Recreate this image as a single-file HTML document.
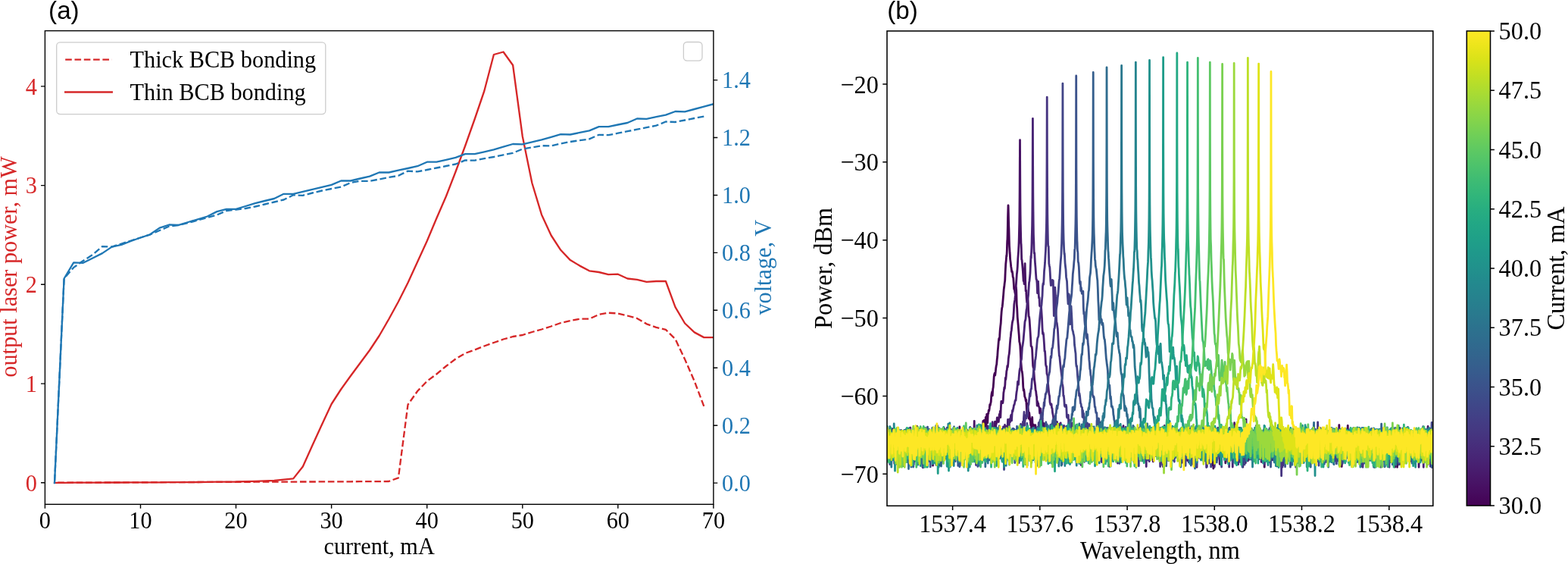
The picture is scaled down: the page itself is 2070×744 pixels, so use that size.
<!DOCTYPE html>
<html><head><meta charset="utf-8"><title>Figure</title>
<style>html,body{margin:0;padding:0;background:#fff;}svg{display:block;}.s{font-family:'Liberation Serif','Times New Roman',serif;}.a{font-family:'Liberation Sans',Arial,sans-serif;}</style>
</head><body>
<svg width="2070" height="744" viewBox="0 0 2070 744">
<defs><clipPath id="ca"><rect x="59.4" y="40.6" width="882.5" height="624.6999999999999"/></clipPath>
<clipPath id="cb"><rect x="1171.0" y="40.9" width="720.8" height="626.4"/></clipPath>
<linearGradient id="vg" x1="0" y1="0" x2="0" y2="1"><stop offset="0.000" stop-color="#fde725"/><stop offset="0.031" stop-color="#ece51b"/><stop offset="0.062" stop-color="#d8e219"/><stop offset="0.094" stop-color="#c2df23"/><stop offset="0.125" stop-color="#addc30"/><stop offset="0.156" stop-color="#98d83e"/><stop offset="0.188" stop-color="#84d44b"/><stop offset="0.219" stop-color="#70cf57"/><stop offset="0.250" stop-color="#5ec962"/><stop offset="0.281" stop-color="#4ec36b"/><stop offset="0.312" stop-color="#3fbc73"/><stop offset="0.344" stop-color="#32b67a"/><stop offset="0.375" stop-color="#28ae80"/><stop offset="0.406" stop-color="#22a785"/><stop offset="0.438" stop-color="#1fa088"/><stop offset="0.469" stop-color="#1f988b"/><stop offset="0.500" stop-color="#21918c"/><stop offset="0.531" stop-color="#23898e"/><stop offset="0.562" stop-color="#26828e"/><stop offset="0.594" stop-color="#297a8e"/><stop offset="0.625" stop-color="#2c728e"/><stop offset="0.656" stop-color="#2f6b8e"/><stop offset="0.688" stop-color="#33638d"/><stop offset="0.719" stop-color="#375b8d"/><stop offset="0.750" stop-color="#3b528b"/><stop offset="0.781" stop-color="#3e4989"/><stop offset="0.812" stop-color="#424086"/><stop offset="0.844" stop-color="#453781"/><stop offset="0.875" stop-color="#472d7b"/><stop offset="0.906" stop-color="#482374"/><stop offset="0.938" stop-color="#48186a"/><stop offset="0.969" stop-color="#470d60"/><stop offset="1.000" stop-color="#440154"/></linearGradient></defs>
<rect width="2070" height="744" fill="#fff"/>
<path d="M72 636.8 L84.6 636.7 L97.2 636.7 L109.8 636.6 L122.4 636.6 L135 636.5 L147.7 636.5 L160.3 636.4 L172.9 636.4 L185.5 636.3 L198.1 636.2 L210.7 636.2 L223.3 636.1 L235.9 636.1 L248.5 636 L261.1 636 L273.7 635.9 L286.3 635.9 L298.9 635.8 L311.5 635.8 L324.1 635.8 L336.8 635.7 L349.4 635.7 L362 635.6 L374.6 635.6 L387.2 635.6 L399.8 635.5 L412.4 635.5 L425 635.4 L437.6 635.4 L450.2 635.3 L462.8 635.3 L475.4 635.2 L488 635.1 L500.6 635.1 L513.3 635 L525.9 630.3 L538.5 533.8 L551.1 516 L563.7 502.8 L576.3 493.5 L588.9 483 L601.5 473.5 L614.1 466 L626.7 461.5 L639.3 456.5 L651.9 452 L664.5 447.5 L677.1 444 L689.8 442 L702.4 438 L715 434.5 L727.6 430.5 L740.2 426 L752.8 423 L765.4 420.7 L778 420.7 L790.6 414.9 L803.2 412.7 L815.8 413.5 L828.4 416.5 L841 420 L853.6 427.3 L866.3 431.8 L878.9 434.9 L891.5 447.3 L904.1 473.9 L916.7 502.7 L929.3 536" fill="none" stroke="#d62728" stroke-width="2.33" stroke-linejoin="round" stroke-dasharray="8.6 3.7" stroke-linecap="butt" stroke-dashoffset="8.15" clip-path="url(#ca)"/>
<path d="M72 636.8 L84.6 636.8 L97.2 636.7 L109.8 636.6 L122.4 636.6 L135 636.6 L147.7 636.5 L160.3 636.5 L172.9 636.4 L185.5 636.4 L198.1 636.3 L210.7 636.3 L223.3 636.2 L235.9 636.2 L248.5 636.1 L261.1 636 L273.7 635.9 L286.3 635.7 L298.9 635.6 L311.5 635.5 L324.1 635.1 L336.8 634.8 L349.4 634.4 L362 634 L374.6 632.7 L387.2 631.4 L399.8 615.5 L412.4 587.5 L425 560 L437.6 533 L450.2 513.5 L462.8 496 L475.4 479 L488 462 L500.6 443 L513.3 421 L525.9 398 L538.5 373 L551.1 345.5 L563.7 318 L576.3 288 L588.9 259 L601.5 226.5 L614.1 192.5 L626.7 157 L639.3 120 L651.9 72 L664.5 68.5 L677.1 86 L689.8 180 L702.4 241.5 L715 283.2 L727.6 310.5 L740.2 329.8 L752.8 343.1 L765.4 350.6 L778 357.3 L790.6 359 L803.2 362.2 L815.8 361.7 L828.4 367.5 L841 368.8 L853.6 371.9 L866.3 371 L878.9 371 L891.5 405.2 L904.1 426.5 L916.7 438.4 L929.3 445.1 L941.9 445.1" fill="none" stroke="#d62728" stroke-width="2.33" stroke-linejoin="round" stroke-linecap="square" clip-path="url(#ca)"/>
<rect x="74.7" y="55.8" width="355.1" height="94.8" rx="4.5" fill="#fff" fill-opacity="0.8" stroke="#cccccc" stroke-width="1.3"/>
<line x1="86.2" y1="78.6" x2="147.8" y2="78.6" stroke="#d62728" stroke-width="2.33" stroke-dasharray="8.6 3.7"/>
<line x1="86.2" y1="121.5" x2="147.8" y2="121.5" stroke="#d62728" stroke-width="2.33" stroke-linecap="square"/>
<text class="s" transform="translate(171.5 89.2) scale(1 1.07)" font-size="30.3">Thick BCB bonding</text>
<text class="s" transform="translate(171.5 131.8) scale(1 1.07)" font-size="30.3">Thin BCB bonding</text>
<path d="M72 637.1 L84.6 367.5 L97.2 352.9 L109.8 344 L122.4 336 L135 325.1 L147.7 325.6 L160.3 321.5 L172.9 317.5 L185.5 313.5 L198.1 309.5 L210.7 304 L223.3 298.5 L235.9 297 L248.5 294 L261.1 290.5 L273.7 287 L286.3 283.5 L298.9 278 L311.5 276.5 L324.1 275 L336.8 272.5 L349.4 269.5 L362 266.5 L374.6 263.5 L387.2 257.3 L399.8 257.8 L412.4 254.5 L425 251.5 L437.6 249 L450.2 246.5 L462.8 241.1 L475.4 238.8 L488 238.8 L500.6 236.5 L513.3 234 L525.9 231.8 L538.5 225.6 L551.1 226.4 L563.7 224 L576.3 221.5 L588.9 219 L601.5 216.5 L614.1 211.4 L626.7 211.7 L639.3 209.1 L651.9 207 L664.5 204.4 L677.1 201.8 L689.8 196.6 L702.4 194.4 L715 192.2 L727.6 192.5 L740.2 189.5 L752.8 187 L765.4 185.2 L778 183.4 L790.6 177.8 L803.2 178.2 L815.8 175.7 L828.4 173.2 L841 170.7 L853.6 168.2 L866.3 165.7 L878.9 160.5 L891.5 161 L904.1 158.5 L916.7 156 L929.3 153.6" fill="none" stroke="#1f77b4" stroke-width="2.33" stroke-linejoin="round" stroke-dasharray="8.6 3.7" stroke-linecap="butt" stroke-dashoffset="9.50" clip-path="url(#ca)"/>
<path d="M72 637.1 L84.6 367.5 L97.2 346.3 L109.8 346.8 L122.4 340.5 L135 334.1 L147.7 325.6 L160.3 322.8 L172.9 318 L185.5 313.5 L198.1 309.3 L210.7 300.6 L223.3 296.5 L235.9 296.8 L248.5 293 L261.1 289.3 L273.7 285.5 L286.3 279.1 L298.9 275.8 L311.5 275.8 L324.1 272 L336.8 268.2 L349.4 265 L362 262 L374.6 255.8 L387.2 255.8 L399.8 252.8 L412.4 249.9 L425 246.9 L437.6 243.9 L450.2 238.5 L462.8 238.5 L475.4 235.5 L488 232.6 L500.6 227.5 L513.3 227.5 L525.9 224.7 L538.5 222 L551.1 219.2 L563.7 213.7 L576.3 213.7 L588.9 210.8 L601.5 207.9 L614.1 203.2 L626.7 203.2 L639.3 200.3 L651.9 197.4 L664.5 193.7 L677.1 190 L689.8 190.4 L702.4 187.4 L715 184.4 L727.6 180.8 L740.2 177.2 L752.8 177.5 L765.4 174.9 L778 172.3 L790.6 167.1 L803.2 167.1 L815.8 164.5 L828.4 162 L841 156.5 L853.6 156.8 L866.3 154.2 L878.9 151.7 L891.5 147 L904.1 147.3 L916.7 144 L929.3 140.6 L941.9 137.2 L954.5 133.8" fill="none" stroke="#1f77b4" stroke-width="2.33" stroke-linejoin="round" stroke-linecap="square" clip-path="url(#ca)"/>
<rect x="902.4" y="55.5" width="24.6" height="24.6" rx="4.5" fill="#fff" fill-opacity="0.8" stroke="#cccccc" stroke-width="1.3"/>
<rect x="59.4" y="40.6" width="882.5" height="624.6999999999999" fill="none" stroke="#000" stroke-width="1.4" stroke-linejoin="miter"/>
<path d="M59.4 665.3 v5.4 M185.5 665.3 v5.4 M311.5 665.3 v5.4 M437.6 665.3 v5.4 M563.7 665.3 v5.4 M689.8 665.3 v5.4 M815.8 665.3 v5.4 M941.9 665.3 v5.4 M59.4 636.8 h-5.4 M59.4 506.1 h-5.4 M59.4 375.3 h-5.4 M59.4 244.6 h-5.4 M59.4 113.9 h-5.4 M941.9 637.1 h5.4 M941.9 561.2 h5.4 M941.9 485.2 h5.4 M941.9 409.3 h5.4 M941.9 333.4 h5.4 M941.9 257.5 h5.4 M941.9 181.5 h5.4 M941.9 105.6 h5.4" stroke="#000" stroke-width="1.4" fill="none"/>
<text class="s" transform="translate(59.4 697.3) scale(1 1.07)" font-size="30.3" text-anchor="middle">0</text>
<text class="s" transform="translate(185.5 697.3) scale(1 1.07)" font-size="30.3" text-anchor="middle">10</text>
<text class="s" transform="translate(311.5 697.3) scale(1 1.07)" font-size="30.3" text-anchor="middle">20</text>
<text class="s" transform="translate(437.6 697.3) scale(1 1.07)" font-size="30.3" text-anchor="middle">30</text>
<text class="s" transform="translate(563.7 697.3) scale(1 1.07)" font-size="30.3" text-anchor="middle">40</text>
<text class="s" transform="translate(689.8 697.3) scale(1 1.07)" font-size="30.3" text-anchor="middle">50</text>
<text class="s" transform="translate(815.8 697.3) scale(1 1.07)" font-size="30.3" text-anchor="middle">60</text>
<text class="s" transform="translate(941.9 697.3) scale(1 1.07)" font-size="30.3" text-anchor="middle">70</text>
<text class="s" transform="translate(49 647.6) scale(1 1.07)" font-size="30.3" text-anchor="end" fill="#d62728">0</text>
<text class="s" transform="translate(49 516.9) scale(1 1.07)" font-size="30.3" text-anchor="end" fill="#d62728">1</text>
<text class="s" transform="translate(49 386.1) scale(1 1.07)" font-size="30.3" text-anchor="end" fill="#d62728">2</text>
<text class="s" transform="translate(49 255.4) scale(1 1.07)" font-size="30.3" text-anchor="end" fill="#d62728">3</text>
<text class="s" transform="translate(49 124.7) scale(1 1.07)" font-size="30.3" text-anchor="end" fill="#d62728">4</text>
<text class="s" transform="translate(953 647.9) scale(1 1.07)" font-size="30.3" fill="#1f77b4">0.0</text>
<text class="s" transform="translate(953 572) scale(1 1.07)" font-size="30.3" fill="#1f77b4">0.2</text>
<text class="s" transform="translate(953 496) scale(1 1.07)" font-size="30.3" fill="#1f77b4">0.4</text>
<text class="s" transform="translate(953 420.1) scale(1 1.07)" font-size="30.3" fill="#1f77b4">0.6</text>
<text class="s" transform="translate(953 344.2) scale(1 1.07)" font-size="30.3" fill="#1f77b4">0.8</text>
<text class="s" transform="translate(953 268.3) scale(1 1.07)" font-size="30.3" fill="#1f77b4">1.0</text>
<text class="s" transform="translate(953 192.3) scale(1 1.07)" font-size="30.3" fill="#1f77b4">1.2</text>
<text class="s" transform="translate(953 116.4) scale(1 1.07)" font-size="30.3" fill="#1f77b4">1.4</text>
<text class="s" transform="translate(500.6 730.7) scale(1 1.07)" font-size="30.3" text-anchor="middle">current, mA</text>
<text class="s" transform="translate(21.5 352) rotate(-90) scale(1 1.07)" font-size="30.3" text-anchor="middle" fill="#d62728">output laser power, mW</text>
<text class="s" transform="translate(1018.2 352.8) rotate(-90) scale(1 1.07)" font-size="30.3" text-anchor="middle" fill="#1f77b4">voltage, V</text>
<text class="a" transform="translate(64.1 24.8)" font-size="33.2">(a)</text>
<path d="M1169.5 593.2l.3-17 .4 25 .3-34.7 .3 9.7 .4 16.9 .3-20 .3-1.5 .4 .5 .3 5.5 .3 17.6 .4-5.5 .3-20.4 .3 12.6 .4 7.4 .3-5 .3 16 .4-15.3 .3-7.5 .3 28.4 .4-36.1 .3 21.8 .3-18.9 .4 3.5 .3-5.9 .3 6.6 .4 26.9 .3-8.5 .3-17.5 .4 12.8 .3-18.1 .3 28.4 .4-26 .3 9 .3-7.6 .4-2.1 .3 31.3 .3-18.2 .4-10.7 .3 1.7 .3 18.9 .4-11 .3-5.7 .3 4.2 .4-8.9 .3-5.2 .3 5.3 .4 20.1 .3-4.2 .3-16.5 .4-1.7 .3 14.6 .3-1.9 .4 22.4 .3-36.3 .3 7.3 .4 6 .3-10.6 .3 1.3 .4-4.7 .3 19 .3-13 .4 14.9 .3-13.8 .3 6.8 .4 12.2 .3-5.8 .3-16.1 .4 13 .3-9.2 .3 29.8 .4-32.6 .3 27.7 .3-19.1 .4-7.6 .3-10.4 .3 9.8 .4 13.6 .3-5.5 .3 5.5 .4-14.3 .3 6.7 .3-9.2 .4 1.1 .3 13.9 .3-11.5 .4-1.7 .3 19.7 .3-5 .4-13.1 .3 4.6 .3-7.6 .4 1 .3 9.6 .3-11.8 .4 .2 .3 1.2 .3-10.5 .4 23.8 .3 11.6 .3-25.8 .4 13.1 .3 .5 .3-14.4 .4 10.6 .3 25.8 .3-37.6 .4 29.2 .3-10.7 .3-13.4 .4-4.2 .3 4.3 .3-2.7 .4 20.7 .3-17.6 .3 6.3 .4-8.2 .3 .4 .3 14.4 .4-4 .3-16.4 .3 4.4 .4-.1 .3-11.8 .3 14.5 .4 21.3 .3-14 .3-2.8 .4-3.5 .3 28.8 .3-35.8 .4 16.3 .3-12.6 .3 33.2 .4-31.2 .3 13.2 .3-17.3 .4 16.2 .3-16.5 .3 0 .4 20.8 .3-1.6 .3-3.2 .4-9.1 .3-2 .3 14.2 .4-6.6 .3-4.3 .3 12.7 .4-3.1 .3-13 .3-1.1 .4-2.4 .3 14.5 .3-16 .4-1.1 .3 5.6 .3 1.6 .4-2.6 .3 8 .3-4.7 .4 9.6 .3-6.6 .3-.7 .4-1.3 .3-2.5 .3-4.3 .4 .2 .3 21.9 .3-17.2 .4 1.2 .3-5.2 .3-1.4 .4 9.9 .3 1.1 .3 19.9 .4-34.8 .3 7.2 .3 2.6 .4 16.2 .3-15.4 .3 4.4 .4 4.6 .3-7.5 .3 18 .4-10.2 .3 25.7 .3-37.1 .4-7.8 .3 33 .3-26.4 .4 3.6 .3 5.7 .3-11 .4 22.5 .3-19.9 .3 8.7 .4-4 .3 19.6 .3-19.5 .4-5.6 .3 2.6 .3 24.4 .4-29.9 .3 3.5 .3 .3 .4-2.2 .3 11.4 .3-12.9 .4 3.3 .3 6.6 .3-3.5 .4-5.7 .3-7.1 .3 19.1 .4 28.2 .3-37.4 .3 13.3 .4-7.6 .3 2.9 .3-9.6 .4 2 .3 11.9 .3-6.2 .4 5.6 .3-6.4 .3-1.5 .4-7.1 .3 23 .3-25.1 .4 20.6 .3-16.9 .3-10.2 .4 14.7 .3-8.8 .3 5.2 .4 7.7 .3-13 .3 25.5 .4-22 .3 6 .3-7.1 .4-.4 .3-9.1 .3 14.1 .4-6 .3 21.3 .3-20.8 .4-1.2 .3 12.8 .3-7.9 .4-10.9 .3 5.2 .3 5.7 .4 3.3 .3 1.8 .3 7.5 .4 10.9 .3-29.6 .3 1 .4 1.7 .3 8.6 .3-9.6 .4-1.7 .3 7 .3-2.4 .4 18 .3-17.3 .3-6.9 .4 2.8 .3 .4 .3 2.1 .4 9.1 .3 6.9 .3-4.1 .4-8 .3 2.7 .3-7.3 .4 20.5 .3-20.1 .3 21.5 .4-16.9 .3 .8 .3-6.6 .4 8.6 .3-2.1 .3-3.4 .4 9.2 .3-13.6 .3 9.9 .4-4.1 .3-5.3 .3-8.7 .4 15.9 .3-7 .3 1.6 .4 6.7 .3-11.2 .3 14 .4-13.5 .3 1.6 .3 4.8 .4 3.6 .3-6.5 .3 27.5 .4-6.9 .3-23.6 .3 14.4 .4-10.9 .3-1.3 .3 14.5 .4-15.7 .3 22.1 .3-16.2 .4 1.4 .3 23.4 .3-31.5 .4 24.7 .3-3.9 .3-18.7 .4 19.7 .3-16.7 .3 7.8 .4 .2 .3 5.1 .3-6.4 .4-5.4 .3-2.4 .3 12 .4-14.9 .3 5.8 .3-4.6 .4 11.3 .3 7.8 .3-27.9 .4 19.9 .3-15.3 .3 3.6 .4 3.9 .3 5.1 .3-.6 .4-11 .3 13.5 .3-11 .4 6.8 .3-.2 .3 1.5 .4 8.1 .3-17.6 .3-1.2 .4 1.6 .3 12.9 .3-2.6 .4 1.1 .3-12.7 .3 8.8 .4 1.1 .3-7.8 .3-.2 .4 .6 .3-3.1 .3 13.6 .4-17.3 .3 12.5 .3 3.8 .4-16.2 .3 16.1 .3-10.9 .4 10.1 .3-17.1 .3 3.5 .4-3.9 .3 7.1 .3 12.5 .4-21.8 .3 1 .3 5.8 .4-2.2 .3 4.6 .3 11.4 .4-11.5 .3 6.9 .3-12.7 .4 .3 .3-4.2 .3-4.8 .4 2.8 .3 5.3 .3 2.6 .4-11.8 .5 22.5 .5-5.6 .5-1.2 .5-19.6 .5 17.5 .5-14.5 .5-7.2 .5 2.8 .5 8.8 .5-12.2 .5 .1 .5-4.6 .5 .9 .5-3.1 .5-5.4 .5 1.2 .5-2.6 .5-2.1 .5-7.7 .5-3.6 .5-2.1 .5 5.2 .5-8.4 .5-2.7 .5-6.7 .5-7.6 .5-2.9 .5-1.5 .5 3.1 .5-4.1 .5-5.1 .5-3.5 .5-1.8 .5-6.5 .5-3.7 .5-7.8 .5-5 .5-6.4 .5-4.6 .5 2 .5-5.3 .5-8 .5-4.9 .5-4 .5-8.9 .5-6.8 .5-4.3 .5-2 .5-4.9 .5-5.8 .5-5.8 .5-6.5 .5-3.2 .5-4.7 .5-3.5 .5-11.9 .5-9.7 .5-4.9 .5-6.7 .2 1.2 .2-3.6 .2-3.8 .2-7.5 .2-5.2 .2-2.2 .2-6.4 .2-9.9 .2-11.8 .2-6.8 .2-6.8 .1-3.3 .1 1.6 .2 7.6 .2 10.3 .2 7.3 .2 4.2 .2 7.9 .2 8.2 .2 6.7 .2 2.6 .2 3.1 .2 3.7 .2 1.6 .2 4.9 .2 2.1 .5 3.8 .5 5.1 .5 3.1 .5 3.9 .5-.6 .5 2.7 .5 5 .5 .8 .5 7.1 .5 7.8 .5-.5 .5 4.1 .5 2.5 .5-8.1 .5-.4 .5 3.5 .5 18.6 .5 6 .5 11.1 .5 5.9 .5 5.4 .5 6.7 .5 5.9 .5 8.7 .5 1.8 .5 3.2 .5 8.6 .5 11.4 .5 5.9 .5 6.7 .5 1.6 .5 3.2 .5 5.8 .5 10.9 .5 5.2 .5-1.4 .5 4 .5 5.4 .5 1.1 .5 1.4 .5 3.2 .5-1.3 .5 8.8 .5 11 .5-14.8 .5 4.5 .5 2.2 .5 4.5 .5 8.5 .5-7.7 .5 4.5 .5 4.9 .5-1.3 .5 8.3 .5-6.8 .5 18.5 .5-15.2 .5-6.8 .5 15.5 .3-1.9 .3-.6 .4-3.5 .3 15.2 .3-2.1 .4-4.4 .3 1.3 .3 9.3 .4-17 .3 1 .3-2.7 .4 5.4 .3 12 .3 2 .4-4 .3 10.5 .3-9.9 .4-9.5 .3 2.7 .3 3.8 .4 4.7 .3-13.9 .3 .8 .4 2.7 .3-9 .3 19.4 .4-12.3 .3 1.7 .3 10.8 .4 1.1 .3-1.9 .3 2.1 .4-12.4 .3 10.1 .3 18.8 .4-29.7 .3 5 .3 3.2 .4 3.8 .3-7.4 .3 7.6 .4-5.8 .3-4.5 .3 5.4 .4-2.1 .3 1.1 .3 1 .4 11.3 .3-16 .3 14.2 .4-9 .3 19.6 .3-17.7 .4-2.5 .3 11.6 .3-1.7 .4-16.9 .3 3.9 .3 13.1 .4-20.1 .3 11.7 .3-3.9 .4 11 .3-9 .3-.4 .4 3.7 .3 5.1 .3-15.1 .4 12.8 .3-9.2 .3 8.8 .4 5.3 .3-10 .3 22.7 .4-14.7 .3-8.5 .3 22.8 .4-10.5 .3-8.7 .3-3.1 .4-4.3 .3 1.2 .3 4.8 .4 25.5 .3-26.4 .3 .8 .4 3.5 .3-4 .3 15.1 .4-18.3 .3 3.9 .3 17.6 .4-16.1 .3-4.1 .3 3.2 .4 2.5 .3-7.2 .3 4.5 .4 3 .3-3 .3 2.7 .4 5.1 .3-1.8 .3-8.9 .4 .1 .3 2.9 .3 16.8 .4-16.7 .3-3.3 .3-.8 .4 19.1 .3-18 .3 .1 .4 0 .3-4.9 .3 43.7 .4-26.5 .3 2.4 .3-2.4 .4-9.3 .3-6.3 .3 8.3 .4-2.3 .3 5.7 .3-9.7 .4 12 .3-7.8 .3-3.6 .4 7.2 .3 16.4 .3 .2 .4-9.9 .3-18.5 .3 17.3 .4-10.6 .3-3 .3 12.2 .4-8.7 .3 9.8 .3-11.2 .4-.4 .3 18.3 .3-15.7 .4 7 .3-9.4 .3-2.1 .4 5.4 .3 12 .3-.2 .4-17.6 .3 1.9 .3 1.4 .4 3.6 .3-2.1 .3-2.2 .4-1.1 .3-6.6 .3 6.3 .4 4 .3-10.9 .3 38.2 .4-21.6 .3-10.8 .3 5.5 .4-3.7 .3 1.2 .3-6.5 .4 9.8 .3-11.2 .3 17.6 .4 3.3 .3 2.2 .3-6.1 .4 14.3 .3-21.9 .3-3 .4 6.7 .3 10.2 .3-8.6 .4-4.7 .3 15.9 .3-15 .4-10.7 .3 11.6 .3 5.1 .4 5.6 .3-18 .3 12 .4-5.9 .3-10.2 .3 13.3 .4-6.2 .3 .4 .3 9.3 .4 5.7 .3-22.4 .3 3.4 .4 7 .3-12.6 .3 17.1 .4 8.9 .3 0 .3-14.5 .4-1.3 .3 7.4 .3-.5 .4 8.8 .3 1.5 .3-4.8 .4-15.2 .3 5.2 .3-.8 .4 8.8 .3-13.3 .3 2.8 .4-1.8 .3 10.5 .3-.4 .4-14.8 .3 .4 .3 4.3 .4-3.7 .3 7.3 .3 20.1 .4-18.7 .3 18.4 .3-.1 .4-18.3 .3 14.4 .3-9 .4-14.3 .3 8.1 .3 6.4 .4-9 .3 2.2 .3 7.6 .4 11.4 .3-21.8 .3 3.9 .4 8.3 .3 2 .3-9.7 .4 9.3 .3 1.6 .3-13.8 .4 9.7 .3-10.9 .3-1.7 .4 11.1 .3-4.4 .3 .2 .4 3.6 .3-7.2 .3 9.5 .4 1.3 .3 7.1 .3-16.8 .4-1.8 .3-1.8 .3 7.6 .4 2.8 .3 14.4 .3-21 .4-2.7 .3 1.3 .3 1.8 .4-21.2 .3 23.1 .3 12.7 .4-8.5 .3-8.2 .3 2 .4-11.7 .3 12.6 .3-3.9 .4 12.6 .3 5.1 .3-18.6 .4-10.5 .3 37.7 .3-25.7 .4-.5 .3-5.1 .3 8.1 .4 8.1 .3-4.3 .3-7.1 .4 18.7 .3-17.3 .3 3.2 .4 6.6 .3 8.1 .3-13.6 .4-7.3 .3 2.1 .3-2.7 .4 28.5 .3-25.2 .3 9.6 .4-12.1 .3 4.1 .3-8.5 .4 18.5 .3-10.1 .3 37.7 .4-47.3 .3 24.3 .3-13.3 .4-2.2 .3-7.3 .3 16.4 .4-12.9 .3 19.3 .3-20.5 .4 4.7 .3-3.1 .3 1.5 .4 4.8 .3 2.8 .3-8.3 .4-.1 .3-2.3 .3 3.2 .4 3.6 .3-6 .3 9.1 .4-.7 .3-5.3 .3-11.4 .4 12.8 .3 5.3 .3-13.3 .4 26.4 .3-.7 .3-19.6 .4 12.3 .3-5 .3-9.6 .4 .4 .3 5.8 .3-3.3 .4 35 .3-37.2 .3-3.5 .4 17.9 .3 20.5 .3-30.9 .4-5 .3 10.6 .3-11.5 .4 3.6 .3 2.8 .3-3.3 .4-2.4 .3 4.8 .3 17.5 .4 4.4 .3 4.1 .3-4.9 .4-26.3 .3 2.2 .3 19 .4-20.4 .3 19.8 .3-16.1 .4 .9 .3 9.8 .3-5.4 .4 6.3 .3-7.5 .3-6.6 .4 17.2 .3-15.5 .3 18.1 .4-23.7 .3 23.6 .3 3.4 .4-13.6 .3 .1 .3-.6 .4-5.4 .3 22.2 .3-28.7 .4 17.4 .3-4.2 .3 4.4 .4-5.3 .3-10.6 .3 7.4 .4-4 .3-11.4 .3 7.7 .4 3.1 .3 21.1 .3-22.2 .4-.9 .3 5.4 .3 21 .4-18.2 .3 8.3 .3-17.5 .4 3.9 .3 .7 .3 12.4 .4-1.4 .3-13.7 .3-.3 .4-3 .3 6 .3 1.4 .4-3.2 .3 16 .3-10 .4 4.8 .3-12.1 .3 21.8 .4-19.5 .3 3 .3-2.9 .4 4.5 .3-3.9 .3 5.7 .4 11.6 .3-15.9 .3-6.4 .4 7.8 .3-.3 .3-2 .4-1 .3 1.8 .3 20.6 .4-25.2 .3-4 .3 19.9 .4-3.4 .3-9.3 .3 6 .4 22.7 .3-37.5 .3 22.5 .4-19.1 .3 11.7 .3 2.1 .4 10.7 .3-16.5 .3-2 .4-6.1 .3 6.8 .3 1.9 .4-2 .3 10.6 .3-13.8 .4-2.4 .3 5.7 .3-1.8 .4 1.3 .3 7.4 .3-14.8 .4 20.2 .3-16 .3-.6 .4 17.7 .3-17.2 .3 24.4 .4-25 .3 25.7 .3-27.4 .4 5.5 .3 25.2 .3-7 .4-5.8 .3-2.3 .3-11.8 .4 9.3 .3-6.6 .3 15.8 .4-10.9 .3-3.6 .3-15.6 .4 13.2 .3 13.4 .3-13.6 .4-6 .3-5.3 .3 16.8 .4-9.1 .3 25.9 .3-22.6 .4-2.9 .3 11.3 .3-14.8 .4 9.2 .3-1.6 .3 14.5 .4-13.9 .3-1.2 .3-7.7 .4 8.6 .3 .7 .3-4.8 .4 1.5 .3 7.1 .3 1.5 .4-20 .3 5.7 .3 21.8 .4-19.6 .3 17 .3-11.5 .4 .4 .3 1.8 .3-.4 .4 3 .3-7 .3-3.5 .4-1.8 .3 45.2 .3-45.8 .4 13.9 .3 17 .3-20.4 .4-13.8 .3 4.1 .3 .8 .4 16.7 .3-18.6 .3-.3 .4 .4 .3 2.8 .3 9.4 .4 6.3 .3-.5 .3-9.3 .4-.1 .3 2.9 .3 5.4 .4 16.5 .3-18.5 .3-4.4 .4-4.8 .3-3.2 .3 4.3 .4-1.8 .3 2 .3 1.9 .4 13.3 .3-2.6 .3-10.3 .4 16.9 .3-22 .3 7 .4-2.8 .3 4.3 .3 6.9 .4-4.9 .3-8.9 .3 0 .4 5.6 .3 3.1 .3-6 .4 16.1 .3-12 .3 13.7 .4-8 .3-13.8 .3 3.6 .4 16.3 .3-4.7 .3-11.3 .4 17.1 .3-16.2 .3-7.8 .4 6.6 .3-4.8 .3 5.8 .4-7.6 .3 7.2 .3 .5 .4-6.1 .3 13.3 .3-2.6 .4 1.8 .3-7.2 .3 5 .4-14.2 .3 28.7 .3-21.6 .4 14.6 .3-12 .3-5.8 .4 15 .3 22.5 .3-34.2 .4-3.9 .3 7.5 .3 7.8 .4-.5 .3-9.5 .3 9.5 .4 16.5 .3-14.9 .3-8 .4 0 .3-2.6 .3-2.8 .4-5 .3 25.8 .3-20.4 .4 6.3 .3-.9 .3 20.6 .4-27 .3 32.9 .3-22.3 .4-17 .3 16.7 .3-10 .4 15.2 .3 1.3 .3-15.3 .4-.5 .3 9.8 .3 6.4 .4-5.8 .3-5.4 .3 10.6 .4-18.1 .3 14.7 .3-2.8 .4 5 .3 6.9 .3-20.4 .4 12.1 .3-11.6 .3 2.7 .4-15 .3 10.2 .3-7.3 .4 38.9 .3-28.4 .3-3 .4 18.1 .3-16.2 .3 10.6 .4-16.8 .3 11.3 .3-.9 .4-18.8 .3 19.3 .3 12.8 .4-17.8 .3 13.3 .3 7.6 .4-20.3 .3-1.4 .3 22.9 .4-16.4 .3 18.8 .3-19 .4-9 .3 2.9 .3 20.5 .4-11.3 .3 7.2 .3 12.6 .4-29.7 .3-8.8 .3 25.8 .4 9.9 .3-15.1 .3-10.4 .4-1.2 .3-.6 .3-8.8 .4 22.4 .3-11.4 .3-11.5 .4 10.9 .3 1.1 .3-2.3 .4 6 .3-3.1 .3 29.2 .4-12.6 .3 2.6 .3-21.8 .4 21.5 .3-20.3 .3-10.5 .4 8.1 .3 28.8 .3-26.5 .4-5.6 .3 16.6 .3-15.2 .4 29.2 .3-7.2 .3-21.2 .4 22.9 .3-25.1 .3 14.2 .4-8.4 .3 3.4 .3 12.8 .4-22.8 .3 9.1 .3-5.6 .4 25.1 .3 14.5 .3-33.5 .4-.1 .3 2.8 .3-6.8 .4 1.5 .3 25.2 .3 15.4 .4-28.5 .3-8.7 .3 1.8 .4-4.8 .3 34.4 .3-37.6 .4 7.6 .3-4.1 .3-6.4 .4 4.7 .3 11.3 .3-2.5 .4-12.9 .3 6 .3-3.1 .4 4.5 .3-10.6 .3-4.7 .4 18.6 .3-3.2 .3 3.6 .4 7 .3-23.7 .3 2.8 .4 42.8 .3-21.8 .3-17 .4 4.3 .3-5.5 .3 13.9 .4-16 .3 28.3 .3-22.1 .4 8.5 .3-6.4 .3-3.7 .4 8.8 .3-.4 .3 2.4 .4-16.2 .3 29.6 .3-16.8 .4-8.2 .3 20.8 .3 3.8 .4-21.7 .3 27.2 .3 6.8 .4-32.6 .3 5.3 .3-9.1 .4 16.1 .3-16.1 .3 11.6 .4 7.6 .3-20.9 .3-.5 .4 19.4 .3-7.2 .3-5.8 .4-6.6 .3 8.3 .3 4.5 .4-14 .3-2.9 .3 30 .4-4.9 .3-5.7 .3-13.8 .4-.5 .3 18.6 .3-19.8 .4 3.7 .3-1.7 .3 1.6 .4 14.8 .3 2.1 .3-20.8 .4 17.1 .3-20.9 .3 5.9 .4 7.2 .3-7.7 .3 .1 .4-5.3 .3 9 .3 1.5 .4-.6 .3 15.1 .3-16.5 .4 11.7 .3-9.9 .3-2.8 .4 2.2 .3 17.4 .3-21.8 .4 3.9 .3 11.6 .3-10.2 .4-8.5 .3 10.3 .3-.2 .4-5.3 .3-1 .3 5.8 .4 16.2 .3-12.4 .3 9.3 .4-27.3 .3 10 .3 5.7 .4 26.2 .3-20.8 .3-14.3 .4 3.9 .3 6.2 .3 33.8 .4-35.7 .3 6.4 .3-13.6 .4 8.3 .3-4.9 .3-3.9 .4 14.6 .3 7.8 .3-5.8 .4-13.2 .3-7.8 .3 6.1 .4 12.8 .3-19.8 .3 16 .4-7.3 .3 4.9 .3-8 .4 15 .3-9.8 .3-4.5 .4-5 .3 9 .3-.7 .4 21.3 .3-21.4 .3 15.6 .4-7.7 .3 .7 .3-2 .4-8.9 .3 12 .3-11.9 .4 4.8 .3 5.6 .3-5.6 .4-1.3 .3-.7 .3 12.1 .4-12 .3 5.3 .3-4 .4-9.5 .3 11.8 .3 10.3 .4-22.1 .3 4.5 .3 12.6 .4-.9 .3-.9 .3-13 .4 22.5 .3-20.5 .3 11.3 .4-.6 .3 11 .3-20.1 .4-4.1 .3 4.1 .3 11.5 .4 17.9 .3-26.1 .3-2.4 .4 20.7 .3-19.5 .3 13.1 .4 6.4 .3 .1 .3-25.4 .4 11.7 .3 15.6 .3-11.6 .4 22 .3-8.4 .3 1.2 .4-25.1 .3-4 .3 8.9 .4-9.4 .3 19.1 .3-19.9 .4 3.5 .3 1.4 .3 7.5 .4 32 .3-36.8 .3 8.1 .4-9.1 .3-2.8 .3 1.9 .4 6.1 .3-7.6 .3 4.4 .4 9.6 .3-14.2 .3 10.7 .4 3.5 .3-16.3 .3 9.9 .4-4.9 .3 18.6 .3-20 .4-9.6 .3 9.3 .3 0 .4 14.9 .3-16.9 .3 27.2 .4-6.6 .3-16.2 .3-10.5 .4 6.4 .3 12.3 .3 16.7 .4-27.4 .3 29.9 .3-1.5 .4-22.5 .3 0 .3 20.8 .4-10.3 .3-14.3 .3 8.8 .4-9.3 .3-2.7 .3-3.7 .4-1.7 .3 5.1 .3 4.4 .4 3.1 .3-16.7 .3 14.8 .4 2 .3 9 .3-21.5 .4 5.9 .3 14.8 .3 17.3 .4-16.6 .3-7 .3-4.2 .4 15.2 .3-9.5 .3-9.8 .4-4.7 .3 3.2 .3 1.6 .4-9.4 .3 12.8 .3-5.5 .4 24.1 .3-4.2 .3-8.1 .4 3.9 .3 11.3 .3-11.1 .4-7.5 .3 15 .3-23.7 .4 8.8 .3-8.2 .3 7.1 .4 4.8 .3-4.6 .3-1.6 .4 7.8 .3-11.6 .3 6.6 .4-14.2 .3 1.9 .3 16.2 .4-14.4 .3 4.5 .3 2.9 .4-8.6 .3 25.6 .3-14.9 .4-4 .3-3.9 .3 15 .4-21.2 .3 9.5 .3 10 .4-13.3 .3-.8 .3 13.2 .4-14.3 .3 14.4 .3-9.3 .4-1.5 .3 3 .3-6 .4 19.7 .3-13.3 .3 9.8 .4-21.7 .3 2.1 .3 12.6 .4-6 .3-2.4 .3 20.2 .4 13.9 .3-19 .3-5.7 .4 8.1 .3-5.5 .3-4.1 .4 3.7 .3-10.1 .3-1 .4 20.9 .3 .8 .3-21.3 .4 1.2 .3-2.9 .3 14.3 .4-12.6 .3-.9 .3 4 .4 .5 .3-4.3 .3 34 .4-31.3 .3 .6 .3-2.8 .4-1.3 .3 6.6 .3 7.4 .4 2.9 .3-16.5 .3 23 .4-7.3 .3-2.9 .3-10.8 .4 18.4 .3-7.5 .3-5.7 .4-4.7 .3 5.4 .3-9.3 .4 11.9 .3-7.1 .3-2 .4 14.2 .3-11.9 .3 5 .4 3.1 .3-2.9 .3-9 .4 24.2 .3-18.6 .3-10.6 .4 33 .3-24.4 .3-8.8 .4 9.6 .3-12.7 .3 15.4 .4-5.5 .3 5.8 .3 7.9 .4-14.5 .3 2.1 .3 21.9 .4-21.2 .3-2.6 .3-1.1 .4-.2 .3 1.5 .3-4.5 .4 23.7 .3-2.5 .3-14.1 .4-3.3 .3 1.1 .3 13.4 .4-11.4 .3-2.9 .3 7.7 .4-4.7 .3-.5 .3 4.4 .4-12.6 .3 11.1 .3 8 .4-15.3 .3 14.5 .3-14.5 .4 15.2 .3-13 .3 5.7 .4 4 .3-3.1 .3 23.6 .4-.7 .3-30.1 .3-6.5 .4 29.2 .3-8.4 .3-14 .4 7.1 .3-5.8 .3 26.7 .4-25.9 .3 14.4 .3-17 .4 7.9 .3-5.9 .3 2.4 .4 12.7 .3-20 .3 7.3 .4-2.8 .3-9 .3 10.1 .4 18.7 .3 12.2 .3-8.8 .4-22.6 .3 20.7 .3-10.8 .4-.2 .3-10.1 .3 4.1 .4 1.1 .3 9.3 .3-.6 .4 12 .3-14.8 .3-13.2 .4 15 .3-2.3 .3 13.3 .4-22.6 .3 16.9 .3-15.7 .4-5.7 .3 14.6 .3 6.2 .4-13 .3 14.7 .3-22.3 .4 32.4 .3-28.5 .3 6.7 .4 .8 .3-4.7 .3 18.7 .4-14.6 .3 9 .3-18 .4-.3 .3 15.8 .3-14 .4 18.2 .3-6.3 .3-10.2 .4-3.5 .3 10.7 .3 2.4 .4 16.9 .3-27.4 .3 3.5 .4 4 .3 4.7 .3-6.3 .4-5.9 .3 .5 .3 7.1 .4 1.5 .3-8.1 .3 12.6 .4 6.2 .3 11.2 .3-19.2 .4-17.3 .3 4.1 .3 15.1 .4-15.2 .3-2.7 .3-12.1 .4 28.8 .3-12.6 .3 31.7 .4-21.6 .3-10.3 .3-2.6 .4 7.2 .3 7.8 .3-12.1 .4 38.7 .3-21.4 .3-16.5 .4 2 .3 29.2 .3-20.5 .4-14.9 .3 32.5 .3-17.1 .4-12.5 .3 26.1 .3-29.9 .4 9.9 .3 2.6 .3-10 .4-.7 .3 1.5 .3 11.9 .4-18.9 .3 19.1 .3-8.7 .4 6.6 .3-6.5 .3 2 .4-20.1 .3 22.4 .3-10.1 .4 21.7 .3-6.1 .3-16 .4 14.9 .3 8.5 .3-5.9 .4-5.5 .3 4 .3-2.2 .4 5.5 .3-.8 .3 .7 .4-17.6 .3-1.9 .3 4.9 .4-2.8 .3 4.9 .3-5.3 .4 16.6 .3-2.3 .3-14.3 .4 21.6 .3-23.1 .3 17.6 .4-14 .3-3.4 .3 28.8 .4 11.6 .3-30.3 .3 4.3 .4-.5 .3-8.9 .3-.9 .4 6.4 .3-12 .3 3.9 .4 1.4 .3 29.9 .3-29.7 .4 18.2 .3-6.6 .3-7.7 .4-13.3 .3 10 .3 11.6 .4-15.3 .3 7.5 .3-8.9 .4 4.3 .3 10 .3 .7 .4-.8 .3-10.6 .3 5.5 .4-4.9 .3 1.3 .3 3.2 .4-1.7 .3 11.5 .3-11.4 .4-6.7 .3 3.4 .3-.5 .4-5.7 .3 22.4 .3-15.4 .4 .7 .3 6.4 .3 14.7 .4-7.4 .3-9.6 .3 6.7 .4 8.6 .3-21.8 .3 10.2 .4 24.5 .3-38.5 .3 8.3 .4 1.5 .3-14.6 .3 7.9 .4 3.6 .3 21.7 .3-15.7 .4-7.7 .3-7 .3 11.6 .4-1.9 .3-3.6 .3 1.1 .4 1 .3 7.9 .3-11 .4-.2 .3 3.3 .3 .1 .4-7.6 .3 30.4 .3 .5 .4-26.5 .3 12.9 .3-15.6 .4 20.3 .3 23.7 .3-31.9 .4 10.1 .3-25.4 .3 15.6 .4-6 .3-7.2 .3 5.7 .4-1.9 .3 19.4 .3-19.3 .4 .9 .3 3.7 .3 5.9 .4-10.6 .3 19.5 .3-8.3 .4-3.6 .3-1.1 .3-7.6 .4 5.5 .3-3.2 .3-3.2 .4 15.3 .3 2 .3-13.1 .4 .9 .3-10 .3 3 .4 11 .3-5.1 .3 23.8 .4-.7 .3-24.6 .3 .5 .4 1.8 .3-13.3 .3 7.8 .4 4.7 .3 11.5 .3-4.1 .4-5.7 .3 11.2 .3 4.7 .4-22 .3 5.7 .3 22.3 .4-9.3 .3-3.2 .3-10.1 .4 4.7 .3 7.1 .3-12.7 .4 38.3 .3-44.2 .3 2.3 .4-.3 .3 17.2 .3 3.6 .4-15.8 .3 6.6 .3-2.4 .4-6.7 .3 13.4 .3-11.8 .4 14.5 .3-17.9 .3 2.1 .4 26.9 .3-13.4 .3-9.5 .4 8.1 .3-.2 .3-22 .4 5.5 .3 13.2 .3-6.3 .4 5.4 .3 .3 .3 14 .4-27.6 .3 5.3 .3-4.9 .4 7.7 .3-13.7 .3 5.2 .4 .1 .3 30.6 .3-32.7 .4 16.3 .3 31.7 .3-43.3 .4 2.6 .3 10.8 .3-.7 .4-7 .3 5.6 .3-6.3 .4 6.2 .3-9 .3-10.7 .4 17.1 .3-4.9 .3-1.2 .4-1.8 .3 1.8 .3 1.9 .4-1.6 .3 3.1 .3 18.1 .4-21.1 .3 1.9 .3-.2 .4 .4 .3 15.2 .3-16.9 .4 2.3 .3 1.9 .3 1.9 .4 17.3 .3-12.8 .3-10.6 .4 15.8 .3-17 .3 3.6 .4-1.2 .3-2.9 .3 7.7 .4-7.6 .3-4.8 .3 8.2 .4 12.5 .3-8.5 .3-9.6 .4-.3 .3 16.4 .3-12.3 .4-4 .3 2.9 .3 17.7 .4-.1 .3-15.7 .3 18.5 .4-25.6 .3 6 .3 2.8 .4 .9 .3-2.2 .3 7 .4-7.4 .3-1 .3 15.7 .4-15.4 .3 22 .3-14.3 .4-7.6 .3 2.1 .3 4.7 .4 15 .3-28.3 .3 30.2 .4-25.8 .3 18.1 .3 6.5 .4-20.9 .3-2.2 .3 1.5 .4-3.8 .3 8.4 .3 .9 .4-2.1 .3 5.8 .3-3.9 .4 8.8 .3-6 .3-2.9 .4-4.5 .3 22.1 .3-23.5 .4-4.2 .3 5 .3 27.4 .4-29.6 .3 .8 .3-7.9 .4 23.2 .3-15.6 .3-.4 .4 20.9 .3-7 .3-4.7 .4-6.6 .3-2.8 .3 .7 .4 15.6 .3-2.9 .3-4.2 .4-13.4 .3 26.5 .3 5 .4-27.4 .3 17.5 .3-14.1 .4 18.1 .3-22.3 .3-3.7 .4 21 .3 14.9 .3-25.2 .4-5.3 .3-5.1 .3 2.2 .4 14.1 .3-11.9 .3 21.3 .4-19.7 .3-.6 .3 6 .4-7.9 .3 1.5 .3-1.8 .4 6 .3-6.7 .3 5.5 .4-4.9 .3 30.8 .3-28.6 .4-1.2 .3 41.3 .3-41.2 .4 2.2 .3-2.9 .3 2.4 .4 7.5 .3-.1 .3 16.6 .4-6.7" fill="none" stroke="#440154" stroke-width="2.8" stroke-linejoin="round" stroke-linecap="square" clip-path="url(#cb)"/>
<path d="M1169.5 577.6l.3 12.9 .4-15.1 .3 15.9 .3-21.3 .4 27.6 .3-22.6 .3-7.3 .4 13.7 .3 10.8 .3-14 .4 2 .3-8.9 .3 5.4 .4-4.6 .3 17.4 .3-13.7 .4 2.9 .3-.6 .3-13.3 .4 32.1 .3-7.2 .3-4.1 .4-11.7 .3-6.2 .3 28.2 .4-22.8 .3-7.4 .3 27.3 .4-8.8 .3-13 .3 13.8 .4-7.9 .3 10.6 .3 23.7 .4-22.8 .3 15 .3-30.4 .4 14.4 .3 9.5 .3-19.1 .4-4.4 .3 1.7 .3 8 .4-4.9 .3 19 .3 4 .4-19.7 .3-7.1 .3-1.4 .4 13.1 .3-11.1 .3 6.9 .4-4.4 .3 9.4 .3 .9 .4-7 .3 29.2 .3-5.1 .4-20.3 .3-2.8 .3 4.1 .4 8.5 .3-20.9 .3 15.2 .4-9.4 .3 2 .3-10.1 .4 1.6 .3 6.4 .3 .1 .4-2.7 .3 .9 .3-1.7 .4 6 .3-8.3 .3 23.6 .4-21 .3 3.8 .3-1.6 .4 .9 .3-8.1 .3-5.6 .4 19.9 .3-7.9 .3 4.4 .4 2 .3 5.9 .3-18.5 .4 21.6 .3-17.7 .3-5.2 .4 8.3 .3-9.8 .3 9.7 .4-5.1 .3 13.9 .3-8.8 .4 8 .3-7.9 .3 3.7 .4-6.1 .3-6.4 .3 6 .4 .6 .3 21.7 .3-27.2 .4-.2 .3 8.3 .3-8.3 .4 10.5 .3 .7 .3-9.3 .4-.6 .3 2.9 .3 14.5 .4-12.4 .3-5 .3 14.1 .4-10.3 .3 2.3 .3 3.1 .4-8.4 .3 3.2 .3 20.5 .4-18.3 .3-.5 .3 6.7 .4 4 .3-12.3 .3 10.4 .4-16.6 .3 4.9 .3-3.1 .4 17.9 .3 .7 .3-18.5 .4 5.2 .3 34.3 .3-35.3 .4-2.9 .3 15.7 .3-9.9 .4-9.1 .3 .3 .3 5.2 .4 16.7 .3-14.1 .3 10.5 .4 1.8 .3 1.1 .3-9.5 .4-13.3 .3 17.3 .3-3 .4-6 .3-3.3 .3 .8 .4 13.7 .3-11.3 .3-.9 .4-2.7 .3 4 .3-.9 .4-.4 .3-.5 .3 10.7 .4 4 .3-15.5 .3-3.8 .4 4 .3-3.4 .3 7 .4-.5 .3 2.3 .3-2.3 .4-9.1 .3 3.3 .3 9.8 .4-4.2 .3-.7 .3-3.6 .4-1.8 .3 1.6 .3 4.1 .4-1.6 .3 13.9 .3-5.3 .4-1 .3-10.2 .3-3.2 .4-.1 .3 3.4 .3 7.1 .4 2.6 .3-8.9 .3 1.9 .4 0 .3 1.2 .3-1.1 .4-3.3 .3 4.2 .3-5 .4 28.1 .3-13.1 .3-11.3 .4 2 .3 4.5 .3-4.1 .4 7.3 .3-14.9 .3 2.2 .4 3 .3 7.6 .3-7.4 .4 2 .3 9.9 .3-15.5 .4 15.9 .3 6.8 .3-20.3 .4 3 .3 10.1 .3-14.7 .4 10.6 .3-6.5 .3 4.8 .4 3.8 .3 12.5 .3-12.6 .4-14.9 .3 15.8 .3-17 .4 2.1 .3 9.9 .3 8.2 .4-13.9 .3-3.7 .3 4.4 .4 10.4 .3-9.2 .3 4.8 .4-6.5 .3-.8 .3 2.8 .4 14 .3-10.2 .3 3.7 .4 5.7 .3-9.5 .3-10.5 .4 2.9 .3 8.1 .3-13.9 .4 2.3 .3-.1 .3 9.5 .4-13.5 .3 17.5 .3 23.3 .4 2.7 .3-40.4 .3 30.6 .4-27.8 .3 13 .3 2.7 .4-13.4 .3 2.9 .3-3.5 .4 21.2 .3-19.7 .3-2.3 .4 4.1 .3 5.5 .3-6.8 .4 11.7 .3 6.2 .3-19.8 .4 3.4 .3 7.3 .3-9.8 .4-1.7 .3 .4 .3 12.1 .4-2.7 .3 11.7 .3-20.7 .4 .7 .3-6.5 .3 9.6 .4-2.2 .3 24.2 .3-25.5 .4 .8 .3 1.3 .3-.7 .4-1.4 .3 11.6 .3-3.5 .4-.4 .3 13.3 .3-17.7 .4 .3 .3 1.6 .3 13.6 .4-.9 .3 7 .3-25.4 .4 14.5 .3-5.4 .3 10.4 .4-17.9 .3 5.6 .3-6.7 .4-5.5 .3 7.2 .3 .6 .4-1.2 .3 1.2 .3-1.8 .4 3 .3-10.6 .3 29.7 .4-21.4 .3-4.9 .3 2.4 .4 3.8 .3 22.8 .3-1.4 .4 4.5 .3-19 .3-9.5 .4 12.6 .3-14.2 .3-7.4 .4 12.8 .3-2.6 .3 10.1 .4-19.3 .3 18.6 .3-4.5 .4 4.3 .3-13.7 .3 4.3 .4-5.4 .3 7.1 .3 5.8 .4-1.7 .3-13.1 .3 7.8 .4-20.4 .3 32.8 .3 4.3 .4-8.3 .3 2.9 .3-9.3 .4 .3 .3-1.5 .3 17.4 .4-20.8 .3-1.4 .3 11.7 .4 11.8 .3-22.1 .3-5.1 .4 5.9 .3-.2 .3 15.9 .4-18.4 .3 3.9 .3-6.5 .4 22 .3-13.9 .3-7.3 .4 7.1 .3 24.3 .3-29.5 .4-2.2 .3 5.9 .3-2.5 .4 8.9 .3-7.6 .3-6.7 .4 30 .3-21.4 .3 3.3 .4 9.1 .3-19.4 .3 8.4 .4-5.2 .3-6.9 .3 8.4 .4 14.3 .3-8.2 .3-1.8 .4 7.4 .3-14.9 .3 5.1 .4-3.6 .3-3.2 .3-1.1 .4 3.9 .3 5.6 .3 4.8 .4-14.5 .3 27.4 .3-15.9 .4 10.7 .3 8.6 .3-17.2 .4-6.2 .3 11.5 .3-19.7 .4-4.6 .3 2.5 .3 7.7 .4-5.1 .3-4 .3 3.4 .4 10 .3-11.4 .3 2.1 .4-1.3 .3 11.3 .3-5.5 .4-1 .3 4.6 .3-12 .4 0 .3 11.5 .3-16.4 .4 .7 .3-2.7 .3 19 .4-3.8 .3-5 .3-5.7 .5-1.9 .5-1.4 .5-6.6 .5 2 .5-.6 .5 1.1 .5 3.3 .5-5.7 .5-4.4 .5 3.4 .5-7.6 .5 8.4 .5-12 .5-9.3 .5 0 .5 2.6 .5-1.4 .5 1 .5-4 .5-9.1 .5-3 .5-4.4 .5 1.5 .5-5 .5-9.1 .5 2.2 .5-5.3 .5-5.9 .5-1.6 .5-5.3 .5 1.7 .5-4.2 .5-7.1 .5-3.7 .5-2.7 .5-5.9 .5-7.2 .5-6 .5-4 .5-5.5 .5-2.3 .5-5.4 .5-4.4 .5-2.5 .5-1.3 .5-3.8 .5-7.5 .5-9.4 .5-3.3 .5-2.7 .5-5.5 .5-7.3 .5-5.9 .5-7.3 .5-7.6 .5-3.8 .5-6.7 .5-10.3 .5-6.5 .2-2.5 .2-4.4 .2-3.6 .2-5 .2-7.5 .2-8.8 .2-7.8 .2-16.6 .2-24.6 .2-39.6 .2-29.4 0 1.7 .2 43.3 .2 34.9 .2 18.9 .2 12.1 .2 9.4 .2 8.6 .2 7.4 .2 1.5 .2 5.2 .2 7.8 .2 7 .2-.3 .2 1.3 .5 5.6 .5 5.5 .5 7.6 .5 8.4 .5-1.4 .5 5.4 .5-12.8 .5-14.2 .5 20.8 .5 15.6 .5-1.1 .5 10.1 .5 5.7 .5-1.7 .5-3.9 .5 2.6 .5 13.4 .5 8.4 .5 .6 .5 4 .5 8.1 .5 7.8 .5 8.3 .5 10.1 .5 .6 .5 .2 .5 4.2 .5 10.2 .5 10.9 .5 2.4 .5 .3 .5 7.9 .5 7.9 .5 3.5 .5 4.4 .5 5.7 .5 1.3 .5 5.2 .5 2.4 .5 11.7 .5-5.7 .5 3 .5-.7 .5 3.8 .5 1 .5 1.5 .5 7 .5-.5 .5-5.7 .5 6 .5 8.8 .5-.3 .5 .6 .5-1.8 .5 11.4 .5 6.5 .5-4 .5-7.5 .5 14.4 .4-14.2 .3 .8 .3 11.4 .4-7.7 .3-.3 .3-.7 .4 11 .3-10.5 .3 2 .4-1.1 .3-1.6 .3 30 .4-22.4 .3 9.1 .3 1.6 .4-14.3 .3 .4 .3-.4 .4 2.5 .3 8 .3 1.8 .4-11.8 .3 3.5 .3-5.5 .4 .4 .3 9.5 .3-5.9 .4-7 .3 2 .3 4.9 .4 22.1 .3-26.6 .3 6.2 .4 8.4 .3-17.9 .3 15.5 .4-4.8 .3 11.1 .3-15.4 .4 12.6 .3 1.3 .3-11 .4 5.7 .3-3.7 .3 13 .4-22.8 .3 11.7 .3 1.5 .4-3.5 .3 .9 .3 1.2 .4-1.9 .3-9.4 .3 6.9 .4 10.1 .3 8.3 .3-19 .4 .8 .3 3.4 .3-3.4 .4 15.1 .3-12.4 .3 22.8 .4-20 .3-1.2 .3 13.2 .4-12.9 .3 11.6 .3-13.9 .4 18.1 .3-19.8 .3 7.3 .4-.6 .3 10.7 .3 10.1 .4-13.3 .3 3.4 .3 4.6 .4-21.7 .3-4.2 .3 15 .4-6.4 .3 10.8 .3-11.2 .4 1 .3 4.8 .3 8.7 .4-8.5 .3 9 .3-1 .4-2.3 .3 1.3 .3-11.8 .4 8.4 .3-7 .3 19.5 .4-22.7 .3 31.1 .3-16.5 .4-15.6 .3 6.2 .3 14.7 .4 7.9 .3-24.4 .3-1.1 .4 15 .3-15.9 .3-6 .4 4 .3 10.2 .3-14.3 .4-6.2 .3 8.7 .3 5.1 .4-1.7 .3 5 .3-.8 .4 13.7 .3 4.6 .3-11.2 .4-12.9 .3-7.2 .3 5.2 .4 5.4 .3 3.2 .3-6.7 .4 23.5 .3 2.4 .3-14.3 .4-7 .3 7.1 .3 7.3 .4 3.6 .3-18.8 .3-4.7 .4 11.5 .3-4.3 .3-5.4 .4 25.5 .3-29.2 .3 31.2 .4-23.3 .3 26 .3-29 .4-.5 .3 38.3 .3-36 .4-6.6 .3 25.3 .3-19.9 .4 11.8 .3-8.8 .3-3.6 .4-7.2 .3 7.4 .3 4.1 .4-1.9 .3 20.4 .3-25.8 .4 29.4 .3-12.8 .3-1.4 .4-8.7 .3 25.9 .3-39.8 .4 13.7 .3-9.1 .3 20.7 .4-16 .3-4.1 .3 17.1 .4-11 .3-1.5 .3-6.1 .4 17.3 .3-2.7 .3 13.4 .4-.4 .3-14.5 .3-4.2 .4 17.8 .3-24.5 .3 0 .4 19.6 .3 3.8 .3-27 .4 6.8 .3 3.6 .3-1.5 .4 .1 .3 4.6 .3-4.2 .4 11.9 .3-15.2 .3 11.6 .4-13.9 .3 7.7 .3-4.6 .4 3 .3 10.8 .3-8.9 .4 7.9 .3-1.4 .3-10.7 .4 10.1 .3 12.8 .3-21.2 .4 20.4 .3-30.7 .3 17.4 .4-6.2 .3 .2 .3-.4 .4 25 .3-22.7 .3-6.6 .4 8.4 .3 8.3 .3-22.5 .4 5.6 .3 8.6 .3-5.8 .4-2.7 .3 26 .3-22.5 .4-3.1 .3-3.9 .3 1.6 .4 21.5 .3-1.1 .3-10.7 .4-1.8 .3-3.3 .3 21.7 .4-14.9 .3 9.7 .3-1.3 .4-24.5 .3 8.6 .3 5.6 .4-5.7 .3 1.1 .3 6.3 .4-.7 .3 26.9 .3-38.6 .4 23.3 .3-3 .3-12.9 .4-6.3 .3 9.9 .3 11.4 .4-13.9 .3 16 .3-1.6 .4-17.5 .3 15.8 .3-16.7 .4-1 .3 5.5 .3 6.4 .4-15.2 .3 23.8 .3-18.4 .4-3.6 .3 5.3 .3-.3 .4 11.6 .3 4 .3-15.9 .4 16.5 .3 6.1 .3-12.4 .4-6.3 .3-6.8 .3 6.7 .4 7.7 .3-11.5 .3 3.5 .4-5 .3 11.6 .3-4.9 .4-6.9 .3 3.8 .3 21.1 .4-6.9 .3-19.2 .3 5.1 .4-4.3 .3 8.2 .3-2.1 .4-10.5 .3-.2 .3 10.3 .4-4.5 .3-2.1 .3 2.1 .4-6.9 .3-3 .3 10.2 .4 6.4 .3-5.8 .3 .4 .4 15.1 .3-19 .3 4 .4-1 .3 5.6 .3-3.2 .4-5.5 .3-1.5 .3 12.5 .4-22.7 .3 15 .3-2.5 .4 17.8 .3-13.9 .3 0 .4-2.1 .3 5.1 .3-5.2 .4 .5 .3 8.2 .3-4.3 .4 5.3 .3-9.9 .3-1.1 .4-1.8 .3 8.3 .3-4.8 .4-.8 .3-1.9 .3 2.7 .4 17.7 .3-29.7 .3 5.8 .4 6.4 .3 1.7 .3 18.2 .4 12 .3-28.1 .3 7.3 .4-13.1 .3-.9 .3-.6 .4 16.8 .3-9.3 .3 10 .4-5.4 .3-12.5 .3 27.1 .4-26.8 .3-3.5 .3 3.4 .4-3.2 .3 11.5 .3-3.4 .4-3 .3 16 .3-13.2 .4 15.7 .3-3.7 .3-2 .4-7.7 .3 9.4 .3 11.1 .4-12.3 .3 3.4 .3-16.6 .4 5 .3-2.2 .3 9.9 .4-20.8 .3 21.2 .3-5.3 .4-3.6 .3-14.7 .3 9.4 .4 4.7 .3-4 .3 22 .4-23.4 .3 5.5 .3-9.5 .4 9 .3 7.9 .3-6.9 .4 8.1 .3 10.6 .3-28.3 .4 12.9 .3-1.7 .3-7.1 .4 12.1 .3-3.9 .3-9.1 .4 18.5 .3-5.7 .3-.6 .4 10.9 .3-12.2 .3-11.5 .4 36.5 .3-30.5 .3-2.8 .4-.8 .3 16.4 .3 1.6 .4-14.8 .3 .5 .3 16.7 .4-17.2 .3 26.2 .3-29.8 .4 5.2 .3-2 .3 5.8 .4-2.5 .3 13 .3-24.5 .4 19.4 .3-10.4 .3 7.6 .4-2.3 .3-8.9 .3 2.4 .4 6.2 .3 2.7 .3 1.4 .4-8.5 .3 30.3 .3-30.1 .4 2.1 .3 12.6 .3-18.8 .4 19.4 .3-15.9 .3 13.1 .4-12.4 .3-4.1 .3 24 .4-.1 .3-21.5 .3 11 .4-12.4 .3 .5 .3 21.6 .4-33.5 .3 19.9 .3-.6 .4 20.7 .3-26.2 .3-4.2 .4 2.8 .3-.1 .3 27.2 .4-34.2 .3 24.9 .3-1.5 .4-25.3 .3 9.1 .3 11.8 .4-7.3 .3-11.1 .3 4.4 .4-3.6 .3 20.2 .3-5.4 .4 2.1 .3-12.2 .3-1.9 .4-2.1 .3 6.7 .3 8.8 .4 3.5 .3-29.3 .3 30.8 .4 .4 .3-8.7 .3-18.1 .4 24.9 .3 8.7 .3-26.6 .4 21.1 .3-19.5 .3 2.2 .4 14.1 .3-14.3 .3-3.6 .4 6.1 .3 22.1 .3-31.4 .4 8.5 .3 14.6 .3-18.1 .4 5 .3 6.6 .3-12.8 .4 3.4 .3 4.7 .3 5.2 .4-11.6 .3 3.4 .3-10.4 .4 35.8 .3-16 .3 9.4 .4-29.4 .3 11.5 .3-14.6 .4 9.8 .3 29.7 .3-28.2 .4-3.3 .3 24 .3-8.5 .4-2.4 .3-13.5 .3 5.6 .4-1.3 .3 3.7 .3-8.1 .4 19.2 .3-3.5 .3-9.5 .4 3.4 .3-8.2 .3 28.4 .4-12.4 .3-17.9 .3 8.8 .4 11.3 .3-12.9 .3-.8 .4-4.8 .3 15.5 .3-11.2 .4 14.4 .3-3.6 .3-5.7 .4 17.3 .3-22.7 .3 16.7 .4-8.2 .3-9.2 .3 .1 .4-8.8 .3 7.1 .3 0 .4-1.2 .3 17.5 .3-10.6 .4-9.8 .3 21.7 .3-19.7 .4 16.3 .3-11.9 .3-.1 .4 1 .3-3.4 .3 1.2 .4 1.8 .3-9.4 .3 4.3 .4 5 .3-.8 .3 15.8 .4-24.2 .3 9.3 .3 1.7 .4 19.3 .3-9.8 .3-14.4 .4 1.7 .3 1.2 .3 15.1 .4 6.7 .3-13.4 .3 1.5 .4-13.6 .3-1.1 .3 15.6 .4-12.1 .3 28.5 .3-32.8 .4 12.2 .3-10.2 .3-5.6 .4 2.5 .3 12.3 .3-11.5 .4 3.1 .3-7.3 .3 7.5 .4-5 .3 22.6 .3-14.9 .4-12.4 .3 4.8 .3 13.6 .4-11.2 .3-3.1 .3-2.5 .4 49.3 .3-38.8 .3 3.2 .4 9.8 .3-17.1 .3 2.8 .4 10.1 .3 0 .3 11.4 .4-25.5 .3 2 .3 3.4 .4 14.2 .3-16.1 .3 4.9 .4-3.5 .3 20.5 .3-14.6 .4-9.1 .3 16.9 .3-18.5 .4-1.5 .3 8.4 .3 1.9 .4 23.9 .3-21.9 .3-5.4 .4 13.3 .3-3.5 .3-14.9 .4 20.2 .3-7.1 .3-3.6 .4 15.9 .3 .7 .3-21.5 .4 2.2 .3 7 .3 17.1 .4-38.3 .3 18.9 .3-18.9 .4 30 .3-12.9 .3 6.7 .4-14.7 .3 1.4 .3 5.3 .4-.2 .3 1.6 .3-5.6 .4 1.2 .3 .5 .3-5 .4 3.3 .3-4 .3 4.1 .4 .3 .3-.8 .3 8.9 .4 14.1 .3 2.1 .3-21.6 .4-8.2 .3 9.9 .3 10.7 .4-1.8 .3-3.7 .3 4.7 .4 1.5 .3-19.4 .3 6.8 .4-14.5 .3 12.2 .3-3.2 .4 16.3 .3-15.4 .3-7.3 .4 7.5 .3 1.9 .3 7.8 .4 19.6 .3-12.7 .3-10.4 .4 2.3 .3-8 .3 6.7 .4-6.7 .3 23.9 .3-4.8 .4-6.2 .3-15 .3 35.1 .4-28.4 .3 6.5 .3 5.6 .4 1.9 .3-14.1 .3-3.3 .4-1.2 .3 16.7 .3-16.4 .4-1.5 .3 4.6 .3 18.1 .4-22.8 .3-1.4 .3 21.5 .4-17.2 .3 26.2 .3-38.5 .4 17.5 .3 23.1 .3-12.6 .4-1.6 .3-.5 .3-13.4 .4-5.9 .3 16.9 .3-12.6 .4-2.4 .3-1.9 .3 5.8 .4 8.7 .3 9.2 .3-19.6 .4 6.9 .3 1.2 .3-9.8 .4 13.9 .3-14 .3-2.1 .4 13.6 .3-8 .3 6.3 .4-7.9 .3 .1 .3-1.1 .4-3 .3 2.1 .3 6.9 .4-.3 .3 2.3 .3-5.6 .4-13.5 .3 21.5 .3 2.5 .4-9.6 .3-2.9 .3-18.3 .4 31.8 .3 14.6 .3-26.5 .4 1 .3-3 .3 1.3 .4-5.3 .3 8.6 .3 5.7 .4-9.6 .3 7.8 .3-9.3 .4 6.2 .3-6.1 .3 17.3 .4-9.3 .3 8.7 .3-15.5 .4-11.6 .3 10.1 .3 2.7 .4 .3 .3 32 .3-29.1 .4-8.8 .3 16.6 .3-8.3 .4 23 .3-25.6 .3 17.9 .4-.4 .3-16.2 .3 3.6 .4 3 .3-11.3 .3 21.4 .4-4.9 .3-13.4 .3-.7 .4 .6 .3-4.6 .3 22 .4-18.4 .3 34.8 .3-25.6 .4-32.1 .3 53.4 .3-30.6 .4-2 .3 17.4 .3-20.5 .4-1 .3 38.2 .3-18.2 .4-15.5 .3 3.9 .3-2.1 .4 16.5 .3 13.6 .3-7.7 .4-23 .3 .6 .3 1.4 .4-10.4 .3 31.6 .3-20.6 .4 24.5 .3-24.3 .3 0 .4-3.2 .3 5.4 .3 25.9 .4-28.8 .3-.3 .3-3.7 .4 10.5 .3-15.4 .3 6.1 .4 13.6 .3-14.5 .3 13.5 .4-.1 .3 .1 .3-10.3 .4-.9 .3 18.1 .3-11.4 .4 3.8 .3-12.5 .3 13.1 .4-7.6 .3-3.5 .3 9.3 .4 5.2 .3-7.9 .3-2.4 .4 3.1 .3-7.7 .3 2.9 .4-.6 .3-9.2 .3-1.9 .4 11.2 .3 3.4 .3 8.1 .4-10.1 .3 18.8 .3-18 .4 2.2 .3-7.3 .3 7.2 .4-9.8 .3 21.6 .3-14.8 .4 13.6 .3 2.6 .3-28.7 .4 12.9 .3 2.6 .3-8.5 .4 31.7 .3-26.8 .3-2.3 .4 16.9 .3-8.7 .3-6.6 .4 17.1 .3-15.2 .3-7.6 .4 2.8 .3-1.6 .3 20 .4-19.9 .3 16.8 .3-.7 .4-2.9 .3-8.6 .3-.4 .4 11.7 .3-13.4 .3 16.4 .4-1.4 .3-15.1 .3-1 .4 5.7 .3 5.7 .3-16.5 .4 3 .3 11.2 .3-10.6 .4-2.1 .3-8.6 .3 12.5 .4 12 .3-6.7 .3-.4 .4-1.1 .3-2.4 .3 1 .4-.7 .3 5.7 .3-9 .4 12.4 .3-2.7 .3 11.8 .4-20.1 .3 5.2 .3 18 .4-26.2 .3 7.5 .3 .1 .4-1.5 .3-5.2 .3 25.2 .4-6.5 .3-8 .3 9.8 .4-9.6 .3-6.7 .3-12.9 .4 14 .3 27.2 .3-22.4 .4-5.8 .3 13.8 .3-10.1 .4-9.2 .3 23.4 .3-13.2 .4-4.8 .3 1.9 .3 1.7 .4 5.5 .3-12.9 .3 3.3 .4-2.8 .3 2.2 .3 7.3 .4-5.1 .3 7.8 .3-10.6 .4 26.1 .3-23.9 .3-6.2 .4 .2 .3-4.6 .3 10.6 .4 .2 .3 9 .3-6.8 .4 21.8 .3-12.7 .3-5.3 .4-6.7 .3 1.5 .3 8.2 .4 .8 .3-.4 .3-11.9 .4 12.5 .3-9.7 .3-3.6 .4-3.6 .3 17.1 .3-.6 .4-.8 .3-9.3 .3 28.4 .4-30.3 .3-1 .3 7.3 .4 15.3 .3-12 .3-10.7 .4-2.2 .3 14.4 .3-14.3 .4 .6 .3 5.5 .3-.3 .4 .7 .3-2.3 .3-2.5 .4 5.4 .3 13.3 .3-11.8 .4-9.1 .3 25.1 .3 5.8 .4-28.3 .3 2.1 .3-5.2 .4 23.7 .3-18.2 .3 20.5 .4-29 .3 6.1 .3 5.9 .4-6.8 .3 12.3 .3-10.5 .4-8.2 .3 7.2 .3 15.2 .4-11 .3 28.2 .3-30.7 .4 10 .3 1.2 .3-5.8 .4-7.8 .3 32.8 .3-28.4 .4 15.1 .3-7.1 .3-12.6 .4 2.7 .3 13.5 .3-19.2 .4 1.8 .3 10.2 .3-7.5 .4 1.7 .3 5.3 .3-7 .4-.9 .3 3.8 .3-.4 .4-2.4 .3 2.2 .3-6.3 .4 14 .3-12.5 .3 13.5 .4-15.4 .3 14.9 .3-8.8 .4 1.3 .3-6.1 .3 6.5 .4 13.3 .3-17.8 .3 18.1 .4-17.6 .3-6.2 .3 10.8 .4-4.4 .3 12.4 .3 3.1 .4-9.5 .3-10.3 .3 7.7 .4 16.6 .3-18.1 .3-16.1 .4 35.5 .3-22.3 .3 .3 .4 5.3 .3 6.8 .3-14.4 .4 .8 .3 .4 .3 24.1 .4-15.5 .3-5.7 .3 15.7 .4-18.8 .3 35.9 .3-33.3 .4 11.8 .3 0 .3-11.2 .4 10.3 .3 9 .3-18.9 .4-.1 .3 20.4 .3-22.1 .4-9.6 .3 10.4 .3 14.7 .4-13.5 .3-7.8 .3 8.7 .4 1.5 .3 25.3 .3-13.7 .4-16.7 .3-5.3 .3 6.3 .4 .7 .3 1 .3 1.3 .4 3.9 .3-8.7 .3 21.4 .4-18.3 .3 5.6 .3-6.2 .4 6 .3-3.6 .3-2 .4 3.6 .3-13 .3 18.9 .4-7.8 .3 9.6 .3-14.4 .4 24.4 .3-.6 .3-18.7 .4 2.6 .3 5.7 .3-11.7 .4 23.9 .3 8.1 .3-19.2 .4 6.5 .3-16.8 .3-5.7 .4 7.3 .3-1.3 .3 7.7 .4-11.7 .3 4.7 .3-5.5 .4 36.5 .3-30.5 .3 0 .4-5.2 .3 9.3 .3 4.9 .4-7.8 .3-3.6 .3-4 .4 36 .3-30.2 .3-10.2 .4 15.4 .3-6 .3 8.2 .4-9.3 .3 8.3 .3 2.8 .4 3.7 .3-6.1 .3-.8 .4 6.8 .3 1.2 .3 4.8 .4-12.9 .3-2.6 .3 5.5 .4-7.4 .3 19.9 .3-23.7 .4 22.3 .3-19.7 .3 13.5 .4-13.1 .3-3.6 .3-7.2 .4 17.5 .3 16.7 .3-20.7 .4-3.3 .3 4.7 .3-13.5 .4 12.5 .3-7.3 .3-.7 .4 19.9 .3-16.7 .3-6.9 .4 7.8 .3-.9 .3-.3 .4 32.4 .3-30.4 .3-4.2 .4-4.9 .3 12.1 .3 2.8 .4-4.3 .3-6.8 .3-.4 .4-3.6 .3 23.1 .3-12.5 .4 12.9 .3-4 .3 .7 .4-5 .3-15.4 .3 8.3 .4 1.6 .3 3.3 .3 5.9 .4-12.7 .3 24.7 .3 6.1 .4-26.1 .3-5.9 .3 3.1 .4 .3 .3 1.5 .3-4.5 .4-2.7 .3 5.5 .3 2.8 .4 27.9 .3-30.7 .3 2.7 .4-10.4 .3 12.1 .3 19.6 .4-14.2 .3-15.8 .3 14.1 .4-9.9 .3-3.9 .3 4.7 .4-3.6 .3 4.9 .3 11.1 .4-7.2 .3 7.3 .3-11.4 .4 4.1 .3-2.5 .3 10.9 .4-2.1 .3-11.5 .3 1.9 .4-8.7 .3 4.4 .3 7.9 .4-5.4 .3 8.4 .3 2.3 .4-12.2 .3 36.4 .3-21 .4-14 .3 5.8 .3 14.9 .4 16.3 .3-32.8 .3 9.2 .4-3.1 .3-5 .3-3.2 .4 1.9 .3 5.6 .3 .1 .4-19.1 .3 35.3 .3-23.5 .4-2.7 .3-.7 .3 3.2 .4-.6 .3-.5 .3-.8 .4 .2 .3-2 .3 3.7 .4 18.6 .3-4.6 .3-16.1 .4 14.9 .3-2.8 .3 4.3 .4 .2 .3-17.1 .3-7.9 .4 9.8 .3-9.4 .3 1.3 .4 10.3 .3-5.8 .3 21.8 .4-19 .3 .8 .3-3.2 .4 3.3 .3-.8 .3-5.9 .4 1.3 .3 .1 .3 40.8 .4-30.8 .3-1.3 .3 25.3 .4-32 .3 11.6 .3-15.9 .4 7.9 .3-3.4 .3 6.8 .4-2.7 .3-3.9 .3 12.4 .4 7.6 .3-16.7 .3-1.9 .4 15 .3-13.4 .3 .7 .4 14.7 .3 1.8 .3-21.1 .4 15.6 .3-11.5 .3 6 .4-17.1 .3 9.3 .3-2 .4-4.1 .3 16.9 .3-13.1 .4 21.7 .3-4.4 .3-20 .4 13.1 .3 .8 .3-10.8 .4-1.6 .3 20 .3-13.4 .4-1.1 .3 19 .3-19.5 .4 7.8 .3-6 .3-3.7 .4-3.7 .3 6.2 .3-5 .4-2.3 .3-2 .3 8 .4 11.9 .3-11.2 .3 13.8 .4 16.7 .3-31.5 .3 1.5 .4 16 .3-10.2 .3-5.9 .4-1.7 .3 .9 .3 16.9 .4-16.3 .3-.6 .3 18.1 .4-19.3 .3 27.6 .3-22.4 .4-3.3 .3-1.7 .3-1 .4-11.6 .3 11.6 .3 16 .4-2.8 .3 11.3 .3-14.8 .4-8.3 .3 13.4 .3-17.6 .4 3.5 .3-.4 .3 40.3 .4-42.6 .3-.2 .3 14.8 .4-10.4 .3 7.3 .3-9.8 .4 14.8 .3-12.2 .3 .3 .4 19.9 .3-21.9 .3 2 .4 10.4 .3 12.2 .3-16.8 .4 9.6 .3-12.9 .3-10.2 .4 30.7 .3-11.7 .3-21.2 .4 7.1 .3 11.1 .3 1.3 .4-12.4 .3 4.7 .3 3.4 .4 2 .3 5.3 .3-2.6 .4-6.6 .3 4.1 .3-9.1 .4 13.8 .3-17.1 .3 3.8 .4 1.4 .3 14.2 .3-20.8 .4 13.8 .3 19.7 .3-39.4 .4 34.4 .3-6.8 .3-15.6 .4 6.6 .3-9.4 .3-.6 .4 1.4 .3-2.7 .3 9.4 .4 5.1 .3-11.5 .3-.6 .4 11.9 .3-16.1 .3 3.3 .4 31.9 .3-24.8 .3 6.2 .4-19 .3 17.4 .3-6 .4 2.4 .3 15.4 .3-10.1 .4-13.9 .3-3.3 .3 16.3 .4-13.6 .3 23.9 .3-25.4 .4 4.1 .3 8.4 .3-11.4 .4 10.8 .3-11.5 .3 5 .4 6.2 .3 11.8 .3-7 .4-16.5 .3 9.5 .3-1.8 .4-3.9 .3-3.5 .3 3.1 .4 20.7 .3 1.6 .3-20.5 .4-3.9 .3 13.2 .3-12.6 .4 42.3 .3-16.7 .3 .2 .4-28.4 .3 4.3 .3 .8 .4 9.1 .3-15.8 .3 4.9 .4-1.3 .3 .3 .3 33.6 .4-22.5 .3-11.8 .3 15.8 .4-20.4 .3 9.9 .3-.7 .4 11.6 .3-13.7 .3-9.6 .4 12.5 .3 8.3 .3 6 .4 4.4 .3-21.9 .3 2.4 .4 14.5 .3-18.7 .3 9.9 .4 6.3 .3 1.6 .3-13.9 .4 3.8 .3-6.3 .3 1.4 .4-13.7 .3 12.5 .3-2.3 .4 1.5 .3 13.9 .3 6.6 .4-10.6 .3-12.6 .3 6.1 .4 15.4 .3-16.9 .3-2.3 .4 19.6 .3 11.3 .3-28.5 .4 1 .3 1.4 .3-.8 .4-5.5 .3 4.2 .3 6 .4 9.5 .3-14.7 .3 8.5 .4-9.8 .3 6.5" fill="none" stroke="#471365" stroke-width="2.8" stroke-linejoin="round" stroke-linecap="square" clip-path="url(#cb)"/>
<path d="M1169.5 572.7l.3 8.6 .4-5.2 .3-1.4 .3 33 .4-31.4 .3 11 .3 5.5 .4-16 .3-3 .3 .5 .4 15.6 .3-19.6 .3 10.6 .4 8.3 .3-13.9 .3 28.7 .4-16.2 .3-14 .3 25 .4-7.8 .3-16.7 .3 3.6 .4-.7 .3-.9 .3 3.5 .4 3 .3-7.7 .3 2.9 .4 17.2 .3-6.7 .3-14.5 .4 12 .3-9.4 .3-5.2 .4 7.1 .3 7.3 .3-15.1 .4 8.4 .3-11.1 .3 8 .4-.4 .3-1.6 .3 11.7 .4-12 .3 7.8 .3 18.5 .4-13.6 .3 1.5 .3-17 .4-2 .3 32.1 .3-24.1 .4 1.8 .3 3.4 .3-11.7 .4 15.4 .3-10.4 .3-1.3 .4 1.8 .3-1.2 .3 13.7 .4-8.2 .3 3 .3-10.4 .4 2.2 .3 1 .3-1.3 .4 19.2 .3-10.6 .3 4.7 .4-2.7 .3 16.6 .3-15.6 .4 7 .3 7.8 .3-25.1 .4-1.9 .3-6.9 .3 17.2 .4 6.3 .3 6 .3-18.4 .4-4.5 .3 2.1 .3 0 .4 6.1 .3-1.6 .3 2.8 .4-4.7 .3-4.2 .3 4.1 .4-1.3 .3-.2 .3-2.3 .4-1.1 .3 17 .3-20.3 .4 7.1 .3 12.1 .3-18.1 .4 10.9 .3 8.1 .3-1.1 .4-19 .3 14.8 .3 5.3 .4-19.1 .3 37.5 .3-31.3 .4-3.6 .3 4.3 .3-3.4 .4 3.2 .3-1.4 .3 2.1 .4-10.4 .3 35.3 .3-14.5 .4-7.7 .3 18.6 .3-24 .4-6.3 .3 25.8 .3 13.5 .4-33.8 .3 9.2 .3-9.3 .4 8.1 .3 14.8 .3-18 .4-4.7 .3 9.9 .3-7.6 .4-8.3 .3 3.2 .3 9.5 .4-9.2 .3 5.3 .3 .4 .4 .3 .3 14.9 .3-20.1 .4 6.3 .3 11.8 .3 .2 .4-9.4 .3 34.5 .3-45.2 .4 18.5 .3-23.7 .3 17.8 .4 14.8 .3-11.9 .3-3.6 .4-8.1 .3-2.1 .3-.3 .4 15.1 .3-12.6 .3-3.6 .4 21.7 .3-10.2 .3-9.9 .4 2.5 .3-6.9 .3 13.6 .4-3.2 .3-11.1 .3 2.4 .4 2.9 .3 22.5 .3 4.3 .4-21.4 .3-8.2 .3 12.4 .4-1 .3-4.2 .3-1.8 .4 12.7 .3-14 .3 1.9 .4 15.5 .3-23.1 .3 8.3 .4-5.5 .3 10.1 .3 2.6 .4-11.4 .3 21.1 .3-22.6 .4 13.3 .3-9.9 .3 8.2 .4-1.7 .3-5.7 .3-3.1 .4-.6 .3 5.6 .3 .2 .4-3.4 .3-2.8 .3 7.6 .4-10 .3-8 .3 16.2 .4 .4 .3-4.5 .3 8.3 .4-5 .3 .1 .3-1.4 .4-3.6 .3 4.6 .3-2 .4 22.5 .3-23 .3 5.2 .4 33 .3-30.6 .3-9.8 .4 3.9 .3 2.1 .3 4.3 .4-13.5 .3 2.4 .3-.3 .4 12.5 .3-15.8 .3 16.4 .4-6.4 .3 17.2 .3-29 .4 18.4 .3-9.8 .3 3.1 .4 6.6 .3-9.8 .3 .5 .4 12.5 .3 1.4 .3-2.2 .4-14.2 .3 3.1 .3 14.2 .4-12.2 .3-1.2 .3 2.1 .4 2.1 .3 8.5 .3-24.9 .4 8.4 .3 3.9 .3-7.8 .4 4.9 .3-5.5 .3 17.6 .4-13 .3 4.8 .3-4.4 .4 .6 .3 2.8 .3-.8 .4-1.9 .3 17 .3-13.4 .4 25.9 .3-24.1 .3-5.1 .4 23.6 .3-19.3 .3 15.5 .4-8 .3 18.4 .3-21.6 .4 2.4 .3 2.3 .3-8.1 .4-1.4 .3 11.2 .3-13.2 .4 5.7 .3-2.9 .3-5.6 .4 21 .3-13 .3 4 .4 15.7 .3-3.7 .3-10.1 .4-15.5 .3 2.5 .3 2.7 .4-.1 .3 2.3 .3 18.1 .4-19.4 .3-1.4 .3-3.8 .4 3.9 .3 16.4 .3-20.6 .4 4.6 .3 6 .3-1.8 .4-3.3 .3-9.2 .3-3.3 .4 13 .3-2.2 .3-.6 .4 .8 .3-6.8 .3 4.3 .4 1 .3 4.6 .3 1.5 .4 10.6 .3-17.2 .3 11.5 .4-12.2 .3 8.7 .3-1.1 .4 6.8 .3-4.8 .3-6.9 .4 3.7 .3 6.5 .3-9.3 .4-.6 .3-2.5 .3 .8 .4-.4 .3-.9 .3 5.1 .4 11.9 .3-11.6 .3 12.5 .4-16.4 .3-3.7 .3 6.2 .4-2.7 .3 8.5 .3 10 .4-16.2 .3 .9 .3 1.5 .4 4.2 .3-11.9 .3 3.7 .4-6.7 .3 6.3 .3-4.7 .4 15.8 .3-13.4 .3-.5 .4 .5 .3 13.3 .3-1.8 .4-2.9 .3 6.4 .3-.5 .4-14.3 .3 3.3 .3 5.5 .4 14.5 .3-21.2 .3-2.2 .4-3.7 .3 7.7 .3-4.3 .4 14.9 .3 1.3 .3-14.6 .4 12 .3-4.7 .3-5.8 .4-.1 .3 21 .3-13.4 .4 21.5 .3-9.4 .3-20.9 .4 1.2 .3 27.4 .3-27.5 .4-3.1 .3 23.1 .3-11.7 .4 15.4 .3-18.1 .3-4.2 .4 28.5 .3-33.5 .3 2.9 .4-.8 .3 20.1 .3 1.9 .4-26.8 .3 9 .3-1.3 .4-2.9 .3-1.9 .3-10.1 .4 40.3 .3-27.9 .3 9.1 .4-7.1 .3 13.6 .3-10.7 .4 3.1 .3-10.2 .3 8.1 .4 6.7 .3-21.5 .3 8.6 .4-4.6 .3 20.7 .3-13.3 .4 6.1 .3 8.9 .3-9 .4-26.1 .3 18.3 .3-1 .4 4 .3 .8 .3-6.5 .4 17.6 .3-17.2 .3 11.6 .4-4.3 .3 4.3 .3 3.1 .4-2.8 .3-2.3 .3-7.9 .4 31.4 .3-32.7 .3 7.5 .4-5.6 .3-6.7 .3 14.9 .4-2.9 .3 14.6 .3-24.7 .4 2.5 .3 12 .3-13.3 .4-2.8 .3 9.8 .3-9.8 .4 .2 .3 4.2 .3-1.9 .4 19.5 .3-16.7 .3 7.4 .4-.3 .3 9 .3-5.6 .4-18.2 .3 0 .3 3.4 .4-3.9 .3-2.7 .3 3.5 .4 5.7 .3 3.2 .3 11.5 .4-1.9 .3-24.5 .3 17.4 .4 8.2 .3-10.9 .3-10 .4 6.9 .3-5.7 .3-.4 .4-4 .3 2.7 .3 6.7 .4-9.9 .3-8.1 .3 5.2 .4-1.3 .3 .1 .5 11.7 .5-14.1 .5-2.3 .5 4.2 .5-4.1 .5-4.5 .5-1 .5 7.6 .5-8.7 .5-4.7 .5 1.2 .5-3 .5-2 .5-3.3 .5 0 .5-2.5 .5-2.9 .5-1.2 .5 .5 .5-6.7 .5-4 .5-3 .5-4 .5-7.2 .5 4 .5 0 .5-7.9 .5-6.3 .5-4.6 .5-2.4 .5-1 .5-8.5 .5-1.2 .5-1.6 .5-8.7 .5-7.2 .5-2 .5-3.6 .5-3.7 .5-6.1 .5-5.9 .5-6.2 .5-6.2 .5-1.5 .5-2.1 .5-6.7 .5-5.1 .5-2 .5-6.4 .5-5 .5-1.9 .5-4 .5-7.9 .5-8.6 .5-2.5 .5-4.9 .5-5.6 .5-13.2 .5-9.7 .2 3.5 .2-5.6 .2-2.9 .2-4.9 .2-6.1 .2-9.2 .2-6.2 .2-8.1 .2-14.4 .2-23.9 .2-44.3 .2-58.7 0 0 .2 58.1 .2 43 .2 21.4 .2 16.8 .2 13.3 .2 6.1 .2 4.1 .2 9.4 .2 5.6 .2-.3 .2-.5 .2 1.3 .2 4.5 .5 8.4 .5 5.6 .5 8.3 .5 7 .5 .3 .5 4.8 .5 13.1 .5-2.3 .5-13.2 .5 13.4 .5 8.6 .5-.5 .5 10.8 .5 .6 .5 0 .5-.5 .5 1.4 .5 7.6 .5 7.6 .5 12.1 .5 8.3 .5-1.9 .5 2.1 .5 6.3 .5 7.5 .5 8.8 .5-.1 .5 7.5 .5 10.2 .5 2.4 .5-.2 .5 10 .5 1.1 .5 2.1 .5 8.8 .5 6 .5 5 .5 4.4 .5 1.5 .5 8.6 .5 1.9 .5 1.6 .5-.1 .5-1 .5 5.2 .5 .4 .5 5.8 .5 2.4 .5 2.8 .5 4.7 .5 7.7 .5-10 .5-1.1 .5 1.3 .5 10.4 .5 1.8 .5-8 .5 3.1 .5-3 .3 6 .4-.3 .3 3.5 .3-6.5 .4 3.6 .3 1.6 .3 4.9 .4-2.4 .3 10.3 .3-11.1 .4-.9 .3-6.5 .3 15.5 .4-16.3 .3 13.9 .3-4.4 .4 14.9 .3-16.4 .3 0 .4 6.9 .3 2.3 .3 5.8 .4-11.3 .3 13 .3 10.6 .4-23.4 .3-8.4 .3 24.3 .4-11 .3-5.1 .3 1.2 .4 20.6 .3-2.1 .3-9.1 .4 6.3 .3 5.6 .3-9.4 .4-10.3 .3 9 .3-4.4 .4 4.2 .3-1 .3-8.2 .4 .6 .3 4.7 .3 1.3 .4-9.4 .3 5.3 .3-5 .4 13.4 .3-9.7 .3 6.6 .4-6.9 .3 12.3 .3-7.6 .4-8.8 .3 19.5 .3-10 .4 13 .3-17.2 .3 4.9 .4-14.1 .3 28.7 .3-9.4 .4-2.2 .3-7.2 .3 5.5 .4-8.4 .3 12.9 .3 16 .4-26.8 .3 1.7 .3 12.8 .4-.3 .3-12.4 .3 10.3 .4-12.9 .3 35.1 .3-26.2 .4 7.4 .3-19 .3 2.9 .4 21.9 .3-11.2 .3 1.8 .4-16.2 .3 24.9 .3-11.2 .4-17.5 .3 8.1 .3-.4 .4-6.1 .3 23.9 .3-24 .4 30.4 .3-12.8 .3-5.7 .4-6.8 .3 6.6 .3 3.9 .4 13 .3-19.6 .3 .1 .4-4 .3 21.4 .3 1 .4-12.2 .3 26.6 .3-39.2 .4 4.9 .3 6.8 .3-6.2 .4 15.5 .3-.2 .3-14.8 .4-12.7 .3 43.9 .3-8.3 .4-26.4 .3-3.1 .3 10.2 .4 .5 .3-.9 .3-2.2 .4-5.5 .3-2 .3 9.8 .4 5.2 .3-12 .3 10.3 .4-7.5 .3-.2 .3 11.6 .4-16.9 .3 7.3 .3 13.1 .4-8.6 .3-18.7 .3 7.1 .4 5 .3-4.6 .3 4.5 .4-.8 .3 2.8 .3 2.8 .4-1.8 .3 4 .3-10.7 .4 11.1 .3-11.9 .3 14.2 .4-11.2 .3 16 .3-12.7 .4 1.1 .3 4.1 .3 12.6 .4-16.8 .3 7.4 .3-5.7 .4 1 .3 12.2 .3-22.6 .4 11.1 .3-1.1 .3-2.6 .4-9 .3 23.7 .3-10.3 .4-7.4 .3 8.3 .3-10.6 .4 7.3 .3 .5 .3-10.1 .4 8.7 .3-6.5 .3 5.5 .4-2.3 .3 8 .3 2.9 .4-13.9 .3 2.2 .3 13.6 .4-10.7 .3 18.1 .3 6.2 .4-24.5 .3 18.3 .3-16.6 .4-8 .3 26.6 .3-6.9 .4-5.5 .3 3.2 .3-14.2 .4 1.8 .3-2.7 .3 18.7 .4-11.5 .3-4.1 .3-.8 .4-5.5 .3 17.7 .3-10.1 .4-1.2 .3 10 .3-8.9 .4-2.8 .3 4.2 .3 11.1 .4 6.6 .3-21.9 .3-4.6 .4 7.6 .3 9 .3-1.7 .4-16.9 .3 7.1 .3 9.2 .4-11.2 .3 2.2 .3 1.8 .4 7.5 .3-13.9 .3 3.3 .4 15.1 .3 3.1 .3-19.9 .4 25.4 .3-24.5 .3 11.7 .4-2.1 .3 .7 .3-17.1 .4 21.5 .3-4.9 .3-3.1 .4 16 .3 15.1 .3-34.2 .4-2 .3 18.1 .3-4.9 .4-13.1 .3 16.3 .3-25 .4 4 .3-1.8 .3 26.9 .4-18.8 .3-11.9 .3 31.6 .4-21.3 .3 2.4 .3 1.9 .4-1.6 .3 24.2 .3-28.3 .4 5.6 .3-1.3 .3-8 .4 3.7 .3 .7 .3-1.4 .4 3.3 .3-9.4 .3 4.1 .4-1.2 .3 2.9 .3 30.6 .4-25.2 .3-1 .3 1.3 .4-2.8 .3 25.5 .3-32.8 .4 7.2 .3-6.8 .3 13.1 .4 7.5 .3 12.2 .3 .4 .4-28.7 .3 3.4 .3 29.2 .4-32.2 .3 21.2 .3 6.6 .4-29.7 .3 7.4 .3-2.6 .4-.5 .3-.4 .3 2.4 .4 .2 .3-5.9 .3 10.4 .4 9.3 .3-15.4 .3-2.6 .4-1.6 .3-2.4 .3 2.4 .4 2.4 .3 10.5 .3-4.7 .4-9.7 .3 7.8 .3-4.9 .4 14.8 .3-1.1 .3-1.8 .4 2.6 .3-14.1 .3-2 .4 9.7 .3-4.8 .3 23.8 .4-26.6 .3 13.1 .3-7.5 .4-6.5 .3 1 .3 2.4 .4-3.2 .3-2.5 .3 3.8 .4 0 .3 23.4 .3-28.4 .4 10.3 .3 14.5 .3 .7 .4-23.3 .3 4 .3 17.8 .4-18.1 .3 19.4 .3-17.7 .4-3.2 .3 2.5 .3 1.5 .4-9.3 .3 36.9 .3-24.5 .4-5.3 .3 3.9 .3 9 .4-15.4 .3 2.7 .3 .6 .4 38.8 .3-45 .3 3 .4 28.3 .3-24.5 .3-1.7 .4 6.8 .3 10.8 .3-5.2 .4-19.7 .3 25.3 .3-15.3 .4 30.3 .3-37.4 .3 28.9 .4-25.8 .3-.2 .3-5.6 .4 4.2 .3 4.3 .3-.4 .4 6.1 .3 1.8 .3-4.5 .4 .7 .3 6 .3-17.9 .4 6.1 .3-.7 .3 12.2 .4-9.5 .3 6.1 .3-14.5 .4 14.2 .3 2.3 .3-14.5 .4 5.1 .3 15.5 .3-11.8 .4-2.7 .3 13.9 .3-6.9 .4-8 .3 13.1 .3 3.8 .4 12.2 .3-26.2 .3-7.7 .4 14.6 .3 1.3 .3 4.9 .4-6.7 .3-2.7 .3-3.8 .4 21.4 .3-25.9 .3 23.6 .4-26.7 .3 9.9 .3-6.8 .4 .1 .3 5.5 .3 5 .4-.9 .3-5.3 .3 5.1 .4 .9 .3 15.5 .3-30.1 .4 7.7 .3 16.9 .3-2.2 .4-20.1 .3 19.1 .3-15.3 .4 9.6 .3-10 .3 15.7 .4 14.2 .3-30.1 .3 2.2 .4 10.6 .3-12.4 .3 2.3 .4-4.5 .3 3.6 .3 7.2 .4-15 .3 8 .3-5.4 .4 18.7 .3 .1 .3 8 .4-25 .3 9.6 .3-.6 .4 8 .3-16.4 .3 8.5 .4-12.3 .3 2.1 .3 7.9 .4-6.9 .3-1.9 .3 5.3 .4 1.3 .3-6.5 .3 5.7 .4 7.4 .3-12 .3 22.9 .4 6.3 .3-15.4 .3-18.9 .4 1.9 .3 2.9 .3 11.7 .4-8.5 .3-5.1 .3 7.6 .4-7.4 .3 8.6 .3 5.3 .4-6.6 .3 21.2 .3-19.5 .4-3.6 .3-1.1 .3-2 .4 4.8 .3 17.1 .3 3.3 .4-15.6 .3-4.2 .3-.4 .4-11.2 .3 8.4 .3-.6 .4 9.9 .3-10.6 .3-6.7 .4 8.6 .3-5.3 .3 22.4 .4-5 .3-8.2 .3-5.4 .4-3.1 .3 2.5 .3-1 .4 2.6 .3 2.4 .3 12.8 .4-5.7 .3 3 .3-7.2 .4-5.5 .3 .1 .3-1.1 .4 14.4 .3-11.7 .3 5.5 .4-6.4 .3-6.6 .3 25.1 .4-16.6 .3 9.6 .3-8.8 .4-6.3 .3 16.1 .3-18.2 .4 6.1 .3 2.2 .3-1.8 .4-.9 .3 8.5 .3-14.1 .4 8.2 .3-11.3 .3-2.9 .4 10 .3-7.4 .3 16.3 .4-9.3 .3-2.5 .3-9.3 .4 11.7 .3 12 .3 4.4 .4-14.7 .3 24.4 .3-7.8 .4-15.9 .3 .3 .3 4 .4 .7 .3 14.6 .3-4.6 .4-18.5 .3 22.2 .3-22.7 .4 .2 .3 4.4 .3 3.8 .4 24.1 .3-26.3 .3 17.9 .4-17.8 .3 7.2 .3-8.6 .4 .9 .3-10.6 .3 7.2 .4 20.8 .3-19.8 .3-4 .4 3.8 .3 2.7 .3 25.1 .4-19.9 .3 3.4 .3 .2 .4-11.7 .3-6.9 .3 16.7 .4-7.7 .3 6.3 .3-7.4 .4 15.3 .3-8.9 .3-11.2 .4 20 .3-4.5 .3-5.9 .4 10.4 .3-14.2 .3-2.2 .4 13.3 .3-10.7 .3 4.7 .4-6.1 .3 20.5 .3-21.9 .4 5.3 .3-6.2 .3-1 .4 1.2 .3 26.2 .3-30.1 .4 24.2 .3-17.7 .3 26.8 .4-7.1 .3-17.3 .3 11.6 .4-25.5 .3 31 .3-14.8 .4 6.4 .3-9.5 .3-4.7 .4 1.7 .3 8.5 .3 1.1 .4-3 .3-5.6 .3 5.4 .4-4.1 .3 1.9 .3-9.4 .4 45.9 .3-36 .3 15 .4-9 .3-7 .3 27.1 .4-23.5 .3 4.5 .3-16.9 .4 21.3 .3-12.5 .3-4.7 .4 2.8 .3-8.2 .3 19.4 .4-15.1 .3 2 .3 16.8 .4-14.4 .3 10.4 .3-.1 .4 3 .3-4 .3 .1 .4-2 .3-15.4 .3 3.3 .4 20.6 .3-17.1 .3 5.5 .4-10.6 .3 2.7 .3 2.5 .4-5.9 .3 22.1 .3-16.6 .4 2.5 .3 22.5 .3-18.7 .4-10.9 .3-2.6 .3 24.2 .4-14.4 .3-8.9 .3 4.1 .4 4.1 .3 .6 .3-.8 .4 10.5 .3-10 .3 11.4 .4-9.3 .3 17.2 .3 11.5 .4-17.2 .3-14 .3 4.2 .4-2.7 .3 16.1 .3-13.2 .4-6.6 .3 9.9 .3-14 .4 12.3 .3-5 .3 1.3 .4 .7 .3-.7 .3-14.8 .4 25.2 .3-7.2 .3 1.9 .4 30.7 .3-28.1 .3-2.4 .4-2.7 .3 5.6 .3-2.6 .4-7.3 .3 16.7 .3-10.3 .4-13.5 .3 2.9 .3 14.7 .4 3.3 .3-5.6 .3-15.4 .4 2.6 .3 4.3 .3-4 .4-.1 .3-2 .3 14.6 .4-1.7 .3-2.8 .3-13.3 .4 9.1 .3-.7 .3 27.2 .4-27.6 .3-.2 .3 15.9 .4 3.3 .3-12.1 .3-7.4 .4 8.9 .3 7.7 .3 .8 .4-16.1 .3-4.2 .3 1.4 .4 5.9 .3-11.9 .3 18 .4-10.3 .3-8.2 .3 38.5 .4-26.5 .3-8.3 .3 6 .4 3.2 .3-3.8 .3-7.3 .4 1.8 .3-.2 .3 6.2 .4-4.7 .3 17 .3-2.2 .4 11 .3-22.6 .3 .2 .4-.7 .3 16.3 .3-13.8 .4 8.1 .3 1.6 .3 1.9 .4-20 .3 23.7 .3-20.5 .4 10.4 .3 2.3 .3 10.7 .4-10 .3-12.1 .3 .6 .4-4.1 .3 24.2 .3-14.1 .4-11 .3 6.7 .3 .5 .4-2.4 .3-4 .3 10.9 .4-7.7 .3 11.2 .3-2.5 .4 7 .3-11.9 .3 15.4 .4-5.7 .3 .3 .3-13.1 .4-13.4 .3 13.6 .3 4.5 .4-2.6 .3 6.4 .3-5.4 .4 6.1 .3-18.9 .3 7.9 .4 3.3 .3 10.2 .3-7.4 .4 1.7 .3 24.5 .3-16.6 .4 15.7 .3-14.9 .3-7.6 .4-2.8 .3 5.7 .3-11.3 .4-4 .3 18.2 .3 2.6 .4-2 .3 11.6 .3-22.1 .4 14 .3-5.5 .3 6.4 .4-6 .3 7.2 .3 4.4 .4-22.8 .3 18 .3-21.5 .4 5.7 .3 12.2 .3-14.2 .4 .4 .3 7.1 .3 7.6 .4-8.7 .3 .8 .3-10 .4 2.5 .3 4.2 .3-4.8 .4 3.7 .3 15.8 .3 12.2 .4-29 .3 11.4 .3-1.4 .4-16.1 .3 2.9 .3-2.6 .4 12.2 .3-10.7 .3 2.7 .4 1.3 .3-6.1 .3 7.5 .4 6.5 .3-9.8 .3 7.6 .4 19 .3-35.5 .3 8.3 .4 2.7 .3-3.4 .3 3 .4 9.5 .3-7.9 .3-11.4 .4 2.4 .3 16.7 .3-.4 .4-5.7 .3-2 .3-2 .4 32.1 .3 4 .3-33.8 .4 7.1 .3-14.7 .3 20.6 .4-1.6 .3-13.1 .3 9.3 .4-14.9 .3 17.2 .3-10.5 .4 21.1 .3-7.7 .3-13.6 .4 13.4 .3-7.7 .3-4.9 .4-11 .3 13.6 .3 11.7 .4-4.6 .3-10.7 .3-6.4 .4 2.5 .3 23.3 .3-26.7 .4 24.1 .3-6.7 .3-12.9 .4-1.9 .3 5.8 .3 18.3 .4-19.8 .3 .8 .3 19.6 .4-6.4 .3-12.8 .3-2.8 .4-4.4 .3 10.5 .3-6.9 .4-.6 .3 9.9 .3-9.4 .4-2.2 .3 2.7 .3-10.8 .4 19.8 .3-9.3 .3-6.2 .4 26.8 .3 4.5 .3-22.9 .4 3.2 .3-5.8 .3 2.2 .4 21.1 .3-13.6 .3-7 .4 9 .3-10.7 .3 11.7 .4-11.3 .3-3 .3 17.3 .4-20.3 .3 19.4 .3-27.3 .4 23.1 .3 6.6 .3-13 .4-3.2 .3 23 .3-18.7 .4-9.8 .3 15.4 .3-14.3 .4-3.2 .3 17 .3-11.2 .4 4.2 .3 4.6 .3-8.3 .4-4.8 .3 16.4 .3-3.7 .4 4.9 .3-12.9 .3 4.1 .4 6.7 .3 15.3 .3-12.8 .4 13.5 .3 1.1 .3-2.4 .4-25.5 .3 5.6 .3-6.8 .4 3.3 .3 10.5 .3 17.9 .4-25.1 .3-5.7 .3-9.4 .4 13.8 .3 11.7 .3 .6 .4-14.2 .3 9.7 .3-9.9 .4-.6 .3 12.6 .3-15.2 .4 10.9 .3-5.8 .3 1.3 .4-1.5 .3 9.8 .3-12.2 .4 14.1 .3-9.4 .3-1.3 .4 2.4 .3 .6 .3 13.3 .4-23.8 .3 20.7 .3-17.7 .4 10.4 .3-10.9 .3 3.6 .4 24.2 .3-23.7 .3 10.2 .4-4.8 .3 1.4 .3-10.1 .4 3.2 .3 4.1 .3-14 .4 18.9 .3 5.7 .3-7.2 .4-2.7 .3 10.4 .3-15 .4 .2 .3 8.3 .3-1.6 .4 11.7 .3-12.4 .3 2.9 .4-12.3 .3 2.7 .3-6.5 .4 7.6 .3-3.7 .3 2.6 .4 12.3 .3-11.8 .3 11.4 .4-9.3 .3-2.7 .3 12.2 .4 16.3 .3-21.9 .3 .1 .4 .3 .3 6 .3-17.3 .4 30.2 .3-26.5 .3 3.7 .4-4.6 .3-3.1 .3 22.1 .4-18.4 .3-5.6 .3 22.6 .4 9.7 .3-20.6 .3 16.4 .4-20.4 .3 5.8 .3-2.6 .4-7 .3-10.4 .3 32.2 .4-8.5 .3-8.4 .3 10.2 .4 15.7 .3-33.6 .3 30.7 .4-28.3 .3 3.2 .3-6.5 .4 7.5 .3 10.4 .3-21.4 .4 2.7 .3 26 .3-27.2 .4 8.3 .3-4.5 .3 8.5 .4-9.3 .3 5.1 .3-8.1 .4 14.3 .3-9.8 .3-4.3 .4 5.4 .3 6 .3-2.8 .4 5.1 .3 0 .3 5.2 .4-15 .3 9 .3 19.3 .4-15.9 .3-7.6 .3 1.5 .4 5.9 .3-3.8 .3-10.3 .4 23.6 .3-27.3 .3 27.9 .4-13.2 .3-5.3 .3 15.7 .4-17.5 .3 2.8 .3-.1 .4-3.4 .3 1.8 .3-2 .4 6.8 .3 1.7 .3-3.5 .4-1.1 .3-5.5 .3 3.3 .4 24.1 .3-22.3 .3-1.7 .4 6.2 .3 9.8 .3 8.4 .4-23.5 .3-3.4 .3 18.5 .4-7.9 .3-3.2 .3 .3 .4-4.8 .3 .2 .3 1.5 .4-10.3 .3 4.2 .3 11.1 .4 8.1 .3 .6 .3-17.9 .4 1.2 .3 7 .3 14.8 .4-27.2 .3 14 .3-5.3 .4 1.9 .3 7.7 .3 6.8 .4-1.7 .3-10.3 .3 12 .4-9.9 .3-9.9 .3 16.1 .4 4.6 .3-28.5 .3 10.8 .4 6.1 .3 13 .3-27.6 .4 8.4 .3 .6 .3-6.6 .4 6 .3-8.1 .3 15.7 .4-12.4 .3-1.1 .3 20.6 .4-2.7 .3 7.7 .3-20.5 .4 17.7 .3-22 .3 14.4 .4-7.4 .3 11 .3-19 .4 17.6 .3 3.9 .3-9.7 .4-5.6 .3-9 .3 11.7 .4-4.3 .3 5.7 .3 7 .4-9.6 .3-1.6 .3 15.6 .4-7.1 .3-11.4 .3 10.3 .4-9.1 .3-.6 .3 1.1 .4 .9 .3-4.5 .3 3.8 .4 3.4 .3-5.2 .3-.3 .4 2.6 .3-4.8 .3 5.8 .4-3.7 .3 2.6 .3 10.5 .4 4.1 .3-8.1 .3-8 .4 39.4 .3-13.8 .3-23.4 .4 1.1 .3-.8 .3 .4 .4 .8 .3-6.4 .3 0 .4-.6 .3 5.2 .3 26 .4-19.3 .3-9.3 .3 .7 .4 10.3 .3-13.6 .3 3.7 .4 .7 .3 .6 .3 5.6 .4-1.7 .3-9 .3 5.3 .4 25.6 .3-20.6 .3-.8 .4 .7 .3-.2 .3 9 .4-15.2 .3-4.5 .3 3.7 .4 2 .3-6.4 .3 5.1 .4-.3 .3-5.1 .3 5.1 .4 .4 .3-6.8 .3 4.5 .4 4.5 .3 .6 .3-1.6 .4-5.4 .3 9.9 .3 18.7 .4-25.2 .3 23.7 .3-16.1 .4-7.3 .3 3 .3-9.5 .4 3.8 .3-4.8 .3 22.3 .4-13.3 .3 2.6 .3 2.9 .4 1 .3-8.3 .3-.6 .4 2.8 .3-2.5 .3 6.4 .4-2.7 .3-10.3 .3 9.6 .4 .4 .3-4 .3 4.9 .4 9.4 .3-7.4 .3-9.9 .4 30.7 .3-7.7 .3-22.6 .4 13.2 .3-16 .3 17.2 .4 .2 .3-9.5 .3 17.8 .4-14.5 .3-4.6 .3-3.8 .4 12.6 .3-10.9 .3 42 .4-28.1 .3-5.2 .3-6.6 .4-6.1 .3 24.1 .3-13.6 .4-2.5 .3 16.7 .3-1.1 .4-17.5 .3 5.8 .3 3.5 .4-8.4 .3 2 .3 8.2 .4-6.6 .3 14.1 .3-16.9 .4-.4 .3 23.9 .3-18.3 .4 16.4 .3-21.4 .3 7 .4 12.2 .3-23.9 .3 12.1 .4-8 .3-1.4 .3-3.7 .4 6.4 .3 .4 .3 9.6 .4-10 .3 9.2 .3-17.8 .4 13.7 .3 15.8 .3-26.4 .4-.8 .3 6.1 .3-.2 .4-1.1 .3-4.5 .3 12.2 .4-6 .3-4 .3 3.3 .4-3.1 .3 7.4 .3-7 .4 1.8 .3 5.4 .3-5.5 .4-3.9 .3-5.2 .3 10.5 .4-7.2 .3 2.4 .3 3.6 .4 2.8 .3 10.2 .3-15.7 .4 .5 .3 .2 .3 3.5 .4-.5 .3 6.8 .3 14.8 .4-23 .3 1.6 .3-2 .4 1.2 .3-4 .3 16.7 .4-4.9 .3-2.3 .3-1.6 .4-5.5 .3-8.2 .3 8.4 .4 24 .3-26.9 .3 9.6 .4-.1 .3-4 .3 19.7 .4-21.4 .3 1.2 .3 14.6 .4-17.2 .3 5.7 .3-1.4 .4-5.8 .3 17.7 .3 14.4 .4-37.5 .3 9.8 .3 18.4 .4-19.8 .3 8.4 .3 9 .4-18 .3-3.6 .3 35.4 .4-31.1 .3-2 .3 1.3 .4-2.2 .3 12.4 .3-9.1 .4-5.6 .3 8.7 .3-1.7 .4 25.9 .3 6.5 .3-33.5 .4-5.1 .3 3.4 .3 11.3 .4 14 .3-26.5 .3 28.3 .4-23.9 .3 4.7 .3 18.9 .4-15.7 .3-5.7 .3 7.6 .4-9.6 .3 4.9 .3-13.7 .4 24.8 .3-16.5 .3-4 .4-2.8 .3 5.7 .3 13.8 .4-16 .3-2.4 .3 3.6 .4 8.6 .3-9.5 .3-1.9 .4 2.7 .3 3.1 .3-2.5 .4 7.3 .3-9.6 .3 31.9 .4-29.7 .3-.4 .3-3.8 .4 43 .3-44.4 .3 4.6 .4 23 .3-9.4 .3 17.9 .4-29.3 .3-2.9 .3 .3 .4 6.8 .3-13.2 .3 14.7 .4 18.5 .3-11.2 .3 20.2 .4-26 .3 27.2 .3-36.9 .4 11.9 .3-12.3 .3 7.1 .4-.6 .3 9 .3-17.6 .4 20.8 .3-19.7 .3 23.4 .4-6.9 .3-19.2 .3 4.1 .4-4.9 .3 7.3 .3-3.1 .4 6.5 .3-3.9 .3 4.2 .4-8.7 .3-.8 .3 30.4 .4-28.1 .3 3.3 .3 5.2 .4-1.5" fill="none" stroke="#482475" stroke-width="2.8" stroke-linejoin="round" stroke-linecap="square" clip-path="url(#cb)"/>
<path d="M1169.5 575.5l.3-4.4 .4 10.3 .3-2.7 .3 12.8 .4-8.3 .3 2.5 .3-.9 .4-17 .3 18 .3-5.9 .4-3.3 .3-.2 .3-1.4 .4 12 .3-15.8 .3 41.4 .4-28.7 .3-8.7 .3 8.2 .4 19.7 .3-10.2 .3-22.4 .4 4.6 .3 20.4 .3-11.5 .4 1.4 .3-12.2 .3 4.1 .4 .1 .3-9.6 .3 17.6 .4 17.5 .3-9.7 .3-11 .4 2.7 .3 1.8 .3-2.9 .4 .1 .3-17.1 .3 3.8 .4 9.1 .3-5.3 .3 3.2 .4-3.5 .3-6.4 .3 11.6 .4-5.1 .3 25.8 .3-17.5 .4-1.5 .3 .4 .3 16.7 .4-23.2 .3-.2 .3 10.9 .4-7.6 .3 .1 .3-4.9 .4-.4 .3 10.2 .3-5.1 .4-6.7 .3 7.3 .3 5.6 .4-7 .3 1 .3 18.7 .4-23.1 .3 6.5 .3 11.2 .4-13.1 .3 15.9 .3 5 .4-18.9 .3-10 .3 10.8 .4-2.1 .3-.2 .3 .6 .4-1.2 .3 5.7 .3 5.6 .4-18.5 .3 17.1 .3 2.4 .4-3.5 .3 9.9 .3-5.9 .4-16.5 .3-6.3 .3 2.8 .4 13.2 .3-13.1 .3 14.1 .4-15.3 .3 10.3 .3-9.7 .4 5.8 .3 17.6 .3-23.9 .4 5.1 .3 3 .3 0 .4 28.1 .3-16.8 .3-7.4 .4 2.3 .3 16.6 .3-4 .4-22.9 .3-2.3 .3 13 .4-6.6 .3 30.6 .3-34 .4 9 .3 5.5 .3-16.1 .4 1.2 .3 9.8 .3-13.6 .4 21.2 .3-4.4 .3-10.1 .4-11.1 .3 11.1 .3 2.9 .4-1.8 .3 19.6 .3-20.8 .4 9 .3-7 .3 2.2 .4-9.6 .3 22 .3-2.5 .4-12.3 .3 8.5 .3-2.2 .4-10.5 .3 12.9 .3-3.5 .4-7.3 .3-8.5 .3 4.7 .4 12.5 .3-7 .3 6.1 .4 .8 .3-14 .3 27.8 .4 2.6 .3-29.1 .3 2 .4 14.5 .3 1.6 .3-10.4 .4 4.9 .3 .1 .3 9 .4-18.9 .3-3.3 .3 12.1 .4-7.9 .3 6.5 .3-5.3 .4-3.8 .3 29.9 .3-18.2 .4 5.8 .3 .9 .3 1.2 .4 15.2 .3-24.4 .3 2.1 .4 10.4 .3-13.9 .3 11.2 .4-20.2 .3 2.8 .3 .4 .4-4.4 .3 18.1 .3-2.9 .4 5.2 .3-18.1 .3 19.2 .4-14.1 .3 4.5 .3 10.5 .4-9.2 .3-7.6 .3 23.3 .4-33.3 .3 19.6 .3-12 .4 5.3 .3-5.7 .3-14.1 .4 14.3 .3 4.2 .3-1.1 .4-9.2 .3 27.8 .3-19.9 .4-10.6 .3 10.9 .3 20.6 .4-20.5 .3-4.3 .3 4.3 .4-4 .3 16.8 .3 8.1 .4-24.5 .3 27.1 .3-25.4 .4-1.4 .3 24.3 .3-20.8 .4-4.7 .3 2.4 .3-9.4 .4 25 .3-13.9 .3 17.1 .4-19.3 .3 25.6 .3-16.8 .4-10.9 .3 .4 .3 22.6 .4-22.6 .3 19.4 .3-16.3 .4 3.6 .3-6.3 .3 24.1 .4-22.2 .3-1.7 .3-2.1 .4 3.3 .3 6.5 .3-3.5 .4-8.6 .3 10.3 .3 .8 .4-10.8 .3 27.9 .3-10.1 .4-14.7 .3-2 .3 15.3 .4-13.1 .3 3.7 .3-2.1 .4 5.5 .3-3.4 .3 8.8 .4-15.2 .3 .2 .3 6.9 .4 8.7 .3-12.4 .3-4.7 .4 18.7 .3 7.4 .3-21.4 .4 15.3 .3-11.2 .3 12.8 .4 5.2 .3-5 .3-18.2 .4 5.3 .3 10.8 .3 14 .4-24.3 .3 15.2 .3-19.5 .4 13.3 .3 4.4 .3-15.1 .4-.5 .3 15.1 .3-6.6 .4 14.4 .3-23.5 .3 3.1 .4-11.2 .3 8.7 .3-7.4 .4 14.2 .3 6.9 .3-2.9 .4-13.9 .3-4.5 .3 5.9 .4 5.3 .3-3.4 .3 5.6 .4 21.2 .3-26.5 .3 1.1 .4 1.8 .3-4.3 .3 8.7 .4-19.3 .3 35.5 .3-25 .4 17.9 .3-.8 .3-17.1 .4 3.3 .3-4.7 .3-.9 .4 14.4 .3-14.9 .3 3.4 .4 .6 .3 18.9 .3-9.4 .4-9.7 .3 .5 .3 13.4 .4-18 .3 27.6 .3-25 .4 15.9 .3 1 .3-6.5 .4-17.4 .3 4.4 .3 1.6 .4 5.5 .3 28.3 .3-31 .4 4.6 .3-9.7 .3 1.6 .4-1.7 .3 4 .3-.2 .4 10.6 .3-6.7 .3-5.4 .4 16.3 .3-11.5 .3-9.7 .4 8.8 .3-3 .3 26 .4-12.5 .3-4.3 .3 16.9 .4-12.9 .3 25.5 .3-37.4 .4 13.8 .3-9.1 .3-.7 .4-10.2 .3 15.5 .3-11.3 .4 11.3 .3-7.7 .3-2.7 .4 .4 .3 21.9 .3-29 .4 23.3 .3-14.1 .3 0 .4-2.7 .3 2.4 .3-1.5 .4-9.9 .3 11.1 .3 20.7 .4-22.2 .3 19.8 .3-6.8 .4-13.2 .3 9.3 .3-13.3 .4 2.6 .3 17.8 .3-16.3 .4 3.3 .3 19.8 .3-22.9 .4 3.2 .3 9.2 .3-11.3 .4-8.6 .3 12.4 .3-3.9 .4-3.6 .3 16.1 .3-17.6 .4 10.2 .3-7.7 .3 1.8 .4-1.9 .3 19.3 .3-10.2 .4-1 .3 .2 .3-6.4 .4 3.1 .3 .4 .3 2.3 .4-11.8 .3 14.2 .3 15.2 .4-21.8 .3-.5 .3 25.9 .4-26.9 .3 29.4 .3-15.4 .4 0 .3-.9 .3 2.8 .4-11.4 .3-5.3 .3 5 .4-5.1 .3 7.8 .3 13.6 .4 1.9 .3-30.5 .3 5.1 .4 16.2 .3-1.8 .3-13.7 .4 33.7 .3-10.9 .3-16.2 .4-.6 .3-3 .3-3.8 .4 4 .3 13 .3-11.1 .4-1.8 .3-1.5 .3-5.7 .4 14.3 .3-11.4 .3 14.7 .4-9.1 .3-4.4 .3-.2 .4 26.5 .3-30.2 .3 13 .4-9.7 .3 1.3 .3 6 .4 11.9 .3-13.6 .3-7 .4 14.7 .3-12.2 .3 11.2 .4 9.9 .3-20.5 .3 22.3 .4-9.5 .3-10 .3 .3 .4-6.5 .3 17.2 .3 .3 .4-15.1 .3 1.7 .3 11.5 .4-9.7 .3 11.6 .3-7.1 .4-8.6 .3 .6 .3 8.7 .4 6.5 .3 3.9 .3-20.3 .4-3.4 .3 .2 .3 28.8 .4-23.3 .3 9.9 .3-10.9 .4-6.6 .3 13.4 .3-7.9 .4-.6 .3 5.1 .3-.2 .4-3.8 .3-5.7 .3 11.3 .4 3.6 .3-1.2 .3-7.3 .4-4.6 .3 1.5 .3-4.8 .4 6.6 .3-2.6 .3 18.8 .4-21.2 .3 12.9 .3-1.5 .4-.3 .3 5.7 .3-15.5 .4 16.8 .3-19.7 .3 19.8 .4-17.4 .3 8.6 .3 5 .4-18 .3 25 .3-13.8 .4-7 .3 3.5 .3 17.3 .4-11.6 .3-14.1 .3 5.5 .4 1.3 .3-10.9 .3 15.5 .4-14.4 .3 8 .3-5.2 .4-.1 .3 2.8 .3-5.6 .4-1.8 .3-2.3 .5 5.1 .5-10.9 .5-6.9 .5 17.8 .5-5.7 .5-3.7 .5 .3 .5-4.5 .5 4.1 .5-5.9 .5-5.3 .5 8.6 .5-10.8 .5-3.7 .5-1.5 .5-5.2 .5-4.4 .5-4.8 .5 3.8 .5-5.7 .5-3.7 .5 .1 .5-7.8 .5-5.9 .5 .1 .5 .4 .5-5 .5-6.7 .5-1.7 .5 1.1 .5-3.5 .5-8.9 .5-1.7 .5-4 .5-6.7 .5-4.4 .5-6.1 .5-4.8 .5-2.4 .5-.6 .5-2.2 .5-8 .5-6.9 .5-6.4 .5-5.4 .5-3.9 .5-4.4 .5-2.3 .5-3.3 .5-6.8 .5-5 .5-12.4 .5-3.8 .5 1.6 .5-6.9 .5-11.1 .5-4.7 .5-6.1 .5-9.6 .2-3 .2-2.9 .2-6.1 .2-4.8 .2-8.8 .2-6.9 .2-7.2 .2-13.7 .2-25.3 .2-47.9 .2-82.3 0-.1 .2 82.7 .2 47.7 .2 24 .2 13.7 .2 11.1 .2 9.1 .2 6.8 .2 1.7 .2 .6 .2-.4 .2 7.8 .2 7 .2 7.9 .5 2.8 .5 2.1 .5 7.9 .5 9.6 .5 6.3 .5-.3 .5-1.2 .5-1.3 .5-4.2 .5 3.5 .5-2.8 .5 22.3 .5 24.2 .5-5.8 .5-17.6 .5-14.2 .5 10.1 .5 6.6 .5 19.2 .5 10.1 .5 1 .5 4.7 .5 3 .5 9.4 .5 10.3 .5 8.1 .5 7.6 .5 1.2 .5 5.4 .5 5.4 .5 4.5 .5 4 .5 3.9 .5 4.3 .5 9 .5 1 .5 3.6 .5 10.8 .5-.4 .5 4.7 .5 8.2 .5 1.5 .5-2 .5 .5 .5-.6 .5 2.8 .5 12.5 .5 1.6 .5-2.3 .5 1.9 .5-3.3 .5 13.5 .5-7.6 .5 13.8 .5-12.8 .5 2.9 .5 14.3 .5-13.5 .5 6.1 .3 3.3 .4-2.2 .3 5.6 .3-12.8 .4 2.2 .3-.1 .3 6.2 .4-.5 .3-1 .3-1.3 .4 5.4 .3 19.1 .3-20.6 .4 6.6 .3 8.1 .3-16.7 .4-.7 .3-2.8 .3 9.2 .4 13.2 .3-19.1 .3 2.9 .4-.9 .3 15.1 .3-6.3 .4-11.5 .3 3.5 .3 9.5 .4-6.5 .3-3.8 .3 1.8 .4 2.2 .3 6.2 .3 8.8 .4-6.8 .3 6.6 .3-17.4 .4 .1 .3-2.7 .3 30.2 .4-23.9 .3 12.3 .3-12.9 .4 2.3 .3 1.6 .3 2.2 .4-.7 .3 12.6 .3-8 .4-8.6 .3-2.6 .3 1.3 .4 4.6 .3-8.9 .3 23.1 .4 1 .3-16.5 .3 8.7 .4-5.7 .3 4.2 .3-18.2 .4 7.5 .3 7.6 .3-7.4 .4 2.7 .3-3.1 .3 3.3 .4 22.6 .3-8.3 .3-13 .4-16.3 .3 8.5 .3 20.7 .4-11.7 .3-4.5 .3 15.3 .4 .5 .3-16.2 .3 20.1 .4-15.9 .3 6.3 .3 16.7 .4-6.5 .3-14.2 .3 .5 .4-1.3 .3-5 .3 24 .4-25 .3 5.6 .3-.6 .4 8.2 .3-7.9 .3 8.6 .4-9.5 .3 28.4 .3-34.8 .4 5.4 .3 2.3 .3-.8 .4-3.7 .3 1.5 .3 1.9 .4-8 .3 1.9 .3 13.9 .4-7.2 .3 .4 .3 29.4 .4-25.6 .3 8.3 .3-9.1 .4-9.6 .3 4.4 .3-1.6 .4 3.5 .3 13.2 .3-13 .4-2.5 .3 34.6 .3-3.3 .4-8 .3-7.7 .3-9.2 .4-8.3 .3 9.8 .3 4.9 .4 11.2 .3-26.8 .3 4.7 .4 .7 .3 1.9 .3-5.8 .4 6.7 .3-6.2 .3 3.7 .4-2.4 .3 1.5 .3 23.4 .4-14.3 .3-2.2 .3-5 .4 9.9 .3-15.1 .3 2.9 .4-1.1 .3 15.4 .3-13.7 .4-4.1 .3-4.5 .3 26.8 .4-25.5 .3 8 .3 7.3 .4-7 .3 25.2 .3 1.5 .4-23.6 .3-9.1 .3 .3 .4 21.2 .3-17.7 .3 .5 .4-1.4 .3 32.4 .3-39.5 .4 9.9 .3-2.2 .3 19.1 .4-9.1 .3 15 .3-23 .4 .4 .3-3 .3 2.4 .4 4.4 .3-7.1 .3 .4 .4 .8 .3 .7 .3 13.7 .4-4.4 .3-13.4 .3 1.6 .4 21.4 .3-19.8 .3 7.5 .4 4.7 .3-20.6 .3-.8 .4 15.1 .3-.7 .3-6.1 .4 8.4 .3 10.7 .3 1.9 .4-3.2 .3-.3 .3-17.6 .4-10.8 .3 23.7 .3-9.3 .4-2.8 .3-1.4 .3 5.3 .4 12.4 .3-20.1 .3 5.9 .4-8.6 .3 2.2 .3 1.2 .4 26.4 .3-20.8 .3-5.7 .4-9.1 .3 14.2 .3 6.9 .4-9.4 .3-1.2 .3 2.6 .4 8.8 .3-12.2 .3 12 .4-17 .3 15.7 .3-6.9 .4-3.5 .3-3.3 .3-3.8 .4 10.8 .3 .1 .3 27.5 .4-13.7 .3-19.8 .3 11.1 .4 15.4 .3-19 .3 17.9 .4-24.9 .3 21.8 .3-16.8 .4 13.1 .3 7.8 .3-.6 .4-12.6 .3-17.7 .3 11.3 .4-8.8 .3 19.6 .3-2.6 .4-14.8 .3 5.4 .3 5.6 .4-2.8 .3-8.1 .3 17.4 .4-16.6 .3 11 .3 8.1 .4 .7 .3-21.4 .3 10.2 .4 3 .3-3.9 .3-2.4 .4 16.9 .3-21.1 .3 12.4 .4-8.3 .3 2.9 .3-6.9 .4 5 .3 2.6 .3-9.5 .4-4.6 .3 22.8 .3-18.4 .4 9.3 .3-3.9 .3 9.7 .4-3.4 .3-7.2 .3 11.9 .4 15.7 .3-27 .3 6.2 .4 2.4 .3-11.8 .3 7.1 .4-5.6 .3 11 .3-10.7 .4 .9 .3 33.3 .3-40.7 .4 14 .3 18.5 .3-24.8 .4 1 .3-9 .3 10.2 .4 2.5 .3 7.7 .3-3 .4 3.4 .3 9.3 .3-20.1 .4 23 .3-27.7 .3-10.4 .4 15.2 .3 6.3 .3-13.1 .4 4.9 .3 4.9 .3-4.1 .4 2.7 .3-7.4 .3 12.2 .4 11.1 .3-6.1 .3-21.6 .4 20.6 .3-14.7 .3 2.5 .4-.6 .3 .1 .3 18.3 .4-20.8 .3 10.9 .3-5.5 .4 7 .3-11.3 .3-6.6 .4 33.5 .3-23.4 .3-6.6 .4 7.1 .3 3.8 .3-12.5 .4 6.6 .3-.7 .3-.9 .4 2 .3 3.2 .3-2.7 .4 10.3 .3-17 .3 7.9 .4 13.3 .3-22.1 .3 45.8 .4-39.5 .3 11 .3-12.9 .4 21.8 .3-11 .3-3.2 .4 28.4 .3-31.2 .3 34.4 .4-35.9 .3-2 .3-11.5 .4 30 .3-6.7 .3-9.7 .4-8.5 .3 5.6 .3 9.5 .4-5.9 .3-1 .3 19.9 .4-23 .3 31.5 .3-33 .4 1 .3 1.8 .3 16 .4 1.4 .3-14.7 .3 1.5 .4-2.4 .3-2.5 .3-4.5 .4 21.4 .3-16.2 .3 13.5 .4-4.8 .3 14.5 .3-20.1 .4-5.4 .3 12.6 .3-14.5 .4 7.9 .3-4.2 .3 27.9 .4-21.5 .3-7 .3-.2 .4 14.4 .3-16.4 .3 2.8 .4 12 .3-10.3 .3-8.6 .4 11.1 .3 22.8 .3-24.3 .4 1.6 .3-3.2 .3 9.8 .4-13.8 .3 3 .3 6 .4-6.2 .3-4.7 .3 5.8 .4 13.8 .3-3.6 .3-7.8 .4-4.3 .3 1.4 .3 32.3 .4-37.8 .3 6.9 .3 .4 .4-5.2 .3 34.1 .3-28.1 .4 .3 .3-4 .3 21.4 .4-22.3 .3 0 .3 7 .4-2.2 .3-.2 .3 2.8 .4-1.3 .3 8.2 .3-16.8 .4 6.9 .3 0 .3 4.1 .4-6.8 .3 22.8 .3-26.8 .4 31 .3-7.3 .3-8.3 .4-13.3 .3 .1 .3 4.5 .4-3.3 .3 1.5 .3-1.8 .4-1.2 .3 3 .3 3.3 .4-5.1 .3 4.3 .3-.1 .4-6.3 .3-7.8 .3 29.4 .4-18.1 .3 3.2 .3 4.9 .4-7.2 .3-6.2 .3 7.5 .4-12.4 .3 14.2 .3 9.4 .4-4.9 .3-11.5 .3 12.1 .4 24.2 .3-39.1 .3 4.3 .4 1.3 .3 21 .3-12.3 .4 14.4 .3-24.6 .3 14.9 .4-13.9 .3 1.9 .3 15 .4-22.1 .3 6.7 .3 .8 .4 8.2 .3-9.1 .3 .8 .4-3.1 .3 27.4 .3-1.6 .4-28.4 .3-.4 .3 5.6 .4-2.8 .3 12 .3 .9 .4 3.2 .3-11.9 .3-1.8 .4 5.5 .3-2.8 .3-2.3 .4 0 .3 7.5 .3 2.7 .4-11.8 .3 8.1 .3-4.9 .4-4.8 .3 6.7 .3-5.9 .4 4.4 .3 8 .3-17.7 .4 14.9 .3 9.3 .3-7.4 .4-4.1 .3 9.4 .3 .4 .4-22.5 .3 13.6 .3-7.6 .4 1.8 .3 1.6 .3 38.1 .4-41.8 .3 41.3 .3-38.2 .4-2.1 .3-.3 .3 17.3 .4-14.7 .3-7.8 .3 25.4 .4-4.3 .3-15.2 .3-3.4 .4 21.8 .3-12.4 .3 14.6 .4-7.6 .3-15.9 .3 3.4 .4-2.3 .3 11.6 .3-15 .4-.8 .3 3.1 .3 34.3 .4-44.6 .3 36.5 .3-20.8 .4-3.7 .3 14.6 .3-10.6 .4 6.5 .3-10.7 .3-1.1 .4 .3 .3 23.4 .3-27.9 .4 30.2 .3-25.2 .3 5.7 .4-9.9 .3 9 .3-4.3 .4-1.3 .3 4.8 .3-2 .4 11.2 .3-10.4 .3-.1 .4 8.1 .3-9.8 .3 1.1 .4 4.9 .3 3.4 .3 .2 .4 5.9 .3-9.5 .3-12.1 .4 4.1 .3 23.4 .3-7.2 .4 5.4 .3-21 .3 11.4 .4-11.8 .3-1.4 .3 1.4 .4 16.6 .3-10.3 .3-.2 .4 7.7 .3-8.7 .3-1.5 .4 .4 .3 13.6 .3-22.1 .4 26.1 .3-14 .3-10.9 .4 16.1 .3-9.7 .3 5.5 .4-8.8 .3 23.2 .3-13.1 .4-5 .3 17.8 .3-23.5 .4-4.1 .3 22.1 .3 25.3 .4-51.7 .3 6.3 .3 12.1 .4-8.4 .3 2.1 .3 7.9 .4-9 .3 6.1 .3 3.7 .4-13.1 .3 8.4 .3 3.8 .4-11 .3 24.1 .3 8.1 .4-15.8 .3-11.3 .3-3.7 .4-.2 .3 12.2 .3-15.1 .4 18.7 .3-7.1 .3-20.6 .4 27.5 .3-11.8 .3 .5 .4-7.1 .3 4.4 .3-1.2 .4 3 .3-6 .3 7.1 .4-5.5 .3 26.4 .3 12.8 .4-38.6 .3-2.5 .3 14.1 .4-6.9 .3 30.1 .3-.9 .4-23 .3-7.5 .3 .3 .4-.2 .3 .5 .3-3 .4-5.1 .3 16.7 .3-1.6 .4-9.1 .3 .1 .3-2.9 .4 4.7 .3 .4 .3 5.3 .4-11.5 .3 27.6 .3-1.1 .4-16.9 .3-3.1 .3 5.2 .4-6.6 .3 26.1 .3-32.4 .4-4.4 .3-2.7 .3 .6 .4 7.9 .3 4.4 .3 9.1 .4-6.9 .3-10.2 .3 11.4 .4 4.4 .3-8.4 .3-.5 .4 3.6 .3 12.8 .3 1.6 .4-4.7 .3-16.7 .3 6 .4 16.4 .3-17.6 .3-.9 .4-11 .3 11 .3 5.6 .4-3.9 .3 4.4 .3-4.7 .4 1.2 .3-10.5 .3 9.4 .4-2.4 .3-2.5 .3 4.7 .4 11.6 .3 4.2 .3-15.3 .4-5.3 .3 32.8 .3-30.9 .4 18.7 .3-17.3 .3 1.9 .4 18.2 .3-19.7 .3 12 .4-8.8 .3-13.5 .3 10.8 .4-8.3 .3 4.9 .3 8.1 .4-2.5 .3-12.4 .3 32.5 .4-22.5 .3-5.4 .3 12.9 .4-16.5 .3 7.4 .3-.3 .4 3.1 .3-5.2 .3 22 .4-5.7 .3-1.2 .3-6.8 .4 1.5 .3 5.2 .3-11.9 .4 16.3 .3-1.3 .3 2.6 .4-17.6 .3 36.7 .3-35.6 .4 2.9 .3-4 .3 .6 .4 .9 .3-1.6 .3 1.8 .4 .3 .3-5.2 .3 1.5 .4-2 .3 19.1 .3-12.7 .4-6.6 .3 1.2 .3 12.4 .4-10 .3 18.5 .3-5 .4-24 .3 18.6 .3-4.1 .4 7.8 .3-13.1 .3 1.4 .4 5.1 .3-5.2 .3 12.6 .4-12.4 .3 11.5 .3-19.4 .4 5.2 .3 10.5 .3-16.3 .4 8.6 .3 11 .3-12.3 .4 15.2 .3-12.6 .3 1 .4-5.7 .3 27.1 .3-5.8 .4-17.7 .3 4.9 .3-4.7 .4-1.2 .3 17.5 .3-22.4 .4 7.9 .3-1.4 .3-5.8 .4 10.4 .3-4.6 .3 10.4 .4-22.2 .3 7.5 .3-2.4 .4 21.5 .3-7.8 .3 3.6 .4-7 .3-7.6 .3 3.4 .4 1.3 .3-.5 .3 51.1 .4-43.2 .3 2.4 .3 0 .4 29.2 .3-37.1 .3 1.2 .4 33.5 .3-44.4 .3 34.1 .4-23.2 .3-8.4 .3 8.8 .4 17.6 .3-23.4 .3 .2 .4 12 .3 15.1 .3-18 .4-14.7 .3 17.2 .3 5.3 .4-15.5 .3 20.5 .3-11.7 .4-9.2 .3-11.6 .3 8.8 .4-1.8 .3 24.4 .3-28.6 .4 12.5 .3 13.3 .3 2.1 .4-15.9 .3-5.6 .3 3.6 .4 0 .3 15.2 .3-25.6 .4 8.1 .3 6.6 .3-3.1 .4 1.8 .3-6.9 .3 3.1 .4-4.6 .3 15.4 .3-6.6 .4 20.7 .3-11 .3-3.8 .4-14.1 .3 25.6 .3-26.7 .4 5.6 .3 14.9 .3 24.3 .4-40.2 .3-.6 .3 1.4 .4 .7 .3 10.2 .3-9.3 .4-4.8 .3-3.4 .3 2.3 .4 15.3 .3-2.3 .3 4.7 .4 14.3 .3-29.3 .3 8.4 .4-6.4 .3 8 .3-8.5 .4-2.3 .3 2.7 .3 5.5 .4-5.2 .3-4.4 .3 2.7 .4 17 .3 9.8 .3-29.8 .4 3.9 .3 9.4 .3-6.6 .4-1.4 .3-8.9 .3 25.2 .4-25.3 .3 8.8 .3-4.2 .4 24.7 .3-13.5 .3-11.2 .4 4.7 .3 8.5 .3-13.2 .4 5.4 .3-8.8 .3 15.1 .4-10.4 .3 9.3 .3-.9 .4 .3 .3-8.4 .3 2.2 .4-4.1 .3-.4 .3 10.1 .4 5.2 .3-9.7 .3-1.2 .4 13.2 .3-17.8 .3 35.2 .4-22.3 .3 3.1 .3-15.2 .4 18.3 .3-5.6 .3 2.8 .4-17.7 .3 1.1 .3 2.3 .4 24.4 .3-3.6 .3-17 .4-.6 .3-9.2 .3 29.8 .4 4 .3-24.3 .3-.6 .4 3.8 .3-5 .3 2 .4-5.2 .3 18.9 .3 3.1 .4-19.5 .3 15.9 .3-34.6 .4 11.8 .3 21 .3-12.5 .4 12.8 .3-15.2 .3 2.7 .4 3 .3-2.6 .3 5.3 .4-10.3 .3 7.5 .3 14.2 .4-16.3 .3 12.8 .3-2.9 .4-12.6 .3-1.6 .3 2.3 .4 11.1 .3 1.4 .3-11.2 .4-5.1 .3 30.1 .3-24.7 .4 24.1 .3-27.8 .3 3.6 .4 8.3 .3-12.2 .3 .6 .4 3.7 .3-6.1 .3 11.5 .4-6.9 .3-.5 .3 2.1 .4 2.1 .3-6.2 .3 16.3 .4-14.9 .3 4.8 .3-10.3 .4 6.3 .3 6.2 .3 5.3 .4-3.6 .3-6.6 .3-5.1 .4 6.6 .3 5.9 .3 5.1 .4 .8 .3-15.1 .3-1.2 .4 32.9 .3-36.3 .3 22.4 .4-10.9 .3 9.7 .3-15.5 .4 9.9 .3-10.8 .3-4.2 .4 9.8 .3 18.3 .3-16.7 .4 10.5 .3-16.2 .3-1.8 .4-1.1 .3-2.6 .3-2.8 .4 2.1 .3 6.2 .3-.2 .4 19.1 .3-6.1 .3-14.2 .4-4.2 .3-1 .3 30.5 .4-26.1 .3 17 .3-5 .4-.2 .3-2.5 .3 29.2 .4-24.6 .3-7.2 .3-4 .4-3.1 .3-5.9 .3 4.4 .4 2.9 .3 1 .3-8.2 .4 19.3 .3 4 .3-8.1 .4-6.4 .3 2.1 .3-6.7 .4 16.2 .3-13.6 .3 9.4 .4 9.5 .3-13.1 .3 26 .4-33.8 .3 29.3 .3-19.8 .4 18.1 .3-28.1 .3 30.8 .4-22.8 .3 9.8 .3 0 .4-8.2 .3 16.2 .3-20.9 .4 8.5 .3-13.8 .3 13.5 .4-8.6 .3-4.7 .3-2.5 .4 2.5 .3 4.3 .3 4.5 .4-11.2 .3 24.2 .3 .1 .4-20.9 .3 24.5 .3-22.4 .4-1.5 .3 15.6 .3-20.4 .4 5.9 .3-4.3 .3-7.1 .4 24.8 .3-7.6 .3-7.8 .4 .1 .3 13.5 .3-1.1 .4-7.2 .3 2.8 .3-11.2 .4 10.2 .3-4.1 .3-2.8 .4 29.5 .3-31.3 .3 22 .4-.8 .3-12.6 .3-2.8 .4-3.9 .3 6.4 .3-12.2 .4 24 .3-3.3 .3-11.6 .4 6.5 .3 14.5 .3-22.5 .4-2.1 .3 5.6 .3-2.4 .4-2.7 .3 6.2 .3-2.6 .4 1.2 .3 6.4 .3-1.3 .4 31.8 .3-38.6 .3 11 .4-14.1 .3 1.2 .3 6.1 .4 1 .3 12.4 .3-20.3 .4-.5 .3 4.3 .3-1 .4-.5 .3-4.8 .3 4.4 .4 20.2 .3-21.2 .3-.8 .4-5.8 .3 6 .3 .9 .4 7.3 .3-3.2 .3-2.1 .4-3.8 .3 16.8 .3-22.8 .4 21.8 .3 8 .3-10.3 .4-10.1 .3 2.2 .3-7.6 .4 8 .3-4.4 .3-1.5 .4 21.7 .3-18.9 .3 1.2 .4-10.6 .3 22.6 .3-1.6 .4-12.5 .3 1.9 .3 19.4 .4-21.9 .3 2.8 .3-11.1 .4 4.6 .3 5 .3 23.6 .4-23 .3 13.9 .3-13.2 .4 12.4 .3-14.5 .3-.8 .4 20 .3-7.4 .3 2.5 .4-2.4 .3-17.8 .3 8.3 .4-1 .3-4.2 .3 2.7 .4 .7 .3 19.2 .3 7.5 .4-11.1 .3-15.2 .3 4.1 .4-6.1 .3-3.4 .3 10.5 .4-9.9 .3 20.6 .3-19.2 .4 2.5 .3 9.5 .3 1.3 .4-17.4 .3 17 .3 11.2 .4-24.9 .3 17.9 .3-18.9 .4 23.4 .3 4.7 .3-32.4 .4 8.5 .3 15.4 .3 6.9 .4-14.1 .3-15.4 .3 9.2 .4 34.4 .3-40 .3 12.2 .4 2.4 .3 3.2 .3-8.1 .4 20.2 .3-24.7 .3-7.1 .4 3.4 .3 17.2 .3-13.9 .4-2.8 .3 10.8 .3 11.3 .4-14 .3-15 .3 6.8 .4 5.6 .3 9.1 .3 1.3 .4-12.8 .3 1.7 .3 4.3 .4-6.9 .3 10.7 .3 2.6 .4-13.7 .3 18.2 .3-21.6 .4 14.3 .3-2.5 .3-9.1 .4 12.8 .3-13.4 .3 2.2 .4 19 .3-22.7 .3 13 .4-20 .3 11.8 .3 2.2 .4 4.7 .3-8.3 .3-.6 .4 5.9 .3 1.6 .3-4.6 .4-4.3 .3 14 .3 3.6 .4 19.8 .3-37 .3 12.9 .4-2.9 .3-12.6 .3 19.4 .4-15.2 .3 6.7 .3-9.3 .4 7.1 .3-5.6 .3 11.5 .4-16.4 .3 3.7 .3-1.8 .4-.6 .3 15.4 .3-8.9 .4 11 .3-10.8 .3-2 .4-2.1 .3 9.9 .3-4.5 .4 1.3 .3-13.4 .3 2.8 .4 4.1 .3-.6 .3 25.9 .4-28 .3 15 .3 11.1 .4-6 .3-16.5 .3 1.6 .4 14.2 .3-15.9 .3 6 .4 12.4 .3-16 .3 .3 .4 5.8 .3 5.2 .3-15.1 .4 3.3 .3-4.5 .3-3.9 .4 3.2 .3 3 .3-4 .4 18.2 .3-16.3 .3 1.7 .4-2.4 .3 12.4 .3-3.4 .4-9.3 .3 12.8 .3-12.2 .4 1.2 .3 5.2 .3-.6 .4-.6 .3 4.9 .3-17.7 .4 10.1 .3-2.8 .3 4.9 .4-.9 .3 .9 .3-.1 .4 .1 .3-5.1 .3 11.1 .4 24.9 .3-5.7 .3-31.5 .4 3.1 .3 12.9 .3-14.6 .4 14 .3-3.7 .3-4.1 .4-4.3 .3-5.4 .3 4.4 .4 1.2 .3 7.4 .3 4.3 .4-3.5 .3 3.4 .3-11.9 .4 1.5 .3 3.9 .3-7.8 .4 18.6 .3-16 .3 20.6 .4-8.1 .3-5.6 .3-4 .4 1.3 .3-1.1 .3-.3 .4 .3 .3 9.5 .3-2.3 .4-11.2 .3 11.2 .3-3.1 .4-3.1 .3-12.6 .3 17.4 .4-7.9 .3 18.4 .3-1.7 .4-13.9 .3 7.1 .3-8.8 .4-1.2 .3 39.5 .3-39.1 .4 1.6 .3 17.7 .3-25.4 .4 8.5 .3-4.2 .3 9.9 .4-1.2 .3-6 .3 24.5 .4-7.1 .3-16.8 .3 .2 .4-1.9 .3 2.6" fill="none" stroke="#463480" stroke-width="2.8" stroke-linejoin="round" stroke-linecap="square" clip-path="url(#cb)"/>
<path d="M1169.5 580l.3 10 .4-8.9 .3-3.2 .3 8.5 .4-3.2 .3 10.4 .3-1.7 .4 7.1 .3-23.6 .3 10.3 .4-10.8 .3 26.8 .3-31.9 .4 7.4 .3 1.9 .3 19.2 .4-20 .3-1.2 .3 .2 .4 14.7 .3-13.8 .3-.6 .4-1.1 .3 6.4 .3-9.1 .4 24.7 .3-22.5 .3 6.8 .4 4.3 .3-9.4 .3-.6 .4 11.3 .3-11.5 .3-4.6 .4 3.3 .3-.2 .3 5.2 .4 9.7 .3-4.3 .3-6.5 .4-1.5 .3 24.7 .3-28.2 .4 10.8 .3-15.7 .3 17.5 .4-7.8 .3 12.4 .3-13.5 .4 8.3 .3-8.1 .3-2.5 .4 3.9 .3-5.9 .3 15.9 .4-16.4 .3 8.7 .3-7.3 .4 7.2 .3-14.7 .3 16.8 .4-15 .3 5.7 .3 28.4 .4-27.5 .3 25.7 .3-23.7 .4 11.6 .3-14.2 .3-3.9 .4 2 .3 10.4 .3-5.1 .4 0 .3-7.2 .3 3.4 .4 3 .3-7.9 .3 27.1 .4-26.5 .3 0 .3 .4 .4 15.5 .3 .6 .3-8.3 .4 6.7 .3-7 .3 1.7 .4 3.4 .3-3 .3 12.1 .4 6 .3-11 .3-13.2 .4-9.9 .3 10.3 .3 8.7 .4 13.5 .3-19.7 .3-2.2 .4 4.4 .3-10.2 .3 7.9 .4 22 .3-20.1 .3 8 .4-8.7 .3 17.3 .3-18.6 .4 35.6 .3-34.6 .3-3.9 .4 .7 .3 3.6 .3-1.4 .4 2.7 .3-5.5 .3 3.6 .4-5.6 .3 34 .3-14.7 .4-21.2 .3 29.6 .3-22.6 .4 0 .3-9.6 .3 6.7 .4 .2 .3 27.1 .3-25.1 .4-3.8 .3 .1 .3 17.5 .4-5.9 .3 .3 .3 13.4 .4-16.2 .3 3.8 .3-7.8 .4 6.9 .3 5.1 .3 6.1 .4-21.4 .3 17.7 .3-13.9 .4 2.5 .3 1.7 .3 4.8 .4-16.3 .3 21.9 .3 6 .4-3.7 .3-20.1 .3 5.9 .4-6.5 .3 20.6 .3 18 .4-38.6 .3 29.6 .3-28.5 .4 10.1 .3-13.1 .3 22.6 .4-3.8 .3 15 .3-29 .4-6.4 .3 4.6 .3 9.7 .4-1.2 .3-5.7 .3-3.4 .4 23 .3-26.9 .3 2.1 .4 7.1 .3 8.5 .3 4.4 .4-.3 .3-9.7 .3 .7 .4-11.1 .3 1.3 .3-9.9 .4 12.5 .3 20.6 .3-8.6 .4-15.3 .3 6 .3 27.2 .4-27.3 .3-8.8 .3-3.2 .4 10.9 .3-1.2 .3-5.9 .4 33.4 .3-27.2 .3 5.2 .4-9.2 .3-9.4 .3 13.5 .4 5.1 .3 4.8 .3 19.6 .4-29.2 .3 2.8 .3 3.7 .4 2.1 .3-.5 .3 .9 .4 8.9 .3-10.5 .3 9.9 .4-15.2 .3-3.8 .3-6.8 .4 8.2 .3 10.2 .3-8.4 .4 18.3 .3 3.9 .3-3.3 .4-19.2 .3 5.2 .3-12.6 .4 4.5 .3 .7 .3 12.5 .4 6.1 .3-17.1 .3 6.3 .4-2.2 .3-7.5 .3 1.1 .4-8.3 .3 10.9 .3 6.7 .4 1 .3-9.6 .3 4 .4-8.9 .3 6.6 .3 18.1 .4-19.3 .3 15.8 .3-20.1 .4 3.5 .3-5.7 .3 11 .4 18.6 .3-17.9 .3-13.9 .4 24.1 .3-16.3 .3-1.9 .4 25.9 .3-21.8 .3 .8 .4 1.7 .3 15.4 .3-23.1 .4 3.5 .3-5 .3 19.1 .4-15.8 .3 1.8 .3 15.3 .4-15.7 .3 16.4 .3 10.5 .4-19.7 .3 2.4 .3-.7 .4 23.1 .3-22.6 .3-10.3 .4-4.5 .3 1.2 .3 5.7 .4 1.1 .3-4.4 .3 28.2 .4-15.4 .3-7.2 .3 11.6 .4-13.7 .3-.4 .3 6.1 .4 22.5 .3-31.8 .3-3.6 .4 15.9 .3-6.6 .3 5.9 .4-3.1 .3-9.2 .3 4.4 .4-3.3 .3 10.4 .3 2.6 .4-8.4 .3 5.4 .3 26.5 .4-32.1 .3-12.4 .3 5.8 .4-3.6 .3 18.7 .3-3.2 .4-12.9 .3 9.1 .3 14.2 .4-15.8 .3-5.9 .3-4.1 .4 21.8 .3-11.4 .3-.9 .4 19.6 .3-21.1 .3-8.5 .4 19.7 .3-18.3 .3 23.2 .4-21.9 .3 8.8 .3 2.9 .4-7.1 .3 7.3 .3-7.2 .4 23.3 .3-12.7 .3-.9 .4-.8 .3-12.1 .3 3.8 .4 14.4 .3 .5 .3-17.4 .4 10.5 .3 2.9 .3 8.9 .4-24.5 .3 3.6 .3 4.5 .4-7.6 .3 10.4 .3 5.9 .4-15.5 .3-6.9 .3 32.1 .4-7.5 .3-21.1 .3 9.8 .4-3.5 .3 9.5 .3-9.2 .4-6.2 .3 7.7 .3-1.5 .4-3.9 .3 5 .3-4.2 .4 24.7 .3-23.7 .3 .9 .4 16.9 .3-7.3 .3-9.6 .4 22.8 .3-14.9 .3-6.2 .4 0 .3-11.2 .3 11.5 .4 .5 .3-5.8 .3 4.9 .4 3.2 .3 1.5 .3 18.4 .4-13.7 .3-3.1 .3-1 .4-9.5 .3 18.8 .3-5.3 .4-11.2 .3 2.2 .3 8.5 .4-7.9 .3 10.4 .3-20.9 .4 21.3 .3-9.2 .3-3 .4 27.9 .3-35.6 .3 8.4 .4 3.5 .3 1.2 .3 2.8 .4-8.9 .3-3 .3 9.1 .4 13 .3-8 .3-8.6 .4-1.8 .3 11.3 .3 7.9 .4-22.7 .3 16.3 .3-11.5 .4-2.5 .3-2.8 .3 5 .4 16.2 .3-3.6 .3-15.4 .4 .5 .3-3.4 .3 20.6 .4-16.5 .3 13.5 .3-3.4 .4 6.3 .3 3.5 .3-20.9 .4-1.2 .3 23.2 .3-20.7 .4 14.5 .3-19.3 .3-3.3 .4 9.8 .3-3.1 .3 18.1 .4-20 .3 2.3 .3 17.3 .4-4.1 .3-4.2 .3-18.6 .4 29.7 .3 5.3 .3-7.5 .4-24.6 .3 5.9 .3 6.7 .4-4.5 .3-.6 .3 1.2 .4 3.2 .3 .5 .3 1 .4 4.6 .3-8.3 .3 12.6 .4-7.7 .3 .9 .3 5.1 .4-12.8 .3 .5 .3-.4 .4-5.3 .3 48.4 .3-39.7 .4-2.6 .3-3.1 .3-1.7 .4 11.6 .3 4.5 .3-15.2 .4 9.7 .3-11.9 .3 19.2 .4-18.9 .3 3.5 .3-3.4 .4 22.4 .3 4.4 .3-23.4 .4 3.6 .3 2 .3-2.8 .4-4.4 .3 7.2 .3 1.6 .4-7.3 .3-2.2 .3 2.4 .4 5.2 .3 6.5 .3 7.4 .4-19.3 .3-.2 .3 5.9 .4 8.4 .3-13.9 .3-4.4 .4 19.3 .3-19.2 .3 3.1 .4 2.7 .3-2.9 .3-2.7 .4 22.4 .3-17.3 .3 7.9 .4-10 .3 2.2 .3 2 .4 5.3 .3-5.4 .3-3.4 .4 32.9 .3-3.8 .3-33.1 .4 20.9 .3-18.6 .3 6.7 .4-4 .3-8.3 .3 5.4 .4 37.7 .3-35.4 .3 11.6 .4-5.1 .3-10.9 .3 .3 .4 19.4 .3-9.8 .3 15 .4-23.3 .3 .6 .3-2.3 .4 3.2 .3 5.3 .3-9.1 .4 25.8 .3-24.4 .3 20.7 .4-7.7 .3 7.1 .3-19.4 .4 6.9 .3-8.8 .3 7.1 .4 7.3 .3-1.9 .3-17.2 .4 4.1 .3 10.1 .3-4.8 .4-.8 .3 2 .3-17.6 .4 13.4 .3-4.3 .3 5.3 .4-1.9 .3-3.5 .3 1.8 .4 1.8 .3 7 .3 10.4 .4-11.4 .3-4.9 .3 2.8 .4-5.5 .3 17.4 .3-14.7 .4-4.8 .3 4 .3-5.7 .4 6.4 .3-4.8 .3 6.5 .4-.8 .3-.4 .3-4.6 .4 2.5 .3 14.4 .3-3.5 .4-5.6 .3-12 .3 5.8 .4 .2 .3-2.8 .3 4.5 .4-5.2 .3 4 .3 7.5 .4-4.4 .3-1 .3-2.4 .4-4 .3-2.5 .3 4.8 .4 1.7 .3-3.4 .3 3.8 .4-12.7 .5 6.2 .5 9.2 .5-17.2 .5-2.3 .5 5.4 .5-12.1 .5 6.6 .5 .2 .5-8.7 .5 7.5 .5-8.5 .5-5.3 .5-.2 .5-7.7 .5 4.7 .5-9 .5-1 .5-5.9 .5 .3 .5-2.3 .5-.5 .5-6.7 .5-3.6 .5 .2 .5-3.3 .5-8 .5-1 .5-2.7 .5-1.6 .5-7.4 .5-6.5 .5-6.4 .5 2.1 .5-4.8 .5-7.7 .5-.1 .5-2.1 .5-4.7 .5-5.2 .5-5.9 .5-7.7 .5-1 .5-4.8 .5-6.1 .5-7.4 .5-5.5 .5-3 .5-3.2 .5-3.4 .5-6.8 .5-3.5 .5-5.3 .5-7.6 .5-6.3 .5-2.9 .5-7 .5-9.1 .5-6.4 .5-5.6 .2-2.6 .2-6.3 .2-5 .2-3.4 .2-7.9 .2-8.1 .2-10 .2-13.9 .2-19.7 .2-41.4 .2-100.6 0-10.1 .2 86.4 .2 56 .2 27.6 .2 16.8 .2 10.4 .2 8.5 .2 4.2 .2 5.7 .2 4 .2 2.9 .2 2.8 .2-1.2 .2 3 .5 9.6 .5 4.7 .5 4.2 .5 9.7 .5 2.8 .5 2.7 .5 11.1 .5 10.5 .5 8.4 .5-6.7 .5-6.3 .5 1.9 .5 23 .5 15 .5-.4 .5-13.7 .5-9.9 .5 8.7 .5 9.2 .5 11.7 .5 2.7 .5 1.1 .5 3.3 .5 1.4 .5 3.2 .5 9.9 .5 3.4 .5 4.7 .5 3.4 .5 12.3 .5 4.5 .5-.6 .5 5.5 .5 7.6 .5 5.2 .5 6.3 .5 3.7 .5 11 .5-3.1 .5 3.1 .5 4.8 .5 5.3 .5 .4 .5 4 .5 .7 .5 .1 .5 13 .5-8.8 .5 7.6 .5-3.9 .5 7.3 .5 9.8 .5 4.1 .5-11.1 .5-2 .5 13.7 .5-8.4 .5 3.5 .5 8 .3-12.2 .3 .6 .4 21.3 .3-3.5 .3-12.9 .4 9.3 .3-.5 .3-10.9 .4 3.7 .3-1.4 .3 7.7 .4 8.9 .3-18 .3 4.9 .4-2.3 .3 10.1 .3 7.4 .4-8.9 .3 17.8 .3-26.6 .4 1.2 .3 1.5 .3 2.7 .4 27.5 .3-14 .3-3.4 .4-5.7 .3 .2 .3-2.3 .4 30.9 .3-34.3 .3-2.3 .4 26.4 .3-19.6 .3-4.6 .4 3.7 .3-5.2 .3 28.1 .4-40.4 .3 29.4 .3-12.3 .4-1.4 .3-3.2 .3 7.2 .4-3 .3-2.9 .3 14.3 .4-7.6 .3-1 .3-1.4 .4-1.5 .3-1.6 .3 4.2 .4-7.8 .3 .8 .3 4.3 .4-.4 .3-.3 .3 9 .4-2.6 .3-1.7 .3 20.6 .4-23.4 .3-.8 .3 .4 .4 11.1 .3-12.3 .3 10.9 .4-13.1 .3 29 .3-9.5 .4-6.7 .3 5.3 .3-3.3 .4-9.7 .3 1.8 .3 17.4 .4-7.8 .3-21 .3 25 .4-18.6 .3 9.5 .3-5 .4 5.1 .3-6.3 .3 .1 .4 10.7 .3 1.8 .3 .9 .4-6.2 .3-14.5 .3 24.9 .4-6.5 .3-14.1 .3 15.8 .4-17.3 .3 38.5 .3-24 .4-11.3 .3 9.2 .3-6.6 .4-.7 .3 .8 .3 .2 .4 14.1 .3-9.2 .3-9.7 .4 2.9 .3 .3 .3-2.3 .4 7.6 .3 2.3 .3-9.3 .4 3.7 .3-.8 .3-4.3 .4 4.3 .3 .4 .3-.3 .4-1.6 .3-5.1 .3 11.6 .4-2.9 .3 7.6 .3-10.6 .4 7.5 .3 3.1 .3-9.2 .4 25.4 .3-29.2 .3 14.2 .4-2.1 .3-11.7 .3 20 .4-16.4 .3 9.4 .3-13.5 .4 .5 .3 22.3 .3-27.4 .4 28.8 .3-24.3 .3 2 .4 3 .3 5.1 .3-6.3 .4 6.1 .3 17.3 .3-26.3 .4 12.3 .3-9 .3 16 .4-15.9 .3 10.3 .3 18.7 .4-27.2 .3-1.6 .3-9.6 .4 14.4 .3 2.6 .3-10.3 .4 7.3 .3 1.8 .3-8.9 .4 14.1 .3-18.7 .3 10.9 .4 18.1 .3-13.4 .3 1 .4 2.2 .3 2.7 .3-12.9 .4-4 .3 1.7 .3 10.1 .4-6.3 .3 7.3 .3 .7 .4-11 .3 16.7 .3-9.4 .4 2.8 .3-8.2 .3 1.3 .4 8.6 .3-12.9 .3-4.1 .4 3.2 .3 17.6 .3-7 .4-3.4 .3 14.4 .3-21.7 .4 12.6 .3-9.7 .3 16.6 .4-17.8 .3 16.4 .3-5.5 .4-13 .3-1.1 .3-7 .4 15 .3 34.2 .3-33.8 .4-1.5 .3-11.4 .3 6.6 .4-9.2 .3 10 .3 20.9 .4-8.3 .3-1.2 .3-8.9 .4-8.4 .3 16.1 .3-6 .4-4 .3 .2 .3 .4 .4-12.2 .3 12.9 .3 21.5 .4-12.1 .3-1.9 .3 11.9 .4-24.1 .3 7.3 .3-9.2 .4 3.8 .3 7.1 .3-3.2 .4-4 .3 23.2 .3-8 .4-11.8 .3 3.5 .3-1.6 .4 17 .3 3 .3 7.4 .4-21.9 .3-7.4 .3 13.9 .4-5.9 .3-11.4 .3 2.1 .4 8.8 .3-.6 .3-6.5 .4-2.4 .3 12.6 .3-3.6 .4-7.9 .3 8.3 .3 12.8 .4-.1 .3-21.9 .3-5.5 .4 4.9 .3 .1 .3 16.5 .4 1.3 .3 7 .3-15.2 .4-14.5 .3 9.4 .3-9.7 .4 11.2 .3 6.7 .3-13.4 .4 8.1 .3-8.5 .3 23.5 .4-19.1 .3-1.3 .3-7.9 .4 13 .3-1.9 .3 10.7 .4 2.2 .3-16.9 .3-2 .4 .5 .3-1.8 .3 14.2 .4-16.4 .3 2.6 .3 .2 .4 4.8 .3-.9 .3-.3 .4 6.1 .3-12.5 .3 21.6 .4-14.7 .3-5.1 .3 1.9 .4 4.9 .3 17.9 .3-14.5 .4 2.2 .3 9.1 .3-9.8 .4-10.3 .3 18.5 .3-20 .4 7.5 .3 1.9 .3-7.3 .4 23 .3-19.2 .3 2.3 .4-6.1 .3 12.6 .3-11.9 .4 5.7 .3-2.8 .3-2.6 .4-3.8 .3-.4 .3 5.3 .4 9.2 .3-9 .3-6.7 .4 4.9 .3 6.6 .3 16.8 .4-10.9 .3 1.4 .3-5.2 .4-3.8 .3-6.2 .3 3.5 .4-1.8 .3 10.1 .3-1.7 .4-5.9 .3-1.8 .3-2.9 .4 33.9 .3-13.9 .3-21.1 .4 35.8 .3 1 .3-41.8 .4 21.2 .3-13.2 .3 19.6 .4-22.5 .3 16.4 .3-8.6 .4 18.4 .3-23.1 .3 15 .4 0 .3 4.3 .3 5.1 .4-26.5 .3 24.4 .3-23.4 .4-.4 .3-6.4 .3 1.2 .4 17.5 .3-6.6 .3-1.7 .4-4.1 .3 3.2 .3-4.8 .4 12.5 .3 10.2 .3-4.9 .4-14.3 .3-.4 .3 5.2 .4-5.2 .3 7.8 .3-8.7 .4-6 .3 6 .3 12.2 .4-10.4 .3 2.2 .3-.1 .4 3 .3 8.2 .3-18.3 .4 43.1 .3-11.8 .3-12.9 .4-12.7 .3-2.5 .3 6.9 .4 5.3 .3-12.4 .3 .9 .4-6.7 .3 22.4 .3-17.7 .4 3 .3 33.7 .3-30.2 .4 4.3 .3-12.6 .3 9.8 .4-5.8 .3 9.4 .3-6.5 .4 3.6 .3-3.4 .3 10.1 .4-18.5 .3 13.2 .3-5.4 .4 7.5 .3 26.8 .3-8.8 .4-20.8 .3-7.5 .3-1.2 .4-1.3 .3-1.1 .3 7.1 .4 2.2 .3-10.1 .3 2.5 .4-3.1 .3 3.9 .3 12 .4 20.2 .3-29.3 .3 38 .4-17.2 .3-12.1 .3 5.8 .4-23.1 .3 26.2 .3-17.5 .4 14.2 .3-7.7 .3-8.6 .4 8.7 .3-5 .3-1.8 .4 16.4 .3-1.9 .3-17 .4 12.8 .3 .6 .3-17.4 .4 6.1 .3 11.1 .3-12.4 .4 9.2 .3-5.5 .3 13.3 .4-15 .3 .6 .3-3.4 .4-2.4 .3-4.3 .3 33 .4 7.4 .3-30.9 .3 9.5 .4-8.3 .3 22.1 .3-4.5 .4-21.2 .3 .8 .3-2.2 .4 .5 .3 .7 .3 2 .4-.4 .3-7.3 .3 8.6 .4 14.7 .3-.8 .3-19.9 .4 4.9 .3 15.5 .3-19.3 .4 35.5 .3 1.6 .3-15.2 .4-24 .3 10.1 .3 35.4 .4-43.9 .3 14.8 .3-15.5 .4 4.3 .3 .8 .3-.5 .4-1.2 .3-4.7 .3 10.2 .4-10.9 .3 3.9 .3 2.5 .4 7.8 .3-11.5 .3 2.2 .4 6.3 .3-12.2 .3 9.1 .4 21.4 .3 6.1 .3-20.3 .4-3.7 .3 9.3 .3-17.6 .4 15.9 .3-17.4 .3 17.8 .4 8.7 .3-20.6 .3 17 .4-15.9 .3 24.2 .3-14.3 .4 3 .3-7.4 .3-.2 .4 1.8 .3-8.3 .3 1.5 .4 35.1 .3-37.9 .3 40.4 .4-42.1 .3 14.8 .3-5.6 .4-5.6 .3 7.5 .3 8.7 .4-21.5 .3 18 .3 1.3 .4 10.4 .3-21.9 .3-4.8 .4-3.1 .3-1 .3 15.7 .4-8.6 .3-.7 .3-3.4 .4-6.4 .3 16.3 .3-.7 .4-9.2 .3 4 .3-.7 .4 7.6 .3-12.7 .3 13.3 .4-8.7 .3 7.3 .3 2.1 .4-12.4 .3 10.3 .3-7 .4 27.6 .3-35.9 .3 24.2 .4-16 .3 9.6 .3-2.1 .4-14.3 .3 4.1 .3 2.4 .4 2.1 .3-.4 .3-8.7 .4 11.3 .3 5.4 .3-.2 .4-10.9 .3 22 .3-9.4 .4-6 .3 11.4 .3-13.6 .4 7.2 .3-10.6 .3 .7 .4 27 .3-18.4 .3-.8 .4 7.4 .3-19.6 .3 1.9 .4-1.9 .3 1.5 .3 1.5 .4 4.5 .3 5.9 .3-7.4 .4-2.1 .3 1.7 .3 10.7 .4-17.3 .3 .4 .3 25.8 .4-24.7 .3 8.6 .3-8.2 .4-5.5 .3 5.6 .3 1 .4 20.5 .3-16.6 .3 11.3 .4 7.4 .3-23.7 .3-.4 .4 .1 .3-1 .3 22.1 .4 18.5 .3-20.3 .3-23.5 .4 27.5 .3-18.6 .3-.4 .4 29.1 .3-5.7 .3-37.5 .4 14 .3 23.7 .3-9.8 .4-17.7 .3 20 .3-6.6 .4-1.1 .3-21.1 .3 18.3 .4-6.6 .3 10.7 .3-9.9 .4-.8 .3 9.6 .3-10.5 .4 11 .3-11.9 .3 7.1 .4 9.4 .3-21.7 .3 10.5 .4-1.5 .3 2.1 .3 9 .4-14.5 .3 13.3 .3-15.9 .4-.5 .3 9 .3 9.4 .4-5.8 .3-8.6 .3 28.7 .4-38 .3 4.8 .3 5.5 .4 1.1 .3 20.6 .3-20.3 .4 .8 .3 11.2 .3-14.8 .4 6.8 .3-6 .3-1.5 .4 11.3 .3 .8 .3-1.9 .4-7.8 .3 18.6 .3-18.4 .4 15 .3-17 .3-4 .4 14.3 .3-5.3 .3 7.7 .4-7.7 .3-7.6 .3 7.7 .4-.9 .3 10.4 .3 13.4 .4-34.9 .3 23 .3-4.4 .4 10 .3-18.8 .3 15.6 .4-17.3 .3 20.5 .3-21.1 .4 17.4 .3-21.3 .3-4.6 .4 12.7 .3 3 .3-10.8 .4 6.7 .3-5.2 .3 4.8 .4 12.3 .3-17.4 .3 2 .4 23.3 .3-5.9 .3-14.3 .4-2.1 .3-1.3 .3 13.2 .4-11.4 .3-2.5 .3-2.8 .4 24 .3-3 .3-17.2 .4 5.5 .3 9.9 .3-13 .4-5.9 .3 6.5 .3 6.9 .4 8.7 .3-11.7 .3-6.8 .4-3.8 .3 9.8 .3-5.2 .4 25 .3-28.6 .3 4.3 .4-3 .3 3.5 .3-8.8 .4 6.9 .3 14.4 .3-16 .4 15.9 .3 8.7 .3-23.6 .4-8.6 .3 5.8 .3 9.1 .4-6.7 .3 11.8 .3-9.4 .4 .2 .3 7.7 .3-7.8 .4 34.9 .3-17 .3-18.7 .4 6.7 .3 17.7 .3-32.1 .4 20.4 .3-5 .3 7.1 .4-1.3 .3-11.8 .3 4.2 .4 5.7 .3-9 .3-8.9 .4 12.6 .3 11.9 .3-13 .4-9.1 .3 10.1 .3-.1 .4-2.8 .3-5.9 .3 5.9 .4 4.4 .3 8.5 .3-.4 .4-7.9 .3 2.2 .3-13.1 .4 27.4 .3-2.1 .3-24 .4-7.1 .3 11.6 .3-1 .4-2.1 .3 13.9 .3 4.4 .4-24.4 .3 31.2 .3-14.2 .4 1.3 .3 9 .3-19 .4 20.7 .3-27.4 .3 6.3 .4 19.1 .3-25.6 .3 6.3 .4-9.1 .3 22.9 .3-6.7 .4-5.8 .3 12.4 .3-14.8 .4 14.5 .3-3.6 .3-10 .4 .9 .3-.2 .3 .2 .4 19.1 .3-24.6 .3 41.1 .4-36.4 .3 2.1 .3 1.6 .4 3.9 .3 5.2 .3-11.7 .4-.2 .3-13 .3 11.7 .4 8 .3-7.9 .3 25 .4-27.9 .3 .8 .3 .6 .4 2.7 .3 10.6 .3-13.5 .4 1 .3-.8 .3-9.2 .4 31 .3 .8 .3 6 .4-7.4 .3-16.9 .3-5.3 .4 14.2 .3-14.9 .3 13.2 .4-10.2 .3-5.4 .3 4.7 .4 13.1 .3-1.5 .3-9.9 .4-6.3 .3 11.2 .3 2.8 .4-13.8 .3 32.3 .3-25.3 .4 9 .3 .8 .3-6.7 .4-4.8 .3-1.9 .3 17.1 .4 .7 .3-5.2 .3-11.9 .4 3.4 .3-6.3 .3 10.2 .4-7.6 .3 5.5 .3-8.7 .4 13.8 .3-12.2 .3-4.4 .4 29.3 .3-24.9 .3 10.7 .4 2.3 .3-19.9 .3 10.1 .4-12.8 .3 22.7 .3-2.9 .4 .5 .3-3.6 .3 6.2 .4 9.4 .3-24.8 .3-1 .4 17.8 .3-23.1 .3 14.1 .4 6.9 .3 3.7 .3-1 .4-11.5 .3-8.9 .3 31.6 .4-24.1 .3 24.6 .3-25.4 .4 1.7 .3 .1 .3-2.3 .4 38.6 .3-20 .3-19 .4-4.8 .3 10.1 .3-3.8 .4-11.7 .3 13 .3 10.8 .4 4.1 .3 2.3 .3-5.5 .4-17.7 .3 13.4 .3 17 .4-26 .3 13.1 .3 2.2 .4-3.5 .3-15.5 .3-4.2 .4 3.8 .3 39.9 .3-34.1 .4-4.6 .3 4.4 .3 1 .4 1 .3 6.6 .3-2 .4-6.4 .3 17 .3-6.5 .4 6.4 .3-6 .3-18.1 .4 18.2 .3 4.9 .3-20.9 .4 20 .3-15.4 .3 13.7 .4-11.2 .3-3.2 .3 5.5 .4-12.7 .3 19.7 .3-10.5 .4 3.9 .3 12 .3-2.5 .4 8.4 .3-16.4 .3-7.5 .4 2.5 .3 3.9 .3 5.8 .4-18.2 .3 19.3 .3 17.5 .4-37.6 .3 16.7 .3-13 .4 2.5 .3 9.6 .3-7.7 .4-4.4 .3 14.6 .3-13.4 .4 1.4 .3 35.4 .3-21.4 .4-4.4 .3 0 .3 8.5 .4-11.1 .3-2.5 .3 2.9 .4 4.1 .3-3.1 .3-3.6 .4 7.1 .3-.7 .3-7.1 .4 4.1 .3 11.8 .3-15 .4-8.2 .3 5.1 .3 .4 .4 24 .3-28.9 .3 11.2 .4 10 .3 16.6 .3-33.5 .4 3.9 .3-3.7 .3 28.9 .4-33.4 .3 28.8 .3-22.2 .4-4.5 .3-5.3 .3 3.9 .4 4.2 .3-4.6 .3 10.4 .4-9.7 .3-1.4 .3 16.9 .4-13.6 .3 5.6 .3-13.9 .4 28.5 .3-9.4 .3-11.4 .4 1.6 .3 11.4 .3-20.5 .4 6.4 .3 5.3 .3-8.7 .4 3.1 .3 1.6 .3 .4 .4 15.2 .3-6.8 .3 4.7 .4 .2 .3-17.8 .3 17.6 .4-12.8 .3 11.2 .3-14.4 .4 2.6 .3-4.3 .3 8.6 .4-6.1 .3 .8 .3 18.4 .4-19.2 .3 8.6 .3-6.1 .4 9.7 .3-17.4 .3 37.6 .4-12.7 .3-2.5 .3-2.9 .4 5.2 .3-8.8 .3-10.3 .4 .3 .3-.5 .3 15.5 .4 19.1 .3-30.1 .3-1.8 .4-4.1 .3 6.3 .3-2 .4 .5 .3-8.6 .3 19.2 .4-11 .3-2.6 .3-5.4 .4 24.8 .3-20.8 .3 5.1 .4-4.8 .3 5.1 .3-3.2 .4 2.8 .3-2.3 .3 1 .4 1 .3 19.8 .3-23.8 .4 3.8 .3 16.2 .3-.9 .4-11.9 .3 3.8 .3 .2 .4 9.3 .3-16.2 .3-.1 .4 14.9 .3-10.3 .3 9 .4-16.8 .3-.7 .3 21.8 .4-18.7 .3-7.1 .3 9.4 .4 18.5 .3-20.2 .3-5.8 .4 15.8 .3-15.8 .3 1.1 .4-2.8 .3 26.7 .3-25.6 .4 17.5 .3 3.3 .3-27.5 .4 35.9 .3-18.9 .3 8 .4-8.6 .3-9 .3 5.2 .4 21.9 .3-26.5 .3 5.2 .4-.9 .3 6.7 .3-9.9 .4-2.3 .3 32.7 .3-28.7 .4 5.8 .3 19.7 .3-28.6 .4 23 .3 5.3 .3-30.9 .4 .9 .3 17.1 .3-11.6 .4 12.1 .3-4 .3 5.5 .4-2.2 .3-3.3 .3-11.1 .4 3.7 .3 6.1 .3-14.1 .4 15 .3 9.1 .3-17.2 .4 30 .3-7.2 .3-22.4 .4 15.8 .3-17.6 .3 25.5 .4-25.8 .3 2.1 .3 7.1 .4 1.3 .3 22.8 .3-31.7 .4 .7 .3-1.4 .3-1.1 .4 19.9 .3-13.6 .3-4.1 .4 8.3 .3-9.6 .3 25.2 .4-22.4 .3 9.9 .3-16.1 .4 4.5 .3 1.6 .3-6.3 .4 2 .3 17.9 .3-3.2 .4 1 .3-.3 .3 2.4 .4 24.6 .3-36.4 .3 1.9 .4 15.3 .3-14.3 .3-10 .4 7.8 .3-7.3 .3 7.2 .4-8.5 .3 22.1 .3-14.3 .4-4.3 .3 2.6 .3-1.8 .4 12 .3-1.1 .3-14.1 .4 6.4 .3-2.7 .3-2.2 .4 10.7 .3-11.3 .3-9.5 .4 13.7 .3 4.3 .3-9.8 .4 2 .3 4 .3 10.8 .4-12.4 .3 .8 .3 18.5 .4-22.6 .3 25.1 .3 .8 .4-10.5 .3-17.4 .3 41.1 .4-36.6 .3 6.4 .3 7.1 .4-5.5 .3 6 .3 5.8 .4-17.1 .3 11.5 .3 12.1 .4-25.8 .3 18 .3-22.1 .4 3.5 .3 7.5 .3 15.2 .4-29 .3 13.9 .3-7.1 .4 5.6 .3 22.1 .3-22.9 .4 5 .3-5.8 .3 10.1 .4-15.9 .3 3.3 .3-.3 .4-.5 .3 1.4 .3-.5 .4 5 .3 4.3 .3-9.2 .4 9.4 .3 16.8 .3-8.5 .4-17.2 .3-10 .3 3.1 .4 13.7 .3-7.9 .3-9.4 .4 9.5 .3-5.4 .3 5.4 .4 18.1 .3-15.2 .3 .9 .4-2.9 .3-3 .3 18.7 .4-15.8 .3 9.9 .3 10.4 .4 5.3 .3-24.5 .3 5.8 .4-6.1 .3-.8 .3 5.9 .4 8.8 .3-18 .3-7.1 .4 8.9 .3 16.7 .3-5.7 .4-18.5 .3 32.6 .3-24.1 .4 15.6 .3-8.4 .3-9.6 .4-3.4 .3 8.1 .3-3.9 .4 2 .3 23.5 .3-8.4 .4-15.8 .3-3.6 .3-2.7 .4 5.7 .3 1.2 .3-5.4 .4 24.5 .3-4.3 .3-4.1 .4-12.2 .3 3.8 .3 3.4 .4-5.8 .3-2.3 .3 11.5 .4-3.3 .3-13.7 .3 31.5 .4-31.4 .3 5 .3 3 .4 29.3 .3-31.1 .3 5.2 .4 5.7 .3-.8 .3-18.3 .4 5.3 .3 4.1 .3 11.3 .4-19 .3 .4 .3 1.8 .4 22.3 .3-16.9 .3 6 .4-15 .3 30.5 .3-23.2 .4 .1 .3 12.3 .3-12.3 .4 5.8 .3-14.6 .3 20 .4 10.2 .3-15.5 .3-16.9 .4 29 .3-19.3 .3-1 .4-16.7 .3 22.3 .3-9.3 .4 6 .3-5 .3 16.2 .4 3.8 .3-5.6 .3 8.7 .4-16.6 .3-3.8" fill="none" stroke="#414487" stroke-width="2.8" stroke-linejoin="round" stroke-linecap="square" clip-path="url(#cb)"/>
<path d="M1169.5 577.2l.3 9.2 .4-11.1 .3 9.5 .3 2.1 .4-4.8 .3-4.4 .3 16.5 .4-23 .3 26.7 .3-12.6 .4 7 .3-4.9 .3-18.1 .4 13.2 .3 .8 .3 0 .4 10 .3-7.6 .3-13.3 .4 3 .3 10 .3 18 .4-24.7 .3 1.3 .3 7.6 .4-10.7 .3 3 .3 9.3 .4-9.7 .3 15.2 .3-16.4 .4 15.8 .3 4.5 .3-24.3 .4-1.9 .3 11.7 .3-6 .4 5.6 .3-8.5 .3 17.2 .4 6.7 .3-23.5 .3 36.6 .4-13.1 .3-26.2 .3 9.3 .4-10.2 .3 3.7 .3-.9 .4 13.8 .3-17.9 .3 4.5 .4 8.1 .3-8.4 .3 25.3 .4 10.5 .3-33.2 .3 21.1 .4-23.6 .3 1.3 .3 19.3 .4-11.4 .3 1.3 .3-15.1 .4 3.2 .3-1.3 .3 7.5 .4 13.6 .3-17.4 .3 2.8 .4-.6 .3 2.6 .3-9.1 .4 11.7 .3-15 .3 7.7 .4-2.1 .3 4.5 .3-2.5 .4-1.5 .3 15.4 .3-11.8 .4 15.7 .3-20.7 .3 4.1 .4 8.9 .3-4.5 .3 12.8 .4-1.6 .3-15 .3-6.9 .4 2.9 .3 4 .3-7.6 .4 13.4 .3-13.3 .3 8.8 .4 2.5 .3-8.1 .3-.5 .4-.3 .3 3.7 .3-4.5 .4 3.6 .3 10.7 .3-3.3 .4-4.8 .3 8.2 .3 1.7 .4-3.5 .3-18 .3 12.1 .4-1.6 .3 9 .3-13.1 .4 2.5 .3 7.6 .3-8.2 .4 2.5 .3-2.4 .3-2.9 .4 5.6 .3 11.5 .3-1.2 .4-8.7 .3 5 .3-13.5 .4 6.9 .3 21.8 .3-7 .4-2.5 .3-4 .3-6.6 .4-6.4 .3 6.8 .3 5.1 .4-8.2 .3 3.4 .3 2.1 .4-10.6 .3 24.2 .3-14.6 .4 15 .3 4.6 .3 15.3 .4-41.7 .3 15.7 .3-12.9 .4-3.9 .3 4.4 .3 10 .4-6.1 .3-3.8 .3 3.7 .4 .2 .3-9.3 .3 26.5 .4-17.9 .3-4.5 .3-4.7 .4 13 .3-10.6 .3-9.7 .4 26 .3-27.3 .3 18.8 .4 5.9 .3-17.8 .3 10.5 .4 15.9 .3-15.2 .3-5.8 .4 .6 .3-.1 .3-4.3 .4 44.3 .3-41 .3 15.8 .4-6.8 .3 .8 .3-10.8 .4 5.6 .3-.3 .3-2 .4 4.4 .3 10.9 .3-8.5 .4 1.5 .3-12.1 .3 3.2 .4-1.7 .3 1 .3-3.8 .4 16.4 .3-10 .3 25.3 .4-31.2 .3 28 .3-22.5 .4-.1 .3 .9 .3 17.8 .4-13.7 .3-15.5 .3 5.2 .4 4.6 .3-9.5 .3 1 .4 8.6 .3-8.8 .3 8.1 .4-.2 .3 1.7 .3-5.5 .4 8.3 .3 6.7 .3 2.9 .4-10.1 .3-8.3 .3-.6 .4 5.3 .3-3.6 .3 3.4 .4 1.5 .3-10.2 .3 3.8 .4 11 .3-1.7 .3 12.3 .4-17 .3 5.6 .3-11 .4 19.2 .3-19.7 .3-.2 .4 34 .3-29.5 .3-.5 .4 3.4 .3-.9 .3 .6 .4-3.7 .3 3.1 .3-.8 .4 4.1 .3 5.5 .3-3.3 .4-6.6 .3 5.1 .3-6 .4 20.4 .3-10.7 .3-1.2 .4-4.8 .3 15.2 .3 6.5 .4-27.9 .3-.8 .3 13.6 .4-7.6 .3-2.5 .3 10.7 .4-9.5 .3 .4 .3 34.8 .4-26.8 .3 12.1 .3-19.2 .4-2.4 .3 2.2 .3-.2 .4-8 .3 5.1 .3-1.4 .4 17 .3-18.1 .3 5.9 .4 3.4 .3-7.7 .3 30.4 .4-30.8 .3 9.5 .3-10.1 .4 19.6 .3-19.4 .3 41.9 .4-12.4 .3-18.8 .3-16.4 .4 18.1 .3-13.9 .3 28.6 .4 14.6 .3-36.5 .3-1.3 .4 20.8 .3-19.9 .3 3.4 .4-9.2 .3 17.7 .3 9.9 .4-4.2 .3-22.9 .3 3.3 .4 1.2 .3 14.6 .3-10.3 .4 20.8 .3-28.6 .3-.4 .4 11 .3 1.1 .3-1 .4-8.7 .3 13.2 .3-16.3 .4 5.6 .3-6.1 .3 12.6 .4-4.6 .3 16.8 .3-12.9 .4 2.8 .3 8.3 .3-7.5 .4-15.3 .3 2 .3 6.7 .4-5.8 .3 13.4 .3-18.8 .4 2.1 .3 18.5 .3 3.2 .4 1.3 .3-8.7 .3 6.6 .4-15.4 .3 17.1 .3-6 .4-9.3 .3 9.1 .3-10.6 .4 2.3 .3-3.6 .3 2.2 .4 22.1 .3-21.8 .3 27.3 .4-34.6 .3 11.5 .3-4.9 .4 25 .3-34.1 .3 21.3 .4-1.4 .3 4.6 .3-2.3 .4-3.2 .3-18.3 .3 .1 .4 9.3 .3-10.2 .3 47.1 .4-43.2 .3 2.6 .3 8.5 .4 6.4 .3-12.8 .3 4.2 .4 8.3 .3-1.9 .3 5.8 .4 5.1 .3-23.9 .3 13.8 .4-15.9 .3-.5 .3 9.4 .4-2.7 .3-3.1 .3-2.3 .4 4.8 .3-.4 .3-2 .4 7.6 .3 1.6 .3-7.7 .4-2.5 .3 3.7 .3 4.5 .4-5.6 .3 10.8 .3-23.8 .4 29.7 .3-21.5 .3 5.8 .4 2.1 .3 16.8 .3 1.3 .4-6.5 .3-16.1 .3 4 .4 13.2 .3-22.1 .3 7.9 .4-7.5 .3 22.1 .3-16.8 .4-1.2 .3 .6 .3 10.3 .4-12.8 .3 11 .3-7.5 .4-8.6 .3 8.9 .3 19.8 .4-16.2 .3-15.8 .3 9.9 .4-1.9 .3-4 .3 8.2 .4 11.2 .3 8.1 .3-19.3 .4 15.9 .3-17.8 .3-.1 .4 2.6 .3 .7 .3-4.1 .4-3.1 .3 1.3 .3 2.2 .4 32.5 .3-16.7 .3-16.8 .4-.6 .3 10.2 .3 6.7 .4-14.7 .3 .9 .3 .1 .4 17.7 .3-12.8 .3 16.4 .4-36 .3 15.8 .3 20 .4-19 .3 18.1 .3-13.6 .4 12.6 .3-20.6 .3 27.4 .4-16.3 .3-9.2 .3-4.3 .4 16.7 .3-6.8 .3-3.2 .4-4.8 .3-6.5 .3 8.9 .4 27.7 .3-26.9 .3-4.4 .4 19.9 .3-22.7 .3 5.3 .4-3.2 .3 39.2 .3-21 .4-13 .3 7.4 .3-11.9 .4 17.3 .3-17.2 .3-.5 .4-2.2 .3 15.7 .3-11.1 .4-8.4 .3 22 .3-14.3 .4 19 .3 3.5 .3-16.1 .4 8 .3-8.1 .3-6.2 .4 16.3 .3-10.2 .3-12.4 .4 11.9 .3 5.5 .3-10.2 .4 3.1 .3 26.3 .3-39.6 .4 4.6 .3 6.9 .3-11.7 .4 31.8 .3-21.6 .3 7.2 .4 1.1 .3-9.1 .3 35.8 .4-39.1 .3 15.4 .3-8.8 .4-3.4 .3-2 .3 .8 .4 6.9 .3 14 .3 2.1 .4-1.2 .3-18.2 .3 2.9 .4-2.7 .3-4.2 .3-.1 .4 4.6 .3 2.4 .3-5.5 .4 .1 .3 11.9 .3 7.2 .4-17.1 .3-3.8 .3-7.5 .4 19.9 .3-10.3 .3-1.3 .4-1.3 .3 .3 .3 12.2 .4-8.9 .3-5.6 .3-2.5 .4 13.8 .3-6.9 .3 33.4 .4-25.5 .3-13.3 .3 8.3 .4 3 .3-9.8 .3 15 .4-11.3 .3 18.3 .3-9.4 .4-2.2 .3-7.5 .3 10.5 .4 3.7 .3 2.3 .3-6.7 .4-8 .3-5.2 .3 17.2 .4-8.7 .3-1.9 .3 .1 .4-2.8 .3-1 .3 30.5 .4-16.6 .3-5.4 .3-2.8 .4 12.3 .3-7.9 .3-6.2 .4-5.8 .3 4.9 .3 28.5 .4-31.1 .3 3.5 .3 19.5 .4-26.1 .3 6.2 .3 1.7 .4 24.9 .3-28.9 .3 7.6 .4-13.4 .3 9.1 .3-2.8 .4 10.4 .3-11.1 .3 24.5 .4-25.1 .3 15 .3-6.3 .4 8.7 .3-13.7 .3 .4 .4-8.5 .3 19.4 .3-23.8 .4 28.3 .3-14.7 .3-3.5 .4 17.8 .3-24.9 .3 5.8 .4-11.2 .3 18.1 .3-7.3 .4-4 .3-2.4 .3 26.3 .4-24.7 .3 1.7 .3 14.2 .4-10.9 .3-7.1 .3 10.4 .4 5.2 .3-8.9 .3 3.2 .4-5.7 .3 14.9 .3-13.3 .4-7 .3 2.6 .3 2.3 .4-2.6 .3 1.9 .3-12.4 .4 13 .3-5.1 .3 6.2 .4-10.9 .3 23.5 .3-12.3 .4-2.1 .3 1.9 .3 .3 .4 4 .3-2.2 .3 3.8 .4-9.9 .3 12.6 .3-5 .4-2.5 .3 8.8 .3-20.4 .4 6.8 .3 1 .3-8.3 .4 .3 .3 7.6 .3 10.8 .5-20 .5-4.2 .5-1.2 .5 15.4 .5-14.5 .5-1.3 .5-1.1 .5-2.9 .5 10.7 .5-14.1 .5-.4 .5-6.7 .5-3.3 .5 4.2 .5-4.5 .5-.8 .5-6.6 .5-4.6 .5 .5 .5-2.9 .5-5 .5-4.1 .5-2.4 .5-1.4 .5-3.7 .5-3.1 .5-1.1 .5-7.9 .5-7.6 .5-2.1 .5 2 .5-4.9 .5-4.6 .5-1.6 .5-7.2 .5-5.9 .5-5 .5-6 .5-2.2 .5-.5 .5-6 .5-5.4 .5-6.3 .5-6.3 .5-6.8 .5-3.3 .5-2.1 .5-8.6 .5-3.3 .5-3.8 .5-2.9 .5-4.4 .5-9 .5-7.1 .5-9.4 .5-4.4 .5-4.4 .5-6.9 .5-4.6 .2-6 .2-5.9 .2-.3 .2-1 .2-7.5 .2-8.7 .2-9 .2-8.4 .2-13.5 .2-25.6 .2-58.3 .2-97 0 12.8 .2 109.3 .2 42.2 .2 22.1 .2 12.8 .2 9 .2 8.9 .2 3.7 .2 6.4 .2 4.4 .2 .2 .2 2.2 .2 8.4 .2 3 .5 1.7 .5 5.4 .5 10.7 .5 9.4 .5 2.6 .5-3.7 .5 12.2 .5-4.5 .5 5.2 .5 3.1 .5 0 .5-1.6 .5-1.6 .5 21.3 .5 9 .5-3.1 .5 11.4 .5 5.9 .5-4.3 .5 .8 .5 10.2 .5 9.8 .5 1.3 .5-5.7 .5 5.4 .5 7.8 .5 3.3 .5 7.5 .5 9.6 .5 4.4 .5 8.1 .5 1.1 .5 6.7 .5 2 .5 11.7 .5 1.6 .5-3.8 .5 14.1 .5 2.3 .5 1.5 .5-1.4 .5 2.1 .5 6.1 .5 6 .5-.3 .5 4.5 .5 3.4 .5 .2 .5-.2 .5 10.5 .5 6.2 .5 5 .5-8.1 .5-6.3 .5 1.4 .5 12.5 .5-3.5 .5 11.3 .5 .4 .4-12.4 .3 5.7 .3 1.9 .4-9.3 .3 11.6 .3-4.6 .4-5.1 .3 6.8 .3-2.5 .4 .2 .3-.8 .3 1.4 .4 6.9 .3-3.6 .3-3.8 .4-.1 .3-1.9 .3 9.7 .4-6.6 .3 5.8 .3-4.1 .4 3.1 .3-4.2 .3 1.4 .4 .2 .3 4.6 .3 7.3 .4-9 .3 6.4 .3-14.4 .4 9.8 .3-2.4 .3 20.2 .4 4.1 .3-22.5 .3-2.7 .4-2.1 .3 9.7 .3-3.6 .4 6.8 .3 5.4 .3-14.2 .4 21 .3-29.1 .3 26.4 .4 12 .3-20.6 .3 4.3 .4-16.9 .3 15.5 .3-12.7 .4-4.3 .3 2.1 .3 3.2 .4-2.1 .3 5.9 .3 26.3 .4-15.5 .3-8.1 .3 3 .4-7.2 .3 12.6 .3-21.4 .4-.6 .3 5.6 .3 .4 .4 17.3 .3-3.2 .3-.2 .4-11 .3 6.7 .3 .7 .4-6.9 .3 4 .3 31.2 .4-45.8 .3 1.1 .3 3.8 .4 2.6 .3 .8 .3 1.3 .4-4 .3 0 .3 1.6 .4 .4 .3 20 .3-5.1 .4 3.3 .3-15.5 .3-1.3 .4 13 .3-8.9 .3-11.7 .4 27.3 .3-9.6 .3-12.2 .4-2.4 .3 4.9 .3 18.1 .4 .4 .3-8.4 .3-15.5 .4 7.2 .3-1.9 .3 5.2 .4-3.1 .3 .4 .3-.4 .4 17.4 .3 7.5 .3-25.2 .4 1.9 .3 2.9 .3 3.5 .4-9.8 .3 17.9 .3-24.8 .4 12.4 .3-3.2 .3 3.1 .4-.9 .3-2 .3 17.2 .4-18.9 .3 21.5 .3-22.7 .4-3.4 .3 3.1 .3 12.1 .4-8 .3-2.6 .3 .2 .4-.1 .3 20 .3-27.2 .4-1.8 .3 26.3 .3-16.6 .4 .4 .3 3.2 .3-10.1 .4 6.2 .3-3.8 .3-4.9 .4 23.7 .3 4.1 .3-5.9 .4 10.2 .3-28 .3 3.4 .4 3 .3-8.1 .3 12.8 .4-13.4 .3-.1 .3 25.2 .4-14 .3-5.4 .3 .1 .4-3.9 .3 23.9 .3 12.4 .4-21.4 .3-11.7 .3 2.3 .4-8.2 .3 15.9 .3-7.1 .4-5.8 .3 25.4 .3-13.3 .4-9.9 .3 .6 .3 16.4 .4-19.4 .3-1.1 .3-1 .4 .3 .3 5.5 .3 19.5 .4-19.1 .3 2.5 .3 7.7 .4 4.7 .3-16.8 .3 22.5 .4-9.4 .3-11.3 .3 18.1 .4-15.1 .3-10.9 .3 29.6 .4-29.9 .3 21.1 .3-12.4 .4-7.4 .3 .8 .3 37.2 .4-28.4 .3-1.1 .3-2.2 .4 8.6 .3 12.5 .3-25.8 .4 1.5 .3-.7 .3 2.8 .4-3 .3 2.9 .3-3.1 .4 4.1 .3 .8 .3 7.5 .4-4.8 .3 10.4 .3 5.9 .4-13 .3-4.4 .3 1 .4 6.5 .3 .5 .3-13 .4 15.3 .3-11.9 .3-7.4 .4 6.5 .3 8.8 .3-3.1 .4-6.4 .3 .7 .3 7.2 .4 3.2 .3-7.4 .3 14.1 .4-2.6 .3 14.5 .3-27.1 .4 1 .3 6.7 .3 23.8 .4-34.3 .3 5 .3 16.9 .4-12.6 .3 7.3 .3-13.5 .4-1.1 .3 .2 .3 17.1 .4-18.7 .3 1.3 .3 2.4 .4 6.7 .3-8 .3 24 .4-23.7 .3-4.6 .3 3.1 .4 22.6 .3-20.3 .3 7.6 .4-11.1 .3 6.2 .3-8.7 .4 4.3 .3 27.6 .3-26.4 .4-1.2 .3 19.8 .3-22 .4 5.9 .3-5.7 .3 2.4 .4 25.3 .3-24.7 .3 0 .4 15.7 .3-2.6 .3-14.8 .4 8.8 .3-2.6 .3-9.3 .4-2.1 .3 7.3 .3 25.2 .4-21 .3 6.8 .3-8.4 .4-4.8 .3 7.1 .3-6.2 .4 .1 .3 25.7 .3-31.9 .4 7.6 .3 26 .3-3.9 .4-20.5 .3-4.8 .3 16.2 .4-19 .3 8 .3 10 .4-10 .3-5.5 .3 1 .4 15.7 .3-16.3 .3 10 .4 4.4 .3 2.1 .3-6 .4-10.9 .3 9.5 .3-5 .4-3.6 .3 17 .3-8.3 .4 23.8 .3-19.3 .3-14.8 .4 17.7 .3-8.4 .3-10 .4 3.1 .3 2.5 .3-1.7 .4 22.1 .3-14.7 .3-6.7 .4-1.8 .3 1.1 .3 7.5 .4 10.8 .3-8.7 .3 6.8 .4-12.8 .3-6 .3 1.7 .4-4.2 .3 11.3 .3-18.1 .4 14.8 .3-2.4 .3 3.5 .4-5.8 .3 13.9 .3 6.3 .4-11.7 .3 21.1 .3-17.6 .4 3.7 .3 4.4 .3-20.1 .4 19.3 .3-21.6 .3-.1 .4 4.9 .3 1 .3 4.6 .4-3.6 .3-3.9 .3 23.8 .4-24.4 .3 1.1 .3-1.1 .4 .4 .3 .6 .3 2 .4-.5 .3 10.3 .3-17.1 .4 18.8 .3-15.1 .3 1.7 .4 11.6 .3 2.1 .3-9.8 .4 18.1 .3-32.8 .3 19.2 .4 3.2 .3 4.7 .3 4.2 .4-19.5 .3 11.7 .3-13.4 .4 3.6 .3-3.9 .3 7.8 .4-4.5 .3 .9 .3-3 .4 1.1 .3-3.9 .3 5.2 .4 12.3 .3-13.3 .3-6.6 .4-1.9 .3-.9 .3 13.6 .4-4.2 .3 3.3 .3-6.4 .4-2.5 .3 11 .3-2.6 .4-5.2 .3 9.7 .3 18 .4-12.8 .3-10.5 .3 17.8 .4-13 .3-1 .3-10.2 .4 3.1 .3 .9 .3 4.1 .4-6.2 .3 3.9 .3-5.5 .4-.5 .3 3.2 .3-5 .4 19.3 .3-.3 .3 20.6 .4-34 .3 .4 .3-5.9 .4 9.1 .3 25.1 .3-15.2 .4-1.8 .3-4.1 .3 7.8 .4-19.8 .3 6 .3-5.6 .4 .5 .3 21 .3-19.4 .4-2.2 .3 3.6 .3 2.6 .4 8.7 .3-.8 .3-9.3 .4-5.7 .3 3.9 .3 6.6 .4 12.7 .3-22.4 .3-6.4 .4 28.3 .3-21.1 .3 23.2 .4-24.2 .3 13.8 .3 20.6 .4-23.4 .3-5.8 .3-1.7 .4 20.2 .3-31.8 .3 13.3 .4 22 .3-25.2 .3 24.7 .4-30.2 .3 18.9 .3-11.9 .4 5 .3 5.7 .3 15.5 .4-30.6 .3 1.8 .3 17.3 .4-.5 .3-14.4 .3 23.1 .4-13.1 .3-21.4 .3 23.5 .4 3.7 .3-15.2 .3 7.9 .4 3.5 .3 18.7 .3-19 .4-6.8 .3-.1 .3-2.7 .4-9.7 .3 30.2 .3-18.1 .4 12.5 .3-15.4 .3-5.4 .4 18.3 .3-6.6 .3-2 .4-6.8 .3 10.1 .3 13.9 .4-20.5 .3 2.8 .3 13.6 .4-10.7 .3-9.6 .3 8.7 .4-2.8 .3 14.9 .3-12.3 .4-9.5 .3 10.7 .3-8.1 .4-5 .3 5.9 .3-12.8 .4 9.8 .3-.4 .3 36.3 .4-38.4 .3-.7 .3 26.8 .4 2.3 .3-29.9 .3-2.7 .4 5.3 .3 .7 .3 2.1 .4 13.2 .3 1.9 .3-13 .4-10.2 .3 17.4 .3 1 .4 7.1 .3-18.7 .3 2.7 .4 10 .3-13.1 .3 13.1 .4 4.3 .3-13.4 .3-4.5 .4 13.8 .3 .8 .3-9.3 .4-7.3 .3 4.2 .3 2.4 .4-9.5 .3 6.1 .3-4.1 .4 7.4 .3-1.1 .3 2.7 .4 3.8 .3-5.6 .3 12.9 .4-15.6 .3-1.4 .3-1.9 .4 .2 .3 15.3 .3-8.9 .4 25.2 .3-22.5 .3-7.4 .4 16.2 .3 13.4 .3-24 .4-2.2 .3-4.9 .3 16.8 .4-17.2 .3 14.4 .3-5 .4 2 .3 10.2 .3-12.1 .4-6.4 .3-4.2 .3 3 .4-1.9 .3 2.9 .3 16.9 .4 13.9 .3-15 .3-4.9 .4 17.9 .3 2.8 .3-29.9 .4 2.4 .3-6.9 .3 4.1 .4 14.7 .3-14.8 .3 .8 .4-2.8 .3 2.1 .3 15.3 .4-13.3 .3-3 .3 13.1 .4-13.7 .3 7.8 .3 20.1 .4-4.1 .3-14.8 .3 3.8 .4-9 .3 .1 .3-5.7 .4 10.4 .3-5.7 .3-1.9 .4 4.5 .3 2.5 .3 1.5 .4-8.9 .3 8.7 .3 6.8 .4 2.4 .3-22.9 .3 2 .4 3.1 .3 1.4 .3 12.4 .4-8 .3-3.6 .3-7.6 .4 6.2 .3 23.1 .3 8.9 .4-28.4 .3 7 .3 5.4 .4-10.3 .3-5.9 .3-2.5 .4 4.8 .3-3.1 .3-.1 .4 3.3 .3 8.4 .3-7.6 .4 .8 .3 4.9 .3-14.6 .4 9.2 .3-1.3 .3-5.1 .4 12.5 .3 2 .3-15.6 .4 5.2 .3 21.8 .3-4.8 .4-9.7 .3 11.1 .3 .8 .4-23.6 .3 6.8 .3-3.6 .4 5.7 .3-.1 .3 3.1 .4-10.4 .3 42.2 .3-26.3 .4-8.2 .3-7.1 .3 12.6 .4-10.5 .3 15.6 .3-3.5 .4-17.3 .3 30.1 .3-25.8 .4 10.3 .3-8.5 .3-.3 .4 7.6 .3-9.3 .3 5.1 .4-8.2 .3-1.1 .3 5.1 .4 9.1 .3 5.8 .3-4.2 .4-12.6 .3 8.3 .3 32.2 .4-23.7 .3-10.9 .3 14.1 .4 12.4 .3-13.1 .3-18.1 .4 14.9 .3-1.8 .3-2.3 .4-7.4 .3-3.4 .3 7.4 .4-6.4 .3 1.2 .3-2.4 .4 2.7 .3 19 .3-21.6 .4-.3 .3-10 .3 12.6 .4 13 .3-2.5 .3-9.7 .4 16.2 .3-20.9 .3 20.8 .4-18.1 .3 25.3 .3-28.5 .4 20.3 .3 22 .3-49.5 .4 8.5 .3 20.8 .3-17.2 .4 7.4 .3-.6 .3 6 .4-6.5 .3-16.3 .3 2.2 .4 7.6 .3 .1 .3 9 .4-12.5 .3-1.2 .3 2.3 .4-1.2 .3-5.5 .3 9.7 .4-.3 .3 37.6 .3-21.7 .4 1 .3-24.1 .3 25.9 .4-23.4 .3 3.9 .3 4.3 .4-8.3 .3 4.2 .3-4.4 .4 2.9 .3 21 .3-21 .4-7.5 .3 10.7 .3 13.6 .4 3.9 .3-23.2 .3 5.3 .4-7 .3 34.9 .3-33 .4 1.6 .3 2 .3-.6 .4-4.3 .3 5.8 .3 18.5 .4-5.8 .3-8.6 .3-4.2 .4 17.2 .3-21.9 .3 7.1 .4 12.1 .3-6 .3-4 .4 12.1 .3-17.8 .3 .3 .4 2.7 .3-8.1 .3 14.1 .4-8 .3-.1 .3-2.1 .4 8.8 .3-10.1 .3 12.1 .4-13.5 .3 19.4 .3-17 .4 7.5 .3-9.7 .3 17.2 .4 .2 .3-1 .3-14.4 .4 .9 .3 12 .3 19 .4-25.5 .3-4.1 .3 29.4 .4-19.9 .3 10.5 .3-7 .4 12 .3-26.8 .3 1.1 .4 4.4 .3-8.1 .3 14.5 .4-8.6 .3-4.7 .3-1.1 .4-1.3 .3 17.6 .3-15.6 .4-1.7 .3 29.8 .3-32.1 .4 6.3 .3-8.9 .3 7.7 .4 8.6 .3 3 .3-9.3 .4 27.7 .3-11.3 .3-16.8 .4 12.7 .3-3.5 .3-5.5 .4-4.4 .3 .2 .3-5.7 .4 6.1 .3 22.6 .3-26 .4 14.6 .3-14.6 .3-2.7 .4 7.4 .3-2.9 .3 14 .4 18.3 .3-38.2 .3 5.1 .4-5.6 .3 12.1 .3-11.5 .4 11 .3-8.4 .3 2.6 .4 25.6 .3-23.8 .3 16.4 .4-21.4 .3-3.4 .3 7.9 .4 24.1 .3-23.2 .3 4.9 .4 1.9 .3 4.1 .3-7.5 .4-8.9 .3 28.8 .3-24.5 .4 6.2 .3-4.4 .3-1 .4 4.4 .3 3.1 .3-1.5 .4 5.1 .3-11.3 .3 20.3 .4-19 .3 31.6 .3-24.2 .4 14.1 .3-16.8 .3-8.5 .4 3.8 .3 20.7 .3-3.4 .4-25.5 .3 7.6 .3 2.5 .4-3.4 .3 21.2 .3-18.8 .4 1.6 .3-1.9 .3-8.1 .4 9 .3-.7 .3 7.6 .4 2.5 .3-16.1 .3 3.7 .4-3 .3 4.5 .3 .5 .4-4.4 .3 1.7 .3 16.2 .4 11.7 .3-6.7 .3 2.7 .4-14.1 .3-15.9 .3 20.1 .4-10.6 .3-3.3 .3 6.6 .4 7.5 .3-14.2 .3-3.9 .4 19.6 .3 1.6 .3-17 .4 .6 .3 9.7 .3-2.3 .4 15.6 .3 .8 .3-4.8 .4-19 .3-10.7 .3 18.2 .4-3.2 .3-6.1 .3-5.7 .4-.9 .3 7.1 .3 16.6 .4-23.7 .3 18.7 .3 10 .4-9.3 .3-15.6 .3 3.6 .4 14.1 .3-11.3 .3-5 .4 13 .3-6.1 .3 3.2 .4-11 .3 8.5 .3 18.7 .4-30.1 .3 9.4 .3 4.1 .4-4.6 .3-1.8 .3-4.4 .4 4.3 .3 .6 .3 1.1 .4 21.5 .3 3.8 .3-15.2 .4 8.7 .3-26.4 .3 15.1 .4-13.3 .3-3.9 .3 20.6 .4 .9 .3 2.2 .3-13.4 .4 3.8 .3 22.3 .3-13.9 .4-15 .3-1.4 .3 9.6 .4-6.5 .3-.8 .3 .5 .4 9.3 .3-5.3 .3-9.5 .4 4.3 .3-1.2 .3 23.1 .4-4.8 .3-22.1 .3 6.3 .4-8 .3 11.3 .3-4.5 .4 2 .3 4.2 .3-2.9 .4 2.8 .3-1.9 .3-1.9 .4 5.9 .3 6.8 .3-20.1 .4 22.2 .3-3.4 .3-7.9 .4 9.1 .3-15.1 .3 13 .4 3.2 .3-21.7 .3 12.3 .4-12.4 .3 7.5 .3-2.5 .4 15.5 .3-14.1 .3 2.1 .4-7.8 .3 6.2 .3-2.2 .4-7.6 .3 41.7 .3-6.3 .4-18.3 .3 17 .3-20.7 .4 22.1 .3-36.5 .3 7.2 .4 13.6 .3-3.3 .3-11.1 .4 15.3 .3 7.5 .3-22.3 .4 .7 .3-4.8 .3 13.6 .4-1.1 .3-3.3 .3 19.4 .4 10.6 .3-22.5 .3-8.7 .4 16.1 .3 9.4 .3-9.4 .4-17.8 .3 5.4 .3 26.1 .4-40.7 .3 29.4 .3-5.6 .4 9.6 .3-22.3 .3 12.2 .4-19.1 .3 14.4 .3-9.7 .4 16.7 .3 13.6 .3-16.8 .4-11 .3 6.4 .3-6.4 .4-10.5 .3 10.4 .3-2.5 .4 31.6 .3-17.3 .3 9.4 .4-10.6 .3-17.9 .3-2.2 .4 16.4 .3-7.3 .3 3.8 .4-5.3 .3-6.2 .3 27.3 .4-4 .3-14.4 .3-11.3 .4 10.2 .3 1.7 .3-.6 .4-.8 .3-.4 .3-2.2 .4-3.3 .3 30 .3-28.7 .4 23.3 .3-16.8 .3 36.4 .4-42.6 .3 2.1 .3 .2 .4 .1 .3 4.5 .3-9 .4 11.1 .3 3.6 .3-6.7 .4-6 .3 .5 .3 .9 .4-1.2 .3 16.7 .3 7.8 .4-26.3 .3 1.5 .3 11.2 .4 5.3 .3-12.4 .3 21.1 .4-2 .3-20.2 .3 8.3 .4 14.6 .3-13.7 .3-11.6 .4 .2 .3 6.4 .3-2.7 .4 2.4 .3-2.8 .3 5.6 .4-11.6 .3 12.5 .3 2 .4-13.7 .3 29.8 .3-25.9 .4 23.7 .3-11.3 .3-11.2 .4-5.2 .3 12.8 .3-4.8 .4-2.1 .3 11.1 .3-17.1 .4 4.6 .3 17.2 .3-16.5 .4 8.1 .3-8 .3 17.9 .4-19.6 .3-.8 .3 17.3 .4-17.5 .3 26.4 .3-14 .4-8.1 .3 1.9 .3-8.5 .4 22.8 .3-7.1 .3-7.4 .4-10.3 .3 6.6 .3 29.8 .4-31.9 .3 31.2 .3-27.8 .4-1.9 .3 18.7 .3-10.5 .4-12.3 .3 2.9 .3-.5 .4 22.9 .3-25.9 .3 36.3 .4-27.8 .3-7.5 .3 3 .4 2 .3 18.2 .3 12.3 .4-34.6 .3 8 .3-2.2 .4-2.9 .3 20.2 .3-23.6 .4-1.5 .3 22.5 .3 12.1 .4-27.8 .3-5.3 .3 13.7 .4 6.6 .3-1.9 .3-2.6 .4-14 .3 .1 .3 2.7 .4-5.1 .3-9.4 .3 20 .4 3.4 .3 .3 .3-.8 .4-14.1 .3 16.8 .3-5 .4-11 .3 11.8 .3-6.3 .4-1.3 .3 25 .3-15.7 .4-6.2 .3 .4 .3-5.1 .4 3.1 .3-1.3 .3 9.5 .4-1.5 .3 10.1 .3-17.4 .4-2.1 .3-4.8 .3 18.1 .4 6.7 .3-17.3 .3 12.3 .4-16.5 .3 2.9 .3 24.8 .4-23.9 .3 21.4 .3-21.3 .4-1.2 .3-2.9 .3 9.3 .4 13.2 .3-21.1 .3 1.5 .4 1.2 .3 16.5 .3-19.7 .4 20.9 .3-20.1 .3 16.9 .4-11.3 .3-6.6 .3-.4 .4-2.7 .3 28 .3-22.8 .4 3.7 .3-2.5 .3-3.2 .4 11.9 .3-10.1 .3 24.1 .4-28.1 .3 10.6 .3 4 .4-11 .3 1.5 .3 8.1 .4-1.6 .3-8.2 .3-1.5 .4 .2 .3 17.2 .3-12.7 .4-1.1 .3-.3 .3 10 .4-10 .3 15 .3-18.8 .4 15.1 .3-20.5 .3 13.3 .4 3.4 .3 1.5 .3-4.9 .4 3.1 .3-10.4 .3 2.9 .4 .3 .3 9.5 .3-11 .4 6.3 .3-6.5 .3-5.4 .4 22.3 .3-22.9 .3 32.7 .4-12.8 .3-5.5 .3-14.2 .4 5.5 .3-6.9 .3 14 .4-8.8 .3 3 .3-2.4 .4-.2" fill="none" stroke="#3b528b" stroke-width="2.8" stroke-linejoin="round" stroke-linecap="square" clip-path="url(#cb)"/>
<path d="M1169.5 569.7l.3 3.8 .4 17.4 .3-8 .3-7.5 .4 9.1 .3-6.8 .3-6.3 .4 4.1 .3-1.5 .3 23.9 .4-26.8 .3 20.9 .3-12.4 .4-5.5 .3 2.3 .3 10.5 .4-15 .3 15.6 .3 .8 .4 1 .3-1.1 .3-12.4 .4 .8 .3-1 .3 9.8 .4-8.6 .3 16 .3-15.3 .4 3.3 .3 2.5 .3-3.5 .4-2 .3 16.5 .3-15.8 .4-10.5 .3 4 .3 2.7 .4 4.5 .3-6.7 .3 6.3 .4 10.6 .3-13.5 .3 21.8 .4 5.6 .3-32.2 .3 3 .4 3.2 .3-7.8 .3 18.8 .4-9.8 .3 4.3 .3 15.5 .4-4 .3-15.7 .3 14.4 .4-22.7 .3 9.9 .3 2.7 .4 2.6 .3-6.9 .3 .9 .4 8.8 .3-14.1 .3 3.5 .4 30.1 .3-34.9 .3 34.1 .4-22.6 .3 2.1 .3-14.6 .4 3.9 .3 1.1 .3-2.3 .4 14 .3-7.7 .3-.7 .4-2.8 .3 7.9 .3-2.5 .4-2 .3-.7 .3-6.1 .4 3.6 .3-3.1 .3 15.7 .4-20.1 .3 6.1 .3 .3 .4 20.2 .3 2.2 .3-23 .4-.8 .3 3 .3 5.7 .4 19.8 .3-26.6 .3-1.4 .4-.6 .3 18.4 .3-16.9 .4 24.8 .3-22.9 .3 17.4 .4-21.7 .3 1.3 .3-.3 .4 15.3 .3 25.7 .3-.8 .4-30.9 .3-14 .3 8.2 .4-5.5 .3 3.9 .3 1.2 .4-3.3 .3 20 .3-10.8 .4 21.5 .3-18.3 .3-9.7 .4 .4 .3 3.2 .3-3.5 .4-11.9 .3 1.4 .3 38.9 .4-25.2 .3-2.9 .3-5.5 .4 16.3 .3-11.1 .3-6.6 .4 1.9 .3 5.4 .3 6.8 .4-9.6 .3-5.8 .3 10 .4-14.7 .3 10.8 .3 1.2 .4 15.1 .3-4.2 .3-14.7 .4 1.4 .3-.4 .3 8.7 .4-4.1 .3 7 .3-2.3 .4-5.1 .3 4.3 .3-6.2 .4-12.2 .3 10.5 .3 5.4 .4-6.2 .3 1.2 .3 .1 .4 7.2 .3-5.1 .3 14.6 .4-16.1 .3-7 .3 5.6 .4-1.2 .3 4.8 .3 6.4 .4-9 .3 4.5 .3 11.7 .4-12.7 .3-7.2 .3 17.7 .4 4.2 .3-14.4 .3 14.9 .4-3.2 .3 4.2 .3-16.2 .4 8.8 .3 7.1 .3-11.4 .4-9.2 .3 20.2 .3-5.8 .4-9.4 .3 1.8 .3-5.3 .4 4.7 .3-1.6 .3 29.4 .4-20.5 .3-1.8 .3-17.2 .4 7.4 .3-4.4 .3 41.5 .4-39 .3 11.6 .3-12.6 .4 37.2 .3-30.7 .3-5.5 .4 4.2 .3-3.3 .3 14.4 .4-15.8 .3 12.6 .3 15.2 .4-34.8 .3 7.7 .3 18.4 .4 4 .3-8.3 .3-10.4 .4-2.9 .3 14.7 .3-24 .4 14.2 .3-3 .3-.5 .4 31.9 .3-31.8 .3-2.4 .4 17.6 .3-15.6 .3-1.8 .4 6.3 .3-3.1 .3 19.4 .4-29 .3 24.4 .3-15.3 .4 12.7 .3 7.2 .3-23.7 .4 11.4 .3 15.4 .3-24.6 .4-1.3 .3 22.8 .3-13.6 .4-8.6 .3-2.8 .3 3.8 .4 9.5 .3-2.1 .3-7.8 .4 17.3 .3-3.1 .3-18.6 .4 17.1 .3-6.3 .3 .5 .4 9 .3-16.2 .3 15.8 .4-1.6 .3-13 .3-2.6 .4 2.5 .3 10.1 .3 2.4 .4-12 .3 5.6 .3-11.1 .4 5.8 .3-14.5 .3 24.2 .4-19.7 .3 4.7 .3 .9 .4 5.2 .3 .1 .3 5.3 .4-9.4 .3 12.5 .3-7.8 .4 4.9 .3-10.2 .3 4.5 .4-8 .3 28.8 .3-11.9 .4 3.5 .3 15.4 .3-22.8 .4 2.7 .3-9 .3 39.1 .4-43.8 .3 8 .3-7.8 .4 3.3 .3-2.2 .3 12.4 .4-17.2 .3 33.2 .3-1.5 .4-19.5 .3 1.4 .3-5.2 .4 15.2 .3-14.6 .3 9.7 .4-2.7 .3-20.1 .3 8.6 .4-.2 .3 15.2 .3-1.5 .4-8.2 .3 .4 .3 7.1 .4 2.5 .3-7.9 .3 7.1 .4-4 .3-4.4 .3-9 .4 2.1 .3 17.9 .3-6.1 .4 6.4 .3-9.2 .3 2.3 .4-1.3 .3-4.5 .3 6.3 .4 20.1 .3-9.6 .3-12.9 .4-1.1 .3-3.8 .3 4.9 .4-9.6 .3-6.7 .3 11.7 .4 9.2 .3-13.2 .3 5.2 .4 15.5 .3-21.4 .3 13.5 .4 10.5 .3-16.8 .3 11.3 .4-16.8 .3 18.3 .3-13.8 .4-3.4 .3 8.6 .3-11.2 .4 3 .3 2.2 .3 .1 .4 .3 .3 21.3 .3-6.5 .4-17.6 .3 11.8 .3 15.6 .4-13.1 .3-13.7 .3 30.2 .4-17.7 .3-2.3 .3-5.2 .4-3 .3-4.8 .3 36.7 .4-36.7 .3 14.9 .3-14 .4-2.8 .3 22.2 .3-23.7 .4 10.5 .3 11 .3-13.3 .4-2.7 .3 6.9 .3-6.8 .4 .9 .3 22.9 .3-8.9 .4-17.6 .3 21.2 .3-3.6 .4-8.2 .3-7.3 .3 2.9 .4-9.8 .3 8.9 .3-8.3 .4 16 .3-12.1 .3 17.6 .4-11 .3-4.1 .3 11.4 .4 .4 .3 13.6 .3-3.5 .4 1.7 .3-14.8 .3-7.8 .4 23.5 .3-1.2 .3-13.9 .4 8.2 .3-25.2 .3 10.9 .4 5.5 .3-8.1 .3 9.5 .4 1.5 .3 12.2 .3-29.6 .4 18.1 .3 .5 .3 7.5 .4 5.2 .3-18.5 .3-8.1 .4 11.6 .3 5.2 .3-8.3 .4-3.9 .3-8.3 .3 2.6 .4 9.6 .3 2.2 .3-7.1 .4 16.2 .3-18.4 .3 18.1 .4-14.9 .3 3.9 .3 11.9 .4-10.7 .3-4.3 .3 21.1 .4-13.5 .3-2.3 .3 1.5 .4 7.2 .3-20.3 .3 3.9 .4-2.1 .3 21.7 .3-20.9 .4-4.7 .3 13.3 .3-8 .4 1.2 .3-2.7 .3 33.2 .4-15.7 .3-3.2 .3-12.1 .4-.9 .3 19.6 .3-21.7 .4 32.4 .3-40.9 .3 25.9 .4 4.6 .3-1.9 .3-22 .4 7.2 .3 16.1 .3-19.7 .4 10 .3-9.7 .3 13.9 .4-16.4 .3 3.2 .3 .7 .4 26.1 .3-26.1 .3 6.9 .4 .1 .3-8.6 .3 2.6 .4 9.7 .3 20.2 .3-13.5 .4-9.8 .3-9.8 .3 3.5 .4-8.4 .3 8 .3-4.2 .4 .9 .3 4.7 .3-.1 .4 14 .3-17.3 .3 8.2 .4-4.1 .3-.8 .3 12.5 .4-17.4 .3 22.6 .3-14.6 .4-5.3 .3-1.2 .3-3.8 .4 1.9 .3 3 .3-3 .4 5.3 .3-6.8 .3 13.4 .4 15 .3-38.6 .3 27.5 .4-15.6 .3 2.7 .3-.7 .4 1.9 .3-2.2 .3 9.2 .4 12.4 .3-15.9 .3-4.9 .4 17.5 .3-17.6 .3 8.5 .4-9.8 .3 0 .3 1.3 .4-1.4 .3 2.8 .3-.7 .4 8.4 .3-8.9 .3 .3 .4-3.6 .3 15.4 .3-16.3 .4 21.7 .3-16.8 .3 7.7 .4 .6 .3-1.5 .3-2.5 .4-10.6 .3 5.5 .3-.2 .4-3.3 .3-1.6 .3 8.2 .4-12.6 .3 16.9 .3-10.6 .4 3.6 .3 27.9 .3-17.5 .4-6.5 .3-2.6 .3-6 .4 8.8 .3 3.2 .3-3.5 .4-4.1 .3-5.2 .3 3.2 .4 1.5 .3 1.2 .3-4.9 .4 .9 .3 9.6 .3-10.1 .4 3.7 .3 10.3 .3 6.6 .4-16.9 .3 3.3 .3-6.6 .4 17.5 .3-18.5 .3 12.5 .4-9.8 .3-4.6 .3 22.2 .4-20.4 .3-3.6 .3 10.2 .4 6.8 .3-7.5 .3 .9 .4-3.8 .3-2.1 .3 30.6 .4-30.8 .3 22.4 .3 18.1 .4-50 .3 22.1 .3-2.9 .4-3.8 .3 6.9 .3-13.2 .4 4.8 .3-.8 .3 .2 .4-2.4 .3 13.2 .3-19.5 .4 16.2 .3 5.4 .3-3.1 .4-23.6 .3 12.4 .3 8.1 .4 10.8 .3-2.7 .3-17.2 .4 2.4 .3 6 .3 22 .4-31.9 .3 8.2 .3 .7 .4 17.5 .3-26.6 .3 30.1 .4-22 .3 7.4 .3 3.6 .4-18.2 .3 11.8 .3-6.2 .4-13.1 .3 17.3 .3-.9 .4-5.7 .3 11.3 .3-14.8 .4 16.8 .3-15.5 .3 15 .4 5.9 .3-23.3 .3 8 .4 2.8 .3-8.3 .3-2.2 .4 3.2 .3 4.7 .3-9.5 .4 10 .3-9.5 .3-2.3 .4 11.7 .3-5.7 .3 9 .4-15 .3 6.3 .3 .1 .4-2.7 .3 13.8 .3 0 .4-15.9 .3-.5 .3 13.5 .4-6.3 .3-.9 .3-8.9 .4 6.8 .3 18.3 .3-19.1 .4 15.6 .3-7.2 .3-10.2 .4 3.8 .3-6.5 .3 13.3 .4-16.6 .3 .1 .3 18.8 .4-9.9 .3-5.7 .3 4.2 .4-3.6 .3 2.7 .3-.6 .4-4.5 .3 4.6 .3 1 .4 19.6 .3-23.4 .3 14.2 .4-4.2 .3-5.3 .3 9.9 .4-6.8 .3-12.1 .3 2 .4 4.2 .3-1.1 .3-1.1 .4-2.6 .3 14 .3-1.5 .4-1.4 .3-9.6 .3-1.9 .4-2.2 .3-1.4 .3 14.1 .4-4.3 .3-7.3 .3-2.9 .4 7.6 .3-6.4 .3 7.3 .4 7.4 .3-16.4 .3-3.3 .4 1.4 .3 9.1 .5-11.4 .5 11.6 .5-13.8 .5 .4 .5-.1 .5-2.5 .5-6.7 .5 1.7 .5-10.5 .5 5.8 .5-6.3 .5 3 .5-1.7 .5 2.8 .5-3.4 .5-10.1 .5-2.5 .5-3.3 .5-5.3 .5-1.6 .5-1.1 .5 .4 .5-4.3 .5-4.3 .5-4.8 .5-2.3 .5 3.1 .5-4.9 .5-6.7 .5-2.4 .5-6.9 .5-9.3 .5-4 .5 .7 .5-8.4 .5-6.6 .5 1.9 .5-2.8 .5-7.1 .5-4.7 .5-3.4 .5-5.9 .5-3.1 .5-3.9 .5-7.3 .5-7.8 .5-4.2 .5-4 .5-3.1 .5-5.7 .5-6.9 .5-1.9 .5-7.7 .5-9.3 .5-3 .5-3 .5-7.5 .5-10.9 .5-8.1 .2-2.3 .2-3 .2-4.6 .2-3.6 .2-4.2 .2-6 .2-9.4 .2-13.9 .2-24.7 .2-50.5 .2-115.9 0 0 .2 115.9 .2 49.4 .2 24.3 .2 15.1 .2 8.2 .2 4.8 .2 7.4 .2 5.7 .2 5.1 .2 4 .2 6.1 .2 2 .2 .2 .5 7.2 .5 2.4 .5 2.1 .5 5.4 .5 5.4 .5 3.9 .5 11.3 .5 15.4 .5 9.1 .5 16.1 .5 .1 .5 4 .5-12.2 .5 1.8 .5 7.7 .5-2.5 .5 1.1 .5 6.5 .5-2.3 .5 .1 .5 4 .5 7.8 .5 6.3 .5 2.9 .5 .4 .5 5.3 .5 5.3 .5 7.7 .5 6.7 .5 3.8 .5 4.4 .5 3.4 .5 4.4 .5 10.7 .5 2.5 .5 5.9 .5 2.1 .5-1.8 .5 8.5 .5 9.5 .5-3.2 .5 6.1 .5 7.5 .5-.8 .5 .4 .5 2.5 .5 1.1 .5 7 .5 2.5 .5 4.7 .5 1 .5 7.4 .5-6 .5 .1 .5 5.1 .5 7.9 .5-9.7 .5 .3 .5 9 .3-9 .4 1.3 .3 9.5 .3-5.1 .4 9 .3-9.6 .3 4 .4-8 .3 7.9 .3-2.9 .4 7.3 .3-10.4 .3 12.5 .4-8 .3 21.3 .3-11 .4-9.1 .3-4.1 .3 9.9 .4-4 .3 7.8 .3-9.3 .4 1.4 .3-3.6 .3 4.9 .4-.3 .3 3.4 .3-3.2 .4 3.4 .3 .2 .3-.2 .4-1.4 .3 10.4 .3-10.3 .4-.2 .3-1.2 .3-7 .4 15.8 .3-12.8 .3 25.5 .4-13.7 .3-5.7 .3-2 .4 1.5 .3-4.1 .3 3.3 .4 1.7 .3-2 .3-7.6 .4 26.9 .3-8.4 .3-9.8 .4-2.7 .3 12.9 .3-9 .4-3.2 .3-7 .3 8.4 .4 .4 .3-1.7 .3 3.3 .4-4.8 .3 7.3 .3 4.3 .4-19 .3 26 .3 19.4 .4-40.2 .3 9.4 .3-.2 .4-3.5 .3-2 .3-1 .4 20.3 .3-1.8 .3-17.9 .4 14.6 .3-3.1 .3-1.9 .4 .7 .3-9.8 .3 2 .4 2.2 .3 4.2 .3-4.5 .4 1.8 .3-11.1 .3 4.9 .4 22.7 .3-2.8 .3-31.6 .4 19 .3-1.9 .3 13.2 .4-3.6 .3 5.1 .3-22.6 .4 18.2 .3-5.1 .3 13.1 .4-21.7 .3 .3 .3 15.5 .4 1 .3-14.4 .3-4.9 .4 5.3 .3 10 .3-11.2 .4 13.2 .3-11.9 .3 4.8 .4 9.2 .3-18.1 .3 27.8 .4-25.7 .3 9.6 .3-3.1 .4-4.3 .3-8.1 .3 5.4 .4 4.1 .3-3.6 .3 9.8 .4-12.3 .3 18.2 .3 4.7 .4-17.3 .3 4.8 .3-7.3 .4-4.4 .3 3.9 .3-1.4 .4 3.5 .3 6.2 .3-7.9 .4-3.6 .3 4.2 .3-4.9 .4 1.7 .3 2.9 .3 7.1 .4 1.6 .3 2.3 .3-21.9 .4 20.2 .3 7.8 .3-17.5 .4 7.5 .3 11.9 .3-22.1 .4 6.1 .3-2.2 .3-4.9 .4 5.8 .3 22.2 .3-14.8 .4 11.5 .3-24.4 .3 5 .4-.8 .3 2.3 .3 4.8 .4-6.4 .3-1 .3 5.4 .4 25.9 .3-17 .3-16.3 .4 3.7 .3 10.1 .3-15.1 .4-.3 .3 4.8 .3 1.4 .4-4.2 .3 11 .3-10.1 .4 1.4 .3-2.7 .3 4.3 .4 11.5 .3-21.2 .3 11 .4 7.7 .3-12.9 .3-4.8 .4 17 .3-6.6 .3-3.3 .4 12.8 .3-12.6 .3 38.6 .4-36.6 .3 19.4 .3-21.4 .4 1.3 .3-.3 .3 13.2 .4-1.4 .3-.2 .3 19.1 .4-28.2 .3-3.5 .3 .6 .4 15.3 .3-.8 .3-15 .4 29.8 .3-19.2 .3-10.2 .4 9 .3-7.1 .3-6.6 .4 20.6 .3-19.9 .3 4.8 .4-.1 .3 .5 .3-11.8 .4 20.3 .3-12.5 .3-5.1 .4 6 .3 17.4 .3 7.3 .4 .4 .3-8 .3-18.8 .4 18.3 .3-25.8 .3 14.6 .4-10.2 .3 6.7 .3 17.1 .4-18.3 .3 1.9 .3-1.6 .4 4.7 .3-1 .3 1.7 .4-1.6 .3 8.7 .3-10.3 .4-1.1 .3-1.5 .3 11.9 .4-12 .3 2.5 .3-2.1 .4 .8 .3 5.7 .3-14.7 .4 16.2 .3 1.1 .3-7.1 .4 .2 .3 2 .3 3.2 .4-.7 .3 13.6 .3-21.1 .4 14.2 .3-16.5 .3 4.4 .4 .7 .3 2.3 .3 1.5 .4-3.3 .3 8.2 .3-8 .4 25.7 .3-31.5 .3 12.8 .4-8.1 .3-4.5 .3-11.6 .4 28.3 .3 8.4 .3-11.3 .4 4.3 .3-13.1 .3 .5 .4 11.4 .3-11.4 .3 5.4 .4-11.9 .3 9.3 .3-9.4 .4 12.3 .3 30.1 .3-39.4 .4 6.4 .3-4.6 .3 12.1 .4-6.5 .3-6.5 .3 12 .4-11.8 .3-3.1 .3-1.3 .4 18.3 .3-17 .3 5.3 .4 .5 .3 7 .3-6.2 .4 1.7 .3 11.3 .3-13.2 .4-.3 .3-2 .3 .6 .4 3.4 .3-8.5 .3 5.7 .4 4 .3-6.4 .3 5.5 .4-8.5 .3 2.3 .3 17.6 .4-16.3 .3 6.7 .3 2 .4-8.8 .3-6.9 .3 13.5 .4 1 .3-15.2 .3 9.9 .4-3.2 .3 .8 .3-1.9 .4 16.7 .3 5.2 .3-18.6 .4-1 .3-.1 .3-.3 .4 1.4 .3 11.4 .3-11.5 .4-6 .3 5.4 .3 2 .4 11.5 .3-8.2 .3 11.2 .4-15.6 .3-1 .3 10.9 .4-14.1 .3 14.6 .3-9.3 .4-3.8 .3 3.2 .3 7.6 .4 4.3 .3-16.5 .3 17.6 .4-14.2 .3 7.3 .3-6.7 .4 10.1 .3-7.4 .3-1.1 .4-6.5 .3 5.8 .3 8.1 .4-8.3 .3 16.9 .3-19 .4 .4 .3-1.6 .3 2 .4-2.4 .3-4.8 .3 6 .4 2.9 .3 3.4 .3-8.2 .4-1 .3 36.9 .3-31.5 .4 7.1 .3-1.8 .3-6.5 .4 15.9 .3-5.7 .3 7.4 .4-25.7 .3 41.1 .3-16.3 .4-6.7 .3-7 .3 .6 .4-7.4 .3 8.1 .3-8.7 .4-7.6 .3 2.7 .3 3.7 .4 18.1 .3-13.2 .3 21.3 .4-12.9 .3 19.7 .3 2 .4-29.4 .3 21.8 .3-23.6 .4 5.7 .3-10.1 .3 1.7 .4 11.7 .3-7.8 .3 13.4 .4-8 .3 0 .3 11.6 .4-18.1 .3 14 .3-12.8 .4 22.4 .3-14.7 .3-11.7 .4-2 .3-1.1 .3 16.2 .4-3.9 .3-1.7 .3 11.5 .4-10.2 .3-5.4 .3 1.2 .4-1 .3 16.5 .3-7.7 .4-1.2 .3 11.1 .3-12.5 .4-5.9 .3-8.7 .3 17 .4-16 .3 16.8 .3-8.4 .4-.9 .3 22.3 .3-20.1 .4 7.6 .3-.5 .3-7 .4 24.2 .3-24.8 .3-5.8 .4 26.9 .3-21.5 .3-.6 .4 1.4 .3 1.6 .3 4.5 .4-8.8 .3-4.9 .3 1.3 .4-.2 .3-1.6 .3 20.7 .4-17.8 .3 6.9 .3-3.4 .4-8 .3 8 .3 7.6 .4-6.7 .3 17.8 .3-17 .4 3.6 .3-1 .3-12.4 .4 7.3 .3-.1 .3 1.5 .4 13.1 .3-12.2 .3 22.3 .4-26.4 .3 2.6 .3-2.7 .4-.9 .3 8.7 .3 0 .4 34.3 .3-16 .3-24 .4 .9 .3-1.3 .3 11.7 .4 1.1 .3-17.3 .3 7.7 .4-2.1 .3 15.3 .3-3.9 .4-18.3 .3 6.9 .3 4.6 .4-4.9 .3 3.9 .3 2 .4 8 .3 1.5 .3 4.2 .4-12.9 .3-7.7 .3-3.1 .4 20.7 .3-21.8 .3 14.4 .4 12.5 .3-36 .3 21.3 .4-6.2 .3 .9 .3 4.1 .4-5.9 .3 12.4 .3-11.2 .4-1.4 .3 10.7 .3-13.4 .4 15.8 .3-8.2 .3 22.5 .4-31.1 .3 5.5 .3-8.3 .4 .3 .3 13.3 .3-4.5 .4-2 .3 .1 .3 22.6 .4-23.5 .3 15.4 .3-6.4 .4 8.2 .3-14.6 .3 2.9 .4-12.4 .3 9 .3 13.2 .4-3.4 .3-3.1 .3 5.4 .4-13.6 .3 23 .3-11.5 .4-11.9 .3 15.1 .3-23.2 .4 9.5 .3-2.9 .3 5 .4 13.7 .3-17.7 .3 .1 .4 8.7 .3 1.2 .3-9.6 .4 5.6 .3 .5 .3-8 .4 11.6 .3 13.1 .3-25.1 .4 19.4 .3 12 .3-34.1 .4 9.4 .3 7.8 .3-10.7 .4 13.8 .3-17.2 .3 4.2 .4 13.2 .3-20.6 .3 17.6 .4 3 .3-8.1 .3-12 .4 3 .3 20.6 .3-22.9 .4 4.4 .3 10.8 .3-8.4 .4-6.2 .3 37.1 .3-37 .4 17.4 .3-15.4 .3 .7 .4 2.7 .3 11.4 .3 17.2 .4-28.8 .3 2.2 .3 18.5 .4-5.2 .3-20.4 .3 4.4 .4 8.2 .3-11.9 .3-7 .4 40.4 .3-31.9 .3 7.2 .4-1.4 .3-3.1 .3-2.9 .4 10.7 .3-1.6 .3-9 .4-8.9 .3 8 .3 21.3 .4 1.8 .3-19.1 .3-6.6 .4 4.8 .3 14.2 .3-12.6 .4 10.3 .3-14.3 .3-3.1 .4 5.7 .3 13.5 .3-5.5 .4-9.5 .3 1.9 .3 20.3 .4-10.5 .3-11.1 .3-4.4 .4 8.4 .3-6.8 .3 5.6 .4 3.1 .3-6.4 .3-8.5 .4 1.6 .3 30.9 .3 8.7 .4-34.6 .3 3.1 .3 .1 .4 1.2 .3-1.4 .3 18.9 .4-18.8 .3 20.5 .3-17.6 .4 .6 .3-5.3 .3-.5 .4-3.4 .3 4.4 .3-3.5 .4 21.3 .3-14.4 .3 13.5 .4 2.5 .3-6.9 .3-13 .4-6.1 .3 23.8 .3-6.8 .4-7.5 .3 10.9 .3-16.9 .4 .2 .3 2.6 .3 5.9 .4 6.7 .3-3.6 .3-.2 .4-9.6 .3-.5 .3 10.3 .4-8.8 .3 3.4 .3-5 .4 .8 .3 14.6 .3 2.7 .4-15.5 .3 22 .3-13 .4-8.6 .3 11.9 .3 7.6 .4-26.2 .3 2.2 .3-4.4 .4 9.2 .3 13.4 .3-15 .4 3.3 .3 28.9 .3-20.3 .4-8.2 .3 16.3 .3-17.1 .4 26.8 .3-26.4 .3-.8 .4-5.8 .3 3.9 .3 2.6 .4-6 .3 5.8 .3-4 .4 13.7 .3-3.4 .3-6.5 .4-6.6 .3 7.1 .3 2.2 .4 25.9 .3-24.6 .3-4.8 .4 0 .3-.5 .3 7.2 .4-5.4 .3 .8 .3-4.6 .4-1.5 .3 15.9 .3-13.3 .4-1.1 .3 29.9 .3-24.5 .4 9.3 .3-14.8 .3 2 .4 2.2 .3-9.4 .3 2.4 .4 15.1 .3-16.7 .3 10.9 .4 9.4 .3-20.3 .3 39.1 .4-32.2 .3-3.8 .3-3.7 .4 27.9 .3-21.5 .3 2.2 .4 18.7 .3 3.3 .3-15.8 .4-8.5 .3 9.5 .3-2 .4-7.5 .3 14.7 .3-12.1 .4-6.5 .3 15.5 .3-10.6 .4-3.4 .3 4 .3 12.7 .4 2.2 .3-12.8 .3 30.1 .4-39 .3 18.7 .3-9 .4-11.4 .3 16.7 .3 1.9 .4-9 .3-3.4 .3 8.2 .4 15.2 .3-24.4 .3-6.6 .4 26 .3-9.1 .3 .1 .4 10.7 .3-20.4 .3 10.2 .4 1.6 .3-11.4 .3-1.2 .4 13.5 .3-12.3 .3 .3 .4 4 .3-6.7 .3 7.8 .4-8.6 .3 7.5 .3-6.7 .4 2.2 .3 10.6 .3-11.4 .4 15.8 .3-17.5 .3 16.4 .4-12.7 .3-1.2 .3-1.9 .4 30 .3-8.9 .3-16.2 .4 13.8 .3-15 .3-3.2 .4 3.5 .3-3.4 .3 5.8 .4 0 .3-2.2 .3 .8 .4-2.3 .3 1.3 .3 8.7 .4-13.6 .3-3.2 .3 3.5 .4 19.3 .3-27.4 .3 10.7 .4-3.3 .3 11.9 .3-13.2 .4 5.8 .3 4.3 .3-4.9 .4-6.3 .3 5.6 .3 22.6 .4-18.7 .3 14.7 .3-16.2 .4 28.3 .3-24.3 .3-6.4 .4 37.6 .3-21.1 .3-11.4 .4-4 .3 .8 .3-4.4 .4 13.4 .3-7.3 .3 1.2 .4-2.8 .3 11.9 .3-13.4 .4 .7 .3 10.2 .3-6.4 .4-4.1 .3 2.4 .3 13.4 .4-10.1 .3-4.8 .3 2.4 .4-8.9 .3 6.4 .3 .4 .4-8.7 .3 21.8 .3-12.4 .4 4.2 .3-5.7 .3-6.9 .4 8.8 .3 4.9 .3-13.6 .4 27.7 .3-24.4 .3 3.7 .4 2.4 .3-.2 .3-.4 .4 6.8 .3-8.6 .3 19.3 .4-18.5 .3 6.9 .3-6.4 .4 9.5 .3-3.8 .3-.6 .4-6.4 .3 15.9 .3-3.7 .4-12.5 .3-3.2 .3 1.9 .4-.5 .3 7.6 .3 15.8 .4-9.7 .3-18.3 .3 .6 .4 5 .3 11.2 .3-10.5 .4 12 .3-12.7 .3 5.2 .4-1.7 .3-2.2 .3-4 .4-.4 .3-.9 .3 11.8 .4-12.9 .3-1 .3 24.3 .4-11.5 .3 2.7 .3-10.4 .4 .7 .3 1.7 .3 .7 .4 7.7 .3-7 .3-1.9 .4-1.7 .3-.2 .3 2.1 .4-.9 .3 1.4 .3-.1 .4 1 .3 31.6 .3-35.9 .4 17.6 .3-21.6 .3 6.1 .4 1.1 .3-5.2 .3 5.5 .4 .8 .3 12.2 .3-9.6 .4-6.6 .3 5.8 .3 7.3 .4-9.3 .3 .4 .3-7.2 .4 19.6 .3-22.4 .3 10.5 .4-14.2 .3 36.6 .3-21.8 .4-1.8 .3 3.3 .3 6.5 .4-8.7 .3-3.5 .3 1.1 .4 34.8 .3-44.9 .3 23 .4 .9 .3-19.3 .3 7.3 .4-2.2 .3-1.5 .3 30.8 .4-24.3 .3 9.6 .3-8 .4-4.9 .3-5.4 .3 4.1 .4 19 .3 3.4 .3-24.5 .4 11.6 .3 4.7 .3-15.8 .4 18.1 .3-14.5 .3 24.9 .4-26.7 .3 18.8 .3-8.1 .4-2 .3 6.3 .3-25.7 .4 20.2 .3-14.3 .3 21.1 .4-19.6 .3 8.5 .3 6.1 .4-9.9 .3-.4 .3-2.9 .4 .6 .3 3.2 .3 7.8 .4-9.7 .3-2.9 .3-5.8 .4 10.5 .3-2.2 .3 25.3 .4-24.7 .3-2.7 .3 22.3 .4-21.1 .3 6.6 .3 9.3 .4 1.4 .3-9.8 .3-.8 .4 8.4 .3-9 .3 2.3 .4-2.8 .3 23.6 .3-2.5 .4-14.4 .3-4.3 .3 15.9 .4-4.2 .3-13.6 .3-22 .4 19 .3 3.2 .3-11.9 .4 5.4 .3 31.4 .3-12.4 .4-12.9 .3 24.3 .3-16.6 .4-7 .3-7.5 .3 20 .4-14.1 .3-11.6 .3 28.9 .4-20.6 .3 2.9 .3 11.5 .4-23.3 .3 22.5 .3-7.7 .4-6.6 .3 7.6 .3-11.5 .4-5.8 .3 12.7 .3-2.8 .4 11.3 .3-10.5 .3 6.6 .4-1 .3-8 .3-1.1 .4 8.6 .3 9 .3-14.5 .4 13.1 .3-1.1 .3-9.3 .4-7.1 .3 11.5 .3-6.4 .4 0 .3 35.5 .3-36.4 .4-4.7 .3 31.3 .3-2.4 .4-19.9 .3 9.6 .3-14 .4 9.9 .3-.2 .3 7.2 .4-18.7 .3 11.9 .3-6.9 .4-7.5 .3 4.7 .3 6.7 .4 5.4 .3-4.1 .3-10.2 .4-4.1 .3 8.8 .3 12.6 .4 18.5 .3-27.9 .3-1.3 .4 4 .3-7.3 .3-1.2 .4 18.8 .3-3.5 .3-13.6 .4 5.2 .3-16 .3 15.1 .4 16.7 .3-23 .3 2.8 .4 13.6 .3-20.2 .3 17.3 .4 5.6 .3-21.5 .3 9.5 .4 3.7 .3-14.2 .3 11.5 .4-8.2 .3 6.5 .3-3.5 .4 1.3 .3 3.2 .3-9 .4 6.2 .3-2.7 .3 32.7 .4-8.2 .3-14.1 .3-13.6 .4-3.7 .3 9.6 .3 15.5 .4-18 .3 11.9 .3-2.2 .4-18.3 .3 7.8 .3-2 .4-3.3 .3 1.7 .3 18.6 .4-14.7 .3-7.5 .3 6.1 .4 .2 .3 .3 .3 17.7 .4 16.3 .3-38.9 .3 17.9 .4-11.6 .3 6.3 .3 4.6 .4-9.5 .3-2.7 .3 11.6 .4 .7 .3-14.2 .3 6.2 .4-8.9 .3 6.8 .3-7.9 .4 21.6 .3-9 .3-13.4 .4 4.3 .3 10 .3-6.5 .4-7.5 .3 17.3 .3-11.3 .4-.2 .3 22.3 .3-4.1 .4-14.6 .3 17.5 .3-19.6 .4 21.5 .3-26.1 .3 1.6 .4 14.3 .3-11.4 .3-.2 .4-3.1 .3 15.9 .3-13.4 .4-6 .3 3.3 .3 15.7 .4 .5 .3 .1 .3-28.3 .4 11.2 .3 7.4 .3-4.1 .4 7.9 .3 12.7 .3-31.8 .4 24.5 .3 8.3 .3-7 .4 11.9 .3 2.8 .3-29.2 .4 8.6 .3-11.5 .3 5.8 .4-14.3 .3 14.9 .3 9.5 .4-17.6 .3 4 .3-2.8 .4 21.3 .3-19.7 .3-2.1 .4 8.8 .3 3.3 .3 5.5 .4-3.4 .3-11.8 .3 2 .4 1.5 .3 7.4 .3-9.9 .4 39.5 .3-41.1 .3 2.3 .4-.1 .3 18.3 .3-22.6 .4-3.5 .3-4.7 .3 21.7 .4 1.5 .3 4.1" fill="none" stroke="#355f8d" stroke-width="2.8" stroke-linejoin="round" stroke-linecap="square" clip-path="url(#cb)"/>
<path d="M1169.5 585l.3-7.1 .4 10 .3-15.3 .3 12.5 .4-15.5 .3 19.3 .3 1.6 .4-5.5 .3-12.1 .3 7 .4-2.4 .3 1.2 .3 16.5 .4-3.5 .3-19.6 .3 17 .4-4.1 .3-2 .3-6.6 .4-1.4 .3 8.3 .3-5.6 .4-.1 .3-1.1 .3 6.5 .4-4.2 .3 8.5 .3-16.5 .4 22.4 .3 6.5 .3-12.5 .4-13.6 .3 19.6 .3-14.5 .4 17.3 .3-25.7 .3 31.9 .4-24.3 .3 9.8 .3-14.9 .4 1.7 .3-3.3 .3 9.9 .4 6.8 .3-16.9 .3 5.8 .4-1.6 .3 .2 .3 21.8 .4-1.1 .3 .7 .3-21.2 .4-4.2 .3 6.9 .3-1 .4 6.7 .3-1.2 .3 12.1 .4-24.7 .3 6.3 .3-.6 .4-2.6 .3 20.6 .3-2.3 .4-1.9 .3-12.3 .3 .6 .4-.4 .3 11.6 .3 10.2 .4-23.5 .3-1.4 .3 24.1 .4-14.7 .3-5.7 .3 8.1 .4-6 .3-3.4 .3 5.3 .4 .3 .3 5.9 .3-10.1 .4 .3 .3-.8 .3-4.6 .4 14.3 .3-4.9 .3 12.4 .4-6.6 .3 30.2 .3-40.7 .4-11.3 .3 19.9 .3-1.6 .4-12.4 .3 21.3 .3-7.2 .4-7.9 .3-.5 .3 37.9 .4-45.8 .3 9.2 .3 26.6 .4-19.7 .3-8 .3-1.5 .4 2.5 .3-5.1 .3 4.2 .4 1.7 .3 17.6 .3-25.6 .4 1.9 .3 1.7 .3-.5 .4 9.8 .3-.4 .3-7.3 .4-9.5 .3 7.1 .3-2.6 .4 2 .3 1.7 .3-1.6 .4 3.9 .3 11.1 .3-12.7 .4-.6 .3 10.1 .3-14.8 .4 4.1 .3 11.9 .3-5.3 .4-5.2 .3-6.1 .3 9 .4-.4 .3 10 .3 5.3 .4-20.7 .3 .4 .3 7.3 .4 4.8 .3-17.3 .3 .6 .4 20.6 .3-7.3 .3 19.3 .4-18.4 .3 14.9 .3-8.5 .4-16.4 .3 1.8 .3 4.4 .4 4.8 .3-5 .3-10.6 .4 22.6 .3-16.2 .3 22.4 .4-27.2 .3 23.1 .3 5.1 .4-21.9 .3 1.3 .3 10.6 .4-20.3 .3 27.6 .3-15.4 .4-7 .3-8 .3 31.4 .4-20.3 .3 30.3 .3-34.4 .4-2.7 .3 1.2 .3 11.1 .4-9.7 .3 10.6 .3-6.3 .4 .6 .3 .1 .3 16.9 .4-4.7 .3-15.1 .3 11.8 .4 12.8 .3-16 .3-16.1 .4 34.6 .3-29.1 .3 5.1 .4 4.8 .3 13.8 .3-25.7 .4 2.2 .3 38.1 .3-32.9 .4 16.2 .3 15.6 .3-27.2 .4 .8 .3-1.1 .3-7.2 .4 20.7 .3-23.8 .3 9.7 .4-3.6 .3-4.6 .3 4.4 .4 4.3 .3-8 .3-4.7 .4 18.8 .3-10.4 .3 13.5 .4-21.6 .3 44.7 .3-28.8 .4-19 .3 6.7 .3 24.4 .4-21 .3 11.7 .3-10.4 .4 5.4 .3-8.4 .3-.5 .4 .2 .3 2.2 .3 15.6 .4-17 .3-3.1 .3 14.8 .4-13.8 .3 4.6 .3-3.7 .4 15.2 .3-15.8 .3 11.8 .4-2.5 .3 9.7 .3-17 .4 .6 .3 23 .3-11 .4-18.8 .3 15.7 .3-12.4 .4 33.3 .3-28.5 .3-6.6 .4 44.3 .3-25.1 .3-16.3 .4 1.1 .3 3.4 .3 7.5 .4 1.3 .3-12.7 .3 3.7 .4-1.4 .3 10.5 .3-19.2 .4 7 .3-2.7 .3 10.9 .4-1.1 .3-.1 .3-6.6 .4-.3 .3-3.7 .3 .4 .4 12.8 .3-8.6 .3 .4 .4 3.3 .3-1.5 .3 4.3 .4-6.2 .3-.3 .3 8 .4-7 .3 14.4 .3 1.9 .4-1.8 .3-8.2 .3-10.5 .4-.3 .3 2.2 .3-.7 .4 13.3 .3-12.6 .3 22.8 .4-4.8 .3-18.4 .3 3.1 .4-.3 .3 4.1 .3-6.7 .4-4.6 .3 27.1 .3-14.3 .4 2.6 .3-9.7 .3 8.4 .4-10.4 .3 3.5 .3-2.5 .4 11.7 .3-15.3 .3 18.8 .4-.9 .3-2.8 .3-8.3 .4 18.8 .3-8.6 .3-9 .4 3.2 .3 20.7 .3-34.8 .4 1.8 .3 19.2 .3-13.3 .4-4.5 .3-3.8 .3 25.3 .4-21.7 .3 9 .3-7.9 .4 28.3 .3-23.2 .3 8.4 .4 .3 .3-6.3 .3-11.7 .4 3.9 .3-.3 .3 13.3 .4-9.3 .3-.8 .3-.9 .4 34.2 .3-8.6 .3-25.2 .4 6.3 .3-5.3 .3-2.5 .4-.3 .3 6.1 .3-4.4 .4-.7 .3 20.9 .3-17.3 .4-5.2 .3 2.3 .3 18.9 .4-7.1 .3-11.4 .3-.8 .4 2.8 .3 .2 .3 4.2 .4 13.9 .3-19.2 .3 9.7 .4-10.8 .3 38.8 .3-26.3 .4-3.8 .3-7.2 .3 17.9 .4-17 .3 12.8 .3-3.8 .4-7.7 .3-2.9 .3 2.4 .4 5 .3-20.8 .3 15.8 .4-2 .3 1.5 .3 8.5 .4-5.3 .3 1 .3-3.7 .4-2.8 .3 1.4 .3-4.7 .4 11.1 .3-6.5 .3 38.7 .4-27.3 .3 7.3 .3-9.7 .4-1.7 .3-2.8 .3-5.3 .4 13 .3 4 .3-18.3 .4-3.6 .3 21.5 .3-19.3 .4 3.9 .3-10.8 .3 40.3 .4-7.9 .3-23.1 .3 3.2 .4 21.8 .3-22.4 .3-3.6 .4 17.2 .3-15.1 .3 26.2 .4-16.5 .3-4.4 .3 10 .4-17.7 .3 19.1 .3-4.9 .4-10.7 .3 12.9 .3-16.4 .4 11.3 .3 .9 .3-13.4 .4-3.3 .3 30.9 .3-23.8 .4 2.2 .3 28.5 .3-24.4 .4 18.2 .3-20.9 .3 8.3 .4-18.3 .3 14.5 .3-10.2 .4-4.5 .3-2.4 .3 7.3 .4-1.2 .3 3.3 .3-3 .4 5.7 .3 2.1 .3 .6 .4 5.5 .3 7 .3-24.1 .4 5.4 .3-.1 .3 .3 .4-5.1 .3 2.7 .3-.1 .4-.9 .3 4.4 .3-1 .4 18.8 .3-19.5 .3 21.4 .4-27.5 .3 15.7 .3 7.4 .4-1.2 .3-18.2 .3 6.5 .4 6.7 .3-13.9 .3 36.4 .4-30.6 .3 4.9 .3 18.7 .4-31.2 .3 3.1 .3-1.2 .4 12.5 .3-6.2 .3-5 .4 2.7 .3-3 .3 23.2 .4 2.1 .3-14.5 .3 2.6 .4-12.7 .3 7.7 .3-10.5 .4 20.6 .3-8.6 .3 1.3 .4-3.2 .3-8.5 .3-4.9 .4-2.1 .3 8.7 .3 .4 .4-1.5 .3 5.2 .3 8 .4-10 .3 11.9 .3 8.3 .4-21.8 .3 10.9 .3 7.7 .4-22.2 .3 2.1 .3 25.7 .4-32.7 .3 16 .3-5.6 .4 27.3 .3-39.2 .3 7.8 .4 33.4 .3-15.2 .3-14.9 .4-.2 .3-1.8 .3-2.7 .4 1 .3 2.2 .3 7.1 .4 .8 .3-2.3 .3-5.9 .4 9.9 .3 5.9 .3-13 .4 16.8 .3-8.1 .3-9.1 .4-4.8 .3-4.1 .3 15.7 .4-3.2 .3-5.5 .3-5.5 .4 18.7 .3 10.8 .3-11.5 .4-6.7 .3-11.4 .3 7 .4 7.2 .3-14.3 .3 16 .4-3 .3-8.4 .3 21.3 .4-8.7 .3 2.8 .3-20.3 .4 8.1 .3 8.2 .3-5.7 .4 6.7 .3-14.9 .3-2 .4 3.8 .3 4 .3-4.7 .4 10.8 .3 5.8 .3-10 .4-1.5 .3-4.2 .3 8.3 .4 21.7 .3-15.3 .3-15.9 .4 31.9 .3-15.6 .3 13.8 .4-13.6 .3 2.7 .3 14.6 .4-27.9 .3-9.1 .3 24.9 .4-8.1 .3-9.8 .3-3.8 .4 19.7 .3-25.9 .3 21.6 .4-18.5 .3 39.6 .3-32.5 .4-.6 .3-5.2 .3 18.3 .4-10.2 .3 4.7 .3-6.5 .4 17 .3-7 .3-12.8 .4 4.2 .3-9.2 .3 6.5 .4-8.7 .3 6.5 .3 2.4 .4-2.4 .3 12.2 .3-12 .4 27.3 .3-18.4 .3 3.1 .4-11.1 .3 8.9 .3-3.5 .4-7.2 .3 1.5 .3 10.9 .4-6.1 .3 3 .3 11.4 .4-25.6 .3 7.7 .3-4.8 .4 13.5 .3 2.4 .3 .8 .4 3.4 .3-10.6 .3 .6 .4-10.1 .3 35.3 .3-35.2 .4-.8 .3 14.3 .3 3.6 .4 5.9 .3-5.1 .3-14.2 .4 23.1 .3-27.9 .3 6.6 .4-2.1 .3 30.3 .3-32.9 .4 17.9 .3-17.5 .3 3.6 .4 16 .3-6.8 .3-13.2 .4 .1 .3 17.9 .3-12.8 .4 2.1 .3 3.7 .3 3.3 .4 8.3 .3-24.5 .3-.4 .4 18.1 .3-18.5 .3 4.6 .4 13 .3-15.8 .3 6.2 .4-1.9 .3-8.6 .3 10.4 .4 8.8 .3-12.3 .3 .8 .4-9 .3 10.6 .3 .4 .4 .4 .3-.1 .3-.2 .4-1.6 .3 .7 .3 .8 .4 7.8 .3-21.2 .3 23 .4-13.1 .3 .4 .3 20.5 .4-9.4 .3-7.8 .3-5.5 .4 11.8 .3-14.7 .3 6.6 .4-1.4 .3 5.3 .3-7.1 .4 5.1 .3-3 .3 2.6 .4-.5 .3 22.1 .3-25 .4-4.3 .3 14.7 .3-10.8 .4 14.5 .3 6.3 .3-21.8 .4 28.8 .3-15.6 .3-11.2 .4 17.6 .3-17.3 .3 17.1 .4-15.3 .3-7.3 .3 6.2 .4-5.1 .3 2.3 .3 .9 .4 12 .3-21.1 .3 8.1 .4-2.1 .3 9.5 .3-2.3 .4-1.4 .3-2.7 .3 10.8 .4-11.9 .3 1.6 .3-1.1 .4 2.2 .3-2.8 .3 14.5 .4-14.7 .3 22.8 .3-26.9 .4-2.2 .3 4.4 .3 3.3 .4-2.8 .3 6 .3 3.6 .4 2 .3 2.2 .3-10.6 .4 5.4 .3 1.4 .3-19.8 .4 27.5 .3-.1 .3-6.3 .4-4.6 .3-6 .3-3.6 .4-1.7 .3 2.9 .3 7.3 .4 6 .3-7.7 .3-15.1 .4 6 .3-2 .3-.2 .4 8.3 .3 2.7 .3 2.1 .4-8.6 .3 2.2 .3 2.2 .4-11.8 .3 6.3 .3 10.3 .4-16.3 .5 5.8 .5 2.8 .5-12.6 .5 2 .5 .8 .5-3.9 .5 .7 .5-5.3 .5 5.7 .5-13 .5 5.3 .5-4.5 .5 1.9 .5 1.8 .5-8.2 .5-1.8 .5 1.9 .5-7.7 .5-1.1 .5-4.9 .5-9.1 .5 3.2 .5-1.5 .5-10.4 .5-2.5 .5 2 .5-4.6 .5-5.5 .5-7.2 .5-4.9 .5-2.3 .5-4.9 .5-3.2 .5-7.7 .5 1.3 .5-1.7 .5-6.5 .5-7.5 .5-5.1 .5-4.3 .5-3.8 .5-2.3 .5-3.4 .5-8.3 .5-7 .5-1.7 .5-2.5 .5-6.9 .5-4.6 .5-4.7 .5-2.4 .5-6.1 .5-10 .5-7.2 .5-8.5 .5-3.3 .5-4.2 .5-6 .5-10.7 .2-9 .2-1.6 .2-1.1 .2-7.3 .2-6.2 .2-5.1 .2-4.1 .2-10.8 .2-17.9 .2-28.8 .2-67 .1-92.2 .1 46.2 .2 98.9 .2 37.2 .2 18.9 .2 9.4 .2 7 .2 5.7 .2 7.4 .2 6.4 .2 5.2 .2 1.3 .2 4.2 .2 4.3 .2 1.7 .5 8.8 .5 7.8 .5 6.5 .5 8.4 .5 3.5 .5-7.6 .5-1.5 .5 11 .5 12.3 .5 17 .5-7.7 .5-1.6 .5 7.7 .5 5.5 .5 4.6 .5 3.7 .5 2.5 .5 3.4 .5 7.2 .5 5.8 .5 3.9 .5 .1 .5-4.9 .5 8.4 .5 7.5 .5 4.3 .5 2.8 .5 3.7 .5 .7 .5 5.5 .5 11.7 .5 5.6 .5 4.1 .5 .2 .5 4.4 .5 11.6 .5 8.4 .5 4.3 .5-.8 .5 5.8 .5 6.4 .5 8.1 .5-6.4 .5 2.8 .5 3.6 .5-3.3 .5 4.8 .5 6.1 .5-2.9 .5 6.4 .5 11.6 .5-10.2 .5 3.4 .5 8.5 .5 7.1 .5 .5 .5-11.4 .5 17.1 .5 1.9 .3-13.4 .3-2 .4 6.8 .3-7.4 .3 13 .4-13.1 .3 2.8 .3-6.6 .4 25.9 .3-22 .3 11.9 .4-11.3 .3 3.4 .3 2 .4-3.8 .3 14.8 .3-14.2 .4 13.6 .3-2.3 .3 3.5 .4-8.4 .3 19.3 .3-18.3 .4 4.9 .3-.5 .3 22.1 .4-5 .3-19.2 .3-8.2 .4-1.6 .3 4.6 .3 6.9 .4 26.3 .3-12.1 .3-11.4 .4-14 .3 15 .3-9.9 .4 1 .3-4.6 .3 25.8 .4-28 .3 29.4 .3-24.4 .4 35.4 .3-37.5 .3 10.8 .4-6.7 .3 15.3 .3 7.1 .4-25.9 .3 8.2 .3-6 .4 12.4 .3-13.5 .3 16.7 .4-16.9 .3 15.4 .3-11.2 .4-.6 .3-2.3 .3 14.7 .4 5.9 .3-35.1 .3 14.6 .4 6.6 .3 16.7 .3-22.4 .4 7.8 .3 3.2 .3 .8 .4-1.5 .3-1.3 .3-9.9 .4-2.5 .3 8.8 .3-5.4 .4 0 .3-1.8 .3-7.7 .4 10.8 .3 .1 .3-2.6 .4 2.4 .3-2.8 .3 9.1 .4 6.5 .3-14.7 .3-.9 .4 8.1 .3-4.6 .3 7.4 .4-11.6 .3 3.3 .3-2.1 .4 1.2 .3-4.1 .3 6 .4 10.6 .3-2.1 .3-8.2 .4-.2 .3-4.7 .3 4.4 .4-1.4 .3-1.3 .3 8.6 .4 5.7 .3-12.9 .3 .8 .4-1.3 .3 .4 .3 14 .4-11.8 .3-2.4 .3 29.5 .4-32.9 .3 20.2 .3-17.2 .4 3.9 .3-1.6 .3-.5 .4 5 .3 6.8 .3-10.9 .4 31.6 .3-35.3 .3 26.5 .4-.1 .3-9.9 .3-16.3 .4-1.9 .3-3 .3 19.3 .4-6.1 .3-4.6 .3-2.9 .4-6.5 .3 9.5 .3 22.1 .4-16.8 .3-10.7 .3 20.4 .4-15.8 .3 5.9 .3 5.3 .4 8.9 .3-29.5 .3 22.9 .4-18.3 .3 26.3 .3-30.3 .4 6.4 .3 11.2 .3 12.6 .4 .4 .3-11.1 .3-13.7 .4 3.9 .3-1.9 .3 4.3 .4 14.4 .3-6.1 .3 15.8 .4-12.1 .3-14.1 .3 23.8 .4-24 .3-2.4 .3 23.5 .4-20.8 .3-.8 .3-.4 .4-5.2 .3 2.7 .3 6.9 .4 9.8 .3-15.2 .3 5.8 .4-9.9 .3 26.5 .3-28.1 .4 6.4 .3 26.3 .3-10.7 .4-21.1 .3 16.7 .3 3.6 .4-16.2 .3 20.6 .3-21.5 .4 5.4 .3 19.1 .3-23.8 .4 3.6 .3 14.2 .3 23.7 .4-41.3 .3 4.1 .3 4.7 .4 11.7 .3-20.3 .3-.9 .4 11.7 .3 .5 .3-6 .4 6.2 .3-4 .3-5.4 .4 .5 .3 18.2 .3 1.4 .4-20.1 .3-8.3 .3 16.8 .4-4.1 .3-10.2 .3 6.7 .4 .9 .3 7.9 .3-7.6 .4 2 .3 10.2 .3-16.1 .4 12.4 .3 9.3 .3-19.7 .4 20.7 .3-7.4 .3-16 .4 8 .3-6.4 .3-2.8 .4-2.4 .3 4.6 .3 10.2 .4-2 .3-10.7 .3-10.4 .4 29.3 .3-13.6 .3-1.1 .4 14.3 .3-15.2 .3-3 .4 13.9 .3-14.3 .3 4.5 .4-.2 .3 25.8 .3-30.3 .4 27.6 .3 17.7 .3-40.8 .4-3.3 .3-3.1 .3 18.8 .4-14.2 .3-.1 .3 15 .4-8.9 .3-12.1 .3 16.9 .4 6.6 .3-15.3 .3-6 .4 24.4 .3-20.4 .3 5.9 .4 9.7 .3 4.2 .3-2.2 .4-14.8 .3-12 .3 5.6 .4 5.5 .3 7 .3-13.7 .4-2.9 .3 25.8 .3-17.4 .4 1.9 .3-14.9 .3 24 .4-14.6 .3-8.4 .3 13.1 .4-7.9 .3 20.2 .3-8.8 .4 5.5 .3 7.2 .3 7 .4-23.9 .3 1.6 .3 12.5 .4-15.2 .3 .3 .3-6.5 .4 7.9 .3-5.8 .3 34.8 .4-14 .3-17.2 .3 7.7 .4-5.9 .3 11.7 .3-12.2 .4-1.6 .3 2.7 .3 15.5 .4-15.1 .3-7.8 .3 1.8 .4-1.4 .3 15.3 .3-10.4 .4-1 .3 1.5 .3 2.3 .4-4.6 .3 3.3 .3 4 .4-2.8 .3-11 .3 7.3 .4 4.1 .3 17.4 .3-15.5 .4-4.7 .3 .3 .3-1.4 .4 12.9 .3-6.6 .3 2 .4-1.1 .3 7.6 .3-19.2 .4 6.7 .3 12.6 .3-12.3 .4-1.3 .3-4.9 .3 5.5 .4 2.5 .3-1.5 .3 9.3 .4-1.9 .3 16.3 .3-12.7 .4 3 .3-7.7 .3-5 .4-2.9 .3 14.4 .3-13 .4 .8 .3-2.1 .3-4.6 .4 6.1 .3 15 .3-11 .4 12.2 .3-21.5 .3 12.9 .4-11.8 .3 6.6 .3 6.3 .4-10.2 .3-1.3 .3-.5 .4 8.6 .3-14.2 .3 27.9 .4-23.8 .3 17.2 .3-7.7 .4-10.1 .3 9 .3 10.6 .4-17.9 .3 3.3 .3-1.1 .4 6.8 .3-10.9 .3 3.5 .4-4.1 .3-5.9 .3 10.3 .4 11.3 .3-10.8 .3 5.6 .4 25.5 .3-38 .3 15.7 .4-14.9 .3 8.2 .3-4.2 .4 19.4 .3-19.4 .3 6.5 .4-7.1 .3 11.8 .3 2.3 .4 .3 .3-9.9 .3-1.3 .4 5.1 .3-3 .3 5 .4-11.9 .3 9.9 .3 14.1 .4-25.3 .3 4.5 .3 21.1 .4-24.3 .3 17.2 .3-17.3 .4 2.3 .3 1 .3-5.3 .4 27.9 .3-30.8 .3 10.9 .4 .2 .3-3.1 .3 9.7 .4-8.3 .3 8.9 .3-9 .4 2.2 .3-6.5 .3 1.6 .4 6.5 .3-6.8 .3 13.7 .4 6.7 .3-20.8 .3 3.2 .4 7.9 .3 3.6 .3-16.3 .4 17.4 .3-12.1 .3 1.1 .4 14.2 .3-6.5 .3-14.8 .4 18.3 .3-4.9 .3-10.2 .4 9.1 .3-8.8 .3 3.2 .4 3.5 .3 5.8 .3-9.2 .4-7.1 .3 7 .3 18.1 .4-24 .3 5.7 .3 7.2 .4-9.5 .3 1.3 .3 9.8 .4 15.7 .3-24.2 .3-6.4 .4 13.9 .3 1.2 .3-15.3 .4 1.2 .3 13.4 .3-13.3 .4 19.2 .3-15 .3-1 .4-.7 .3 16.7 .3-1.6 .4-1.5 .3-16.8 .3 .6 .4 6 .3 13.8 .3-6 .4-.4 .3-11.2 .3 16.6 .4 8.3 .3-18.4 .3-1.7 .4-.1 .3-15.6 .3 3.1 .4 20.7 .3 .4 .3-2.4 .4-20.5 .3 2.9 .3 26.5 .4-28.1 .3 7.2 .3 18.2 .4-4 .3 11 .3-29.9 .4 33.3 .3-24 .3-.7 .4 11.8 .3-14.4 .3-4.1 .4 1.9 .3 9.6 .3 2.6 .4-2.3 .3-3.8 .3-.4 .4-2.2 .3 19.9 .3-14.7 .4-7.3 .3 6.8 .3-7.8 .4 5 .3 1.2 .3 8.9 .4 2.9 .3 8.5 .3-21.2 .4-1.2 .3 20.9 .3-20.1 .4-5 .3 17.8 .3-13.3 .4 19.2 .3-18.1 .3 3.2 .4-11.7 .3 18.1 .3 16.2 .4-17.9 .3 0 .3-13.4 .4 11.7 .3-9.7 .3-1.3 .4 18.5 .3-13.2 .3-3.5 .4-2.4 .3-1.5 .3 1.2 .4 9.6 .3-4 .3 1.6 .4-8.3 .3-6.7 .3 13.8 .4-4.6 .3 27 .3-22.3 .4 .3 .3 25.6 .3-29.1 .4 2.7 .3-1.9 .3 18.3 .4-15.2 .3 20.3 .3-4 .4-6.3 .3-20.1 .3 5.2 .4 8 .3-13.1 .3 25.7 .4 3.5 .3-24.9 .3 36.4 .4-21.4 .3-3.9 .3 16.5 .4 2.1 .3-30.1 .3 14.7 .4-13.3 .3 34.2 .3-18.9 .4-2.5 .3-4.7 .3-6.9 .4 1.9 .3-4.1 .3 1.4 .4 3.4 .3-8.5 .3 3.2 .4 5.2 .3 3.4 .3-2.8 .4 3.5 .3 2.5 .3-10.1 .4 4.2 .3-5.4 .3 15.3 .4-7.7 .3 13.1 .3-24.1 .4 28.8 .3-21 .3-8.4 .4 8.2 .3 8.6 .3 2.2 .4-6.6 .3 13.3 .3 9.4 .4-14.9 .3-18.7 .3 19.7 .4-1.8 .3 16.8 .3-19.9 .4-7.2 .3-.7 .3 17.7 .4-29.1 .3 13.7 .3-7.1 .4 21.1 .3-2.6 .3 21.9 .4-16.9 .3-17.3 .3 14.3 .4-23.5 .3 24.8 .3-.4 .4-6 .3-13.5 .3 1.3 .4-.7 .3-1.9 .3 2.8 .4-3.8 .3 12.9 .3-1.5 .4-3.8 .3-1.3 .3 5.4 .4-12.6 .3 17.9 .3-11.9 .4 33.1 .3-32.6 .3 10.1 .4 6.6 .3-2.7 .3-3.7 .4-10.5 .3-11.3 .3 12.9 .4-6.7 .3 4.9 .3 11.6 .4-5.8 .3-6 .3 14.2 .4-16.8 .3 18.2 .3-2.9 .4 8.6 .3-18.6 .3 4.8 .4-7.3 .3 11.8 .3-7.6 .4-9.2 .3 8.6 .3-9.9 .4 12.8 .3-13.4 .3 5.4 .4-.5 .3 28.9 .3-41.1 .4 19.5 .3-.4 .3 8.3 .4-12.6 .3-6 .3 9.9 .4-4.9 .3-7.9 .3 9.5 .4 1.8 .3 1.1 .3-3.2 .4-1.7 .3 13.3 .3-20.8 .4 26.3 .3-9.1 .3-1 .4 30.6 .3-41.5 .3-.9 .4 19.7 .3-16.6 .3-1.8 .4 20.9 .3-23.9 .3 21.9 .4-15 .3 21.4 .3-24.5 .4-9.4 .3-9.2 .3 35.9 .4-4.6 .3-14 .3-5.2 .4 18.9 .3-17.7 .3 7.5 .4-5.8 .3 5.6 .3-1.2 .4 10.3 .3-17 .3 9.7 .4-2.6 .3 8.6 .3-10.3 .4 4.6 .3 5.7 .3-7.9 .4-2.1 .3 2.4 .3 .3 .4-3.3 .3 19.6 .3-21.5 .4 2.8 .3 .4 .3-1 .4 1.2 .3-2.8 .3 1.2 .4 3.7 .3-4 .3 27 .4-19.8 .3-11.4 .3 2.3 .4 11.9 .3-2.7 .3 10.1 .4-11.6 .3-2.6 .3 7.6 .4-16.4 .3 23.1 .3-15.8 .4 14.1 .3-12.4 .3 10.7 .4 14.4 .3-27.3 .3 .9 .4 18.7 .3-21.7 .3 30.6 .4-18.4 .3-8.5 .3-5.9 .4 2.1 .3 19.6 .3-6.5 .4-8.5 .3 20.3 .3-24.5 .4 15.3 .3-5.2 .3 5.3 .4-16.6 .3 4 .3-2.2 .4 8.3 .3-5.6 .3 22.6 .4-27.3 .3 .4 .3 3.2 .4-9.3 .3 26.2 .3-15.9 .4-.3 .3 20.7 .3-25.5 .4 1.1 .3 19.4 .3-5 .4-16.1 .3 .5 .3 14.9 .4 5.6 .3 9 .3-14.5 .4-16.9 .3 30 .3-27.3 .4-4 .3 25.4 .3-18.4 .4-5.7 .3 10 .3 16.9 .4-19.6 .3 5.1 .3-4.4 .4-11.1 .3 22.3 .3 4 .4-13.8 .3 2.7 .3-10.8 .4 9.2 .3 11.5 .3 3.2 .4-24.2 .3 14 .3-12.8 .4 4.8 .3 6.9 .3-13.3 .4 13.3 .3-8.7 .3 11.1 .4-1 .3-9.4 .3 5.5 .4-4.2 .3-2.9 .3 21.8 .4-19.3 .3 .6 .3 .5 .4-2.1 .3 2.8 .3-6.1 .4 5.8 .3-1.2 .3-.3 .4-5.4 .3 2.6 .3 3.4 .4-5.3 .3 9.8 .3-4.4 .4 16.5 .3-15.5 .3-10.9 .4 6.7 .3 4.1 .3-4.5 .4 4.2 .3-2.3 .3 4.3 .4 5.2 .3 17.2 .3-24.5 .4-2.7 .3 2 .3-1.7 .4-2 .3 10.6 .3 4.3 .4 9.4 .3-20 .3 .4 .4-6.3 .3 5.6 .3 6.1 .4-8.3 .3 7 .3 12.1 .4-16.7 .3 10.5 .3-24.5 .4 23.7 .3-11.8 .3 2.2 .4-.1 .3-.7 .3-3.8 .4 13.8 .3-.9 .3-2.5 .4-2.8 .3-3.4 .3-.4 .4 16.6 .3-16.4 .3 .2 .4-9.7 .3 6.8 .3 7.4 .4 25.5 .3-19.4 .3-16.8 .4 30 .3-24.7 .3-1.1 .4-2.3 .3 .2 .3-3.3 .4 14.1 .3-6.6 .3 2.1 .4-5 .3 2.2 .3 4.6 .4 6.8 .3 15.7 .3-19.2 .4-8.7 .3 14.5 .3-19.1 .4 5.7 .3 26.7 .3-23 .4-3 .3-1.6 .3 0 .4 6.8 .3-3.3 .3 6.1 .4-.6 .3 19.9 .3-29.2 .4 20.9 .3-23.5 .3 .6 .4 0 .3 4.1 .3-5.4 .4 7.8 .3 18.1 .3-18.2 .4 .4 .3 16.1 .3-20.3 .4 .3 .3 39.1 .3-35.4 .4-3.6 .3 6.1 .3-.6 .4 1.6 .3-6.1 .3 7 .4-14.7 .3-4.1 .3 22.2 .4-12.3 .3 0 .3 11.9 .4 5.6 .3-17 .3-2.3 .4 21.8 .3-3.1 .3-16 .4-1.1 .3 8.9 .3-9.7 .4-1.7 .3 9.5 .3-10.7 .4-5.7 .3 2.9 .3 13.2 .4-1 .3 23.7 .3-10.4 .4-3.1 .3-20.3 .3 4.3 .4 1.9 .3 6 .3-8.6 .4 1 .3-10.2 .3 26.6 .4-17.2 .3-.3 .3 1.9 .4-3.4 .3 14.2 .3-8.2 .4-1.3 .3 3 .3-1.5 .4-2.2 .3 5.7 .3 3.9 .4-9.9 .3 .1 .3 4.9 .4 1.5 .3 13.8 .3-14.6 .4 5.8 .3-9 .3 2.9 .4-11.1 .3 34.1 .3-21 .4 1.9 .3-9.8 .3 32.9 .4-27.4 .3-4.3 .3 7.3 .4-11.2 .3-2.7 .3 16.4 .4-9.3 .3 27.9 .3-31.7 .4 15.3 .3-17.7 .3 2.3 .4 3.6 .3 7.2 .3 4.7 .4-8.9 .3-6.6 .3-1.9 .4-.1 .3 5.8 .3-1.6 .4-1.1 .3 6.1 .3-14.2 .4 10 .3 1.5 .3-.5 .4 12.1 .3-10.1 .3 15.1 .4-12.5 .3-7.2 .3-.4 .4-.6 .3 .1 .3 2.5 .4 3.7 .3 21.1 .3-22.2 .4-6.3 .3-.8 .3-4.2 .4 9.1 .3-.8 .3 7.6 .4 11.3 .3-20.7 .3 11.3 .4 1.9 .3-11.2 .3 23.3 .4-29.9 .3 7.9 .3-.3 .4 0 .3-1.2 .3-3.3 .4 9.8 .3 1.5 .3 3.5 .4-11.5 .3-4.7 .3 5.1 .4 15.2 .3 2.8 .3-10.8 .4 4.3 .3-13 .3 6 .4-.5 .3-11.4 .3 7.3 .4 8.9 .3-4.3 .3 10.3 .4-14.5 .3 7.4 .3 16.2 .4-32.9 .3-.9 .3 19.6 .4-11.1 .3 3.2 .3-3.1 .4 .8 .3-.3 .3-4.8 .4 3.2 .3-4.9 .3 24.6 .4-16.3 .3 7.9 .3-6.7 .4-4 .3 7.8 .3-5.7 .4-7.3 .3 21.5 .3-6.4 .4 1.4 .3-.3 .3-11.4 .4 16.3 .3-5.8 .3 2.8 .4-12.2 .3 10.6 .3 .2 .4-16.5 .3 1.1 .3 9.4 .4-5.2 .3-2.2 .3 1.5 .4 11.3 .3-1 .3-5.5 .4 20 .3-14.7 .3-5.7 .4-2.5 .3-2.9 .3 15 .4-16 .3 8.9 .3-9.2 .4-.1 .3 14.9 .3-8.4 .4-3.7 .3-1.6 .3 2.3 .4 2.4 .3-1 .3-5.2 .4 17.5 .3-23.8 .3 18.9 .4-11.3 .3 4.2 .3-7.5 .4 5.7 .3 15.5 .3-14.5 .4 12.5 .3 2 .3 7.8 .4-22.6 .3 1.7 .3 4.9 .4 1.7 .3-13 .3 19.4 .4 1.1 .3-19.3 .3 24 .4-21.1 .3 4.2 .3-2.8 .4 10.4 .3 .3 .3-10.8 .4-4.8 .3 9.1 .3 15.9 .4-34.4 .3 8.2 .3 29.3 .4-22.6 .3 6.1 .3-7.7 .4 9.4" fill="none" stroke="#2f6c8e" stroke-width="2.8" stroke-linejoin="round" stroke-linecap="square" clip-path="url(#cb)"/>
<path d="M1169.5 572.1l.3 18.4 .4-13.7 .3-4.5 .3 8.2 .4 26.4 .3-16 .3-6.9 .4-8.4 .3 15.3 .3-12.4 .4-11.3 .3 11 .3 10.4 .4-14.8 .3-6 .3-5.1 .4 5.4 .3 43.3 .3-37.5 .4 .9 .3 1.8 .3 39.6 .4-32.5 .3 19.1 .3-30.4 .4 15 .3-9.4 .3-.3 .4 .6 .3-7.4 .3 7.4 .4 1.5 .3-.1 .3-4.9 .4 7 .3-2.6 .3 8.2 .4 3.5 .3-11.7 .3 11 .4-17.5 .3 8 .3 1.7 .4 0 .3-5.8 .3-1 .4 10.8 .3 7.8 .3-26.8 .4 48.8 .3-32.2 .3 6.6 .4-8.8 .3-6 .3 1.8 .4 7.9 .3 6.7 .3-10.3 .4 19.9 .3-32 .3-.1 .4 2.2 .3-1.7 .3 24.6 .4 4.2 .3-8.8 .3 .3 .4-17.9 .3 42.1 .3-41.3 .4 4.3 .3 5.9 .3-5.5 .4 .4 .3-2.5 .3 5.6 .4-.7 .3-6.6 .3 .5 .4 3.2 .3-1.5 .3 .1 .4-.7 .3 1.3 .3 0 .4-11.2 .3 35.1 .3-23.7 .4-2.4 .3 17.8 .3-19.6 .4 3.5 .3 1.1 .3-8.6 .4 26.4 .3 .9 .3-13.9 .4-3.1 .3-1.5 .3-1 .4 .2 .3-.4 .3-5.8 .4 22.6 .3-16.4 .3 9.8 .4-14.2 .3 5.3 .3-2.4 .4 9.2 .3 11.6 .3-9.4 .4-19.6 .3 21.8 .3-23.4 .4 7 .3 4.1 .3 1 .4-1.6 .3 8.7 .3 7.4 .4-14.3 .3 12.8 .3-10.5 .4-.1 .3-4 .3 36.8 .4-31.7 .3-7 .3 3.4 .4-7.9 .3 19.6 .3-13.8 .4-.7 .3 16 .3-14.9 .4 1.5 .3-.8 .3-4.7 .4 6 .3 25.1 .3-10.5 .4-9.5 .3 10.2 .3-.4 .4-18.7 .3 3.2 .3 19.9 .4-14.2 .3-10.8 .3 23.9 .4-28.1 .3 20.7 .3-6.5 .4 9.6 .3-14.6 .3-4 .4 15.3 .3-11 .3-4.8 .4 .4 .3 42.7 .3-33.5 .4-8.5 .3 .3 .3-5.8 .4 21.7 .3-13.8 .3 19 .4-16 .3-5.2 .3-.2 .4 6.6 .3 2.5 .3-11 .4 33.8 .3-28.6 .3-3.8 .4 3.6 .3 .1 .3-3.3 .4 11.6 .3 18.8 .3-22.5 .4 13.9 .3-21.4 .3 10.8 .4-12.5 .3 2.7 .3 15.4 .4-19.4 .3 19.4 .3-15.6 .4 24.9 .3-24 .3-3 .4 3.8 .3-1.2 .3 19.9 .4-17.1 .3 11.7 .3-11.8 .4-.5 .3 .4 .3 11.6 .4-13.5 .3 27.1 .3-11.5 .4-3.2 .3 1.5 .3-14.8 .4-9.5 .3 12.8 .3-2.8 .4 23.4 .3-10.4 .3-11.4 .4-6.2 .3 5.6 .3 5.5 .4-11.3 .3 22 .3-10.9 .4 18.5 .3-20.6 .3 .9 .4 10.3 .3-16.9 .3-4.4 .4 7 .3-1.1 .3-.1 .4-2.4 .3 23.3 .3-13.3 .4 .4 .3-1.3 .3 .9 .4 8.7 .3-11.4 .3 17.2 .4-24.3 .3 2.1 .3-.3 .4 11.9 .3 6.6 .3-16.4 .4 9.6 .3-18 .3 19.7 .4-14.2 .3 10.4 .3-15.5 .4 12.8 .3 12.9 .3-18.8 .4-5.8 .3 1.8 .3 34.8 .4-28.8 .3-.1 .3-3.5 .4-.9 .3-1 .3 12.8 .4-4.5 .3-3.9 .3-6.4 .4 15.9 .3 1.8 .3-20.8 .4 11.1 .3-13.9 .3 10.7 .4-2.6 .3 10.9 .3-3.5 .4 2.1 .3-.2 .3 2 .4-4.7 .3 2.8 .3-13.1 .4 26.5 .3-21.5 .3 35.5 .4-7.9 .3-20.4 .3-.1 .4-4.8 .3 13.8 .3-20.3 .4 12.7 .3-7.1 .3 2.9 .4-1.7 .3-7.1 .3 8.7 .4-6.9 .3 5.2 .3-1.8 .4 4.4 .3-10.9 .3 9.9 .4 1.4 .3-9 .3 10.4 .4-13.1 .3 33.6 .3-6.4 .4-15.9 .3-9.9 .3 25.1 .4-19.8 .3 16.1 .3-9.9 .4 1.7 .3-3.4 .3 24.9 .4-32.7 .3 5.5 .3 31.7 .4-30.4 .3 11.3 .3-8.7 .4 7.6 .3-10.6 .3-5 .4 25.7 .3-8.1 .3 17.2 .4-17.5 .3-16.4 .3 17.2 .4-21.1 .3-3.5 .3 14 .4-2 .3 10 .3-15.7 .4-4.8 .3 8.4 .3-.6 .4 23.4 .3-20.4 .3-.6 .4-1.3 .3 7.8 .3 22.3 .4-27.1 .3-6.1 .3 8.7 .4-9.3 .3 9.9 .3-11 .4 37.6 .3-39.3 .3 7.4 .4 .3 .3 17.6 .3-23 .4 5.4 .3 2.6 .3-1.5 .4-1.8 .3 21.5 .3-19.6 .4-2.2 .3 19.1 .3-25.3 .4 14.5 .3-.2 .3-16.5 .4 8.8 .3 14.4 .3-7.4 .4-17.1 .3 19.1 .3-15.8 .4 14 .3-6.8 .3-1.1 .4 18.4 .3-7.7 .3-8.3 .4 27.6 .3-24.2 .3-1.2 .4 3.3 .3 2.3 .3-11.1 .4 7.8 .3 14.4 .3 2.8 .4-22.6 .3 23.4 .3-4.5 .4-18.9 .3-9.5 .3 8.1 .4 6.9 .3-4.1 .3 5 .4 26.3 .3-24 .3-10.5 .4 1.5 .3-5.4 .3 2.6 .4-.5 .3 1.5 .3-3.4 .4 7.7 .3-8.3 .3 5.5 .4 12.9 .3-10.8 .3 .1 .4-2.8 .3-3.5 .3 6.5 .4 7.6 .3-7.8 .3-4.5 .4 15.3 .3 11.5 .3-24.9 .4-6.3 .3 2.1 .3 4.2 .4-6 .3 4.7 .3-2.1 .4-4.6 .3 22.4 .3 .2 .4-18.7 .3 6.4 .3 13.9 .4-7.1 .3-22.1 .3 19 .4-6.5 .3 12 .3-14.9 .4 7.4 .3 7.6 .3-6.7 .4-4 .3 23.3 .3-17.9 .4-1.4 .3-3.8 .3-1.9 .4-4.3 .3 6.2 .3 11.6 .4 2.1 .3-24.8 .3 10.5 .4 11.9 .3 8.5 .3-24.2 .4 .6 .3 12 .3-.9 .4-7.1 .3-4 .3-1.1 .4 39 .3-25.2 .3-16.6 .4 11.3 .3 1 .3 19.3 .4-11.9 .3-6.2 .3 9.6 .4-15.4 .3 5.9 .3-6.3 .4-3.6 .3 2.4 .3-5.6 .4 35.3 .3-19.2 .3-14.3 .4 4.1 .3-5.8 .3 8.2 .4-6.7 .3 5.3 .3 2.3 .4 4.3 .3 1.2 .3-7.1 .4-.6 .3 2.3 .3-8.3 .4 7.3 .3 18.4 .3-23.7 .4 2.4 .3-1.9 .3 2 .4 7.1 .3-3.8 .3-9 .4 32.5 .3-27 .3 22.2 .4-18.4 .3 1 .3 2.5 .4-10.6 .3 6.6 .3-4.8 .4-8.3 .3 4 .3 15.5 .4-4.7 .3-2 .3-.9 .4-3.2 .3 2.4 .3 1.1 .4-4.7 .3 6.3 .3-3.3 .4 19.6 .3-22.7 .3 15.4 .4-18.8 .3 14.3 .3-16.3 .4 5.9 .3 16.4 .3-17.1 .4 11.1 .3-8.2 .3-7.4 .4 11.3 .3 4.3 .3 8.5 .4-16.4 .3 1.8 .3 5.8 .4-10.5 .3 24.7 .3-25.1 .4 7.3 .3-5.4 .3 2.8 .4 5.9 .3-3.4 .3-4.6 .4 1.7 .3-3.5 .3 12.8 .4 9.1 .3-.9 .3-12.2 .4-7.4 .3 6.1 .3-3.8 .4 2.1 .3-4.2 .3 12.7 .4-14.6 .3 4 .3-9.4 .4 15 .3-.7 .3 7.9 .4-.2 .3-21 .3 14.4 .4-9.6 .3 10.1 .3-7.7 .4 .6 .3 0 .3 14.8 .4-9.7 .3-10.4 .3 1.9 .4 19.7 .3-10.1 .3-1.5 .4-9.1 .3 2.7 .3-8.7 .4 8.7 .3 11.9 .3-3.7 .4 3.3 .3-4.8 .3 1.7 .4 2.8 .3 16.1 .3-17 .4 28.2 .3-30.8 .3 6.8 .4-15.5 .3 3.4 .3-6.9 .4 14.5 .3-15.3 .3 15.1 .4-1.3 .3-20.5 .3 28.6 .4-3.1 .3-12.3 .3 9.5 .4-3 .3 3.3 .3 5.4 .4-16.5 .3 4.7 .3-9 .4 12.4 .3-12.4 .3 11 .4-1.2 .3-4.4 .3-5.9 .4 20.3 .3-21.1 .3 14.1 .4-6.6 .3-4.4 .3-6.7 .4 5.1 .3 28.4 .3-26 .4 9.9 .3-8.5 .3 19.2 .4-14.7 .3 14.7 .3-16.8 .4 13.5 .3-13.9 .3-11.3 .4 10.1 .3 .3 .3 10.1 .4-11.4 .3 6.5 .3-2.8 .4-6.7 .3 8.1 .3 19 .4-15.2 .3 .2 .3 1.2 .4-17.6 .3 11.3 .3 4.4 .4-10.5 .3 4.3 .3 5.1 .4-5.4 .3 .3 .3-11.9 .4 20.8 .3-7.3 .3-13 .4 13.7 .3 8.8 .3-10.9 .4-4.2 .3 3 .3 3.6 .4-4.2 .3 6.8 .3-10.1 .4 9.6 .3-6.6 .3-.8 .4-4.8 .3 8 .3 16.8 .4-22.3 .3 10.8 .3-11.4 .4 3.8 .3 .1 .3-2.8 .4 15.3 .3-20.7 .3 8.5 .4 37.9 .3-34.3 .3 4.2 .4-12.7 .3 18.1 .3-2.5 .4-12.7 .3 26 .3-25.5 .4-1.8 .3-.5 .3 19.2 .4-10.6 .3 1.7 .3-7 .4 2.3 .3-.9 .3 .1 .4 .4 .3-2 .3-.5 .4 9.1 .3-9.6 .3 7.4 .4 5.1 .3-6.6 .3-6.4 .4 1.9 .3 5.4 .3 .7 .4-6.3 .3 26.4 .3-19.4 .4 6.3 .3-2.1 .3-2.7 .4 20 .3-20.7 .3 9.5 .4-14.7 .3-4.4 .3 16.1 .4-8.3 .3-.9 .3-11 .4 14.8 .3 9.5 .3-21.4 .4 20.4 .3-7.5 .3 9.1 .4-21.1 .3-5 .3 30.9 .4-10.2 .3-20.2 .3-3 .4 16 .3 .8 .3-8.3 .4 6 .3 .7 .3-5.2 .4 11 .3-11.4 .3 8.5 .4-8.7 .3 1.9 .3-3.2 .4 13.7 .3-15.6 .3 2.4 .4-7.7 .3 32.9 .3-27.8 .4 2.7 .3-5.8 .3 6.1 .4 10.2 .3-3.6 .3-8.2 .4 2 .3 20.5 .3-22.5 .4 19.2 .3-11.8 .3-1.1 .4-1.3 .3-6 .3 3.1 .4 .2 .3 10.4 .3-9.4 .4-1.7 .3 12 .3-16.6 .4 28.1 .3-21.9 .3-3.2 .4 5.8 .3-3.4 .3-8 .4 17.9 .3-4.1 .3 7 .4-16.2 .3 15 .3-16.9 .4 13.8 .3-4.1 .3 1.9 .4 10.1 .3-12 .3 3.2 .4-8.8 .3 24.2 .3-25.2 .4-9.1 .3 8.7 .3 6.9 .4 6.1 .3-16.4 .3 29 .4-25 .3-2.5 .3 33.1 .4-36.4 .3 1.6 .3 9 .4-16.1 .3 12.1 .3-5.5 .4 8.7 .3-6.4 .3-.5 .4 6 .3-8.4 .3 1.6 .4-5.1 .3 1.7 .3 4.9 .4-6.4 .3 .3 .3 .3 .5 8.4 .5-7.8 .5-2.6 .5 6.5 .5 0 .5-10.3 .5-.5 .5 7.3 .5-7 .5-3.2 .5 1.9 .5-3.5 .5 16.9 .5-23.5 .5 6.4 .5-9.9 .5 6 .5-1.5 .5-11.6 .5-3.1 .5-.6 .5-7.1 .5 2.4 .5-6.1 .5-7.8 .5-2.1 .5-1.8 .5-9.3 .5-8.3 .5-.8 .5 4.2 .5-.9 .5-2.8 .5-7.8 .5-8.4 .5-1.8 .5-6.1 .5-6.3 .5-9.8 .5-1.2 .5 .7 .5 .3 .5-7.4 .5-8 .5-6 .5-5.4 .5-7.1 .5-1.8 .5-9.1 .5-5.8 .5-7.6 .5-6.5 .5-2.2 .5-3.5 .5-8.3 .5-7.1 .5-8.6 .5-9.7 .5-10.8 .2-3.5 .2-.2 .2-4.8 .2-7.6 .2-6.9 .2-6.1 .2-4.9 .2-12 .2-19.6 .2-37.9 .2-100.1 .1-48.6 .1 95.9 .2 67.8 .2 29.4 .2 14.9 .2 11.9 .2 6.4 .2 6.1 .2 4.4 .2 3.5 .2 4.3 .2 6.5 .2 2.2 .2 2.3 .5 12.1 .5 7.9 .5 5.7 .5 2.8 .5 6.7 .5 4.3 .5 11.6 .5 8.9 .5-1.1 .5-8.2 .5 12.7 .5-1.1 .5 12.2 .5-2.5 .5-.8 .5 15.7 .5 9.2 .5-2.9 .5 5.4 .5 3.1 .5 .7 .5-.1 .5 5.7 .5-.2 .5 2.8 .5 5.9 .5-3.6 .5 3.5 .5 11.6 .5 13.4 .5 5.2 .5 5.4 .5 4.9 .5 7.2 .5 1.8 .5 11.9 .5 5.9 .5 7.2 .5-.6 .5 2.6 .5 6.6 .5-5.4 .5 14.6 .5-11.8 .5 9.9 .5 10.8 .5 .3 .5 3.3 .5-5.4 .5 11.7 .5-8.7 .5 10.6 .5-9 .5 1.5 .5 7.6 .5-5.4 .5 1.4 .5 1.1 .5 .2 .4 7.2 .3-10.9 .3 11.6 .4 2.5 .3 11.1 .3-25.2 .4 19.8 .3-20.4 .3 1.9 .4 11.5 .3-.5 .3-5.8 .4 .5 .3 1.2 .3 .3 .4-2 .3-3.1 .3 21.1 .4-8.3 .3-13.6 .3 9.4 .4-5.7 .3 6.2 .3 3.9 .4 10 .3-9.8 .3 14.2 .4-14.5 .3 10.9 .3 5 .4-22 .3 23.3 .3-14.9 .4-8.8 .3 24.8 .3-28.4 .4 8 .3-8.3 .3 12.6 .4-13.2 .3 5.3 .3 .8 .4-5.1 .3 11.5 .3-18.2 .4 8.2 .3 3.9 .3 9.2 .4-15.6 .3 11.3 .3 .7 .4-4.9 .3-5.4 .3-6.9 .4 33.7 .3-20.5 .3-2.4 .4 .1 .3-1.6 .3-1.1 .4 3.9 .3-13.2 .3 28.3 .4-7.5 .3-12.6 .3-6.2 .4 5.7 .3 3.7 .3-1 .4-2.9 .3 3.6 .3 2 .4 1.4 .3 23.2 .3-16.9 .4-5.4 .3-.4 .3-7.1 .4 2.6 .3 .4 .3-2.1 .4 22.9 .3-15.3 .3 .2 .4 1.2 .3 24 .3-41.1 .4 11.3 .3 3.8 .3 3 .4-7 .3-8.2 .3 34.2 .4-13.8 .3-19.5 .3 7.5 .4 .8 .3 29.4 .3-34.5 .4 21.6 .3-3 .3-6.5 .4 15.5 .3-15.1 .3-3.1 .4-10 .3 2.2 .3 14.2 .4-15.3 .3 4.3 .3 18.1 .4 2.9 .3-4.5 .3-23.5 .4 20.4 .3-16.3 .3-.7 .4-3.6 .3 6 .3 1.1 .4 17.6 .3-20.8 .3 1 .4-8.3 .3 15.4 .3-9.8 .4 5.1 .3 30.3 .3-34 .4 8.5 .3-9.7 .3 1.8 .4 4.1 .3 10.1 .3-4.8 .4-5.3 .3-11.8 .3 3.4 .4 7.4 .3 13.7 .3-13 .4 3.9 .3 12.1 .3-4.2 .4 1.8 .3-16.6 .3-6.3 .4 21.2 .3-12.4 .3-7.2 .4 6 .3 1.6 .3 10.7 .4-14.5 .3 17.3 .3-15.3 .4 6.3 .3-10.3 .3-3.6 .4 10 .3 7.4 .3-14.6 .4 11.4 .3-3.7 .3-4.7 .4 7.1 .3 16.9 .3 2 .4-30.8 .3 12.2 .3-3.7 .4-7.6 .3 18 .3-11.6 .4 3 .3 4.8 .3-6.7 .4 .7 .3-1.6 .3 1.4 .4 9.1 .3-1.3 .3-18.8 .4 32.3 .3-23.2 .3-.6 .4-1 .3-.8 .3 14.1 .4 5.7 .3-7.3 .3-12.2 .4 5.4 .3 7.9 .3 2.7 .4-16.9 .3 11.6 .3-6.6 .4 3.9 .3 18 .3 7.9 .4-29.7 .3-2 .3-.5 .4 11.3 .3-12 .3 1.7 .4 2.2 .3-14.9 .3 17.5 .4 17.2 .3-4.8 .3-9.4 .4-11 .3 12 .3 8.5 .4-11.5 .3-4.9 .3 28.8 .4-28.8 .3 25 .3-24.7 .4 14.9 .3-14.8 .3 5.5 .4-14.2 .3 8.8 .3 10.5 .4-2.3 .3-1.3 .3-8.7 .4 6.8 .3-11.4 .3 14 .4-2.1 .3-11.6 .3 6.1 .4 6.8 .3-7.3 .3-5.1 .4 .5 .3 15.1 .3-11 .4 12.4 .3-24 .3 21.3 .4-9.9 .3-3.4 .3-6.3 .4 27 .3 6.4 .3-14 .4-8.9 .3 17.1 .3-19.4 .4-.6 .3-.1 .3-.6 .4-3.2 .3 10.4 .3-15.8 .4 25.2 .3 3.2 .3-14.6 .4-4.6 .3 12.5 .3-2.3 .4 9.2 .3-3.1 .3-9.2 .4-.6 .3 30.6 .3-20.1 .4 5.7 .3-17.1 .3-9.5 .4 6 .3 9.3 .3-1.4 .4 1.3 .3-10.9 .3 7.9 .4-4.1 .3 3.8 .3 3.7 .4-7.9 .3-7.7 .3 14.2 .4-3 .3 1.5 .3-11.9 .4 11.9 .3-8.7 .3 1.8 .4 .9 .3 3.1 .3-7.6 .4 3.8 .3-3.5 .3 2.5 .4-3.5 .3 7.4 .3-2.4 .4-3.1 .3 25.4 .3-24 .4 .2 .3 8.4 .3 5.7 .4-24.1 .3 35.5 .3-24.8 .4 22.6 .3-29.2 .3 6.2 .4 25.2 .3-29.3 .3 9.4 .4 2.3 .3-13.5 .3 5.7 .4 18.6 .3-13.4 .3 3.6 .4-11.2 .3 11.2 .3-10 .4 12.2 .3-7.4 .3-10.1 .4 4.8 .3 12.7 .3-11 .4 10.1 .3-14.3 .3 1.4 .4 1.1 .3-3 .3 14.3 .4-8.5 .3 24.9 .3-26.3 .4 28.8 .3-11.3 .3-15 .4-1.9 .3 2.5 .3-9 .4 11.3 .3-4.6 .3 10.4 .4 1.7 .3-5.7 .3 4.4 .4 9.5 .3-16.1 .3-11.2 .4 12 .3 11.2 .3 .2 .4-17.8 .3 6 .3 13.2 .4-18 .3-2.6 .3 13.1 .4 9.2 .3-26.6 .3 16.6 .4-3.5 .3-.4 .3-4.8 .4 .8 .3 5.7 .3 9.1 .4-3.1 .3-18.8 .3 24.3 .4-16.4 .3-5.5 .3 24.2 .4-21.5 .3 4.9 .3-10.2 .4 2.4 .3 19.7 .3-20.9 .4 6.9 .3-.8 .3 11.9 .4-20.1 .3 9.4 .3-3.2 .4-5.3 .3 12.7 .3 20.7 .4-22.9 .3-8.7 .3-1.6 .4 19.8 .3-16.7 .3 2.4 .4 1.4 .3 6.9 .3-12 .4 6.7 .3-5.3 .3 15.4 .4-.4 .3-7.8 .3 1.1 .4 7.8 .3 15.1 .3-23.7 .4-6.3 .3 6.5 .3-7.6 .4 4.1 .3-.4 .3-.2 .4 10.3 .3 9.6 .3-16.1 .4 2.5 .3-9.9 .3 7 .4 1.9 .3 2.8 .3-13.8 .4 13.4 .3-11.3 .3-3.6 .4 3.5 .3 25.8 .3-12.8 .4-11.3 .3 12 .3 7.6 .4-19.7 .3 23.2 .3-10 .4-13.8 .3-4 .3 7.5 .4-2.3 .3 10.6 .3-14.5 .4 4 .3-7 .3 5.3 .4-3.4 .3 6.3 .3-6.5 .4 11.4 .3-5.2 .3 8.3 .4 5.6 .3-18.8 .3 26.5 .4-19.7 .3-.9 .3 5.3 .4-7 .3 4.7 .3-2.9 .4 26.8 .3-26.4 .3 15 .4-19.5 .3-2.6 .3 33.2 .4-27.1 .3 1 .3 22.7 .4-7.3 .3-9.7 .3-2.2 .4-11.9 .3 5.5 .3 11.7 .4-13.5 .3 4.3 .3 .8 .4 34.6 .3-26.7 .3 11.3 .4-21.5 .3-4.4 .3-2.9 .4 22.8 .3-18.6 .3 1.9 .4-.7 .3-10.4 .3 13.4 .4 17.7 .3-8.9 .3 8.9 .4-18 .3-1.6 .3 .3 .4 2.3 .3-2.4 .3 .8 .4 10.5 .3 3.8 .3-12.4 .4-1.6 .3 32.8 .3-28.3 .4 18.6 .3-27.3 .3 1.2 .4 11.7 .3 7.2 .3-20.5 .4 7.4 .3 33.9 .3-27.6 .4-19.2 .3 16.2 .3-9.1 .4 8.1 .3-11.7 .3 11.1 .4 3.3 .3 1 .3 5.7 .4 9.8 .3-16.1 .3-3.3 .4 14.9 .3-27.3 .3 9.4 .4 7.4 .3-10.6 .3 3.1 .4 19.7 .3-24.1 .3 10.5 .4-6.5 .3 13.1 .3-10.2 .4-11 .3 24.6 .3-4.1 .4-10.5 .3-9 .3 9.2 .4-5.2 .3 13.6 .3-7 .4 3.4 .3-4.7 .3 7.4 .4 3.3 .3-10.7 .3-3.8 .4 .4 .3 8.8 .3-9.7 .4-6.1 .3 8.1 .3-8.9 .4 6.9 .3 5.6 .3 6 .4 11.4 .3-21.4 .3-3 .4 9.8 .3-14.8 .3 13.2 .4-4.8 .3 2.2 .3 1.6 .4-9.9 .3 5.7 .3 26.2 .4-21.5 .3 17.1 .3-21.9 .4 10.7 .3-8.7 .3-9.1 .4 23.7 .3-21 .3 2.1 .4 14.8 .3-15.9 .3 9.5 .4 1.5 .3-14.5 .3 25.6 .4-7.6 .3 0 .3-9.8 .4-3.8 .3 4.1 .3-10.4 .4 16.8 .3-9.5 .3 2.2 .4 16.6 .3-17.8 .3-.5 .4 13.4 .3 18.3 .3-8.2 .4-12 .3-11.9 .3 5.6 .4 29 .3-34.7 .3 14.5 .4-15.9 .3 4.6 .3-2.4 .4-2.7 .3 4.8 .3 6.5 .4 6.3 .3 .1 .3-19.5 .4 37.8 .3-32 .3 2.3 .4 3.8 .3-1.2 .3-11 .4 4.9 .3 3.6 .3 .1 .4-11.2 .3 13.4 .3-10.8 .4 1.5 .3 12.1 .3 8.4 .4-6.6 .3-9.5 .3-9.2 .4 24.8 .3-5.1 .3-13.7 .4 20.6 .3-24.3 .3 6.9 .4-1.2 .3 5.7 .3-12.7 .4 10.9 .3 6.1 .3 6.2 .4-5.5 .3 0 .3-12.4 .4 9 .3 21 .3-11.9 .4-19.4 .3 3.7 .3 .8 .4 20.8 .3 3.2 .3-18.4 .4 3.7 .3 3.4 .3 8.6 .4-21.4 .3-3.4 .3 7.7 .4 16.2 .3-10.3 .3-11.6 .4-5.4 .3 1.7 .3 .2 .4 15.6 .3-17.5 .3 21.3 .4-12.3 .3 5 .3-8.4 .4 .2 .3 5.1 .3 26.4 .4-6.5 .3-14.2 .3-10.2 .4 8.7 .3-12.6 .3 .2 .4 3.7 .3 4.8 .3 4.4 .4-17.5 .3 5.4 .3 13.1 .4-2.4 .3-1.7 .3 19.1 .4-32.3 .3 20.4 .3-14 .4 8.4 .3-17.5 .3 7.5 .4 15.4 .3-11.4 .3 13.5 .4-17.7 .3 3.4 .3-4.9 .4 11.5 .3-16.5 .3 11.6 .4-.7 .3 16.1 .3-20.9 .4 8.1 .3-8.3 .3 41.1 .4-38.6 .3 4.4 .3 6 .4-10.7 .3-5.8 .3-.2 .4 4.9 .3 18.5 .3-22.9 .4 2.5 .3 12 .3-11.5 .4-10.5 .3 19.4 .3-15.7 .4 15.3 .3 .6 .3-4.3 .4 14.9 .3-4.2 .3 21.6 .4-31.7 .3-8.3 .3-4.2 .4 6.6 .3-5.6 .3 5.8 .4 2.7 .3-2.7 .3 6.6 .4 1.1 .3-16.5 .3 24.9 .4-17.5 .3 1.9 .3-.9 .4 6.1 .3-6.8 .3 2.8 .4 .2 .3 2.3 .3-3.2 .4 6.7 .3-11.1 .3 3.9 .4 3.6 .3 11.3 .3-2.7 .4-11.6 .3 30.2 .3-9.7 .4-15 .3 17.7 .3-20.4 .4-4.1 .3 1.1 .3 1 .4-1.3 .3-1.8 .3 8.7 .4-7.3 .3-2.9 .3 6.9 .4 5 .3-6.5 .3 27.9 .4-9.7 .3-30.1 .3 30.5 .4-21.4 .3 1.9 .3 2.3 .4-1.2 .3-5.5 .3 14.1 .4 4.6 .3-14 .3-7.2 .4 10.9 .3 14.8 .3-25.2 .4 10 .3-1.3 .3-4.2 .4-7.7 .3 3 .3 2.1 .4 32.1 .3-17.7 .3-8.1 .4 10.5 .3-17 .3 35.6 .4-31.4 .3-6 .3 7.8 .4 .5 .3 5.7 .3 6.2 .4-10.2 .3-7 .3 8.4 .4-.3 .3-7.9 .3 2 .4 12.8 .3 9.6 .3-9.7 .4-10.9 .3 1.2 .3 10.6 .4-10.5 .3 7.4 .3-11.8 .4 8.3 .3 15.9 .3 10.5 .4-32.8 .3-4.5 .3 8.4 .4-7.3 .3 9.4 .3-7.5 .4 15.9 .3-13.8 .3-.3 .4 4.1 .3 2.1 .3 6.4 .4-6.4 .3 6.9 .3-15.6 .4-.2 .3 5.1 .3 11.8 .4-18.2 .3 13.7 .3-17.9 .4 16.8 .3 4.1 .3-13.7 .4 1.1 .3 10.5 .3 3.8 .4-11.4 .3-4.3 .3 12.4 .4 14.8 .3-25.4 .3 4 .4 12.5 .3-1.2 .3-16.2 .4 4.1 .3 11.2 .3 6.4 .4-21.1 .3-.2 .3 22.8 .4-19.8 .3-1.7 .3 1.1 .4-5 .3 20.7 .3-18.1 .4 8.7 .3-12 .3 20.9 .4-15.7 .3 7.5 .3-7.6 .4 9.8 .3-12.3 .3-1 .4 14.6 .3 3.8 .3-23.6 .4 8.5 .3 29.8 .3-25.7 .4 6.2 .3-9.1 .3 1.6 .4-4.6 .3 8.4 .3-5.6 .4 14.3 .3-21.3 .3 37.9 .4-34 .3 3 .3 6.9 .4 7.7 .3 .3 .3-9.5 .4 10.8 .3-2.8 .3-8.9 .4-9 .3 4.3 .3-2.1 .4-2.3 .3 32.6 .3-16.8 .4-20.1 .3 24.6 .3 .5 .4-16.7 .3 10 .3 1.4 .4 1.9 .3-15.5 .3 2.9 .4-1.5 .3 13.4 .3-8.6 .4 .5 .3 9.8 .3 2.5 .4 7.6 .3-35.9 .3 7.8 .4 5.5 .3 25.4 .3-26.6 .4-4 .3-4.8 .3 1 .4 16.1 .3-14.7 .3 16.2 .4 3.5 .3-15.6 .3 30.5 .4-33.2 .3 3.1 .3-6 .4 9.8 .3 4 .3-6.1 .4 2.1 .3-2.4 .3-4.3 .4 21.6 .3-20.4 .3 8.6 .4-1.2 .3-10.2 .3 .4 .4 14.3 .3-10.5 .3 9.5 .4 1.5 .3 22 .3-26.8 .4-1.7 .3-4.6 .3-9.1 .4 22.3 .3-14.4 .3 16.4 .4-13.8 .3 22.1 .3-16.6 .4 3.9 .3-3.4 .3-9 .4 1.7 .3 1.7 .3 4.8 .4-1.1 .3-8.1 .3 .6 .4 27.2 .3-28.2 .3 4.8 .4-.3 .3-.1 .3-2.5 .4 20.4 .3-20.2 .3 3.4 .4-6.4 .3 3.1 .3 1.8 .4 6.6 .3-5.6 .3-9.9 .4 14.4 .3 5.6 .3 15.6 .4-29.2 .3 4.7 .3 14.3 .4 1.6 .3-27.2 .3 19.4 .4-9.8 .3-3.8 .3 4.7 .4 25.6 .3-29.9 .3-6.3 .4 9.3 .3-3.4 .3 9.6 .4 0 .3-5.4 .3-.7 .4-6.6 .3 2.8 .3 .9 .4-9 .3 14.9 .3-5.5 .4 30.3 .3-26.4 .3-1.2 .4 10.8 .3-16.2 .3 1.7 .4 4.1 .3 .3 .3 19.8 .4-25.7 .3 9.2 .3-11.4 .4 5.5 .3 12.3 .3-10.9 .4 20.4 .3-16.3 .3-1.5 .4-6 .3-2.9 .3 7.5 .4 4.8 .3-8.6 .3-3.4 .4 7.5 .3-1.2 .3 19.5 .4-28.2 .3 17.4 .3 .3 .4-9.7 .3 15.1 .3 12.6 .4-25 .3-3.6 .3 11.6 .4-12.2 .3 25 .3-20.8 .4 17.9 .3-6.4 .3-10.6 .4-3.1 .3-7.4 .3 0 .4 4.8 .3 20.3 .3-18.1 .4 .2 .3 10.4 .3-15.2 .4 9.7 .3-6.2 .3 4.7 .4-4.1 .3 9.6 .3-3.6 .4 17.3 .3-18.8 .3-6.2 .4 3.9 .3-3.5 .3 .7 .4 11.6 .3-3.9 .3-2.2 .4-3.9 .3 12.2 .3-19.2 .4 19 .3-14.1 .3 11.3 .4 1.3 .3-10.9 .3-5 .4 6.1 .3 .1 .3 .3 .4 3.2 .3 8.1 .3 1.9 .4-12.9 .3-1.4 .3 6.5 .4-11.4 .3 2.5 .3 17.4 .4-10.7 .3 4.9 .3-2 .4-2.9 .3 12.8 .3-17.4 .4-.2 .3 10.4 .3 2.9 .4-11.7 .3 35.2 .3-37.3 .4 7 .3-3.7 .3 10.3 .4-18.7 .3 19.3" fill="none" stroke="#2a788e" stroke-width="2.8" stroke-linejoin="round" stroke-linecap="square" clip-path="url(#cb)"/>
<path d="M1169.5 581.7l.3 23 .4-17.7 .3-5.6 .3-4.4 .4-7.4 .3 14.3 .3-6.5 .4-8 .3 6.5 .3 11 .4-14.8 .3 15.4 .3-14.2 .4 14.8 .3-10.2 .3 13.7 .4-18.6 .3 5.6 .3 14 .4-8.4 .3-6 .3 8.4 .4-10.9 .3-2.1 .3 2.2 .4 11.5 .3-12.3 .3 31.9 .4-3.3 .3-26.8 .3 22.5 .4-40.4 .3 15.7 .3 .4 .4 16.6 .3-11.5 .3 15 .4-11.9 .3-8.7 .3 3.8 .4 4.7 .3-7.9 .3 3.1 .4 8.7 .3-2.5 .3-9.2 .4 7.2 .3 7.9 .3 9 .4-21 .3 21.4 .3 1 .4-30.4 .3 2.6 .3 12.9 .4-8 .3-8 .3 5.3 .4 1.9 .3 .8 .3 16.9 .4 2.3 .3-19.5 .3 3.5 .4-10.8 .3 7.1 .3 21.6 .4-26.1 .3 12 .3-8.1 .4 11.3 .3 11.5 .3-22.9 .4 1.6 .3 2.2 .3 .8 .4-1 .3 .4 .3-3 .4 29.5 .3-29.7 .3 .6 .4 31.5 .3-30.5 .3-2.5 .4 1 .3 11.1 .3 2 .4-12.2 .3 7.7 .3-8 .4 14.4 .3-15.8 .3 5.1 .4-7.1 .3 3.8 .3 13.5 .4-8.1 .3-10.5 .3 11.1 .4-3.8 .3 7 .3-12.4 .4-4.8 .3 13.6 .3-6.7 .4-.1 .3 .3 .3-5 .4 5.7 .3 23.2 .3-25.2 .4 .9 .3-2.2 .3 1.6 .4 20.2 .3-30.8 .3 .7 .4 12.9 .3-5.6 .3 .7 .4-6.9 .3 16.8 .3-1.4 .4 9.6 .3 .7 .3-13.3 .4-1.4 .3 2.2 .3 18.1 .4-.1 .3 4.3 .3-23.5 .4 4.6 .3-7.7 .3-2 .4-4.1 .3 11 .3-1.8 .4 9.3 .3-18.7 .3 8.1 .4-1.7 .3 7.8 .3-6.2 .4 8.3 .3 7.7 .3 1 .4-7.2 .3-3.6 .3-3.9 .4-2.1 .3-2.4 .3-2.3 .4 5.9 .3-10.5 .3 9.4 .4-10.2 .3 8.2 .3-8 .4 8.7 .3 7.7 .3 10.1 .4-13.2 .3-5.8 .3 6.3 .4-9.3 .3-3.7 .3 14.3 .4-10.3 .3 13.5 .3-13 .4 8.3 .3-9.5 .3 3.5 .4-3.7 .3 18.4 .3-13.5 .4 27.2 .3-21.4 .3-13.6 .4 10.2 .3-8 .3 18 .4-13.7 .3 1.7 .3 .6 .4 9.9 .3-13.9 .3 13.5 .4-2.5 .3-15.7 .3 8 .4-.8 .3 .2 .3-1.3 .4 16.7 .3-20.6 .3 28.2 .4-21 .3-.4 .3-3.3 .4 10.4 .3-9.5 .3 20.2 .4-24.1 .3 5.5 .3 12.3 .4 25.9 .3-51.9 .3 8.2 .4 18.2 .3-19.7 .3-.2 .4 4.1 .3 3.5 .3 .9 .4-2.9 .3 7.6 .3-5.4 .4 4.5 .3 8.1 .3-13.4 .4 15.9 .3-16.6 .3 22.4 .4-6.8 .3-11.1 .3-10 .4 19.2 .3-13.3 .3 15.5 .4-16.9 .3-.5 .3 29.7 .4-33.4 .3 13.9 .3-4.5 .4-14.7 .3 11.7 .3-4.6 .4-.4 .3 2.8 .3 .3 .4 19.3 .3-5.2 .3-31.3 .4 13.9 .3 4.1 .3 5.8 .4 4.3 .3-9.9 .3-19.6 .4 24 .3-2.5 .3-6.4 .4 16 .3-12.1 .3 15 .4-3.4 .3-20.2 .3 3.7 .4 18.6 .3-3 .3-8.7 .4-6.3 .3 3.6 .3-.8 .4 39.3 .3-33.1 .3-5.1 .4 16.5 .3-17.9 .3 8 .4-11.9 .3 7 .3-.1 .4 21 .3-18 .3 15.9 .4-5.8 .3-12.2 .3-3.2 .4 .7 .3 2.9 .3 6 .4-7.3 .3-.9 .3 10.9 .4-10.2 .3 3.5 .3-2.1 .4-7.9 .3 20.3 .3-1.2 .4-7.7 .3-13 .3 13.2 .4-5.1 .3 10.6 .3 2.9 .4-18.4 .3 9.3 .3-3.4 .4-1.4 .3 7.1 .3-5.2 .4 9.6 .3-15.1 .3 5 .4-7 .3 5.5 .3 4 .4-6 .3 7.5 .3-6.6 .4-.9 .3 14.5 .3 3.3 .4-1.4 .3-15.4 .3 6.6 .4 10.9 .3-16.8 .3 9.3 .4-10.2 .3 2.1 .3 .6 .4 11.4 .3-9.6 .3 5 .4-21.6 .3 14.7 .3 34 .4-24.9 .3-14.4 .3 1.9 .4 18.1 .3-20.2 .3 8.8 .4 5.9 .3-10.8 .3 18.5 .4-20.8 .3 7.1 .3 0 .4-5.2 .3 0 .3-5.3 .4 1.6 .3 11.5 .3-7.2 .4 3 .3 .2 .3 3.8 .4-7.7 .3 10.3 .3-17.2 .4 9.2 .3-2.9 .3-14.8 .4 16.5 .3-3.1 .3-.6 .4 38 .3-39.2 .3-6.4 .4 20.4 .3 4.8 .3 .8 .4-16.9 .3 15 .3-22.7 .4 7.9 .3 19.1 .3-20.3 .4-1.9 .3 11 .3-7.7 .4-2.2 .3 9.4 .3-12.9 .4 15.4 .3-8.7 .3 .2 .4 4.8 .3-7.4 .3 3.8 .4 .8 .3-6.7 .3 5.3 .4 20.2 .3-26.6 .3 6.7 .4-6.8 .3 3.6 .3 12 .4-15.6 .3 5.1 .3 9.5 .4-10.1 .3 .3 .3 25.1 .4-17.2 .3-8.9 .3 5.9 .4-4.5 .3 .9 .3-3.6 .4 18.2 .3-14.3 .3-13.2 .4 3.5 .3 34.6 .3-26.2 .4 10 .3 4.4 .3-1.7 .4-.4 .3-11.8 .3 10.1 .4 19 .3-35.2 .3 17.7 .4 8 .3-11.6 .3-2.8 .4 7.6 .3-2.4 .3-10.2 .4 11.9 .3-14.6 .3 1.3 .4 1.2 .3-7.5 .3 10.5 .4 3.9 .3 .2 .3 27.8 .4-36.5 .3 2.3 .3 1.3 .4 .1 .3 10.8 .3-8.8 .4 11 .3-22.9 .3 9.2 .4-2.6 .3 2.9 .3-2.1 .4 28.3 .3-30.8 .3 1.5 .4 1.6 .3 1.1 .3-5.4 .4 12.8 .3-6.1 .3-.2 .4-4.7 .3 5.9 .3-2.6 .4 26.6 .3-.2 .3-19.8 .4-9.1 .3 5.7 .3 15.2 .4-19.2 .3 7.2 .3 4.8 .4-11.7 .3-1.2 .3 4.6 .4 33.6 .3-39.8 .3 1.6 .4 6.9 .3-8.2 .3 19.2 .4-9.5 .3-12.8 .3 9.5 .4-8.8 .3 15.6 .3-16.4 .4 9.2 .3-4.7 .3 20.4 .4-17.9 .3 6.3 .3 1.3 .4-10.6 .3 1.2 .3 13.1 .4-19.9 .3 4.9 .3 17.3 .4-.8 .3-19 .3-3.4 .4 19.8 .3-8 .3-4.2 .4-4.1 .3 32.2 .3-34 .4 3.1 .3 4.3 .3 3.6 .4-8.9 .3 18 .3-.5 .4-13.2 .3-2.3 .3 17 .4-17.2 .3 23.7 .3-20 .4-.4 .3 2.4 .3-4.1 .4 1.4 .3 5.1 .3-10.7 .4 4.7 .3 4 .3-3.7 .4-5 .3 5.6 .3 16.8 .4-17.3 .3-15.4 .3 17.4 .4-5.7 .3 6 .3-1.4 .4-1.4 .3-4.3 .3 15.4 .4 16.9 .3-29.1 .3 2.6 .4 19.1 .3-12.4 .3 15.1 .4-29.4 .3 6.1 .3-4.9 .4 4.2 .3-2.7 .3 2.3 .4 1.8 .3 .1 .3-.5 .4 .3 .3 14.6 .3-9.7 .4-5.1 .3-3.6 .3 17.1 .4-15.9 .3 23.5 .3-13.4 .4 1 .3 2 .3-11 .4 7 .3 8.5 .3-19.5 .4 18.8 .3-10.4 .3-3.2 .4 .4 .3 12 .3 16.2 .4-26.8 .3-5.9 .3 4.2 .4-3.1 .3 2.7 .3-13.3 .4 10.2 .3 4.1 .3 .7 .4-1.6 .3-3.7 .3 3.8 .4 .9 .3-2.3 .3 6.6 .4 7.1 .3-16.3 .3 3.4 .4 25.3 .3 5.7 .3-29.1 .4 16.3 .3-20.1 .3 10 .4-5.2 .3-4.8 .3 2.3 .4 0 .3-7.1 .3 9 .4 12.7 .3-16.8 .3 6.7 .4-10.4 .3 17.7 .3 5.6 .4-15.9 .3 5.2 .3 11.6 .4-16.3 .3-2 .3-1.7 .4-1.7 .3 16.4 .3-13.1 .4 4.7 .3-5.2 .3 10.9 .4-12.2 .3-4.9 .3 15.6 .4 6.9 .3-22.3 .3 3.1 .4 .5 .3 31.9 .3-33.6 .4 1 .3-6.6 .3 15.4 .4 2.3 .3 7.1 .3-19.1 .4 8.8 .3 11.5 .3-1.2 .4-30.2 .3 10.5 .3 .6 .4 12.3 .3 4.8 .3 4.4 .4-18.5 .3-4 .3-2.7 .4 29.8 .3-1.4 .3-4.9 .4-12.3 .3 16.6 .3-19 .4 14.6 .3 2.3 .3-23.4 .4 17.5 .3-11.8 .3-1.2 .4-5.7 .3 20.2 .3-12.5 .4 3.9 .3 27.4 .3-40.2 .4 27.4 .3-13.1 .3 16.3 .4-20.5 .3 8.7 .3-8.1 .4-1.7 .3-5.4 .3 6.9 .4 4.5 .3 14.3 .3-15.3 .4 4.3 .3-2.6 .3 30.2 .4-17 .3-8.5 .3 5.4 .4-11.7 .3-11.1 .3 34.7 .4-11.4 .3-18.4 .3 10 .4-7 .3 10.4 .3-20.2 .4 10.4 .3-7.5 .3 18.3 .4-1.1 .3 8.3 .3-24.5 .4 3.7 .3-3.9 .3-.4 .4 15.8 .3-4.8 .3 30 .4-39.2 .3-3.7 .3 15.7 .4-9.8 .3-9.8 .3 8.9 .4 10.5 .3-11.8 .3-5.4 .4 31.3 .3-16.5 .3 1.1 .4-11.6 .3-1.1 .3 17.3 .4-19.8 .3-2.5 .3 8.9 .4 5 .3 8.4 .3-16.5 .4 2.3 .3 1 .3-2.2 .4 16.6 .3-14.1 .3 18.1 .4 3.7 .3-33 .3 17.6 .4 17.7 .3-25.5 .3-5.1 .4 3.9 .3 10 .3-12 .4 .9 .3 7.8 .3-3.7 .4-4.2 .3 12.9 .3-18.3 .4 9.7 .3 8.1 .3 3.4 .4 24.6 .3-40.3 .3 .5 .4 2.9 .3-.5 .3-4.7 .4 7.4 .3 13.1 .3-21.4 .4-5.6 .3 24.2 .3 21.7 .4-33.7 .3-.9 .3 23 .4 6.6 .3-35.7 .3 .9 .4 5.7 .3-6.3 .3 3.3 .4 4.8 .3 7.2 .3 13.1 .4-24.9 .3 13.1 .3 3.1 .4-17.8 .3 2.8 .3 1.7 .4 .1 .3-.9 .3-2.9 .4 19.4 .3-17.8 .3 4.9 .4 .3 .3-4.3 .3 5.8 .4-14.4 .3 2.1 .3 13.5 .4 4.8 .3-1.9 .3-13.5 .4 2.2 .3-7.3 .3 3.7 .4 10.7 .3-5 .3-8.6 .4 15.9 .3 .3 .3-7.5 .4 18 .3-7.7 .3-16 .4 11 .3-.1 .3-.3 .4 1.9 .3-12.2 .3 31.3 .4-8.7 .3-19.1 .3 7.8 .4 23.6 .3-34.4 .3 35.2 .4-11.9 .3-23.1 .3 4.1 .4-.6 .3 13.3 .3-15.7 .4-5.8 .3 9 .3 11.3 .4 16.1 .3-21.4 .3-3.3 .4 4.9 .3-16.5 .3 5.3 .4 6.4 .3-8.9 .3 19.3 .4-16.6 .3-6.1 .3 21.2 .4 22.5 .3-34.5 .3 .4 .4-4.7 .3 .7 .3 0 .4 22.9 .3 5.9 .3-23.8 .4 9.2 .3-12.4 .3 .8 .4 14 .3-10.4 .3-8.8 .4-.6 .3 .7 .3 11.5 .4 1.6 .3-.3 .3 0 .4-11 .3-8.5 .3 .4 .4 16.2 .3-5.6 .3-2.4 .4 7.7 .3-6.4 .3 19 .4-18.8 .3-2.2 .3-3.1 .4 11.9 .3 16.4 .3 10.1 .4-27.7 .3-2.3 .3-3.1 .4-6.6 .3 2.2 .3-3.5 .4 5.1 .3 2.7 .3-2.9 .4-1.5 .3 2.4 .3 4.1 .4-2.2 .3 23.5 .5-26.1 .5 15 .5-17.3 .5 4 .5-4.7 .5-5.1 .5 5.3 .5 12.5 .5-22.6 .5 10.4 .5-5.7 .5 9.3 .5-17.2 .5-.3 .5 22.5 .5-13.1 .5-14.8 .5-9.8 .5 11.8 .5-9.7 .5-7.2 .5 2.1 .5 2.4 .5 .3 .5-15.8 .5-3.7 .5-.7 .5-3.4 .5-1.1 .5-4.3 .5-7.3 .5-9.4 .5 4.9 .5-1.9 .5-13.6 .5-2.6 .5 1.3 .5-9.2 .5-.4 .5 1.4 .5-7.4 .5-7.8 .5-2.4 .5-5.9 .5-5 .5-7.5 .5-6.4 .5-4.4 .5-4.4 .5-10.5 .5-3.9 .5-7.7 .5-8.6 .5-6.7 .5-8.7 .5-5.5 .5-9.1 .5-7.1 .5-10.7 .2-6.7 .2-4.8 .2 .5 .2-4.1 .2-7.1 .2-6.9 .2-10.4 .2-12.8 .2-15.7 .2-31.6 .2-81.9 .1-79.9 .1 80 .2 83.8 .2 32 .2 15.5 .2 11.5 .2 9.4 .2 8.5 .2 6.4 .2 .5 .2 2.1 .2 6.7 .2 3.8 .2-.7 .2 3.8 .5 10 .5 7.2 .5 10.2 .5 4.4 .5 8.1 .5 5.5 .5 7.5 .5-2.2 .5 7.4 .5 10.7 .5 17.5 .5 4.9 .5-5.5 .5-2.3 .5 21.8 .5-2.7 .5-.9 .5 7.2 .5-2 .5 3.9 .5 7.8 .5 7.3 .5-1.2 .5-2.1 .5-9.6 .5 3.9 .5 3.4 .5-1 .5 7.7 .5 18.9 .5 11.2 .5 14.7 .5-3.8 .5-9.6 .5 9.6 .5 13.9 .5 3.9 .5 6.1 .5 1.4 .5 0 .5 8.3 .5 2.4 .5 4.3 .5 4.6 .5-7.9 .5 13.1 .5-3.5 .5-1.7 .5 13.4 .5-4.6 .5 3.2 .5-6.2 .5 2.6 .5 11 .5-6.9 .5 10.7 .5-6.2 .5 4.5 .5-14.5 .3 .1 .4 7.7 .3 7.6 .3-14.1 .4 3 .3-1.7 .3 28.3 .4-20.7 .3-7.3 .3 7.1 .4-7.3 .3 5 .3-2.3 .4-5.9 .3 25.4 .3-18.3 .4 .2 .3 13.1 .3 9.8 .4-22.8 .3 15.6 .3 1.3 .4-19.6 .3 14.9 .3-10.9 .4 25.3 .3-25.1 .3 1.3 .4 5 .3 2.3 .3-5.3 .4 8.1 .3-18.9 .3 10.2 .4 .7 .3 4.2 .3 12.4 .4-8.3 .3-13.5 .3 24.7 .4-12 .3-4.9 .3-10.1 .4 6.4 .3-2.4 .3 14.2 .4-18.2 .3 5.5 .3 13.2 .4-11.7 .3 14.9 .3-17.7 .4 1.2 .3-7.5 .3 30.1 .4-23.7 .3 9.9 .3-11.1 .4 3.4 .3 8.7 .3 5.5 .4-16.3 .3-10.8 .3 21.9 .4-8.6 .3 11.1 .3-17.3 .4 11.2 .3-5 .3-2 .4-2.9 .3 3.7 .3 14.6 .4 2.2 .3-20.6 .3 20.5 .4 2.6 .3-23.8 .3 1.8 .4 6 .3-4.2 .3 1.4 .4 5.1 .3-2.5 .3 5.4 .4-2.5 .3-8.5 .3-5 .4 6 .3 9.3 .3-2.2 .4-.4 .3-9.1 .3 .1 .4 3.6 .3 4.4 .3 4.3 .4-12.6 .3 3.4 .3-1.4 .4 25.7 .3-29.1 .3 5.6 .4-1.2 .3 .3 .3 5 .4 14.6 .3-21.7 .3 1.3 .4 30.2 .3 .9 .3-28 .4 25.9 .3-29.7 .3 3.4 .4 .9 .3-7.3 .3 42 .4-36.9 .3 7.1 .3 18.3 .4-18.2 .3-11.6 .3 1.7 .4 5.3 .3-4.2 .3 6.4 .4 .5 .3 2.3 .3-3.7 .4-14.1 .3 13.4 .3 7.6 .4-12.2 .3 11.9 .3 18.7 .4-35.5 .3 10.7 .3 4.5 .4-6.9 .3-4.8 .3-.8 .4 1.9 .3 19.5 .3 6.9 .4-28.6 .3 12.8 .3 3.7 .4-18.2 .3 3.1 .3 2.8 .4-3.1 .3 3.5 .3-2.5 .4 1.8 .3 .9 .3 18.9 .4-25.3 .3 .5 .3 6.8 .4 4.3 .3-1.9 .3-5.5 .4 10.1 .3 1 .3 8 .4 5.5 .3-26.4 .3 7.3 .4 6.1 .3 3.9 .3 1.3 .4-7.1 .3-5.5 .3 14.7 .4-18.8 .3 4 .3 16.9 .4-12.9 .3-11.1 .3 .6 .4 1.9 .3 2.3 .3-3 .4 7.5 .3-6.8 .3 22.1 .4-19.2 .3-.8 .3-6.5 .4 8.6 .3-4.4 .3-1 .4 11.9 .3 9.9 .3-.4 .4-17.5 .3 1.7 .3 .5 .4-7.4 .3 8.2 .3-6.4 .4 0 .3 5.5 .3-1.6 .4 18.1 .3-11.5 .3 1.6 .4-17.4 .3 6.2 .3 5.1 .4 22.8 .3-11.7 .3-19.7 .4 3.4 .3 4.2 .3 7.6 .4-10.1 .3-1.2 .3-1.7 .4 12.3 .3-8.8 .3-2.2 .4 6.1 .3 2.5 .3-5.9 .4-.6 .3 10.2 .3-7.7 .4 12.2 .3-18.4 .3 1.6 .4 8.3 .3 14.9 .3-8.5 .4 3.9 .3-15.6 .3 12.2 .4-12.7 .3-9.7 .3 14.9 .4-1 .3 6.7 .3-6.7 .4-8.1 .3 11 .3-5.8 .4 1.2 .3-4.4 .3 11.4 .4 1.9 .3-18 .3-1.2 .4 13.9 .3 13.9 .3-24.2 .4 20.4 .3-20.2 .3 .6 .4-3.1 .3 1.8 .3-1 .4 3.4 .3-.8 .3 3.4 .4 10.8 .3-4 .3-6.6 .4 12.5 .3-10.6 .3 8 .4-11 .3 3.1 .3 10.7 .4-15.3 .3-4.4 .3 17.4 .4-10.7 .3 26.3 .3-24.7 .4-.5 .3 7.6 .3-14.1 .4 20.7 .3-20.4 .3 34.1 .4-5.7 .3-29.5 .3 24.9 .4-16.7 .3-7 .3 2 .4-1.4 .3 1.9 .3 3.3 .4-1.8 .3 1.4 .3 13.6 .4-10.9 .3-2.7 .3-3.3 .4 5.3 .3-4.9 .3 16.7 .4-15.8 .3-10.2 .3 28.3 .4-13.7 .3 7.7 .3-6.1 .4 19.4 .3-22.5 .3 21.7 .4-18.7 .3 24.4 .3-16.3 .4-19 .3-5.1 .3 17.7 .4-4.4 .3 2.8 .3-5.4 .4 1.4 .3 8.8 .3-9.2 .4 16.1 .3-5.7 .3 1.1 .4-4.4 .3 6.3 .3-20.1 .4 5.6 .3 6.8 .3 0 .4 .7 .3-1.2 .3-10.5 .4 1.5 .3 1 .3 9.5 .4-3.5 .3-5 .3 33.7 .4-29.7 .3 27 .3-25.6 .4 1 .3-2.5 .3 15.7 .4-21.7 .3 6.1 .3 2.9 .4-2.9 .3-1.6 .3 2.9 .4-4.6 .3 15.5 .3 13.2 .4-4.1 .3-16.7 .3-2.6 .4 9.3 .3-4.3 .3-14.8 .4 9.5 .3 36 .3-40.1 .4-4.9 .3 26.1 .3-22.9 .4 .7 .3-3 .3 1.6 .4 5.1 .3-14.2 .3 9.8 .4 1.2 .3 15.6 .3-13.8 .4 7.1 .3 .6 .3-7.1 .4 4 .3-9.8 .3 11.9 .4 19.8 .3-10.4 .3-16.6 .4-.2 .3 2.8 .3 4.2 .4 11.3 .3-22 .3 23.5 .4 4.7 .3-23.3 .3 13.8 .4 2.9 .3-11.1 .3-5.9 .4-.1 .3-7.5 .3 5.3 .4-3.7 .3 13.5 .3 4.9 .4-19.5 .3 40.7 .3-17.2 .4-15.5 .3-4 .3 11.1 .4 20.4 .3-30.7 .3 8.5 .4-2.2 .3-8.6 .3-2.9 .4 6.3 .3-2.3 .3 1.5 .4 13.5 .3-13.4 .3 .7 .4-1.1 .3-.3 .3 27.1 .4-28.9 .3 9 .3-4.7 .4 10.8 .3 1.2 .3-20 .4 1.1 .3 .7 .3 5.3 .4 1.7 .3 10.2 .3-1.5 .4-14.3 .3 26.8 .3-2.4 .4-18.5 .3 25.1 .3-26.3 .4 3.5 .3 12.3 .3-18.6 .4 3.3 .3 14.6 .3-13.2 .4 17.8 .3-22.8 .3-2.2 .4 17.4 .3-15.4 .3 1.7 .4 20.8 .3-31.4 .3 7.2 .4 15.8 .3-8.2 .3-3.2 .4 2.9 .3 8 .3-23.1 .4 26.6 .3-18.9 .3 7.9 .4-4.8 .3 2.4 .3 .6 .4 18.7 .3-20 .3 .1 .4-12.2 .3 14 .3-.7 .4 .6 .3-2.6 .3 .8 .4-2.9 .3 .8 .3 15 .4-11.3 .3-2.7 .3 7.4 .4 13.9 .3-19.3 .3 16.8 .4-5.7 .3-15.4 .3 6.5 .4-5.6 .3 7.7 .3 3.8 .4 5.5 .3 12.2 .3-25 .4-.7 .3 12.2 .3-10.8 .4 7.5 .3-17.8 .3 9.7 .4-8.1 .3 7.4 .3 18.9 .4-.5 .3-.1 .3-21.8 .4 7.2 .3 8.6 .3 8.6 .4-30.6 .3 .8 .3 37.9 .4-40.5 .3 1.1 .3 6.6 .4 9.8 .3 8.5 .3-6.2 .4-8.1 .3 11.4 .3-9 .4-1.4 .3-1 .3 .8 .4 1.7 .3-10.3 .3 5 .4 2.3 .3 17.8 .3-17.6 .4 10.3 .3-1.6 .3-12.1 .4-.5 .3 26.9 .3-23 .4 1.2 .3-12 .3 9.5 .4 12.9 .3 5.4 .3-22.6 .4 18 .3 20.7 .3-40.8 .4 6.3 .3-9 .3 21.8 .4-15.2 .3 23.7 .3-11.5 .4 6.6 .3-6.3 .3-8.1 .4-3.8 .3 7.8 .3 9.7 .4-15.1 .3-2.5 .3-4.8 .4 10 .3-8.3 .3 6.2 .4-1 .3 7.8 .3-10.8 .4 22.6 .3 11.3 .3-26.5 .4 17.2 .3 3.3 .3-28.9 .4 7 .3-1.5 .3 .4 .4 37.5 .3-16.4 .3-19.7 .4-5.1 .3 11.6 .3-13.9 .4 28.3 .3-25.9 .3 17.9 .4-17.2 .3 8.3 .3-5.3 .4-5.7 .3 17.5 .3-15.3 .4 16.8 .3-3.6 .3-12.9 .4-3.3 .3 10 .3-7.6 .4 .9 .3-2.8 .3 17.5 .4-16.7 .3 18 .3-18.1 .4 18.9 .3-7.1 .3 7.5 .4-17.8 .3 19.6 .3-20.5 .4-.3 .3 9.9 .3-7.2 .4 10.8 .3-10.3 .3-2 .4 2.5 .3-1.8 .3 7 .4-6.8 .3 1 .3 1.8 .4-10.5 .3 38.3 .3-18.6 .4 2.3 .3-14.4 .3 7.9 .4-5.2 .3-3.3 .3 3.3 .4 15.3 .3-16.5 .3 .3 .4-11.4 .3 12.4 .3-5.4 .4 10.6 .3 3.3 .3-9.6 .4 21.1 .3-20 .3-.6 .4-5.5 .3 17.9 .3-11.7 .4 4 .3 1.7 .3-7.1 .4-6.8 .3 3.9 .3 10 .4 6.8 .3-9 .3-2.2 .4 15.7 .3-12.2 .3 11.1 .4-14.8 .3-11.2 .3 2.7 .4 3 .3 6.2 .3-8.4 .4 2.4 .3 10.7 .3-6.1 .4-3.3 .3-4.7 .3 12.2 .4-7.4 .3 16.7 .3-8.1 .4-12 .3 .4 .3 7 .4-.6 .3 2.4 .3 4.2 .4 6.2 .3 5.9 .3-12.2 .4-16.6 .3 24.8 .3-28.2 .4 18.4 .3-8.2 .3-9.7 .4 21.9 .3-12 .3 12.1 .4-15.1 .3-6.2 .3 23.4 .4 1.7 .3-2.9 .3-10.1 .4-.5 .3 .1 .3-9.3 .4 35.3 .3-27.2 .3-8.8 .4 19.4 .3-2 .3 27.4 .4-27.6 .3 13.5 .3-21 .4-3.5 .3 9.8 .3-11.8 .4-6.5 .3 18.1 .3-2.2 .4-2.4 .3-3.7 .3-.6 .4 12.2 .3-1.2 .3-17.8 .4 15.2 .3-2 .3-7.3 .4-3.2 .3 4.4 .3 3.7 .4-.7 .3 1.9 .3-7.9 .4 14.7 .3-11 .3 10.8 .4 9.9 .3-18.8 .3-9.7 .4-1.8 .3 25.6 .3-.2 .4-20.5 .3 3.6 .3 1.2 .4 33.4 .3-31.1 .3-6.3 .4 6.9 .3-5.1 .3-6.7 .4 20.1 .3 14.5 .3-8 .4-18.8 .3 11 .3-16 .4 43.5 .3-27.2 .3-16.7 .4 11 .3-3.8 .3 17.4 .4-7.1 .3-15.4 .3-4.3 .4-2.8 .3 32.5 .3-18.1 .4 2.7 .3-5.9 .3-4.4 .4 10 .3-2.1 .3 7.3 .4-17.3 .3 4.3 .3-.3 .4 1.3 .3-6.9 .3 8.8 .4-2 .3 28.3 .3-18.8 .4-9.8 .3 1.6 .3 13.3 .4-2.8 .3-8.2 .3-14.1 .4 14.1 .3 .2 .3 37.4 .4-20.6 .3-10.9 .3 14.3 .4-12.4 .3-16.2 .3 32.7 .4-14 .3-9 .3 6.4 .4 11.4 .3-4.7 .3-14.9 .4 5.5 .3-9.1 .3 11.4 .4-13 .3 2.3 .3 21.2 .4-25.8 .3 27.2 .3-23.1 .4-2.8 .3 15.9 .3-10.9 .4 1.1 .3 11.1 .3-12.8 .4 .8 .3 3.4 .3-6.2 .4 3.9 .3-3.8 .3 3.8 .4-4.8 .3 4.3 .3 8.3 .4-10.6 .3-7 .3 28.3 .4-2.7 .3-18.7 .3 2.9 .4-11.7 .3 12.3 .3-2.4 .4-4.2 .3 4.8 .3 10.2 .4-14.5 .3 2.5 .3 24.2 .4-28.1 .3-6.7 .3 8.9 .4 4.1 .3-2.5 .3 5.3 .4-12 .3 35.8 .3-34.4 .4 4.7 .3-7.9 .3 9.5 .4 19.2 .3-12.5 .3 1.8 .4 2.3 .3-14.6 .3 16.4 .4-3.1 .3-4.1 .3 5.5 .4-9.8 .3 10.9 .3-15.4 .4-6.8 .3 7 .3 4.4 .4-3 .3 8 .3-12.1 .4 22.7 .3-1.8 .3-7.2 .4-6.4 .3 4.4 .3-4.6 .4 3 .3-6.7 .3 10.1 .4 .2 .3-17.5 .3 15.2 .4-11.7 .3 5 .3 11.6 .4 28.9 .3-27 .3-7.7 .4-3.5 .3-3.1 .3 9.9 .4 24.7 .3-18.7 .3 2.8 .4-16.3 .3 19.9 .3-22.5 .4 1.2 .3 3.2 .3 4.2 .4-2.1 .3 20.5 .3-18.2 .4-12 .3 1.7 .3 3.1 .4-5.7 .3 8.2 .3 1.8 .4-2.6 .3-11 .3 8.7 .4-2.1 .3 2.5 .3 .3 .4 .7 .3 8.8 .3-7.1 .4 16.1 .3-3.6 .3 8 .4-30.8 .3 30.8 .3-7.5 .4-14.6 .3-2.6 .3 7.7 .4-3 .3-7.3 .3 41.6 .4-39.4 .3 14.9 .3-14 .4-5.3 .3 28.2 .3-21.6 .4-4.6 .3 6.7 .3-3.7 .4 18.9 .3-14.4 .3 8.5 .4-8.8 .3 .3 .3 8.9 .4-12.3 .3-2.6 .3 23.8 .4-24.3 .3 4 .3 12 .4-4.6 .3-14 .3 1.5 .4 .6 .3 5.7 .3-2.6 .4 27.9 .3-25.3 .3 11.5 .4-16.1 .3 14.4 .3-3.8 .4-7.4 .3 .1 .3 8 .4-10.9 .3 5.4 .3-5.9 .4 4.8 .3 7.4 .3-2 .4-6.5 .3 7.8 .3-1.3 .4-6.4 .3 8.5 .3 1.3 .4 2.5 .3-2.2 .3 2.5 .4-7 .3-14.4 .3 2.1 .4 4.4 .3 17.3 .3-9.2 .4-12.6 .3 7.8 .3-2 .4 24.8 .3-21 .3-2.1 .4 22.4 .3-5.1 .3 9.7 .4-13.2 .3-15.6 .3-1.6 .4 2.9 .3 6.3 .3-6.6 .4 11.2 .3-11.1 .3 2.9 .4 18.2 .3-20.4 .3-.3 .4-.7 .3 20.4 .3-22.2 .4 15.1 .3-23.1 .3 18.4 .4 3.3 .3 5.2 .3 7.6 .4-19.7 .3-9.1 .3 1.1 .4 1.1 .3 18.1 .3-18.9 .4 13.2 .3-12.6 .3 16.4 .4-10.5 .3 1.3 .3-7.2 .4 15.8 .3-13.4 .3 0 .4 14.2 .3-13.9 .3-2.4 .4 4 .3 8.8 .3-12.8 .4 3.8 .3 7.2 .3 14.2 .4-21.9 .3 .4 .3 4.5 .4 14.1 .3-25.9 .3-.3 .4 7.2 .3 10.5 .3-6.4 .4-4.9 .3 7 .3 9.4 .4-19.8 .3 7.5 .3-9.4 .4 17.1 .3-11.3 .3-2.7 .4 8.8 .3-19 .3 16.3 .4 17.6 .3-23.7 .3 18.2 .4-23.3 .3 8.5 .3 17.2 .4-13.2 .3-4.2 .3-1.9 .4 28.1 .3-28.6 .3-2.5 .4-3.3 .3 7 .3 .7 .4-8.3 .3 31.8 .3-16.3 .4-7.1" fill="none" stroke="#25848e" stroke-width="2.8" stroke-linejoin="round" stroke-linecap="square" clip-path="url(#cb)"/>
<path d="M1169.5 575.3l.3-1.9 .4 4.6 .3 15.2 .3 2.5 .4-7 .3-11.1 .3 23.1 .4-24.3 .3-1.7 .3 26.9 .4-23.6 .3 5.2 .3-13.2 .4 13.1 .3 15.5 .3-20.1 .4 5.5 .3-6.6 .3-2.3 .4 22.1 .3-2.9 .3-6.5 .4 8.2 .3-8.1 .3-2.2 .4 1.7 .3-16.2 .3 3.2 .4 12.9 .3-14.2 .3 5.6 .4 10 .3-20.9 .3 27.8 .4-18.1 .3 43.7 .3-52.3 .4 3 .3-1.3 .3 6 .4-5.7 .3 6.7 .3 6.2 .4 3.3 .3-13.2 .3 3.1 .4 7.4 .3-1.6 .3-3.2 .4-4.7 .3 7 .3-6.6 .4 0 .3 5.3 .3-4.4 .4 .2 .3-2.6 .3 9.4 .4 13.5 .3-10.8 .3-9.7 .4 9.1 .3-13 .3 41.3 .4-14 .3-19.7 .3-1.7 .4 13.8 .3-1 .3-6.6 .4 15.5 .3-27.1 .3-5.4 .4 26.8 .3-6.6 .3-1.5 .4-5.3 .3-.2 .3 18.3 .4-26.5 .3 5.3 .3 7.5 .4-10.3 .3 2.4 .3-7.9 .4 20.1 .3 2.7 .3-27.2 .4 8.8 .3 12.3 .3-7.3 .4-1.7 .3 10.7 .3-2.2 .4-3.2 .3-14.3 .3 2.3 .4 17.7 .3-6.2 .3-11.2 .4 2.3 .3 8 .3-3.4 .4 6.9 .3-8.8 .3-3.8 .4-4.3 .3 10.1 .3-3.2 .4 4.3 .3 8.1 .3-9.5 .4-.5 .3-2.9 .3 20.1 .4-17.7 .3-5.6 .3 4.5 .4 31.1 .3-7.3 .3-7 .4-12.1 .3-11.8 .3 22.2 .4-25.9 .3 33.7 .3 .9 .4-24.9 .3 14.8 .3 3.6 .4-15.5 .3 1.3 .3 7.7 .4-14.1 .3 5.1 .3-1 .4 38.4 .3-38.2 .3 12.4 .4-12.8 .3 21.3 .3-6.3 .4-3.5 .3-10.1 .3-5.6 .4 11.1 .3-9.4 .3 26.5 .4-28.6 .3 15.4 .3 14.6 .4-26.9 .3 5.6 .3 15.4 .4-17.4 .3 12.3 .3-15.7 .4 13.5 .3-10.4 .3 24 .4 5.9 .3-36.1 .3 43.8 .4-36.9 .3-.4 .3 20.1 .4-7.6 .3-17.5 .3 12.9 .4-15.5 .3 17 .3-10.8 .4 16.6 .3 7.6 .3-28.8 .4 4.7 .3 4.3 .3-4.5 .4 8.6 .3-6.5 .3-2.2 .4-.8 .3 .4 .3 7.1 .4 28.8 .3-35.2 .3 1.8 .4 21.8 .3-6.1 .3-10.1 .4-7.5 .3 8.4 .3-13.7 .4 2.2 .3 35.4 .3-34.3 .4 3.5 .3 2.4 .3 7.7 .4-14.2 .3 24.9 .3-12.1 .4-12.5 .3 3.6 .3 6.5 .4 20.6 .3-30.5 .3 14.7 .4-5.7 .3-16.2 .3 14.3 .4-5.1 .3 12.3 .3-11 .4 28.2 .3-19.1 .3-9.4 .4 .6 .3 15.3 .3-8.6 .4-14.8 .3-2.5 .3 8.7 .4-.9 .3 7.9 .3 16.7 .4-6.7 .3 7.6 .3-37.4 .4 14.7 .3 2.6 .3 10.9 .4-8.9 .3 19.3 .3-25.1 .4-1.3 .3 9.5 .3-7.2 .4-1.9 .3-.2 .3 3.7 .4 1.5 .3-2.9 .3 7.2 .4-12.9 .3 26.5 .3-20.2 .4-5.7 .3 2.5 .3-1.8 .4 8.9 .3-4.2 .3-.7 .4-8.7 .3 9.4 .3 7.8 .4-7.5 .3-1.3 .3 10.8 .4-11.2 .3 3.8 .3 10.8 .4 3.2 .3-22.5 .3 1.2 .4 2.6 .3-1.1 .3 6.5 .4-11.2 .3 4.2 .3 9.4 .4 5.5 .3-15.5 .3 24.9 .4-17.1 .3-4.6 .3-5.3 .4-1.6 .3 2.8 .3 26.3 .4-22.8 .3 8.2 .3-20.2 .4 10.9 .3-2.4 .3 6.3 .4-2.4 .3-6.4 .3 5.6 .4 14.3 .3-14.4 .3 19.8 .4-26 .3 22.8 .3-21.8 .4 17.3 .3-6.1 .3 2.7 .4 7.5 .3-8 .3-3 .4-2.9 .3 21 .3-20.8 .4 9.5 .3 23.4 .3-13.9 .4-20 .3-3.2 .3 13.3 .4-14.2 .3 4.2 .3 6.8 .4-5.9 .3 4.7 .3-15.7 .4 15.1 .3-9.6 .3-7.1 .4 7.3 .3-3 .3 3 .4 14 .3 24.5 .3-20.7 .4 30 .3-38.3 .3 8.9 .4-12.6 .3-9.1 .3 6.1 .4 40.1 .3-43.1 .3 3.8 .4 .2 .3-1.6 .3 18.2 .4-20.8 .3 11.5 .3-6.3 .4-.1 .3-1.4 .3 9.1 .4 10.5 .3-18.8 .3-4.2 .4 21.6 .3-19.7 .3 3.8 .4-.9 .3 .3 .3 30.8 .4-31.4 .3-.6 .3-2.3 .4 29.9 .3-28.6 .3-2.2 .4-1.7 .3 19.3 .3-2.7 .4 5.4 .3-14.4 .3-3.5 .4-4 .3 28.4 .3-23.9 .4-3 .3 2.5 .3 14.3 .4 .5 .3 1.6 .3 6.5 .4-27.5 .3 3.4 .3-2.7 .4 2.5 .3-5.9 .3 .3 .4 4.6 .3 13.3 .3-10.1 .4-5 .3 6.3 .3-1.3 .4 13.4 .3 2.4 .3-14.1 .4 10.6 .3-1.2 .3-8.1 .4-4.6 .3 2.4 .3 4.4 .4 2.9 .3 23.7 .3-31.2 .4 9.7 .3 4.8 .3-8 .4-5.5 .3 .2 .3-3.8 .4 .3 .3 18.2 .3-6.9 .4-.9 .3-10.4 .3-5 .4 11.3 .3-19.6 .3 9.4 .4 21.6 .3-5.4 .3 15.5 .4-19.4 .3-.7 .3-9.1 .4 10.4 .3-11.6 .3 4.9 .4 10.5 .3-14.6 .3 17.6 .4-1.9 .3-6.9 .3-6.1 .4 5.5 .3-11.4 .3-5.2 .4 10.4 .3-.7 .3 1.8 .4-5.2 .3 7.2 .3-6 .4 20.5 .3 1.9 .3-16.7 .4 5.1 .3-12.9 .3 10.9 .4-8.8 .3 27.2 .3-9.2 .4-14.9 .3 7.1 .3-8.2 .4-.1 .3-1.1 .3 20.5 .4-6.1 .3-13.5 .3 3.2 .4 22.1 .3-22.1 .3 2.5 .4 13.2 .3 1.6 .3-24.2 .4 10.7 .3-9.1 .3 5.9 .4 .5 .3 .9 .3 9.9 .4-15.6 .3 42.2 .3-38.5 .4 23.7 .3 2.6 .3-7.8 .4-9.6 .3-13.5 .3-.4 .4 1.5 .3-1.3 .3 4.4 .4-6.7 .3 32.4 .3-8.2 .4-26 .3 7 .3 2.7 .4 10.8 .3 3.8 .3-9.1 .4 4.6 .3-10.5 .3-.7 .4 .8 .3 11.1 .3 .5 .4-3 .3-13.1 .3 3.1 .4 15.2 .3-14.9 .3 13.3 .4 5.6 .3-15.2 .3-7.6 .4 23.7 .3-16.9 .3-.2 .4-1.2 .3-1.9 .3 12.2 .4-10.6 .3 1.6 .3-11.8 .4 27.4 .3-13.7 .3 3.5 .4-8.9 .3 2 .3 .5 .4 23.2 .3-11.1 .3-18.7 .4 4.5 .3 33 .3-39.4 .4 4.8 .3 30 .3-35.1 .4-5.3 .3 37.1 .3-28.8 .4 14.3 .3-7.3 .3 10.5 .4-18.8 .3-.3 .3 34 .4-11 .3-.2 .3-16 .4 5.9 .3 13.2 .3-6.2 .4-22.1 .3 6.1 .3 1.8 .4 18.1 .3-4.9 .3-9 .4 2.3 .3-10.4 .3 11.1 .4-12 .3 5.4 .3 1.3 .4-2.9 .3-3.3 .3 2.1 .4 3.9 .3-1 .3-1.1 .4-6.2 .3-5.5 .3 18.9 .4 8.1 .3-19.7 .3 21.3 .4-14.9 .3 .4 .3 14.2 .4-14 .3-.8 .3 .6 .4 3.8 .3 3.4 .3 15 .4-30.9 .3 4 .3 5.2 .4 6 .3 6.5 .3 2.1 .4 2.2 .3 7.3 .3-28.8 .4 11 .3 .8 .3-9.5 .4-2.3 .3 19.9 .3 5.2 .4-20 .3-5.1 .3 15.7 .4-7 .3 14.1 .3-17.7 .4-4.1 .3-2.6 .3 14.2 .4 13.4 .3-25 .3-2.8 .4-7.9 .3 23.3 .3-14.8 .4 18 .3-20.1 .3 17.9 .4-4.4 .3 8.6 .3-17.4 .4-5.4 .3 12.2 .3-4.9 .4 19.5 .3-28.9 .3 9.2 .4 5.5 .3-10.7 .3 18.6 .4-18.1 .3 4.9 .3-2.7 .4 7 .3 15.6 .3-14.2 .4 7.7 .3-13.5 .3-.9 .4 22.4 .3-3.8 .3-13.3 .4 4.2 .3-11.2 .3 13.3 .4-9.2 .3 26.4 .3-16.3 .4-2.1 .3-1.1 .3 .7 .4-4.9 .3-7.5 .3 1.9 .4-2.5 .3 4 .3 .8 .4 32 .3-27.9 .3-2.6 .4-5.6 .3-5.7 .3 21.6 .4 3.5 .3-6.1 .3-12.3 .4-5.1 .3 10.4 .3 20.4 .4-38.4 .3 46.6 .3-33.7 .4 10.7 .3-3.4 .3-8.7 .4 5.9 .3-4.5 .3 1.2 .4-.2 .3 19.7 .3-21.7 .4-2.5 .3 3.9 .3 1.1 .4 8.8 .3-8.3 .3-1.6 .4 14.8 .3 13 .3-18.3 .4-13.1 .3 4.7 .3 25.3 .4-25.5 .3 1.1 .3 10.2 .4-17.7 .3-.8 .3 17.7 .4 7.2 .3-17.9 .3 10.2 .4-3.4 .3 21.4 .3-33.5 .4 5 .3-16.2 .3 27.7 .4-12 .3 5.3 .3-4.8 .4-1.4 .3 1.7 .3 7.9 .4-18.1 .3 33.1 .3-23.1 .4 19.9 .3-29.4 .3 18 .4 .9 .3-9.1 .3 24.3 .4-24.7 .3 10.7 .3-14.4 .4 4.2 .3-3.8 .3 7.3 .4-6.1 .3 20.6 .3-20.2 .4 .5 .3 6 .3-9.1 .4 5.7 .3 .4 .3-7.5 .4 7 .3 34.7 .3-21.3 .4-7.1 .3 8.9 .3 7.4 .4-10.9 .3-15 .3 12.6 .4-10.1 .3-.7 .3 3.4 .4-4.2 .3 14.4 .3-1.8 .4 18.1 .3-26.1 .3-5.8 .4 7.6 .3-7 .3 4.8 .4 3.2 .3-8.2 .3 8.7 .4 3.9 .3-11.8 .3 1.7 .4-.3 .3 1.7 .3 7 .4-7 .3-.4 .3-9.8 .4 9.9 .3 3.7 .3-8.6 .4-5.1 .3 30.1 .3-22.6 .4-7.2 .3 18.9 .3-14.2 .4-4.3 .3 20.3 .3-16.4 .4 3.1 .3 1.9 .3-6.8 .4 11.7 .3-6.7 .3 25.6 .4-19.2 .3-3.2 .3 6 .4-9.8 .3-16 .3 24.4 .4-9.9 .3 6 .3-6.1 .4 7.9 .3-4.4 .3-8.3 .4 2.2 .3 7 .3 .1 .4-2.3 .3 2.2 .3-5.7 .4-5.3 .3 4.1 .3 .3 .4 27.4 .3-10.1 .3-12.3 .4-4.6 .3 6.1 .3-6.9 .4 3.1 .3 4.3 .3-5.3 .4 2 .3 .4 .3 2.8 .4 19.8 .3-22 .3 5.7 .4 .1 .3 10.5 .3-5.4 .4 7 .3-.6 .3-17.9 .4 12.1 .3-13.5 .3-.1 .4 .8 .3-8.5 .3 12.4 .4 13.3 .3-18.2 .3 .6 .4 22.3 .3-20 .3 5.4 .4-.7 .3-2.9 .3 .7 .4-6.1 .3 4.1 .3-.8 .4 12 .3-4.4 .3-9.4 .4 .4 .3-1.3 .3 1 .4 20.7 .3-16.5 .3-4.9 .4 2.2 .3-2.7 .3-2.8 .4 5.9 .3-2.6 .3-.4 .4 10.5 .3 6.2 .3-18.2 .4 .6 .3-.2 .3 3.9 .4 7.6 .3-8.3 .3 .6 .4 12.6 .3 8.8 .3-26.1 .4 27.1 .3-17.8 .3 1.8 .4 .5 .3 24.9 .3-11.2 .4-20.1 .3-3.4 .3 9.3 .4-6.8 .3-2.4 .3-3.5 .4 1.1 .3-1.5 .3 1.7 .4 17.4 .3-11.8 .3 5.7 .4 .4 .3-8.6 .3-1 .4 .4 .3-5.6 .3 6.4 .4 1.6 .3 8.3 .3-9.5 .4 2 .3-6.2 .3 6.8 .4 5.5 .3 2 .3-16.4 .4 14.1 .3 5.3 .3-20.4 .4 4.4 .3 9.4 .3-10.4 .4 4.9 .3-1.4 .3 .1 .4 15.3 .3-4.9 .3-1.7 .4-12.8 .3 3.4 .3-5.8 .4 19.6 .3-14.2 .3 1.8 .4 5.4 .3-10.7 .3 .6 .4 1.1 .3 4.2 .3-2.8 .4 15.4 .3-20.9 .3 6.4 .4 7 .3-9.1 .3 11.5 .4-24.5 .3 12.6 .3-1.7 .4 21.4 .3-24.6 .3 5.2 .4 7.5 .3 .4 .3 16 .4 3.8 .3-29 .3 0 .4 22.5 .3-28.3 .3 6 .4 1.9 .3 5.1 .3 16 .4-8.3 .3-9.4 .3-8.1 .5 6.6 .5 4.6 .5 1.9 .5-13.9 .5 13.1 .5-4.1 .5 7.8 .5-22.6 .5-2.1 .5 2.3 .5 15.6 .5-24.7 .5 12.1 .5-12.9 .5-.4 .5-.3 .5 4.1 .5-7.5 .5-3.8 .5 2.1 .5-15.2 .5-2.4 .5 5.3 .5-.1 .5-13.2 .5 .1 .5 11.1 .5-11.3 .5-4.1 .5-8.7 .5-10 .5-1.1 .5 4.3 .5 .9 .5 3.1 .5-5.6 .5 .4 .5-3.4 .5-12.8 .5-4.9 .5 2.1 .5-3 .5-9.6 .5-10.5 .5-5.3 .5-2.2 .5-6 .5-10.7 .5-3.6 .5-6.4 .5-5.9 .5-4.6 .5-9.6 .5-8.4 .5-9.7 .5-8.4 .5-10 .5-11.4 .5-7.2 .2-2.9 .2-6.2 .2-8.1 .2-4.4 .2-5.3 .2-9.2 .2-10.9 .2-13.7 .2-27.1 .2-58.9 .2-122.2 0 21.7 .2 126 .2 43 .2 20 .2 13.1 .2 8 .2 8 .2 6.5 .2 8.1 .2 5.6 .2 2.6 .2 4.5 .2 5.3 .2 5.7 .5 8 .5 4.9 .5 8.4 .5 6.8 .5 13 .5 6.2 .5 5.6 .5 5 .5 4.7 .5-.4 .5 4.8 .5 15.1 .5 10.6 .5 4.9 .5-12.1 .5 11.2 .5 9.5 .5 3 .5-9.3 .5 10.8 .5 10.3 .5-10.9 .5-12.1 .5-2.1 .5 12.5 .5 11.1 .5 .7 .5 3.9 .5 3.7 .5 4.4 .5 10.4 .5-4.3 .5-.8 .5 14.7 .5 10.6 .5 8.8 .5-7.4 .5 10.2 .5 2.7 .5 10.5 .5 4.3 .5 11 .5-.8 .5-7.9 .5 4 .5 6.8 .5-3.3 .5-3.9 .5 23.4 .5-13.7 .5 3.1 .5 15.6 .5 5.7 .5 1.3 .5-28.5 .5 8.7 .5-8 .5 27.3 .5-12.7 .4 6.3 .3-6.1 .3-7.6 .4-2.1 .3 7.8 .3-5.2 .4-4.8 .3 6.2 .3-6.2 .4 1.5 .3 31.4 .3-5.6 .4-9.6 .3-5.9 .3 14.9 .4-19.6 .3-3.1 .3 5.4 .4-2.4 .3 2.9 .3 7.7 .4-8.9 .3-2.2 .3 1.8 .4 8.1 .3-3.6 .3 13.9 .4-17.9 .3 5.5 .3-10.2 .4 3.7 .3 8.4 .3-3.1 .4-7.2 .3 4.7 .3-3.5 .4 11.8 .3-2.4 .3-11.3 .4 8.3 .3 7.6 .3 6.2 .4-4.3 .3-9.2 .3 18.7 .4-1.7 .3-17.5 .3-1.6 .4-.9 .3 4.8 .3-10.3 .4 1.5 .3 26.4 .3-15 .4-16.3 .3 17.8 .3 2.4 .4 11.6 .3-26.9 .3 3.2 .4-.5 .3 10.6 .3-11.2 .4-3.7 .3-1.9 .3 7.4 .4-4.2 .3 12.2 .3 6.2 .4-4.9 .3-6.4 .3-11 .4 3.8 .3 .1 .3 .3 .4 19 .3 2.4 .3-20.3 .4 18.7 .3-17.3 .3 .1 .4 2.8 .3 6.8 .3-4.5 .4 12.4 .3-15.7 .3-13.6 .4 17 .3-4.7 .3 2.7 .4 20 .3 11.5 .3-34.9 .4 11.1 .3-1.3 .3-12.8 .4 4.8 .3-9 .3 21.8 .4 5.4 .3-19.1 .3-3.4 .4 15.7 .3-2.1 .3-3.5 .4 .3 .3 2.3 .3 5 .4-14.2 .3-1.8 .3 26.7 .4-20.9 .3 16.8 .3-9.3 .4 4.1 .3-8.7 .3 1.4 .4-16.9 .3 1.6 .3 26 .4-15.4 .3 4.1 .3 1.5 .4-9.8 .3 23.9 .3-22.9 .4 .4 .3 31.1 .3-31.5 .4-1 .3-1.1 .3 16.6 .4-11.4 .3-10.4 .3 6 .4 13.9 .3 6.7 .3-28.8 .4 32.1 .3-36.5 .3 6.9 .4 2 .3 12.1 .3-8 .4-1.9 .3 1 .3 15.1 .4-3.7 .3-11.3 .3 4.9 .4 10.7 .3-13.4 .3-3.6 .4 11.3 .3-10.8 .3 24.9 .4-7.4 .3-11.9 .3-11.1 .4 9.7 .3-3 .3 8.8 .4-2.6 .3-12 .3 19.8 .4-17 .3 3.4 .3 4.1 .4-3.2 .3-2 .3 20.4 .4-8.2 .3-8.8 .3-4.3 .4 3.9 .3 18.8 .3-21.2 .4 13.1 .3 5.8 .3-17.6 .4 .7 .3-2.3 .3 8.6 .4-.7 .3-10.6 .3 2 .4 3.4 .3 27.8 .3-27.4 .4-6.1 .3 3 .3 8.4 .4-12.3 .3 15.3 .3 3.6 .4-21.2 .3 34.3 .3-26.2 .4 22.9 .3-26.3 .3 14.8 .4-4.2 .3-10.8 .3 10.9 .4 .9 .3 7.5 .3-18.7 .4-5.5 .3 26.3 .3 5 .4-22.2 .3-4.1 .3 5.3 .4 16.1 .3-5 .3-8.4 .4 13.5 .3-14.7 .3 3.5 .4-5.3 .3 22.5 .3-28.3 .4 31.3 .3-25.9 .3 18.3 .4-23 .3 18.1 .3-13 .4 17.1 .3-2.1 .3-2.4 .4-22.4 .3 11.1 .3-5.5 .4 5.8 .3 3.3 .3 .9 .4-7.9 .3 4.7 .3-2.1 .4-10.9 .3 21.6 .3-4.9 .4-4.6 .3 11.9 .3-5.3 .4-8.8 .3 8.4 .3-8 .4 6.5 .3-7 .3-5.7 .4 11.6 .3-6.1 .3 9 .4-11 .3 1.2 .3-1.7 .4 11.2 .3 5.9 .3-12.9 .4 15.6 .3-26.6 .3 10.6 .4 .8 .3-14.9 .3 23.8 .4-.8 .3-5.3 .3 15.7 .4-6.3 .3-13.3 .3 4.9 .4-7.8 .3 19.3 .3-23.5 .4 2.6 .3 3.9 .3 20.8 .4-18.7 .3-3.7 .3 17.2 .4-19.1 .3 2 .3-4 .4-.5 .3 21.2 .3-18.9 .4 13.6 .3 7.4 .3-17 .4 24.6 .3-26.7 .3-10.3 .4 20.4 .3-16.9 .3 .4 .4 33.9 .3-14.7 .3 6.4 .4-5.1 .3 5 .3-11.7 .4-4.6 .3 .7 .3 5.8 .4 8.1 .3-17.7 .3 14 .4-15.2 .3-7 .3 16.1 .4 10 .3-11.4 .3 10.5 .4-5.1 .3-9.9 .3 2.1 .4-1.4 .3 2.8 .3 20.6 .4-26.5 .3-9.6 .3 22 .4 9.6 .3-20.5 .3-3.8 .4 4 .3 23 .3-10.8 .4-13.6 .3 1.2 .3 1.6 .4-4.5 .3 18.3 .3-14.7 .4 12.4 .3-15.7 .3 8 .4-4.4 .3-2.4 .3-1 .4 5.2 .3 2 .3-11.5 .4 6.6 .3 5.8 .3-7.7 .4 0 .3 3.2 .3-.8 .4 16.9 .3-19.5 .3 3.8 .4-1.8 .3 3.8 .3-3 .4-15.9 .3 22.1 .3 6.5 .4 16.4 .3-24.8 .3-5.7 .4 15.2 .3-18.3 .3 5.5 .4 6.2 .3-12.5 .3 3.7 .4-7.6 .3 5.4 .3 .9 .4-2.5 .3 7.2 .3-4.9 .4 7.2 .3-13.2 .3 3.7 .4 5.6 .3-3.9 .3 5.1 .4-8.3 .3-.7 .3 19.1 .4-12.1 .3 7.4 .3-12.1 .4-4 .3 8.1 .3 3.4 .4-3.5 .3-4.3 .3 17.1 .4 1.2 .3-15.4 .3 13.4 .4-9.5 .3 .5 .3 7.3 .4 5 .3-13.2 .3-8.9 .4 17 .3 28.7 .3-23.3 .4-17.8 .3 18.6 .3 8.8 .4-24.6 .3 5.7 .3 2.3 .4-8.6 .3-15.3 .3 18.1 .4 12 .3 9 .3-14.7 .4 3.3 .3-9.5 .3-14.4 .4 12.2 .3 13.5 .3-.8 .4-11.7 .3 10.9 .3-12.2 .4-4.8 .3 2 .3 4.9 .4-.7 .3 4.2 .3 21.4 .4-28.7 .3-1.2 .3 6.5 .4 .7 .3-9 .3-4.9 .4 11.8 .3 14.7 .3-.2 .4-2.8 .3-13 .3 11.2 .4 .5 .3-.1 .3-9.1 .4 6.6 .3-10.8 .3 14.7 .4-9.3 .3 15.7 .3-10.9 .4-9.2 .3 8 .3-12.9 .4 7 .3 11.5 .3-10.6 .4-3.9 .3 19.6 .3-18.7 .4-1.2 .3 6.1 .3 2.8 .4 10.2 .3-19.3 .3 1.4 .4 3.8 .3-4.7 .3-4.1 .4 8.8 .3 9.5 .3 4.3 .4-16.8 .3-1 .3-3.2 .4 12.6 .3-7.5 .3-.7 .4 30.7 .3-30.3 .3-4.6 .4 27.2 .3-20.9 .3 3.5 .4-2.2 .3 6.6 .3-16.8 .4 4.2 .3 11 .3-10.9 .4 20.7 .3-12.1 .3-10.4 .4 13.8 .3 4.5 .3-22.6 .4 13.6 .3-5.9 .3 8.9 .4-8.4 .3 1.1 .3-3.1 .4 6.8 .3-4 .3-2.5 .4 8.4 .3-22.6 .3 14.5 .4 5.1 .3 14.7 .3-16.7 .4-7.3 .3 1.8 .3 4.4 .4-1.8 .3-1.7 .3 32.9 .4-30.9 .3 4.4 .3-1.8 .4-2.4 .3-2.5 .3-.9 .4 5.7 .3-2.1 .3-.2 .4 18.2 .3-19 .3 22.9 .4-15.8 .3-3.8 .3 4.5 .4 2.8 .3-3.5 .3 14.8 .4-13.8 .3 7.1 .3 16.2 .4-28.6 .3 15.6 .3-6 .4 .2 .3 4.5 .3-22.2 .4 13.7 .3 3.4 .3-10.4 .4 17.4 .3-10.9 .3-3.6 .4-8 .3 11.3 .3 7 .4 4.6 .3-.6 .3-6.8 .4 40 .3-55.7 .3 6.4 .4-6.1 .3 12.9 .3-3.7 .4 2.3 .3-8.6 .3-2.9 .4-.7 .3 6.6 .3-2.4 .4 4.7 .3-10.5 .3 8.3 .4 15.9 .3-18.7 .3 2.4 .4 11.7 .3-15.1 .3 12.5 .4 21.7 .3-33.9 .3 18.3 .4-12.3 .3-1.8 .3-8.2 .4 19.9 .3-5.6 .3-7.8 .4-.1 .3 .9 .3-2.5 .4 10.6 .3-2.9 .3 20.5 .4-31.9 .3 4.3 .3 13.7 .4-4.6 .3 4.8 .3-21.8 .4 10.3 .3 1.6 .3-3.9 .4 17.7 .3-4.5 .3-19.6 .4 2.3 .3 19 .3-1.7 .4-13.3 .3 7.2 .3 6 .4-13.8 .3-6 .3 9 .4-1.2 .3 1 .3 30.9 .4-37.7 .3 20.9 .3 11.7 .4-26.8 .3 23.8 .3 1.8 .4 6.9 .3-31.4 .3 14.7 .4-12.5 .3 8.9 .3-11.1 .4 1.2 .3 12.4 .3-17.3 .4 5.6 .3 3 .3-7.8 .4 7.1 .3 .3 .3 12.7 .4-10.9 .3 2.8 .3-10.2 .4 9.4 .3-12.3 .3 3.1 .4-.6 .3 5.9 .3-12 .4 20.2 .3-20.4 .3-1.1 .4 2.1 .3 35.2 .3-22 .4-9.7 .3 21.2 .3-11.5 .4 2.9 .3 3.6 .3-11.3 .4-2.7 .3 11 .3 5.1 .4-11.1 .3 14 .3-17.9 .4 9.1 .3-14.2 .3 17.5 .4-18 .3 16.5 .3 6.2 .4-19.9 .3 23.9 .3-24 .4 26.7 .3-18.2 .3-12.7 .4 22.1 .3-20.9 .3 14.9 .4-15.3 .3 20.8 .3-17.3 .4-.4 .3-1.6 .3 10.3 .4 15.6 .3-29.2 .3 5.5 .4-1.8 .3 5.4 .3 9.2 .4-10.3 .3-.2 .3 .1 .4-3.4 .3 .9 .3-.2 .4-6.3 .3 10.9 .3 12.9 .4-11.7 .3 4.8 .3 17 .4-25.4 .3 0 .3-4.5 .4 5.3 .3 8.8 .3-17.9 .4 18.4 .3-1 .3-13.9 .4 15.9 .3-15.4 .3 5.5 .4-8.7 .3 4.5 .3 10.8 .4-10 .3 5.9 .3 14.1 .4-13.4 .3 9.6 .3-19 .4 9.1 .3-6 .3 15.1 .4 10.3 .3-3 .3-25.6 .4-8.1 .3 10.9 .3 4.2 .4-8.8 .3 3.8 .3 31.4 .4-14.8 .3-.8 .3-11.5 .4 16.6 .3-19.1 .3-2.5 .4 11.8 .3 4 .3-12.5 .4 .3 .3 15 .3 6.3 .4-17.6 .3-3.2 .3-5.9 .4 1.4 .3 20.7 .3 3.9 .4-9.7 .3 4 .3 10.4 .4 3.5 .3-27.9 .3 .9 .4 22.1 .3-27.7 .3 1.7 .4-.1 .3 8 .3-4.6 .4 3.9 .3-5.8 .3 .4 .4 .1 .3-3.2 .3-3.1 .4 19 .3-17.8 .3 9.8 .4 14.2 .3-8.1 .3-19.5 .4 12.3 .3 20.1 .3-8.4 .4-20.4 .3 5 .3 10 .4 1.2 .3 21.1 .3-5.5 .4-31.6 .3 18.3 .3-3.9 .4 10.1 .3-23.6 .3-3.5 .4 5.4 .3 41 .3-40.2 .4 15.8 .3-18.7 .3 3.1 .4-8.8 .3 3.6 .3 5.2 .4 6.4 .3-8.7 .3 13.2 .4-4.9 .3-9.8 .3 10.9 .4 .5 .3 10.8 .3-19.7 .4 1.4 .3-6.7 .3 17.7 .4 6.1 .3 5 .3-7.4 .4-16.3 .3 18.8 .3-8 .4 10.8 .3 4.1 .3-14.7 .4 2.4 .3-3 .3-4.7 .4-2.1 .3-2.6 .3 3.3 .4-4 .3-1.4 .3 9.5 .4-19.9 .3 14.5 .3 15.9 .4-17 .3 16.8 .3 2.7 .4 5.3 .3 5.3 .3-15 .4-21.1 .3-6.7 .3 11.6 .4 10.1 .3 16.1 .3-15.8 .4-15.8 .3 7.4 .3-2.6 .4 4.3 .3 3.9 .3-9.3 .4-1.5 .3 .6 .3 5.1 .4 15.8 .3-2.4 .3-26.5 .4 2.1 .3 27.7 .3-23.7 .4 14.9 .3-18.2 .3 28.4 .4-.1 .3-26.8 .3 8.5 .4-4.9 .3 8 .3-3.7 .4-.8 .3-2.9 .3 3 .4-.4 .3 8.3 .3 15.3 .4-24.5 .3 2.7 .3 13.4 .4-15.7 .3-.9 .3 3.6 .4 18.6 .3-19.9 .3 5.5 .4-7.9 .3 3.6 .3-5.3 .4 15 .3-16.9 .3 14.2 .4 8.4 .3-13.1 .3 11.9 .4-16.8 .3 16.3 .3-20.8 .4 16.2 .3-7.3 .3-2.2 .4-12.5 .3 30.1 .3-16.5 .4-3.6 .3 26.6 .3-12.5 .4 3.5 .3-3.3 .3-10.4 .4 18.7 .3-16.6 .3 7 .4-20.4 .3 20.8 .3-10.1 .4-7.4 .3 4 .3 22 .4-28.8 .3 23.1 .3 2.1 .4 .1 .3-16.8 .3 7.1 .4 9.3 .3-17.9 .3 11.7 .4-6.2 .3-4.7 .3 22.9 .4-5.2 .3-8.4 .3-2.2 .4 1.6 .3-9.3 .3 14.5 .4-21.8 .3 10.5 .3 18.9 .4-17.6 .3-11.1 .3 17.5 .4-15.9 .3 16.7 .3 1.2 .4-10.6 .3-.3 .3 14.9 .4-6.6 .3-2.9 .3-7.3 .4 34.2 .3-29.7 .3 36.2 .4-38.6 .3-3.9 .3 24.5 .4-25.3 .3 13.8 .3-8.4 .4-6.6 .3 10.5 .3-8 .4 1 .3 .6 .3-.6 .4 9.5 .3-2.9 .3-5.8 .4 25.5 .3-6.3 .3 .4 .4-9.1 .3-14.5 .3 17.8 .4-12.7 .3-.9 .3 6.3 .4 5.5 .3-20.7 .3 17.7 .4-6.9 .3 11 .3-15.9 .4 21.4 .3-17.7 .3-5.5 .4 2.8 .3 1 .3 4.4 .4 29.4 .3-29 .3 4.3 .4-13.2 .3 16.7 .3-14.2 .4 .9 .3 14 .3-.8 .4 1.2 .3-11.7 .3-2.8 .4 .1 .3 1.5 .3 2.6 .4 4.7 .3-6.6 .3 .7 .4 12.9 .3-8.1 .3 16 .4-24.4 .3-1.6 .3 16.2 .4-14.6 .3 1.7 .3 31 .4-34 .3 1.3 .3 9.7 .4-10.7 .3 5.2 .3-8.3 .4 19.9 .3-4.2 .3-6.6 .4-.2 .3 4.5" fill="none" stroke="#21918c" stroke-width="2.8" stroke-linejoin="round" stroke-linecap="square" clip-path="url(#cb)"/>
<path d="M1169.5 587.3l.3-18.3 .4-4.5 .3 10.2 .3 1.3 .4 20.7 .3-9 .3-9.7 .4 5.3 .3 11.1 .3-23.2 .4-1.4 .3 11.7 .3 13.2 .4-10.6 .3 13.2 .3-11.7 .4 .6 .3-10.4 .3-1.7 .4 1.7 .3-3.1 .3 29.5 .4-24.7 .3-4 .3 10.2 .4 2.2 .3-10.4 .3 21.1 .4 7.7 .3-6.2 .3-15.3 .4-3.9 .3-14.4 .3 15.5 .4 19.1 .3-23.5 .3 3.1 .4 18.8 .3-19.9 .3-1.9 .4 13.6 .3-19.2 .3 14.4 .4 3.9 .3-7 .3 7.7 .4-15.1 .3 1.3 .3 .9 .4 15.8 .3-17.5 .3 18 .4-24.8 .3 7.7 .3 4.7 .4 18.2 .3-27.5 .3 20 .4-12.6 .3 5.6 .3 13.6 .4-4.5 .3 4.2 .3-23.2 .4 40.6 .3-38.7 .3-3.6 .4 19.3 .3-16.9 .3 6.8 .4 10.7 .3 1.8 .3-17.8 .4 7.4 .3 15.9 .3-22.3 .4-1.3 .3 12.9 .3-13.5 .4 20.2 .3-2.4 .3-18.2 .4 3.1 .3 13.3 .3-16.1 .4 6 .3 20.9 .3-26.5 .4 11.2 .3 17.1 .3-30.2 .4 4.1 .3-5 .3 29.8 .4-24.9 .3-1.8 .3 3.4 .4-1.4 .3-1.4 .3 16.8 .4-14.6 .3-1.7 .3-1 .4 .2 .3 2 .3 19.3 .4-15.8 .3 3 .3 4.5 .4 9.6 .3-25 .3 20.5 .4 2 .3-17.9 .3 7.4 .4-9.8 .3 31.7 .3-32.1 .4-3 .3 16.2 .3-17.3 .4 10.1 .3 4.7 .3-8 .4-10.7 .3 13.3 .3 18.9 .4-22.2 .3-12.4 .3 11.8 .4-8.1 .3 5.5 .3-.1 .4 23.4 .3-19.8 .3-8.3 .4 3 .3 6.3 .3-2 .4-11.3 .3 19.8 .3-11.9 .4 30 .3-32.4 .3 4.7 .4 16.5 .3-1.9 .3-11.6 .4-9.7 .3 13.5 .3-14.4 .4 48.1 .3-11.7 .3-17.4 .4-10.4 .3 .7 .3 18.5 .4-12.1 .3-5.7 .3 11.3 .4 20.9 .3-32 .3 10.4 .4-10.6 .3 4 .3-4.1 .4-3.2 .3 11.2 .3 18 .4-19.2 .3-1.2 .3-12.3 .4 10.7 .3-12.5 .3 29.5 .4-21.4 .3 8.8 .3-10.7 .4 8.7 .3 3.2 .3 5.5 .4-14.9 .3-2.1 .3 21.4 .4-23.3 .3 3.3 .3 .4 .4 3.1 .3-3 .3 1.2 .4-.5 .3-1.8 .3 17.1 .4-3.7 .3-12.8 .3-11.8 .4 25.3 .3-13.3 .3 13.2 .4-1.1 .3-14.8 .3 .5 .4-3.5 .3 10.3 .3-8.2 .4 50.4 .3-50.5 .3 33.2 .4-26.8 .3 22.8 .3-26.3 .4-3.5 .3 3.8 .3-3 .4 1 .3-4.1 .3 14.5 .4 13.4 .3-16.5 .3-12.6 .4 18.5 .3-2.3 .3-11.4 .4 2.4 .3 16.9 .3 5 .4-9.2 .3-.6 .3-19.8 .4 2.7 .3 0 .3 6.4 .4 7.4 .3-10.7 .3 12.2 .4 3.8 .3-6.1 .3-9.5 .4-1.1 .3 19.7 .3-6 .4 27.1 .3-35.8 .3 2.1 .4-4.5 .3-5.4 .3 11.9 .4 16.8 .3 20.7 .3-40.9 .4-17.3 .3 11.8 .3 3.9 .4 2.3 .3 22.7 .3-34.2 .4 18.7 .3-13.2 .3 16 .4 0 .3-12.2 .3 1.5 .4-1.3 .3-3.7 .3 .7 .4 2.4 .3 14.8 .3-22.1 .4 5.8 .3 .1 .3 13.2 .4-17 .3 18.4 .3 3.4 .4-2.2 .3-24.8 .3 14.4 .4-3.4 .3 2.3 .3-2.4 .4-3.6 .3 .3 .3-5.5 .4 13.9 .3 13.2 .3-20 .4 15.4 .3-18.3 .3 10.5 .4 15.6 .3-21.5 .3 14.9 .4-8.8 .3-8 .3 15 .4-11.5 .3-4.1 .3 14 .4-13.8 .3 20 .3-18.7 .4 7.2 .3 3.5 .3-17.2 .4 5.4 .3-1.3 .3 3.1 .4-11.9 .3 12.1 .3 1.8 .4 16.8 .3 5.9 .3-29.3 .4 2.9 .3-2.1 .3 3.1 .4 1.3 .3 18.5 .3-9.7 .4-11.7 .3-2.3 .3 15.9 .4-17.8 .3 2.9 .3 0 .4 15.4 .3-17.2 .3 24.3 .4-18.9 .3-.7 .3-1.5 .4 1.4 .3 10.7 .3-5.1 .4 4.9 .3 14.1 .3-37.4 .4 15.9 .3 7.9 .3-5 .4 14 .3-15.2 .3 11.4 .4-22.1 .3 26.1 .3-25.8 .4 6 .3-3.2 .3 10.1 .4 10.3 .3-.5 .3-3.6 .4-7 .3 2.3 .3-9.7 .4 8.2 .3-17.1 .3 7.5 .4 14.7 .3 5.8 .3-2.4 .4-15.1 .3-12.9 .3 9.6 .4 12 .3 6.4 .3-20.7 .4 11 .3-6.1 .3 5.4 .4 .4 .3 20 .3-8.3 .4-.1 .3-34.5 .3 31.7 .4 .6 .3 2.3 .3-9 .4 2.1 .3-3.9 .3-12.6 .4 1 .3 4.1 .3-.1 .4-2.1 .3 1.2 .3 7.6 .4-11.8 .3 23.1 .3-11.8 .4-6.7 .3-7.2 .3 16.7 .4 12 .3-23.8 .3 19.4 .4-13.9 .3-3.6 .3 13.1 .4-8.6 .3-6.7 .3-1 .4 21.1 .3-16.6 .3-.2 .4-.6 .3 8.8 .3 5.5 .4-14.1 .3 15.5 .3-18.1 .4 1.4 .3-5.1 .3 31.4 .4-7 .3-14.5 .3-2.2 .4 11 .3 5.9 .3-1.9 .4-14.5 .3-10.7 .3 9.4 .4-2.2 .3-10.6 .3 11.4 .4 1.2 .3 9.4 .3-.8 .4-10.7 .3 0 .3 7.2 .4 8.1 .3-15.7 .3 7 .4-7 .3 40 .3-39.7 .4 14.2 .3-7.4 .3 5.8 .4 3 .3-9 .3 9.3 .4-17.1 .3 2.2 .3-6.1 .4 14 .3-10.4 .3 3.5 .4 11 .3-14.8 .3-1.9 .4 11.4 .3 5.1 .3-8 .4 5.5 .3-8.2 .3-7.3 .4 18.4 .3-15.5 .3 3.9 .4 26.3 .3-3.1 .3-22.5 .4 1.7 .3-7.4 .3 3.6 .4 14.7 .3-13 .3 23.1 .4-14.4 .3 23.6 .3-32.8 .4 7.1 .3-4.5 .3 10.8 .4 2.9 .3-.1 .3-3.6 .4 15.9 .3-12.4 .3-1.4 .4-7 .3-15.9 .3 23.6 .4-16.4 .3-1.5 .3 22 .4-8.1 .3 4.2 .3-.8 .4-7.3 .3-2.8 .3 5.3 .4 9.4 .3-18.9 .3 13.5 .4-11.3 .3 16.5 .3-1.2 .4-19.2 .3 10.8 .3 9 .4-23 .3 15.3 .3-12.4 .4 22.4 .3-23 .3-.1 .4-2 .3 .3 .3 5.6 .4-2.3 .3 7 .3 4.6 .4-.6 .3-8.5 .3 .7 .4 21.8 .3-20.1 .3-3 .4 8.8 .3-3.5 .3 3.4 .4-8.6 .3-4.9 .3 .5 .4 19.8 .3-16.1 .3 1.1 .4-7.2 .3 26.1 .3 10.6 .4-32.6 .3 12.2 .3-7.5 .4 5.8 .3-5.2 .3 12.3 .4-13.8 .3-4.8 .3 7.4 .4 .4 .3 2.7 .3-6.6 .4-2.3 .3 6.1 .3-4 .4 7.8 .3 4.6 .3-11.9 .4 34.7 .3-29.4 .3-1.6 .4-14.4 .3 12.5 .3-7.6 .4 5.3 .3-5.8 .3 11.6 .4-7 .3 26.2 .3-28.6 .4 6.8 .3-10.2 .3 27.6 .4 3.5 .3-19.4 .3-4.8 .4 27.7 .3-15.8 .3-14.8 .4 5.6 .3-12.9 .3 29.6 .4-17.9 .3 1 .3 14.8 .4-16.6 .3 .4 .3-2.8 .4-.1 .3-5.5 .3 22.3 .4-12.4 .3 15.6 .3-15 .4-4.2 .3-1.3 .3 15.9 .4-19.2 .3 2.8 .3 3.7 .4 1.7 .3-10.1 .3 7.7 .4 32.2 .3-33.9 .3 21.9 .4-24.2 .3 1 .3 31.1 .4-26 .3 9.1 .3-23.6 .4 13.7 .3 6.8 .3 19.6 .4-20.3 .3-13.4 .3 5.5 .4 6.4 .3-2.8 .3-9 .4 11.6 .3-6.5 .3-8.2 .4 17.6 .3-4.8 .3-14.2 .4 9 .3 4.4 .3 14.8 .4-11.7 .3-6.4 .3-2.2 .4 .9 .3 .5 .3 1.5 .4 7.5 .3-15.2 .3 .8 .4 12.6 .3-8 .3-2.9 .4 6.6 .3-2.6 .3 20.7 .4-19.9 .3-.3 .3 7.3 .4-8.8 .3 2.3 .3 10.5 .4 9.7 .3-15.2 .3-2.9 .4-1.1 .3-6.1 .3-.7 .4 3.3 .3 4.9 .3-1 .4-2.1 .3-9.2 .3 20.2 .4 15.7 .3-27.3 .3-1.6 .4 1.8 .3-3.3 .3 .1 .4 12.2 .3-9.7 .3-3.7 .4 15 .3 21.6 .3-32.5 .4 4.1 .3-8.5 .3-1.3 .4 6 .3-4.1 .3 1.7 .4 10.7 .3-2.1 .3 11.1 .4-22.2 .3 3.6 .3 .2 .4 8.7 .3-14.7 .3 4.9 .4-1.7 .3 9.5 .3-9.8 .4 4.3 .3-6 .3 4.4 .4-1.3 .3 21.6 .3-17.6 .4 0 .3-2.7 .3 9 .4-20.1 .3 25.8 .3-9.4 .4-5.6 .3-8.3 .3 30.7 .4-9.9 .3-20.8 .3 21.6 .4 2.6 .3-21.5 .3 21.8 .4-7 .3-2.2 .3-7.9 .4 1.7 .3-.5 .3 7.7 .4 12.9 .3-31.6 .3 22 .4-3.5 .3-8.7 .3 8.7 .4-10.9 .3 35.2 .3-31.4 .4 35.2 .3-33.8 .3 23 .4-14.7 .3-14.1 .3 6.5 .4 4 .3 4.2 .3-15 .4 5.8 .3 .4 .3 16.5 .4-25.7 .3 3.7 .3 15.4 .4-11.5 .3-.3 .3-7.9 .4 26.1 .3-7.9 .3-8.9 .4 0 .3-3.2 .3 32 .4-21.6 .3-10.1 .3 9.7 .4 3.8 .3-1.2 .3-1.6 .4-8.6 .3 4 .3 1.3 .4 4.3 .3-9.1 .3 .5 .4 11.6 .3 3.3 .3-7.9 .4-5.2 .3 13.9 .3-2.2 .4-18.7 .3 19.1 .3-4.6 .4-15.9 .3 21 .3-15.4 .4-.3 .3 1 .3 4.7 .4 .3 .3-10.6 .3 12.7 .4-15.9 .3 13 .3-11 .4 25.6 .3 4.7 .3-9.2 .4-14.4 .3 8.9 .3-8.2 .4 .1 .3-7.9 .3-.2 .4 4.6 .3 2.6 .3 1.4 .4-.1 .3-2 .3 9.3 .4-4.7 .3 7.7 .3 0 .4-4.7 .3-16.4 .3 8.7 .4 2.9 .3 15.6 .3-20.6 .4-2 .3 3.3 .3-.2 .4 35.4 .3-29.1 .3-8.5 .4 13.5 .3 9.7 .3-16.3 .4-4.3 .3 7.7 .3-8.5 .4 13.9 .3-7.9 .3 8.3 .4-17.1 .3-1.4 .3 13.5 .4-3.6 .3 8.9 .3-18.7 .4 8.1 .3 36.3 .3-39.2 .4-2.8 .3 17.4 .3-15 .4-1.4 .3 3.2 .3 19 .4-24.1 .3 11.9 .3-4.9 .4 3.5 .3-1.4 .3 1.8 .4-7 .3 17.1 .3-10.4 .4-.3 .3 8.7 .3 10.3 .4-16 .3-11.7 .3 1.7 .4 14.2 .3-1.1 .3-11.3 .4-5.3 .3 1.4 .3 5.6 .4-3.2 .3-2.5 .3 17.1 .4-5.2 .3 5.4 .3-11.4 .4-3.2 .3 5.8 .3-11.4 .4 21.9 .3-5.7 .3 6.6 .4-11 .3 5.1 .3-12.4 .4 .2 .3-4.6 .3 10.1 .4-8.7 .3 17.9 .3 15.8 .4-28.6 .3 3 .3 14.8 .4-18.8 .3 4.4 .3-5 .4-7.4 .3 15.5 .3 14.4 .4-1 .3-25.2 .3-6.4 .4 9.7 .3 .3 .3 3.3 .4-1.2 .3 19.9 .3-17.4 .4-4.4 .3 6 .3-5.7 .4-9.6 .3 15.4 .3-4.5 .4 5 .3 19.8 .3-21 .4 10.1 .3-11.1 .3-2.5 .4 14.8 .3-21 .3 4.9 .4 25.9 .3-31.6 .3 2.3 .4 21.9 .3-10.3 .3-6 .4-8.7 .3 5.2 .3 1.3 .4 6.2 .3-11.4 .3 32.2 .4-27.7 .3 2.4 .3 5.2 .4-3.1 .3-12.4 .3 8.1 .4 15.4 .3-18.4 .3 4.8 .4-3.6 .3 16.4 .3-15.4 .4 18.3 .3-.5 .3-26.1 .4 4.2 .3 5 .3-2.1 .4-7.7 .3 9.9 .3 7.7 .4 14.6 .3-17.1 .3-4.9 .4 9.4 .3-14.4 .3 5.8 .4 15.9 .3-13 .3 .5 .4 6.6 .3 3.2 .3-13.1 .4-.7 .3 29.7 .3-38.7 .4 6.4 .3 7.9 .3-.7 .4 3.2 .3 3.9 .3-9.4 .4-.5 .3-5.1 .3 6.1 .4 6 .3-13.9 .3 8.5 .4-4.6 .3-2 .3 9.9 .4-7.7 .3 2.5 .3 4.9 .4-10.7 .3 1.1 .3 2.7 .4 .9 .3-1.5 .3-3.7 .4 2.4 .3 .9 .3-9.5 .4 13.4 .3-5.2 .3-3.6 .4 41.8 .3-25.5 .3-8.9 .4-2.6 .3-.9 .3-4.8 .4 3.3 .3-5.7 .3 2.9 .4 23.1 .3 0 .3-6.5 .4-9.5 .3 4.3 .3-14.1 .5 14.5 .5 1.3 .5-8.5 .5-5.1 .5-5.1 .5 2 .5-8.6 .5 4.9 .5-1.2 .5 2.8 .5-7.9 .5-3.1 .5 3.1 .5-3 .5 4.7 .5-2.6 .5-7.8 .5-11.8 .5-8.2 .5 3.7 .5 3 .5-5.1 .5 2.1 .5 5 .5 2.1 .5 .3 .5-8.7 .5 .4 .5-3.7 .5-12.4 .5-1.8 .5-11 .5-2.1 .5-1.2 .5 8 .5-6.7 .5 7.6 .5-.5 .5-6.6 .5-5.4 .5-4.5 .5-1.9 .5-6.6 .5-7.7 .5-7.6 .5-2.5 .5-6.2 .5-6.7 .5-6.9 .5-8.2 .5-7.3 .5-9.1 .5-8.4 .5-8.7 .5-5.8 .5-10.9 .5-10.6 .5-12.3 .5-9.2 .2-2 .2-6.9 .2-8.8 .2-5.9 .2-3.7 .2-9.5 .2-8.5 .2-12.3 .2-19.8 .2-38.1 .2-102.2 .1-59.5 .1 110 .2 68.7 .2 27.6 .2 13.5 .2 12.4 .2 7.6 .2 4.4 .2 4.5 .2 9.5 .2 6.9 .2 2.8 .2 4.9 .2 7.5 .5 13.6 .5 7.8 .5 7.8 .5 7.1 .5 5.5 .5 10.9 .5 13.6 .5 5.1 .5 .7 .5 5.8 .5 15.4 .5 14.7 .5-6.2 .5-7.5 .5 6.8 .5 5.2 .5 3 .5 4.4 .5 3.5 .5-12.3 .5-2.6 .5 8.7 .5 5.6 .5-.8 .5 2.7 .5 6.8 .5 2.8 .5 12 .5 10.7 .5-9.4 .5-14.1 .5 13.1 .5 9.9 .5 8.1 .5 10.6 .5 4.3 .5-1.1 .5-.2 .5 7.3 .5 3.1 .5-.7 .5 6.8 .5 11.6 .5-8.2 .5 6.6 .5-2 .5 8.9 .5-2.1 .5 5.3 .5 8 .5-3.5 .5 14.4 .5-1 .5-10.6 .5 9 .5-9.9 .5-1.4 .5 1 .5-3.6 .4 3.3 .3 14.8 .3-19.2 .4 16.9 .3-9.6 .3-2.9 .4-2.5 .3 1.7 .3 1.3 .4 14.8 .3-10.1 .3 11.4 .4-12.1 .3 11.2 .3-7.2 .4 3.7 .3-12.2 .3 17.1 .4-8.6 .3-4.6 .3-4.4 .4-3.1 .3 8.8 .3-4.7 .4 2.8 .3 4.7 .3 4.6 .4 8.3 .3-8.9 .3 1.2 .4-9.3 .3 1.3 .3 2.1 .4-4.2 .3 3.4 .3 1.8 .4-11.5 .3 8.9 .3-5.5 .4 9.5 .3 12.6 .3-16.3 .4-6.3 .3 11.9 .3-8.9 .4 4.2 .3-4.3 .3-6.9 .4 6.3 .3 1.5 .3 13.1 .4-5.7 .3-6.8 .3 32.8 .4-33.5 .3 15.7 .3-10.4 .4-3.5 .3-2 .3 .9 .4-1.8 .3 1.5 .3 34.3 .4-23.3 .3-8.6 .3-6 .4 25.7 .3-20 .3-4.7 .4-.7 .3 9.7 .3-7.3 .4 1.8 .3 13.4 .3-6.5 .4-13 .3 3 .3 8.9 .4 11.5 .3-19.4 .3-.4 .4 4 .3-8.4 .3-.2 .4 10.4 .3 22.1 .3-23.3 .4-2.6 .3-8.8 .3 22.4 .4-12.5 .3 3.3 .3-2.9 .4 33 .3-19.9 .3-17.6 .4 4.8 .3 20.7 .3-.7 .4-28.3 .3 16.3 .3-9.9 .4 6.3 .3 26 .3-25.8 .4-3.2 .3-5.7 .3 16 .4-25.7 .3 8.7 .3 10.3 .4-8.2 .3-.2 .3 3.9 .4 21.5 .3-27.4 .3-3.7 .4 1.7 .3 12.1 .3 10.7 .4-17.3 .3 1.9 .3 3.5 .4-5.7 .3 23.6 .3 1.2 .4-7.5 .3-.9 .3-.5 .4-14.4 .3 1.1 .3-16.1 .4 18.9 .3 33.8 .3-37 .4 17.1 .3 4.7 .3-20.9 .4 11.3 .3-8 .3-8.9 .4 4.9 .3-4.2 .3 20 .4-14.8 .3 18.6 .3-9.9 .4-6.2 .3 13 .3-25.4 .4 30.8 .3-8.7 .3-17.6 .4 12.2 .3-5.2 .3-1.8 .4 22.7 .3-24.2 .3-2.2 .4 4.2 .3-5 .3 39.3 .4-37 .3 8.9 .3-8.7 .4 .9 .3-3.3 .3 13.1 .4-8.6 .3 10 .3-11.8 .4-6.7 .3 7.1 .3 11.3 .4-1.3 .3-7.9 .3-6.6 .4 23.4 .3-12.5 .3 5.7 .4-16 .3 3.9 .3 2.2 .4 11.7 .3-14.6 .3 11.5 .4-9.7 .3 .7 .3 33.6 .4-35.1 .3 .6 .3 1.1 .4 8.5 .3 17 .3-15.6 .4 20.1 .3-24.2 .3 6.9 .4-5.5 .3 10.1 .3-13.7 .4-8.4 .3 8.6 .3-15.8 .4 10.9 .3 .8 .3-1.8 .4 6.1 .3 1.5 .3-7.5 .4-9.3 .3 9.1 .3-4.3 .4 23.3 .3-9.8 .3 3 .4-15.5 .3-4.9 .3 8 .4 5.6 .3 14.6 .3-19.5 .4-2.6 .3 26.3 .3-12.6 .4-9.7 .3-1.8 .3-.3 .4 3.6 .3 6 .3-1.4 .4-9.5 .3 .4 .3-2.7 .4-1.6 .3 22.3 .3-20.5 .4 23.2 .3-18.4 .3-14.9 .4 12.4 .3-.2 .3 1.3 .4 6.8 .3-5.4 .3-1.8 .4-1.4 .3 15.4 .3-5.5 .4-15.6 .3 9 .3 8.1 .4-7.2 .3 8.3 .3 10.9 .4-16.6 .3 5.4 .3-11.3 .4-1.2 .3 .9 .3 2.8 .4-.2 .3 6.7 .3-5.9 .4-2.2 .3 16.9 .3-16.9 .4-5.8 .3 5.6 .3 16.8 .4-9.7 .3-6.2 .3-6.2 .4 6.4 .3-4.6 .3 6.9 .4 5.3 .3-9.7 .3 5.8 .4-6.8 .3 3 .3 26 .4-26.9 .3-1.6 .3 14.9 .4 7 .3-9.3 .3-10.2 .4 0 .3 6.3 .3 .6 .4 16.2 .3-25.5 .3 4.3 .4 12.6 .3 10.9 .3-14.6 .4-10 .3 20.6 .3-8.3 .4-16.3 .3 28.6 .3-28.2 .4 11.8 .3-3.3 .3-19.5 .4 6.9 .3 24.6 .3-16.2 .4-9 .3 12 .3-11.7 .4 25.9 .3 9.2 .3-13.5 .4 .2 .3-9 .3-9.4 .4 6 .3 12.4 .3-9.4 .4 6.2 .3-7.9 .3-4.2 .4 31.2 .3-23.7 .3 2.7 .4-9.8 .3 3.1 .3-6.2 .4 13.1 .3-7.1 .3-8 .4 2.9 .3 20.8 .3-11.2 .4-2.9 .3-3 .3-9.1 .4 8.4 .3-1 .3 2.2 .4-3.2 .3-2.4 .3-6.2 .4-1.8 .3 12 .3 7.5 .4-7.6 .3-1.2 .3 3.6 .4-4.8 .3 24.5 .3-15.1 .4-16.7 .3 39.8 .3-5.6 .4-25.4 .3 2.8 .3 1.3 .4 37.3 .3-33.3 .3-3.2 .4 5.7 .3-12.4 .3 22.4 .4-5.7 .3-1 .3-11.3 .4 16.9 .3-21.1 .3-.6 .4 12.2 .3 3.2 .3-9.5 .4-4.1 .3 2.6 .3-4.8 .4 13.4 .3-13.4 .3 2.3 .4 1 .3-1.2 .3 18.4 .4-17.7 .3 11.9 .3-7.7 .4 6.8 .3-9.7 .3-1.5 .4 2 .3 0 .3 4.8 .4-1.3 .3-9.5 .3 3.8 .4-1.3 .3 19.3 .3-9 .4-10.3 .3 1.6 .3 .6 .4 4.6 .3-12.1 .3 8.6 .4 9.8 .3-13.7 .3 3 .4 5.3 .3-3.6 .3 6.5 .4 3.4 .3-15.6 .3 2.9 .4 18.8 .3-12 .3 6.8 .4-4.8 .3-10.9 .3-1.2 .4 17.4 .3 12.9 .3-24.3 .4 13.1 .3-3.1 .3-19.7 .4 0 .3 26.6 .3 3.5 .4-26.7 .3 5.5 .3 10.3 .4-13.9 .3 19.7 .3-11.2 .4-6 .3 .9 .3-4.5 .4 6.4 .3-7.3 .3 6.2 .4 29.5 .3-5.8 .3-23 .4 7.3 .3-10.5 .3-3.7 .4 .8 .3 13.2 .3-14.5 .4 17.1 .3-.3 .3-23 .4 13.9 .3-3.2 .3 1.5 .4-6.3 .3 4.4 .3 2.5 .4 32.7 .3-31.8 .3 11.8 .4-11.8 .3-6.7 .3 1.9 .4-12.9 .3 28.9 .3-14.6 .4 1 .3 13.1 .3 6.3 .4-10.6 .3 15.4 .3-7.8 .4-16.4 .3-10.9 .3 13.9 .4 11.4 .3-10.7 .3 24.8 .4-30.7 .3-4.5 .3 15.3 .4-1.6 .3 2.6 .3-17.4 .4 38.2 .3-31.5 .3 17.1 .4-21.1 .3 16.1 .3-11.5 .4 9.2 .3-10.5 .3 1 .4 11.4 .3-19.3 .3 26.6 .4-18.2 .3-.1 .3 1.2 .4 3.9 .3-7.9 .3-3.5 .4 5.2 .3 2.4 .3 10.4 .4-10.5 .3 14.5 .3-21.7 .4-1.1 .3 7.6 .3 20.6 .4-19.3 .3 4.3 .3 18.2 .4-16.1 .3 12.9 .3-2.8 .4-14.6 .3-8.5 .3 24.3 .4-7.6 .3 4.1 .3 2.5 .4-14.9 .3-4.8 .3-6.3 .4 3.7 .3 .5 .3 16.5 .4 19.8 .3-23.9 .3 5.7 .4 5.3 .3-17.8 .3 16 .4 22.2 .3-28.8 .3-2.2 .4-1.8 .3-9.5 .3 4.4 .4 10.3 .3-1.1 .3-6.5 .4 20.4 .3-6.3 .3-18.4 .4 14 .3-25.8 .3 33.4 .4-23.8 .3-6.1 .3 9.1 .4 16.2 .3-18.8 .3 .7 .4 6.7 .3-4.5 .3 5.3 .4 6.9 .3-19.8 .3 11.4 .4 8.8 .3-2.3 .3-6 .4 5.9 .3 8 .3-17.1 .4 4.5 .3-3.8 .3 9.6 .4-15.9 .3 .1 .3-.1 .4 2 .3 11 .3-12.4 .4-4.7 .3 10.3 .3-4.4 .4 .2 .3 18 .3-5.8 .4-8.7 .3-5.7 .3 11 .4 11.9 .3-26.2 .3 1.7 .4 10.4 .3-12.7 .3 24 .4-15.1 .3 0 .3 6 .4 12.7 .3-27 .3 19.2 .4-16.8 .3 5.2 .3 .5 .4-4.5 .3 10.9 .3-5.6 .4 .1 .3 3.4 .3-10.2 .4 5.8 .3 11.1 .3-13.7 .4 11.5 .3 10.2 .3-8.1 .4-13.3 .3 5.4 .3 2.9 .4 3.3 .3-8.3 .3 30.3 .4-32.6 .3 7.7 .3 26.8 .4-23.1 .3-16.2 .3 4.9 .4 1.1 .3 25.3 .3-13.9 .4-13.7 .3-1 .3 12 .4 15.3 .3-10.2 .3-13.4 .4-2.9 .3 12.1 .3-6.1 .4-11 .3 7.7 .3 .1 .4 9.9 .3-7.2 .3 7.4 .4-10.7 .3 26.1 .3-18.7 .4-10.1 .3 10.7 .3-9.2 .4 1.5 .3-1.9 .3-5.4 .4 3.9 .3 3 .3 2.5 .4-5.4 .3-2.2 .3 35.4 .4-23 .3 7.7 .3-11 .4-2.7 .3 11.2 .3-13.3 .4 .8 .3-4.6 .3 24.7 .4-3.1 .3-15 .3-9.5 .4 4.1 .3-1.4 .3-1.8 .4 26.3 .3-4.5 .3-3.3 .4 13.1 .3-23.8 .3-2.9 .4 7.1 .3-4.9 .3 8.3 .4-7.3 .3-7.5 .3 3.4 .4 5.8 .3-7 .3 8.7 .4 16.3 .3-1.6 .3-12.6 .4 8.2 .3-10.2 .3 13.2 .4-30.9 .3 12.4 .3 28.6 .4-25 .3 15.1 .3-11.9 .4-7.4 .3 .9 .3-2.7 .4 10 .3-12.7 .3 44.4 .4-38.3 .3 21.2 .3-17.2 .4 7.1 .3-11 .3-.1 .4-2.5 .3 2.6 .3-1.5 .4 16.7 .3-24.8 .3 10.3 .4-10.1 .3 8.6 .3 20 .4-24.3 .3-1.5 .3 1.7 .4 34.5 .3-30 .3-1.7 .4 13.3 .3-10.1 .3 4.1 .4-6.4 .3 9.3 .3-2 .4 9.6 .3-15.2 .3 11.3 .4-22.5 .3 20.5 .3-9.4 .4 6.4 .3-11.7 .3 13 .4-6.9 .3-.6 .3-7.5 .4 13.2 .3 9.1 .3-14.7 .4 .3 .3 15.7 .3-28.2 .4 38.6 .3-28 .3 5.7 .4 2.9 .3-8 .3 8.9 .4-9.9 .3 .8 .3 .2 .4-.6 .3 23.9 .3-16 .4 13.2 .3-21.7 .3 21.2 .4-17.7 .3 9.8 .3 8.4 .4-23.4 .3-5.1 .3 9 .4-4.9 .3-3.8 .3 7.1 .4 12.4 .3-13.9 .3 9.3 .4-15.1 .3 8.8 .3 4.1 .4-1.4 .3 .8 .3-10.8 .4 3.8 .3 14.6 .3-11.3 .4-3.2 .3 7 .3-12.8 .4 1.4 .3 2.8 .3 1.7 .4 20.8 .3-9.1 .3 18.5 .4-7.8 .3-22.3 .3 1.9 .4 .4 .3 14.4 .3-23.3 .4 2.8 .3 3.6 .3 4.6 .4 4.6 .3-8.9 .3 4.8 .4 5.7 .3-11.2 .3-11 .4 15.3 .3-2.7 .3 1.8 .4-1.3 .3-.3 .3 2.2 .4-1.3 .3 16.6 .3-17.4 .4-.8 .3-2.3 .3 6.2 .4-2.2 .3 18.6 .3-19.6 .4 6.9 .3-8.6 .3 2.3 .4-6.1 .3 18.1 .3-14.5 .4 16.6 .3-1.2 .3-17.6 .4 8.1 .3 .8 .3 1 .4-7.7 .3 4.1 .3 3.1 .4-10.2 .3 24.3 .3-19.5 .4 2.5 .3 3.2 .3-12.5 .4 11.6 .3-2.8 .3-7.9 .4 6.7 .3 9.6 .3-11.9 .4 6.2 .3 6.6 .3-7.8 .4-3.7 .3 9.4 .3 3.6 .4-13.9 .3 4 .3 23.8 .4-24.4 .3-6.9 .3 4 .4 10.5 .3 2.2 .3-9.8 .4 8.5 .3-12.2 .3 14.6 .4-8.2 .3-5.8 .3 17.5 .4-16.6 .3 8.1 .3-9.1 .4 1 .3 2.2 .3 27.8 .4-33.9 .3 4 .3 10.8 .4-9.6 .3-2 .3-5.1 .4 1.7 .3 25 .3-23.8 .4 15.3 .3-11.5 .3 37.2 .4-42.2 .3 16.3 .3-5 .4-13 .3 6 .3 2.1 .4-5.2 .3-.4 .3 14.7 .4-10.1 .3-2.5 .3 2 .4-5.2 .3 14.1 .3 2.7 .4-6.8 .3 13 .3-6.2 .4-15.7 .3 .9 .3 26.6 .4-26.7 .3 13.3 .3-12.2 .4 .2 .3-4.3 .3 5.2 .4 33.7 .3-31.1 .3 15.1 .4-19.5 .3 4.6 .3-2.8 .4 6.6 .3-11.3 .3 23.6 .4-16.9 .3-.3 .3-5.7 .4 .7 .3 13.2 .3-7.2 .4-2.5 .3 7.4 .3 6.3 .4 12.1 .3-29.2 .3 15.2 .4-7.9 .3 .2 .3-2.6 .4 15.7 .3-17.1 .3-9.4 .4 14.9 .3-6.9 .3-.1 .4-4.8 .3 17.1 .3-8.2 .4-3.1 .3 12.3 .3-4.6 .4 3.4 .3-12 .3-.4 .4 28.1 .3-17 .3-12.8 .4-.4 .3 2.5 .3 33.4 .4-24.6 .3 5.4 .3-15 .4 4 .3 6.1 .3-.3 .4-5.8 .3 7.4 .3-10 .4-.7 .3 1" fill="none" stroke="#1e9c89" stroke-width="2.8" stroke-linejoin="round" stroke-linecap="square" clip-path="url(#cb)"/>
<path d="M1169.5 588.1l.3-25.9 .4 14.1 .3 26.4 .3-19.7 .4-20.6 .3 18.6 .3-8.7 .4 .8 .3 1.3 .3 18.7 .4 14.5 .3 1.5 .3 1 .4-27.3 .3-5.5 .3-2.8 .4 9.6 .3-1.6 .3-18 .4 7.7 .3 4.3 .3 4.1 .4-2.3 .3 13.7 .3-2.4 .4-13.8 .3 25.1 .3-23.7 .4 8.7 .3 3.4 .3 8.8 .4-17.8 .3 22.4 .3-24 .4-8.8 .3 33.6 .3-30.5 .4 1.8 .3 1.3 .3 1.7 .4 5.4 .3-7.2 .3 2.9 .4-2.1 .3-5.1 .3 6.3 .4 18.7 .3-20.8 .3-11.4 .4 9.3 .3 21.3 .3-21.8 .4-.4 .3 14.7 .3-10.8 .4 7.9 .3-14.1 .3 5.8 .4 14 .3-5.1 .3-6.9 .4 .4 .3 3.5 .3 1.5 .4-5.5 .3-.2 .3 14.4 .4-19.6 .3-.7 .3 17.9 .4-15.4 .3 10.9 .3-1.9 .4-10.5 .3 12.1 .3-2.5 .4 6.1 .3-10.1 .3 .1 .4 10.5 .3 5.7 .3-18.2 .4 3.1 .3 25 .3-27.8 .4-3.8 .3 .9 .3-.8 .4-1.8 .3 8.3 .3-6.2 .4 27.3 .3-28.6 .3 30.4 .4-13.4 .3 .1 .3-19.4 .4 .9 .3 24.6 .3-10 .4-7.6 .3 2.5 .3-3.6 .4 1.1 .3 10.8 .3-5.3 .4-13.9 .3 22.7 .3-28.7 .4 32.5 .3-9.2 .3-4.6 .4-4.7 .3-9.1 .3 10.4 .4-1.2 .3 .1 .3 20.2 .4-26.7 .3 12 .3-6.6 .4-4.4 .3 1.6 .3 6.5 .4 6.2 .3 13.8 .3-19.5 .4-9 .3-.6 .3 17.4 .4-13 .3 15.1 .3-12.5 .4-1.9 .3 9.7 .3-12.1 .4 4.3 .3 .4 .3-9.1 .4 3.3 .3-.1 .3 17 .4 3.1 .3-20.7 .3 19 .4-10.3 .3-4.5 .3 15.2 .4-19.1 .3 4 .3 11.4 .4-18.7 .3 2.7 .3 15 .4-8.8 .3 11.5 .3-11.6 .4 .1 .3-1.3 .3 1.8 .4 6.8 .3-7.8 .3-3.2 .4-4.3 .3 45.8 .3-16.8 .4-22.5 .3 17.1 .3-7.9 .4-10.3 .3 8.3 .3-9.6 .4 9.2 .3 .3 .3-11.8 .4 18.7 .3-1.6 .3-1.8 .4-8.7 .3-3.3 .3-.8 .4 12.1 .3-15.4 .3 27 .4-12.2 .3-15.8 .3 10.6 .4 2.9 .3-3.7 .3 2.7 .4-1.9 .3 29.8 .3-42.5 .4 28.2 .3-5.5 .3-16 .4 12.9 .3-12.9 .3 18.8 .4-10.4 .3-7.1 .3 5.8 .4-3.3 .3 .8 .3 12.8 .4-19.2 .3 2.3 .3 3.5 .4-9.8 .3 7.4 .3 2.9 .4-5.4 .3 4.8 .3-11.8 .4-1 .3 5.1 .3 10.5 .4 11.3 .3-18.7 .3 .8 .4 10.4 .3-7.5 .3-1.9 .4-1.6 .3 1.3 .3-1.3 .4 10.1 .3 6.5 .3-13.6 .4 3.8 .3-2.7 .3-1 .4 .8 .3 14.4 .3-1.7 .4-5.5 .3 2 .3-9 .4-1.2 .3-1.6 .3-.7 .4 0 .3 9.7 .3-9.8 .4 6.1 .3-6.5 .3 28.4 .4-15.9 .3 8 .3-17.4 .4-2.7 .3 9.9 .3-8.7 .4 1.1 .3 3.7 .3 6.1 .4-.8 .3 3.8 .3-1.2 .4-13 .3 2.6 .3 29 .4-36 .3 2.1 .3-1.1 .4 10.3 .3-17.9 .3 12.7 .4-11.3 .3 9.3 .3 2.8 .4 2.9 .3-1.6 .3-5.9 .4-1.6 .3 6.4 .3 6.9 .4-6.9 .3-5.2 .3 .9 .4 6.8 .3 4.6 .3 11.5 .4-19.3 .3 4.2 .3-4.4 .4 3.2 .3 13 .3-11.3 .4-4 .3-3.5 .3 20.9 .4-19.3 .3 7.5 .3-9.8 .4 5.2 .3 7.1 .3-.8 .4-5.8 .3-3.5 .3-1.4 .4 2 .3-2.7 .3 14.6 .4-11 .3 1.9 .3-3.6 .4-.2 .3 21.1 .3-21.7 .4 19.2 .3 2.2 .3-11.1 .4-13 .3 15.5 .3-9.6 .4 12.5 .3-9.8 .3 10.8 .4 1.6 .3-2.3 .3-12.6 .4-4.2 .3 3.9 .3 10.1 .4-12.2 .3 1.5 .3-.7 .4 12 .3-11.5 .3-3.4 .4 19.2 .3-7.6 .3 3.2 .4-20.1 .3 9.9 .3 4.5 .4-12.2 .3 31.3 .3-6 .4-25.8 .3 5.7 .3 20.5 .4 12.1 .3-23.7 .3 12.1 .4-31.4 .3 19.7 .3-9.3 .4-1.2 .3 2.9 .3 1.8 .4-2.9 .3 3.1 .3-5.3 .4 .5 .3-2.1 .3 14.8 .4-15.3 .3 4.5 .3 24.9 .4-20.3 .3 10.3 .3-13.1 .4-1 .3 12.4 .3-.4 .4-9.4 .3 6.4 .3-1.8 .4 11.6 .3-22.8 .3-1.2 .4-2.9 .3 2.7 .3 7.2 .4-3.3 .3 1.8 .3 .3 .4 9.8 .3 5.6 .3-15.3 .4 9.9 .3 16.6 .3-24.5 .4 0 .3 6.9 .3-1.3 .4-7.7 .3 13.3 .3-13.5 .4-5.1 .3 7.6 .3 3.7 .4 10.6 .3-5.7 .3-13.2 .4-2.1 .3 4.6 .3-3.7 .4 14.3 .3-6.5 .3-10.7 .4 21.3 .3 1.4 .3-17.8 .4 5 .3-6.8 .3 16.4 .4-16.7 .3 7.7 .3-5.8 .4 15 .3-33.3 .3 20 .4 7.3 .3 1.2 .3-1.5 .4 15 .3-25.1 .3 15.8 .4-1.7 .3 12.4 .3-21.7 .4-4.4 .3-9.9 .3 10.3 .4-1.1 .3 16.8 .3-12.2 .4-7 .3 34.6 .3-28.5 .4-4.5 .3-3.1 .3 4.7 .4-6 .3 3.8 .3 7.6 .4 9.1 .3 10.3 .3-15.7 .4-3.3 .3 4.8 .3 19.7 .4-28.2 .3 11.3 .3-9 .4-5 .3 2.6 .3 16.7 .4-5.5 .3-12.6 .3 19.7 .4-14.6 .3-10.5 .3 6.3 .4 14.5 .3-6.9 .3-6.1 .4 30.3 .3-21.1 .3-10.2 .4 17.6 .3-20.9 .3 3.5 .4 4.6 .3-17 .3 6.8 .4 7.1 .3 1.5 .3 8.7 .4-12.8 .3 4.6 .3 12.2 .4-23.6 .3 .2 .3 12 .4 22.8 .3-33 .3 13.3 .4-11.9 .3 15.3 .3-11.5 .4-1.9 .3 12.9 .3-11.5 .4 1.3 .3 34.8 .3-35.8 .4-3.2 .3 10.3 .3-11 .4 .2 .3 1 .3 9.4 .4 5.8 .3-1.2 .3-6.5 .4-4.6 .3 21.4 .3-25.5 .4 3.9 .3-1.4 .3 2.8 .4 15.7 .3-.2 .3-22.5 .4 4.6 .3 6.1 .3-11.1 .4 2.9 .3-2.6 .3 6.8 .4-3.4 .3 2.4 .3-2.5 .4 20.7 .3-18.2 .3 5.1 .4 1 .3-15.5 .3 27.2 .4-17.1 .3-2 .3 .2 .4-2.1 .3 15.4 .3 .8 .4-10.3 .3-4.8 .3 6.8 .4-6.7 .3 1.9 .3 4.5 .4 19.5 .3-26.8 .3-1.1 .4 3.1 .3 4.2 .3 3 .4-7.5 .3-5.5 .3 9.3 .4 1.5 .3-6.1 .3 2.6 .4 3.6 .3-1.2 .3 2.9 .4 6.6 .3-5.1 .3-19.8 .4 13 .3-1.4 .3 1.4 .4-5.7 .3 27.4 .3-18.2 .4 32.5 .3-36.5 .3 23.4 .4-4.5 .3-5.4 .3 1.2 .4 9.8 .3-6.8 .3-9.7 .4 4.2 .3-13.6 .3 3.4 .4-12 .3 10.1 .3-9.9 .4 7.2 .3 5.2 .3 8.1 .4 10.1 .3-24.8 .3 16 .4-10.8 .3-3.3 .3-8.6 .4 11.9 .3 7.2 .3-3.3 .4-3.1 .3-1.9 .3-7.6 .4 7.9 .3 .6 .3-7.7 .4 1.5 .3 11 .3-5.7 .4 14.6 .3-2.5 .3-7.8 .4 2.2 .3-11 .3 21.1 .4-17.8 .3 9.4 .3 13.2 .4-22 .3 7 .3-2.9 .4-4 .3-2.7 .3 27.2 .4-25.8 .3-.1 .3 33 .4-38.4 .3 3.6 .3 2.8 .4 5.8 .3-6.8 .3 7.1 .4-6.1 .3-3.2 .3-9.4 .4 35.8 .3-16.4 .3-7.4 .4 22.1 .3-25.4 .3 20.8 .4 2.4 .3-14.8 .3 4.4 .4 11.4 .3-29.3 .3 17.8 .4 15.2 .3-20.9 .3-4.5 .4-2.9 .3 13.4 .3 3.5 .4 6.7 .3-17.8 .3 33.6 .4-32.3 .3-5.6 .3 4.7 .4 9.5 .3-5.3 .3-2 .4 4.5 .3-11.6 .3-2.6 .4 4.1 .3-3.9 .3 7.4 .4-2.2 .3-15.1 .3 29.1 .4-16.9 .3 8.8 .3 7.8 .4-4.9 .3-6.8 .3-3.7 .4 .5 .3 1 .3 2.1 .4-.7 .3 44.1 .3-38.2 .4 6.9 .3 6.3 .3-10.8 .4-1.1 .3-5.7 .3 13.9 .4-16.5 .3 3.3 .3-5.7 .4 13.1 .3-8.8 .3 12.7 .4-20.5 .3 19.1 .3 1.1 .4-22.6 .3 9.1 .3 10.7 .4-11.6 .3 .5 .3 17.7 .4-4.7 .3-15.2 .3 25.9 .4 7.1 .3-17.8 .3-18.8 .4 4.5 .3 4.8 .3-2.7 .4 11.5 .3-12.8 .3-3.2 .4 5 .3 15.1 .3-6.2 .4-4.3 .3 7.5 .3-8 .4 7.7 .3 4.9 .3 12.7 .4 3.5 .3-32.5 .3 1.1 .4-.5 .3-5.4 .3 20.9 .4-23.4 .3 4.6 .3 .4 .4-15.9 .3 17.9 .3 0 .4-1.5 .3 12.1 .3-16.4 .4 5.5 .3-4.9 .3 18.8 .4-10.3 .3-2.9 .3-2.2 .4 15.1 .3-18.4 .3 11.4 .4-1.9 .3-.1 .3 19.6 .4-24.9 .3-6.3 .3 10.2 .4-5.8 .3-.3 .3 4.3 .4 2.3 .3-5.3 .3 .8 .4 9.8 .3 13.1 .3-10.9 .4-12 .3 7.9 .3 23.5 .4-14.2 .3-20.9 .3 4.5 .4-5.4 .3 3 .3 .1 .4 7.3 .3-5.5 .3 3.8 .4-5.5 .3-5.3 .3 3.4 .4 25.2 .3-24.3 .3 3.5 .4 4.3 .3 0 .3-9 .4 19.5 .3-15.2 .3 8.1 .4-9.2 .3 2.2 .3-8.1 .4 3.6 .3 3 .3-3.9 .4 15.9 .3-.6 .3-11.2 .4 9.7 .3-2 .3 1.3 .4-15 .3-4.8 .3 5.2 .4 2.7 .3 2 .3 2.2 .4 29.1 .3-22 .3-9.8 .4 9.2 .3-4.4 .3-4.4 .4-.5 .3 7.6 .3 .3 .4 26.8 .3-18.2 .3-24.8 .4 10.2 .3-8.2 .3 4.8 .4 .4 .3 .3 .3 2.7 .4 4.9 .3 14.7 .3-22.1 .4-1.7 .3 2.7 .3 15.2 .4 7.3 .3-12.4 .3-4.4 .4-1.4 .3-4.8 .3 11.8 .4 .3 .3-12.1 .3-8.8 .4 7.6 .3-1.6 .3 1.2 .4 6.1 .3 11.8 .3-20.7 .4 13.3 .3-1.6 .3-.2 .4 10.7 .3-22.1 .3-3.1 .4 27.4 .3-19.7 .3-9.5 .4 23.7 .3-13.3 .3 9.9 .4 2 .3-9 .3-4.9 .4 14.1 .3-8.4 .3-.4 .4-4.2 .3 6 .3-13.3 .4 7.7 .3 9 .3-8.4 .4-.4 .3-1.6 .3 2.4 .4 5.4 .3 14.8 .3-23.8 .4 1 .3-2.1 .3-.4 .4 2.9 .3 1.5 .3-8.8 .4 28 .3-10 .3-20.5 .4 26.1 .3-7.9 .3-7.1 .4 24.2 .3-23.7 .3 5.7 .4-.3 .3 7.9 .3-4.7 .4-8.5 .3-5.2 .3 3.3 .4-3.3 .3 19.3 .3-2.1 .4-13.3 .3 10.1 .3-12.8 .4-2.5 .3 31.3 .3-31.3 .4 6 .3-8.6 .3 18.7 .4-2.2 .3 8 .3-21.9 .4 9.6 .3 28.1 .3-26.7 .4-.4 .3-3.9 .3-4.3 .4-3.8 .3 21.9 .3-9.4 .4 .5 .3-6.8 .3 2.1 .4 8.7 .3-23.7 .3 27.8 .4-17.1 .3 7 .3-3.8 .4-5.7 .3-1.9 .3 8.4 .4-7.8 .3 39 .3-30.6 .4-4.3 .3 16.3 .3-9.4 .4-13.3 .3-3.7 .3 13.7 .4 7.2 .3 1.6 .3 5.3 .4 18 .3-14.3 .3-22 .4 4.5 .3-6.9 .3 5.8 .4 2.4 .3-13.5 .3 3.7 .4 9 .3-2.2 .3-6.4 .4 4.8 .3 15.7 .3 10.7 .4-26.6 .3 17.7 .3 .8 .4-3.3 .3-3.3 .3-13.4 .4-6.9 .3 10.9 .3-2.6 .4-10.6 .3 14.3 .3-10 .4 26 .3-3.1 .3-19 .4 2.9 .3-1.8 .3 4.4 .4 14.5 .3-6.9 .3-13.7 .4 8 .3-3.7 .3 .4 .4 3.8 .3-8.2 .3 4.1 .4 1.7 .3 7.7 .3-10.4 .4-3.9 .3 12.7 .3-8.1 .4 4.8 .3 9.2 .3 2.2 .4-6.2 .3-16.6 .3 32.8 .4-27.2 .3 9.3 .3-8.7 .4 1.9 .3 5.6 .3-11.4 .4 1.3 .3 20.1 .3-4.9 .4-18.2 .3 4.9 .3-7.9 .4 24.2 .3-8 .3 12.2 .4-19.2 .3 12.4 .3-12.9 .4 2.2 .3-1 .3 15.5 .4-13.1 .3-9.5 .3 7.5 .4-.3 .3 5.6 .3 3.9 .4-20.3 .3 10.8 .3 2.2 .4-3.4 .3-3.1 .3 5.3 .4 2.5 .3 5.5 .3-12.9 .4 1.2 .3 16 .3-9.7 .4 3.8 .3-11.8 .3 2.6 .4-1.6 .3 7.9 .3-7 .4-.6 .3 14 .3-5.8 .4-9.3 .3 19 .3-6.3 .4-13.2 .3 13.9 .3-21.1 .4 9.5 .3 8.8 .3 5.3 .4-19.5 .3 9.7 .3-16.1 .4 7.3 .3 20.6 .3-20.2 .4 1.4 .3 4.7 .3-9.5 .4-2.1 .3 7.2 .3-.2 .4-1.1 .3 2.7 .3 11.2 .5-18.1 .5 1.2 .5-3.3 .5 4.9 .5-1.7 .5-7.3 .5 12.7 .5-18.8 .5 15.1 .5-9.9 .5 .2 .5 12.8 .5-23.2 .5 3.6 .5-.2 .5 2.3 .5-13.8 .5 2.1 .5-4.4 .5 .1 .5 9.6 .5-7.5 .5-7 .5-10.8 .5-9.1 .5-.3 .5 6.6 .5 7.2 .5 1.3 .5-5.4 .5 3.6 .5-8.8 .5-2 .5-3.6 .5-6 .5 .5 .5-8.6 .5 9.8 .5-2.8 .5-10.9 .5-2.4 .5 1.2 .5-9.6 .5 2.3 .5 3.1 .5-9.3 .5-7.9 .5-5.1 .5-12.9 .5-8.2 .5-2.1 .5-6.4 .5-9.2 .5-13 .5-12.1 .5-13 .5-7.9 .5-8.6 .5-13.4 .2-1.9 .2-5.2 .2-6 .2-4.6 .2-6.6 .2-9.4 .2-9.3 .2-7.3 .2-12.9 .2-20.9 .2-36.7 .2-104.1 .1-65 .1 116.6 .2 69 .2 29.6 .2 16.4 .2 11.6 .2 8.3 .2 6.6 .2 .5 .2 8.1 .2 10.1 .2 5.6 .2 2.3 .2 6.6 .5 10.4 .5 7.3 .5 10.9 .5 13 .5 12.5 .5 5.8 .5 3.9 .5 4.8 .5 15.9 .5 8.4 .5 7.7 .5-5.1 .5-1.3 .5 3.3 .5 9.7 .5 6.9 .5-2.9 .5 10.1 .5-5.3 .5-8.6 .5 5.4 .5 8.2 .5 8.2 .5 .8 .5-8.6 .5 3.1 .5 6.3 .5-6.3 .5-1 .5-3.4 .5 4.4 .5 12.5 .5-1.9 .5 2.4 .5 10.2 .5 2.9 .5 2.8 .5 13.4 .5 2 .5-4.3 .5 5 .5 3 .5-1.6 .5 2.9 .5 6.4 .5 10 .5 6.2 .5 9.1 .5 12.1 .5-16.4 .5 5.3 .5-1.5 .5-1.3 .5 29.8 .5-22 .5-1.2 .5-2.8 .5 .8 .5 4.6 .4 12.8 .3-20.1 .3 14.3 .4-.8 .3 10.2 .3-14.2 .4 12.8 .3-15.5 .3 0 .4 9 .3-16.8 .3 12.6 .4-10.8 .3 6.1 .3 15.4 .4 7.3 .3-26.2 .3 13.2 .4 1.6 .3-10.1 .3 10.2 .4-7.2 .3-16.3 .3 13.6 .4 .8 .3 3.2 .3 12.5 .4-17.4 .3-.3 .3 3.3 .4-5.5 .3-.9 .3 30.8 .4-32.8 .3 6.9 .3 9.5 .4-10 .3-.9 .3 13.6 .4 16.5 .3-25.9 .3-6.1 .4 5.2 .3 4.9 .3-6 .4 11 .3 11.5 .3-7.7 .4-20.3 .3-.3 .3 5 .4 1.7 .3 18.9 .3-22.2 .4-.9 .3 9.6 .3 12.1 .4-20.4 .3 1 .3 16 .4-15.5 .3-4.9 .3 21.5 .4-17.9 .3-1.6 .3 4.7 .4 6.3 .3 3.6 .3-8.9 .4 4.6 .3 13.8 .3-5.4 .4-18 .3-3 .3 6.3 .4-.6 .3-2.6 .3 16.4 .4-14.5 .3 1.5 .3 3.8 .4-9.6 .3 2.5 .3 6.4 .4-8.7 .3-8.2 .3 15.9 .4-8.1 .3 7.9 .3-15.5 .4 12.9 .3-4.6 .3 6.8 .4-5.6 .3 9.7 .3 6.5 .4-12.1 .3-10.6 .3 6.3 .4 3.4 .3-2.4 .3 1.8 .4 17.1 .3-15.4 .3-3.2 .4 11.4 .3 9.8 .3-27.3 .4 31.7 .3-26 .3 3 .4 2.7 .3 .2 .3 12.4 .4 14.7 .3-31.5 .3 5.7 .4 17.7 .3-23.6 .3-4.4 .4 7.8 .3 4 .3-2.4 .4-4.7 .3 4.4 .3 .4 .4-9.1 .3 2.1 .3 12.5 .4-15.5 .3 24.7 .3 7.7 .4 3.5 .3-20 .3-11.7 .4 7.5 .3-2.2 .3 4.3 .4-14.5 .3 44 .3-40.2 .4 1 .3-2.4 .3 15.5 .4-6.8 .3-4.8 .3 11.8 .4-15 .3 13.6 .3-8.6 .4 21.7 .3-16.2 .3-10.3 .4 14.1 .3 2.7 .3-6 .4-10.1 .3 3.8 .3 7.7 .4-7.6 .3 .5 .3 14.3 .4-17.2 .3 .2 .3 .2 .4-1.6 .3 28.4 .3-19.9 .4-.5 .3-6.1 .3-7.8 .4 12.1 .3 7.4 .3-27 .4 21.3 .3 5.4 .3-1 .4 2.1 .3-6 .3-10.3 .4-.4 .3 31.6 .3-22.2 .4 4.5 .3 14.4 .3-9.5 .4-14.6 .3 23.5 .3-10.2 .4 8.4 .3-23.7 .3 14.5 .4-13.2 .3 5.2 .3 10.3 .4-1.3 .3 10.5 .3-26 .4-6.1 .3 6.2 .3 24 .4-19.8 .3-5.2 .3 21.7 .4-10.9 .3 7.6 .3-17 .4 1.3 .3-3.6 .3 6.6 .4 1.2 .3 6 .3-9.8 .4-4.2 .3 7.1 .3 .4 .4 15.3 .3-18.3 .3 7.8 .4-9.1 .3 1.5 .3 1.8 .4-1.9 .3 1.1 .3 33.5 .4-21.5 .3-12.7 .3 .9 .4 25.6 .3-39.2 .3 28.3 .4-7.7 .3-9.1 .3-5.1 .4 18.8 .3-8.5 .3-7.2 .4 3.5 .3-2.9 .3-2.1 .4 21.6 .3-17.8 .3 5.9 .4 6.8 .3 4.6 .3 14.8 .4-30.1 .3 .1 .3 9.7 .4 6.1 .3-18.6 .3 3.9 .4 25.6 .3-19.6 .3-7.4 .4 30.9 .3-34 .3 16.9 .4-8.5 .3 3.8 .3 5.1 .4-20.6 .3 17.2 .3 23 .4-22.2 .3-14.5 .3 .4 .4 2.5 .3-.1 .3 12 .4-15.8 .3 11.1 .3 2.5 .4 8.9 .3 1.3 .3-19.8 .4-3.5 .3 14.1 .3-8.6 .4-3.9 .3 2.6 .3-5.5 .4 1 .3 14.4 .3-12.5 .4 10.7 .3-.2 .3 5.1 .4-.6 .3-6.2 .3 3.8 .4-7.9 .3-2.5 .3 2.3 .4 16.1 .3-19.7 .3-3.6 .4 15.7 .3-14 .3 6.6 .4 15.9 .3-15.2 .3 0 .4 5.9 .3-2.5 .3 9.1 .4-15.4 .3 15.9 .3-16.9 .4-1.3 .3-.4 .3 3.4 .4-2.5 .3 11.6 .3-19.3 .4 14.9 .3 6.8 .3-15.2 .4-.9 .3 12.5 .3-1.9 .4-9.1 .3-8 .3 27.1 .4-17.6 .3 5.4 .3-9.2 .4-1 .3 1 .3-.5 .4-1.2 .3 7.1 .3 1.6 .4 13.5 .3-16.7 .3-2.8 .4 14.3 .3-12.1 .3 15.1 .4 4.9 .3-22.3 .3 17.9 .4-6.3 .3-9.2 .3 19 .4-26.6 .3 14.7 .3-14.2 .4-1.7 .3 22.5 .3-14.4 .4 9.1 .3-12.3 .3-9.7 .4 17.4 .3 25.8 .3-26.5 .4 3.8 .3 4.4 .3 8.1 .4 11.5 .3-8.1 .3-.8 .4-30.1 .3 7 .3 20 .4-15 .3 3.7 .3 2.1 .4 19.1 .3 6.1 .3-38.7 .4 1 .3-2.6 .3 .3 .4 22.7 .3 11.9 .3-31.3 .4-5.2 .3 9.8 .3-7.3 .4 19 .3-18.1 .3 2.2 .4 15.3 .3-25.8 .3 13.2 .4-1.6 .3 8.1 .3 1.9 .4 2.6 .3-12.8 .3 10 .4-9.4 .3-2.9 .3-1.9 .4 3.1 .3 5.3 .3-4.8 .4-3.8 .3 24.1 .3 2.8 .4-22.3 .3 15.4 .3-14.1 .4-3.3 .3 1.3 .3-2.8 .4 9.2 .3 4.9 .3-3.6 .4-18.6 .3 5.2 .3 8.6 .4-1.8 .3 .3 .3 5.3 .4-9.6 .3 2.4 .3 13.4 .4 5.7 .3-21.3 .3 7.7 .4-4.7 .3-3.9 .3 1.3 .4 7.2 .3-3.3 .3-1.2 .4 6.9 .3-11.4 .3 24.4 .4 4.1 .3-26.7 .3 4.9 .4 .1 .3-4.3 .3 2 .4-11 .3 4.6 .3 31.9 .4-13.4 .3 7.1 .3-17.9 .4 11.7 .3 .6 .3-19.3 .4 4.1 .3-.5 .3-1.7 .4 .8 .3-.6 .3 36.3 .4-32 .3-.7 .3 8.1 .4 9.7 .3-12.9 .3-10.5 .4 20.1 .3-14.3 .3 1.5 .4 5.9 .3-7.7 .3 25.6 .4-16.3 .3 16.5 .3-9.3 .4-18.7 .3-1.6 .3-5.8 .4 28 .3-21.3 .3 22.4 .4-18.6 .3 2 .3-2.3 .4 .5 .3 7.7 .3-9.5 .4-6.6 .3 10.3 .3-3.1 .4-5.3 .3 19.6 .3-14.8 .4-1.1 .3-3.7 .3 6.2 .4 10 .3-.6 .3-20.6 .4 10.2 .3 14.8 .3-16.7 .4-.6 .3-10.3 .3 37.3 .4-9.8 .3-13.1 .3 3.1 .4-12.2 .3 19.1 .3-1.5 .4-18.3 .3 21.4 .3 12.9 .4-28.5 .3 2.4 .3-1.5 .4-1.6 .3 13.1 .3-.4 .4 6 .3-15 .3 10.9 .4-10.3 .3 1.3 .3-5.7 .4 2.2 .3 9.9 .3-4.8 .4-8.9 .3 12.6 .3 11.1 .4-3.3 .3-13.5 .3 2.4 .4-9.9 .3 21.9 .3-24.1 .4 1.9 .3 .6 .3 24.4 .4-19.6 .3 11.8 .3-13 .4 1.2 .3-2.1 .3 5.4 .4-.2 .3-10.4 .3 4.5 .4 11.5 .3 2.2 .3-6.7 .4 22 .3-24.4 .3-2.3 .4-5.1 .3 4.9 .3-.8 .4 15.1 .3-15.9 .3 5.6 .4 5.2 .3-17.6 .3-3.1 .4 12.9 .3 5.1 .3 20.8 .4-6.1 .3-14.9 .3 18.3 .4-27.6 .3 4.9 .3-3.3 .4-2.5 .3 5.7 .3 10.2 .4-9.4 .3 3.2 .3 4.6 .4-7.7 .3 17.6 .3-24.4 .4 12.4 .3-1.7 .3-14.4 .4 9.8 .3-2.8 .3 2.4 .4 25 .3-24.9 .3 4.3 .4-6.7 .3 1.3 .3 10.5 .4-7.2 .3 3.6 .3 21.6 .4-20.6 .3 5.8 .3-16.4 .4 2.4 .3 3.5 .3 3.5 .4 13.6 .3-20.7 .3 4.9 .4-6.4 .3 6.9 .3-1.6 .4-4.2 .3 3.7 .3-8.4 .4 9.7 .3 1.2 .3-10.9 .4 10.9 .3-3.8 .3 18.6 .4-12.4 .3-11.5 .3 5.7 .4 1.4 .3-2.6 .3 .4 .4-2.2 .3 2.9 .3 23.5 .4-22 .3-15 .3 3.5 .4 4 .3 5.8 .3 15.5 .4-18.9 .3 7.3 .3-2.7 .4-1.5 .3 17.5 .3-23.7 .4-5.7 .3 11.9 .3 23.5 .4-21.9 .3 14.8 .3-6.6 .4-9.4 .3-3.1 .3 .6 .4 8.9 .3-5.3 .3 13.5 .4-16.7 .3 16.2 .3-11 .4-8.3 .3 17.8 .3-22 .4 9.7 .3-3 .3-5.9 .4 4.8 .3 5.3 .3 1.9 .4-12.1 .3 7.7 .3 .6 .4 .6 .3-9.1 .3 19.6 .4-9.2 .3-3.9 .3-1.1 .4 7 .3 5.6 .3-9.3 .4-5.4 .3 6.9 .3 14.9 .4-23.5 .3 6.8 .3 .4 .4 6 .3-2.7 .3 28.8 .4-36 .3 6.9 .3-9.9 .4 9.3 .3 6.3 .3 8.2 .4-18.2 .3-1.7 .3 1.7 .4 29.4 .3-29.4 .3 6 .4-4.5 .3-3.5 .3 2.7 .4-2.4 .3 6.3 .3-1.3 .4 8.6 .3-12.2 .3 2.9 .4-3.5 .3-.7 .3-2 .4 32.8 .3-13.5 .3-13 .4 12.9 .3 1.6 .3 8.5 .4-11.8 .3-17.5 .3 2.4 .4 .9 .3-6 .3 25.9 .4-8.3 .3-10.2 .3-5.3 .4 8.7 .3-3.1 .3 26.5 .4-35.5 .3 8.6 .3-3.7 .4 1.9 .3 .3 .3 12 .4-15.7 .3 4.9 .3 23.4 .4-25.9 .3 3 .3 22.3 .4-23.1 .3-.2 .3 10.4 .4-4.5 .3-12.8 .3 10.3 .4 3.1 .3-6.2 .3-1.9 .4 1.9 .3 20.3 .3-19.2 .4-9.2 .3 1.1 .3 15.8 .4-20 .3 4.9 .3 16.2 .4-16 .3 34.6 .3-27.3 .4 9.3 .3 4.4 .3-23.2 .4 22.8 .3-4.3 .3-11.9 .4 17.3 .3-15.6 .3 8.3 .4-12.2 .3 20.8 .3-26.7 .4 8.3 .3 13.6 .3-17 .4 1.6 .3 0 .3 6 .4-3.9 .3 19.6 .3-15.4 .4 .4 .3 2.3 .3-8.9 .4 3.1 .3 8.3 .3-9.5 .4-14.8 .3 39.7 .3-23.6 .4 17.9 .3-1.2 .3-19.4 .4-1.7 .3 1.4 .3 5.7 .4 22.1 .3-11.9 .3-14.1 .4-6.3 .3 8.9 .3 4.2 .4-7.4 .3-7.8 .3 24.7 .4-13.3 .3-6.2 .3 9.4 .4-7.3 .3-3.1 .3 .2 .4-7.9 .3 11.4 .3-1.2 .4 7.9 .3-3.2 .3-3.8 .4 11.8 .3-11.6 .3-11.3 .4 16.3 .3-8.2 .3 20.7 .4-15.1 .3-4.1 .3 24.9 .4-24.2 .3 8.5 .3-10.6 .4 9.9 .3-4.1 .3-1.6 .4 15.9 .3-17.9 .3 16.2 .4-10.8 .3 8.7 .3-4.7 .4-13.2 .3 14.6 .3-10.9 .4-3.8 .3 25.7 .3-4.2 .4-7.5 .3-9.8 .3 2.8 .4 12.5 .3-15.7 .3-2.7 .4 1.1 .3 2.7 .3-1.6 .4 10.9 .3 9.9 .3-19 .4 3.4 .3 6.2 .3 2.1 .4-16.7 .3 31.2 .3 6.4 .4-19.5 .3-17.6 .3 5.9 .4 17.5 .3-15.9 .3 5.3 .4 17.3 .3-27.9 .3 4.6 .4-5.9 .3 3.1 .3 17.1 .4-.1 .3-10.1 .3-4.3 .4-2.5 .3-2.3 .3 1.3 .4 4.1 .3-2.5 .3-4.8 .4 6 .3 12.3 .3 20.4 .4-14.5 .3-14.6 .3 0 .4 6.9 .3-9.4 .3 2 .4 10.6 .3-17 .3 1.2 .4 9.3 .3-12 .3 11 .4 14.5 .3-26.7 .3 18.3 .4-1.3 .3-8.1 .3 7.5 .4 15.6 .3-31.8 .3 4.7 .4 10.1 .3-8.2 .3 7.7 .4-16.7 .3 7.2 .3 24.3 .4-20.5 .3-6 .3 8.8 .4-9.7 .3 5.1 .3 4.8 .4-7.4 .3 7.3 .3-10.7 .4 3.1 .3-2.7 .3 20.2 .4 15.9 .3-29.9 .3-1 .4 10.7" fill="none" stroke="#22a884" stroke-width="2.8" stroke-linejoin="round" stroke-linecap="square" clip-path="url(#cb)"/>
<path d="M1169.5 604.1l.3-15.9 .4-9.4 .3 30.6 .3-30.3 .4-.6 .3 18.7 .3-25.2 .4 25.6 .3-20.3 .3-2.6 .4 6.1 .3-2 .3-7.4 .4 6.7 .3 13.2 .3-3.4 .4-15.1 .3 1.9 .3-3.7 .4 25.7 .3 4.4 .3-28.9 .4 1 .3 4.1 .3 .3 .4-3.2 .3 7.8 .3-3.5 .4-1.3 .3 12 .3-5.1 .4-9.5 .3-.6 .3 2.4 .4-5.5 .3 1.8 .3 33 .4-27.3 .3 .1 .3-4.9 .4 17.8 .3-5.5 .3-5.7 .4 13.2 .3-3.2 .3-18.9 .4 3.9 .3-.4 .3-.8 .4 2.1 .3 3.8 .3-6.3 .4 19.2 .3-21.3 .3 .8 .4 6.1 .3-4 .3 17.4 .4-17.7 .3 22.9 .3-16.2 .4 5.1 .3-11.4 .3 14.1 .4 .2 .3-1.6 .3-8.9 .4-3 .3 9.8 .3 10 .4-22.3 .3 22.5 .3-19.9 .4 1.6 .3 10.5 .3-10.5 .4 15 .3-16.2 .3 2.4 .4-1.7 .3 9.9 .3-18.6 .4-3.5 .3 8.2 .3 2.4 .4-3.1 .3-2.3 .3 17 .4-7.4 .3-.1 .3-2.6 .4 1.1 .3 15.7 .3-19.8 .4 32.9 .3-32.9 .3 1 .4 2.1 .3 4.2 .3 3.8 .4-7.4 .3-1.2 .3 8.4 .4 11 .3-5.9 .3-17.1 .4 9.8 .3-14.9 .3 19.7 .4-8.8 .3-4.4 .3-5.8 .4 24.3 .3-14.3 .3 2.7 .4 .3 .3-2.6 .3-7 .4 11.9 .3-7.1 .3 4.5 .4-10.6 .3 9.7 .3 4.9 .4-6.7 .3-1.3 .3-2.1 .4-2.6 .3 19 .3-10.9 .4-6.5 .3 21 .3-16.1 .4 3.1 .3 3.7 .3-10.3 .4 7.3 .3-2.4 .3-4.4 .4 3.1 .3-4.5 .3-.7 .4-.8 .3 25.7 .3-27.6 .4 13.5 .3-9.9 .3 4.5 .4 12.2 .3-12.8 .3 31 .4-33.9 .3-3 .3-4.5 .4 8.1 .3-1.5 .3 6.4 .4 32.1 .3-29.3 .3-10.2 .4 4.8 .3 .9 .3-2.2 .4 8.5 .3-4 .3-9 .4 18.5 .3-4.4 .3 3.4 .4-13.8 .3 .1 .3 1.5 .4 5.5 .3-7.5 .3-6.4 .4 17.2 .3-11.1 .3-1.6 .4 5 .3-.7 .3-1.2 .4-3.8 .3 .4 .3 5.4 .4 25.1 .3-13 .3-14.9 .4 11.6 .3-9.2 .3-7.6 .4 36.2 .3-18.8 .3-17.9 .4 8.1 .3 3.1 .3-9.3 .4 5.8 .3-2.4 .3 1.5 .4-15.8 .3 13.9 .3 25.2 .4-28.1 .3 20.7 .3-13.7 .4-6.5 .3 2.4 .3-4.9 .4 32.9 .3-26.7 .3-1.1 .4-4.6 .3 6.1 .3 19.1 .4-22.4 .3 13 .3-9.8 .4-7.8 .3-2.8 .3 6 .4 5.6 .3-7.1 .3 4.9 .4-2 .3-3.3 .3-3.2 .4 15.5 .3 15.2 .3-21.8 .4 16.1 .3-10 .3-3.9 .4 7.1 .3 14 .3-11.7 .4-15.7 .3 4.8 .3-3.9 .4 9.6 .3-10 .3 1.4 .4 4.8 .3 2.8 .3 6.2 .4-11.8 .3 2.4 .3 30.4 .4-30.5 .3-8.4 .3 14.4 .4-7.6 .3 3.9 .3-1.4 .4-6 .3 22.6 .3-17.7 .4 13.6 .3-17.8 .3 31 .4-1.1 .3-19.7 .3-10.9 .4 2.2 .3 1.1 .3 11.1 .4-13.3 .3 .2 .3 10.8 .4-5.5 .3 22.8 .3-33.7 .4 21.2 .3-15.4 .3 7.6 .4-9.8 .3 9.9 .3 4.4 .4-13.1 .3 6.6 .3-9.9 .4-4.6 .3 2.1 .3 3.9 .4 5.8 .3-2.3 .3 6.2 .4 .5 .3-5.7 .3 1.5 .4 .8 .3 .4 .3-4.1 .4 4.8 .3 4 .3-6 .4 10.1 .3-9.8 .3 .6 .4 9.7 .3 1.1 .3 1.9 .4-5 .3-3.9 .3 5.1 .4-3.5 .3-7.1 .3 0 .4 14.6 .3-15.5 .3 17 .4-9.7 .3-9.8 .3 3.1 .4 4 .3 8.5 .3-10.6 .4 18.2 .3-17.8 .3-1.6 .4 7 .3-7.1 .3-1 .4 23.4 .3-24.4 .3 11.4 .4 4.8 .3-3.6 .3-5.8 .4-6.6 .3 35 .3-33.5 .4 8.6 .3-9.6 .3 29.1 .4-29.7 .3 25.5 .3-18.7 .4-2.9 .3-13.1 .3 28.8 .4-19 .3 14.2 .3-12.4 .4-1.3 .3-5.8 .3 .5 .4 7.7 .3-4.4 .3 11.3 .4-13.4 .3 6.1 .3 .5 .4 12.8 .3-3.2 .3-2.2 .4 6.8 .3-13.9 .3-1.4 .4 15.1 .3 3.1 .3 .9 .4-18.9 .3 4 .3-5.1 .4 31.7 .3-7.8 .3-18.2 .4-22.8 .3 27.7 .3-19.5 .4 7.3 .3-1.6 .3 4.9 .4 23.2 .3 5.7 .3-22.5 .4-9.7 .3-1 .3 24.3 .4-9.5 .3-10.4 .3 1.8 .4-3 .3 18.1 .3-5.4 .4 8.7 .3 .3 .3-9.8 .4-15.7 .3-1.9 .3 2.2 .4-8.5 .3 10.7 .3 32.8 .4-20.7 .3-15.2 .3 1.8 .4-.4 .3 23.4 .3-26.4 .4 19.1 .3-13.1 .3 1.2 .4-2.2 .3 14.2 .3-14.4 .4-2.7 .3 1.8 .3 1.4 .4 12.2 .3-6.6 .3-5.5 .4-6.2 .3 5.6 .3-5.4 .4 16.1 .3 29.2 .3-13.9 .4-24.4 .3-.4 .3 10.8 .4-12.8 .3 10.2 .3 2 .4 9.3 .3-9.6 .3 2.2 .4-7.3 .3-11.2 .3 29 .4-28.4 .3-7 .3 12.7 .4 9.1 .3-8.7 .3 6.5 .4-.7 .3-10.7 .3-.1 .4 20 .3-17.3 .3-6.7 .4 7.7 .3 15.6 .3-.4 .4-14 .3 9.5 .3-18.6 .4 6.2 .3-8.4 .3 19.5 .4 5.1 .3-12.3 .3 17.3 .4-15 .3 3.3 .3 14.1 .4-13.2 .3-14.4 .3 .2 .4 7.3 .3 6 .3-7.6 .4 25.3 .3-23.8 .3 6.7 .4 5.6 .3-15.5 .3 3 .4-2.8 .3 2.8 .3-6.4 .4 16.3 .3-15.4 .3 20.9 .4 .1 .3-17.5 .3 8.6 .4-1.8 .3-9.1 .3 .9 .4 18.5 .3-12.9 .3-1.1 .4 2.8 .3-9.1 .3 7.1 .4 6.2 .3 4.8 .3-24.4 .4 12.5 .3-9 .3 25.5 .4-9.3 .3-15.7 .3 4.2 .4 2 .3 0 .3-6.5 .4 5.4 .3 7.7 .3-2.7 .4-8.8 .3-.9 .3 15.1 .4-9.2 .3 3.5 .3-9.5 .4 6.5 .3-3.1 .3 13.9 .4-8.1 .3-5 .3 15.6 .4-17.3 .3 6.9 .3-10 .4 15.8 .3 .7 .3-7.3 .4 2.4 .3 4.4 .3-12.1 .4 27.3 .3-4.1 .3-24.3 .4-4.6 .3 23.9 .3-2.1 .4-13.3 .3 2.9 .3 11.8 .4-15.6 .3-9.9 .3 14.6 .4-2 .3 16 .3 2.8 .4-14.2 .3-10.4 .3-2.5 .4 7.2 .3-4.1 .3 42.1 .4-52.3 .3 11.6 .3 11.3 .4 .8 .3-10.9 .3-2.1 .4 5.8 .3-10.1 .3 9.3 .4-.9 .3 12.9 .3-7.3 .4-6.4 .3-2.8 .3 0 .4 7.2 .3-3.2 .3-16.8 .4 26.8 .3-11.5 .3-5.3 .4 4.9 .3 1.6 .3-4.3 .4-8.5 .3 16.3 .3-3.9 .4 11.4 .3-5.2 .3-7.6 .4 1.8 .3-1.5 .3 2 .4 15 .3-16.3 .3-4.9 .4-2.4 .3 7.5 .3 19.4 .4-20 .3 0 .3-.1 .4-7.5 .3 5.4 .3 1.4 .4 29.2 .3-32.3 .3 11.8 .4 6.2 .3-14.9 .3 2.3 .4 .2 .3 11.9 .3 0 .4-17.9 .3 17.5 .3-19.7 .4 11.3 .3 2.3 .3 12.8 .4 4.9 .3-26.1 .3-4.3 .4 21.2 .3-5.7 .3-11.8 .4-.4 .3 7.4 .3-4.6 .4-22 .3 15.2 .3 29 .4-21.7 .3 1.7 .3-4.6 .4 .9 .3 9.6 .3-10.9 .4 3.4 .3 22.7 .3-22.1 .4 4.7 .3 21.4 .3-20.6 .4-4 .3 5.9 .3 6.5 .4-19.1 .3-9.1 .3 0 .4 18.7 .3 .2 .3-.3 .4 15.5 .3 6.5 .3-21.7 .4 5.4 .3-7.4 .3-5.5 .4-2.2 .3 5.6 .3 18.2 .4-4.7 .3-11 .3 9.2 .4-17.9 .3 19.3 .3-17.1 .4 15.5 .3-11.9 .3 7.5 .4-8.4 .3-2.2 .3 12.9 .4 6 .3-26.6 .3 7 .4 14.8 .3-13.7 .3-6.8 .4 7.3 .3-2.6 .3 2.7 .4-2.6 .3 7 .3 3.6 .4-18.2 .3 8.7 .3 9.5 .4 11.7 .3-18.2 .3 2.9 .4 3.6 .3 13 .3-12.2 .4-7.3 .3 14.9 .3-1.6 .4-.3 .3-12.8 .3 .3 .4 5.7 .3 2.8 .3-17.9 .4 8.4 .3 19.7 .3-21 .4 7.7 .3-8.7 .3-2.4 .4 13 .3-3.5 .3-4.4 .4 7.7 .3 9.8 .3-18.3 .4 2.4 .3 15.8 .3-9.6 .4 12.9 .3-12.5 .3-4.2 .4-11.8 .3 6.2 .3 11.4 .4-8.5 .3 15.4 .3-8 .4-5.9 .3-7.1 .3 .1 .4 3.2 .3 34 .3-34.3 .4-7.2 .3 2.6 .3-2.4 .4 14.6 .3-5.8 .3-2.8 .4 27.1 .3-26.9 .3 2.5 .4-13.4 .3 32.6 .3-7 .4 2.3 .3-21.8 .3 10 .4-6 .3 4.9 .3-2.8 .4-4.7 .3 12.1 .3-8.6 .4 23.6 .3-15.1 .3-11.8 .4 16.7 .3-11.9 .3 28.5 .4-27.6 .3-2.3 .3 13.7 .4-14.5 .3-1.7 .3 15.6 .4-1.9 .3-7.6 .3 4.3 .4 10.1 .3-.9 .3-18.5 .4 17.6 .3-9.4 .3-4.8 .4-1.9 .3-4.8 .3 5.1 .4 14.5 .3-15.2 .3-4.4 .4 5.1 .3 14.3 .3-20 .4 6.5 .3-3.8 .3 30.3 .4-24.5 .3-9.4 .3 16.1 .4 1.7 .3 11.3 .3-11.7 .4 9.6 .3-14.3 .3-6.9 .4 7.6 .3-1.7 .3-3.7 .4 8.8 .3-1.2 .3 22 .4-29.5 .3-4.3 .3 .2 .4 20.8 .3-18.5 .3 15 .4 5.2 .3-15.8 .3 .6 .4 3.2 .3-5.8 .3 6.1 .4-7.7 .3 18.1 .3-20.7 .4-3.1 .3 6.5 .3-1 .4 2.5 .3 6.2 .3-3 .4 26.7 .3-39.9 .3 3.7 .4 30.9 .3-29.1 .3 14 .4 8.9 .3-25.2 .3 2.6 .4 25.8 .3-19.8 .3 1.9 .4 3.4 .3 2.8 .3-18.3 .4 18.6 .3-17.7 .3-4.5 .4 22.8 .3-5 .3-2 .4 5.8 .3-11.1 .3 6.6 .4-6.8 .3 .4 .3 3.7 .4-3.8 .3-3.1 .3 2 .4 5.3 .3-4.5 .3 .3 .4 21.2 .3-13.1 .3-10 .4 8.2 .3-7.6 .3-2.5 .4 12.2 .3 12.2 .3-25.2 .4-2.1 .3 6.8 .3 .4 .4 24.4 .3-25.3 .3 3.8 .4 2.4 .3 1 .3 7.5 .4-10.5 .3-13 .3 3.2 .4 16.5 .3-16.2 .3 16.2 .4-12 .3 14 .3-1.2 .4 7.8 .3 14.8 .3-9.7 .4-36 .3 17.3 .3-6 .4 7.6 .3 11.9 .3-1 .4-11 .3-8.8 .3 11.7 .4-18.1 .3 7.6 .3-5.1 .4 12 .3-7.9 .3 10.7 .4 3.1 .3-14.8 .3 2.4 .4 37.4 .3-28.5 .3-15.6 .4 1.4 .3 22.5 .3-8.8 .4-9.7 .3-1.5 .3-.9 .4 13.1 .3-15.1 .3 5.2 .4 .6 .3 23.9 .3-19.3 .4-11.1 .3 5.4 .3 17.3 .4-20.9 .3 8.4 .3-6.9 .4 12.2 .3-21.6 .3 12.5 .4-.7 .3 19.6 .3-11.4 .4 12.5 .3-19.8 .3 2.7 .4-2.5 .3 .7 .3-4.1 .4 .5 .3 2.6 .3 9 .4-11.1 .3 8.9 .3-13.6 .4 3.1 .3 9.3 .3-5.7 .4-6.3 .3 .7 .3 5.5 .4-2.1 .3 14.5 .3 10.4 .4-21.4 .3-4.1 .3-8.7 .4 30.3 .3-13.7 .3 5.7 .4 2.9 .3-15.7 .3 25.1 .4-23.9 .3 .8 .3 12.9 .4-9.2 .3 4.8 .3-21.3 .4 8.3 .3 2.9 .3 12.3 .4-13.9 .3 19.7 .3-18.2 .4 .3 .3-1.4 .3 17.2 .4-3.7 .3 9.4 .3-6.9 .4-10.6 .3 4.1 .3-2.2 .4-16.9 .3 3.9 .3 1.8 .4 18.6 .3-17.4 .3 5.4 .4 19.8 .3-6 .3-26.4 .4 14.2 .3 14.3 .3-23.4 .4 2.8 .3 2.1 .3-4 .4-1.5 .3 32.5 .3-4.4 .4-28.1 .3 22.9 .3-4 .4-19.3 .3 25.8 .3-16.1 .4-3.2 .3 19.8 .3-24.5 .4 6.3 .3 9.3 .3-11.9 .4 1.8 .3 25 .3-24.2 .4 9.3 .3 15.4 .3-24.9 .4-8.2 .3 27.4 .3-19 .4 9.7 .3 9.3 .3 1 .4-12.5 .3-9.2 .3 6.7 .4-5.7 .3-.5 .3-9.2 .4 13.3 .3-6.8 .3 6.6 .4-4.8 .3 14.6 .3-7.7 .4 28.6 .3-27.3 .3-9 .4 7.5 .3-9.2 .3-1.3 .4 25.9 .3-10.6 .3-12.8 .4 16.8 .3-16.1 .3 25.9 .4-27.6 .3 1.5 .3 5.8 .4 9.9 .3-13.5 .3-6.7 .4 15.2 .3-16.5 .3 3.8 .4-2.4 .3 10.5 .3-11.6 .4 8.1 .3-5.1 .3 8 .4-3.1 .3-1.1 .3 20.1 .4-15.9 .3-4.4 .3 2.1 .4 15 .3-20 .3 11.9 .4-10.4 .3 3 .3-6.1 .4 3.8 .3 8.8 .3-18.9 .4 7.2 .3 28 .3-21.2 .4 1.6 .3-.7 .3 13.7 .4-17.6 .3-2.1 .3 7.9 .4-9.6 .3-.4 .3 4.6 .4-4 .3 1.3 .3 .8 .4 30.2 .3-17.7 .3-6.8 .4-4.7 .3-.8 .3-6.5 .4-2.8 .3 5.9 .3 6.3 .4-4 .3 4.2 .3-1 .4-5.8 .3 19.4 .3-11.8 .4-9.4 .3 .1 .3-4.5 .4-1.6 .3 13.2 .3 10.2 .5-16.3 .5-7.1 .5 3 .5 1.4 .5 11 .5-10.4 .5 9.1 .5-14.2 .5-9.3 .5 6.5 .5 2.7 .5-1.1 .5-12.8 .5-10.2 .5 2 .5-3 .5 2.7 .5-2.3 .5-.6 .5 2.6 .5-13.5 .5-3 .5-.9 .5-4.7 .5-13.2 .5-2.4 .5 10.1 .5-5.9 .5 6.3 .5 .8 .5-9.9 .5-2.4 .5 6 .5-.4 .5 3.8 .5-7.3 .5 3.5 .5-1.4 .5-2.1 .5 1.9 .5-1.6 .5-5.8 .5-7 .5-12.9 .5-1.4 .5 .6 .5-3.5 .5-9.1 .5-5.3 .5-3.4 .5-12.9 .5-9.9 .5-8.7 .5-9.4 .5-9.4 .5-9.3 .5-10.9 .5-13.6 .5-16.8 .2-6.2 .2-6.8 .2-7.4 .2-4.9 .2-6.4 .2-4.9 .2-12.9 .2-16.7 .2-25.8 .2-57.5 .2-123.3 0 22.4 .2 127 .2 42.7 .2 20.8 .2 12 .2 9.4 .2 7.8 .2 3.7 .2 8.3 .2 9.3 .2 5.6 .2 3.2 .2 7.6 .2 2.3 .5 12.3 .5 15.5 .5 11.4 .5 3.9 .5 8.4 .5 12 .5 8.8 .5 8.6 .5 3.4 .5 6.1 .5 14.6 .5-1.3 .5-3.2 .5 13.8 .5 7.8 .5 1.2 .5 .7 .5 .7 .5-10.7 .5 4.6 .5-2.6 .5-10.4 .5 1.5 .5 7.3 .5 .2 .5 1.5 .5 8.3 .5 5.6 .5 .4 .5 6.2 .5 3.2 .5-3.6 .5 6.6 .5 6.3 .5 9.9 .5-10.5 .5 1 .5 3.2 .5 4.1 .5 14.3 .5 7.9 .5-1.4 .5-9.1 .5 .3 .5 6.2 .5 3.6 .5 3.7 .5 16.9 .5-5.9 .5 7.6 .5 9 .5-3.3 .5 .8 .5-3.8 .5-3.8 .5 14.1 .5-9.5 .5-4.8 .5 4.8 .4 3.5 .3-6.1 .3 25 .4-12.4 .3-5 .3 2.3 .4 1 .3-4.5 .3 17.9 .4-20.6 .3 6 .3 8.8 .4 10.5 .3-19.3 .3 .3 .4 7.7 .3-18.3 .3 23.2 .4-11.4 .3-1.1 .3-2 .4-3 .3 15.1 .3-11.1 .4-3.6 .3 15.5 .3-3.4 .4-10.2 .3 .1 .3 9.2 .4-8.6 .3-.6 .3-.2 .4 12.7 .3-4.6 .3-3.3 .4 7.5 .3-25.2 .3 15.7 .4-1.4 .3 1.2 .3-11.2 .4 26.7 .3-9.8 .3 5.3 .4 5.4 .3-18.8 .3 5.2 .4 2.3 .3-9.7 .3-3.1 .4 38.5 .3-20 .3-2.6 .4 7.5 .3-16.4 .3 .3 .4 3.3 .3 8.1 .3-14.8 .4 12.5 .3-10.9 .3 11 .4-10.9 .3 14.4 .3-3.2 .4 0 .3-10 .3-1.3 .4 2 .3 1.1 .3-4.2 .4 8.7 .3-9.2 .3 .6 .4 .9 .3 3.5 .3 5.1 .4-1.6 .3-7.8 .3 .2 .4 18.1 .3 .4 .3-15.9 .4 1.1 .3 12.1 .3-6 .4-6.5 .3-1.3 .3-6.6 .4 .6 .3 7.1 .3 3.3 .4-5.6 .3 0 .3 1.2 .4 2.2 .3-.1 .3-7.6 .4 15.1 .3-8.6 .3 20.7 .4-25.7 .3-6.4 .3 18.4 .4 1.3 .3 8.7 .3-18.6 .4 5.1 .3-3.9 .3 1.5 .4-6 .3 11.8 .3-11.1 .4 10.9 .3-12.7 .3 42.9 .4-26.7 .3-2.8 .3 11.6 .4-18.2 .3 4 .3 9.1 .4 3.9 .3-19.6 .3 3.1 .4 3.4 .3-8.5 .3 5.6 .4-2.7 .3-7.4 .3 9.8 .4 14.5 .3-27.4 .3 10.3 .4-.2 .3 14.7 .3-12.1 .4 2.5 .3 1.2 .3-3.4 .4-4.4 .3-9.3 .3 13.4 .4 10.6 .3-.1 .3-11.3 .4-1.6 .3-2.5 .3 15.7 .4-3.1 .3-14.7 .3 34 .4-20.8 .3 1.3 .3-.3 .4 5.9 .3-11.9 .3-3.3 .4-2.6 .3 7.3 .3-10.7 .4 6.8 .3-2.4 .3 3.4 .4 .3 .3 12 .3 19.1 .4-23.6 .3-5.6 .3 8.3 .4-4.9 .3 4.7 .3-8.9 .4-2.2 .3 .1 .3 17.5 .4-3 .3-21.7 .3 5.5 .4 .6 .3 6.9 .3-4.8 .4-1.6 .3 1.2 .3 20.8 .4-8.3 .3-21.7 .3 33.7 .4-30 .3 3.2 .3 22.6 .4-16 .3 16.5 .3-25.4 .4 .9 .3 11.7 .3 3.7 .4-8.3 .3 1.4 .3 4.5 .4-2.4 .3-7.5 .3-3.1 .4 1.1 .3 .8 .3-3.1 .4 8.7 .3 3.5 .3 18.1 .4-4.4 .3-18.2 .3 27.8 .4-33.5 .3 1.6 .3-1.1 .4-8.9 .3 27.9 .3-21.2 .4-2.2 .3 4.5 .3-1.3 .4-4.6 .3 23.5 .3-16.8 .4-1.6 .3 3.5 .3 3.8 .4 14.7 .3-21.2 .3-2 .4-2.1 .3 5.4 .3 3.4 .4 10 .3 1.5 .3-14.1 .4 25.5 .3-17.4 .3-10.8 .4 1.6 .3 9.6 .3-6.9 .4-8.6 .3 16.8 .3-13.9 .4 11 .3 7.7 .3-5.4 .4-3 .3-5.3 .3-.3 .4-3.6 .3 7.3 .3-6.3 .4 7.8 .3-2.5 .3 6.2 .4 10.1 .3-11.9 .3 23.1 .4-29.4 .3 16.6 .3-22.2 .4 5.1 .3-4.8 .3-.3 .4 4.3 .3 .1 .3-.8 .4 10.2 .3-2 .3 8.5 .4-15.6 .3 9.4 .3-5.3 .4 16.7 .3 0 .3-17.7 .4-16 .3 33.1 .3-21.4 .4 .4 .3-2.6 .3 .7 .4 2.9 .3 7.6 .3-4.2 .4-3.9 .3 4.3 .3 4.3 .4 .1 .3-10.1 .3 5.3 .4 14 .3-18.9 .3-5.7 .4 7.9 .3 18.9 .3-7 .4-6.1 .3 7 .3-18.8 .4 2.9 .3-1.5 .3 .4 .4 2.2 .3-2.4 .3 2.4 .4 .9 .3-3.3 .3 10.7 .4-10.6 .3 10.1 .3 17.2 .4-7.5 .3-14.7 .3 7.8 .4-12.2 .3 .4 .3 15.1 .4-4.9 .3-9.4 .3 4.7 .4-3.8 .3 2.3 .3 2.9 .4-6.3 .3-2.9 .3 3.6 .4 3.8 .3-6 .3 2.2 .4 2.3 .3 9 .3-14.9 .4 5.8 .3 21.1 .3-25.6 .4 10.2 .3 8.9 .3 3.4 .4-18.9 .3 11.8 .3-13.9 .4 6.9 .3 11 .3-21.6 .4 25.8 .3-15.6 .3-8.1 .4-.2 .3 2.9 .3 10.2 .4-13.6 .3 8 .3 4.8 .4-13.9 .3 21.3 .3 4.5 .4-7.3 .3-10.3 .3-1.9 .4-8.6 .3 7.1 .3-1.1 .4 10 .3-6.9 .3-3.2 .4 11.2 .3-13 .3 24 .4-11.2 .3-14.1 .3 11.5 .4-5.7 .3 11 .3-14.1 .4 45.8 .3-36.4 .3 .1 .4-10.1 .3-2.9 .3 43.3 .4-17.9 .3 3.3 .3-29.8 .4 10.9 .3 10.4 .3-15.9 .4 13.1 .3-1.7 .3-13.6 .4 10.1 .3-7.1 .3-2.1 .4 4.5 .3-5.9 .3 1.3 .4-.9 .3 6.8 .3 10.2 .4-15.4 .3-2.1 .3 2.1 .4 25.2 .3-26.4 .3 4.2 .4-6.9 .3 23.7 .3-23.2 .4 9.8 .3 5.5 .3 .6 .4-7.4 .3 3.9 .3-13.2 .4 3.5 .3 .3 .3 10.9 .4 1.2 .3-8.8 .3 11.8 .4-12.2 .3-2 .3-1.3 .4-3 .3 5.1 .3-.4 .4 2.2 .3 11.2 .3 .8 .4-13.8 .3-1.4 .3 40.7 .4-40.6 .3 4.9 .3-3.8 .4 13.6 .3-11.3 .3 10 .4-13 .3 29 .3-15.1 .4-7.3 .3-7.7 .3-6 .4 23.1 .3 3.3 .3-4.4 .4-13.7 .3 3.5 .3-4.2 .4 20.6 .3 7 .3-32.6 .4 3.9 .3-1.8 .3 12.4 .4 4.6 .3-18 .3-1.1 .4 4.7 .3-.3 .3 9.3 .4 .3 .3-7.8 .3-8.6 .4 20.4 .3-13 .3-.9 .4 14.6 .3-13.9 .3-6.6 .4 12.2 .3 2.7 .3-7.2 .4 2.5 .3-6.2 .3 13.1 .4 6.4 .3-16.1 .3 2.8 .4-1 .3-2.3 .3-2.4 .4 4.8 .3 21.2 .3-4.3 .4-5.3 .3 2.8 .3-21.6 .4 11.1 .3 1.2 .3-7 .4 11 .3-13.4 .3 1 .4 3 .3 7.4 .3-10.9 .4-.4 .3 .5 .3 .2 .4 20.5 .3-14.6 .3-6.1 .4-4.7 .3 2.4 .3 3.2 .4-7.8 .3 7.8 .3 15.4 .4-15.1 .3 6.1 .3-4.4 .4 12.6 .3-12.3 .3 .5 .4-.8 .3-.1 .3 9.3 .4-9.1 .3 17.4 .3-18.9 .4 20.7 .3-30.7 .3 10.6 .4 9 .3 23.1 .3-29 .4-2 .3-1.8 .3 20.2 .4-13.6 .3 12.3 .3-21.6 .4 .3 .3 24.1 .3-11.2 .4 13.2 .3-25.8 .3 36.6 .4-33.9 .3-2 .3-4.1 .4-.3 .3 10.7 .3-4.4 .4-12.6 .3 35.1 .3-13.5 .4 3 .3-4.9 .3-11.2 .4 5.5 .3-4.1 .3-3.2 .4 4.3 .3 4.6 .3-2 .4 17.9 .3-15.3 .3 1.5 .4 6.3 .3 11.6 .3-26.1 .4 5.8 .3-3 .3 9.5 .4 8.3 .3-18.9 .3 1.9 .4-11.5 .3 8.8 .3 32 .4-30.6 .3 27.2 .3-10.3 .4-14.4 .3 5.5 .3-7 .4-7.3 .3 27.4 .3-6 .4-6.9 .3-12.3 .3 13.9 .4-12.5 .3-5.1 .3 19.1 .4-11.6 .3 19.4 .3-9 .4 7.6 .3 .4 .3-11.7 .4-.5 .3 2.9 .3 1.5 .4-4.4 .3-11.3 .3 5.6 .4-5.7 .3 .2 .3 12.7 .4-8.1 .3 1.6 .3-.2 .4 7.6 .3-4.8 .3-5.3 .4-2.7 .3 2.9 .3 12.2 .4 10 .3-18.6 .3-1.4 .4-4.6 .3 6.4 .3-.4 .4 11 .3-13 .3 4.4 .4 4.9 .3 9.2 .3-21.9 .4-.1 .3 14.3 .3-9.1 .4 10.4 .3-13.9 .3 1.8 .4-.4 .3-5.6 .3 23.9 .4-11.7 .3-7.5 .3 2.2 .4 37.3 .3-40.2 .3 19.9 .4-25.7 .3 .1 .3 14.3 .4-4.5 .3 5 .3-8.7 .4 23.2 .3-11.6 .3-15.1 .4 20 .3 13.7 .3-5.1 .4-27.6 .3 7.3 .3-3.6 .4 18.9 .3-10.1 .3-7.4 .4 7.7 .3-11.9 .3 5.2 .4 17.1 .3-6.5 .3 22.4 .4-20.8 .3 .4 .3-12.4 .4-2.8 .3 5.5 .3 3.4 .4-6.1 .3 .1 .3 16.4 .4-1.6 .3-19.5 .3 2.8 .4 4.7 .3-5.9 .3-.4 .4 2.1 .3 11.6 .3-13.3 .4 5 .3-8.2 .3 3.3 .4 1.8 .3 10.8 .3-4 .4 1 .3-7.3 .3-.3 .4-1 .3 .4 .3-.2 .4 38.9 .3-38.8 .3 1.1 .4 1.5 .3-7.3 .3 5.3 .4 7.6 .3-4.4 .3-5.8 .4 11.9 .3-12.6 .3 1.6 .4-5.2 .3 11.7 .3-3.7 .4 15 .3-18.7 .3-4.4 .4 11.8 .3 2.9 .3 .9 .4-8.8 .3-2.1 .3 5.9 .4 35.2 .3-32 .3-10.1 .4 1.3 .3-.4 .3 20 .4 4.3 .3-8.9 .3-15.2 .4 1.6 .3 10.8 .3-10.1 .4-3.4 .3-3.1 .3 9.6 .4-7 .3 9.7 .3 2.2 .4 16.6 .3-30.4 .3 1.7 .4 30.2 .3-16.7 .3-4.7 .4-7.5 .3 0 .3 3.9 .4 13.6 .3-10 .3-.5 .4-9.3 .3 18.6 .3-15 .4 9 .3 .9 .3-6.7 .4-2 .3-2.4 .3 .6 .4-4.7 .3-10.5 .3 16.5 .4 1.4 .3-2.9 .3 18.5 .4-16.4 .3 .4 .3 .8 .4 5.5 .3 10.1 .3 4.6 .4-20.9 .3-2 .3 1.6 .4 .8 .3-9.5 .3 19 .4-17.4 .3-5.8 .3 13.2 .4 2.4 .3 8.9 .3-3.9 .4-4.9 .3-3 .3 6.6 .4 7.8 .3-17.8 .3 25.6 .4-24.5 .3-4.8 .3 17.4 .4 2.7 .3-14.3 .3 .1 .4 22.9 .3-7 .3-17.8 .4 5.7 .3-5.4 .3 4.2 .4-1.4 .3 13.9 .3-13.5 .4 16.3 .3-18.6 .3 17.9 .4-3.7 .3-16.1 .3 2.4 .4 9.8 .3 11.5 .3-17.9 .4-6.2 .3-.7 .3 35.2 .4-12.9 .3-9.2 .3 10 .4-20.2 .3-2 .3 7.7 .4 10.9 .3-8 .3-7.2 .4-4.9 .3 6.8 .3 6.8 .4 1.3 .3-5.8 .3 19.6 .4-6.5 .3-10.9 .3 8.6 .4-12.9 .3 3.9 .3-5.8 .4 1.7 .3-2.2 .3 11.8 .4-11.5 .3 .7 .3 17.3 .4-11.1 .3-9.7 .3-1.6 .4-.8 .3 37.8 .3-38.4 .4 9.4 .3 21.3 .3-25.3 .4 25.6 .3-27 .3-2.9 .4 .2 .3 5.7 .3 4.4 .4 17 .3-20.7 .3-4.7 .4 30.3 .3-6 .3-12.5 .4 6.2 .3-13.2 .3 6.4 .4-9.2 .3-5.1 .3 30.8 .4-25.5 .3 1.2 .3 23.5 .4-4.3 .3-23.6 .3 23.7 .4-20.3 .3 .7 .3-9.9 .4 15.5 .3 1.4" fill="none" stroke="#2fb47c" stroke-width="2.8" stroke-linejoin="round" stroke-linecap="square" clip-path="url(#cb)"/>
<path d="M1169.5 599.4l.3-10.6 .4-1.7 .3-13.8 .3 7.9 .4-3.3 .3 17.7 .3-8.6 .4-8.6 .3-1.4 .3 20.5 .4-12.9 .3 24.7 .3-32.7 .4 12.7 .3-12.9 .3-4.3 .4 6.2 .3-1.4 .3 12.4 .4-3.6 .3 .9 .3-13.6 .4 3 .3-3.9 .3 29.3 .4-6.2 .3-1.6 .3-8.7 .4 18.9 .3-9.2 .3-8.8 .4-5.1 .3 12.1 .3-15.2 .4-5.1 .3 14.6 .3-15.9 .4 10.1 .3-5.7 .3 1.7 .4 1.2 .3 3.9 .3 17.1 .4-12.9 .3-17.1 .3 21.4 .4-23.1 .3 6.9 .3 26.1 .4-19.1 .3 16.3 .3-25.4 .4 7.9 .3 1.6 .3 7.9 .4-.5 .3-13.8 .3 1 .4-2.7 .3 .7 .3 6.6 .4-4.4 .3-1.8 .3-2.4 .4 3.5 .3 4.1 .3 2.9 .4 20.1 .3-22.5 .3-3.2 .4 5 .3-7.5 .3 2.2 .4-.8 .3 8.5 .3-3.6 .4 12.9 .3-15.9 .3-6.1 .4 28 .3-14.3 .3-7.7 .4 13.1 .3 9.4 .3-.7 .4-5.2 .3 .5 .3-7.3 .4-7.6 .3 13 .3 5.8 .4 1.5 .3-23 .3 21.8 .4-19 .3 3.9 .3-3.3 .4-11.5 .3 8.9 .3 4 .4 3.6 .3 2.3 .3-10.4 .4 5.6 .3 29.6 .3-38.9 .4 6 .3 15.4 .3-6.4 .4-.3 .3-13.4 .3-2.9 .4 15.2 .3-12.3 .3-7.8 .4 5.9 .3 15.9 .3-9.9 .4 9.9 .3-7.6 .3 34.2 .4-38.7 .3 17.2 .3-16.9 .4-3.9 .3 18.9 .3 7.6 .4-22.4 .3-5.2 .3 6.5 .4-8.3 .3 29 .3-29.2 .4 8.4 .3-3.9 .3 23.7 .4-36.5 .3 10.5 .3 .8 .4 15.5 .3 1.9 .3-13.7 .4 14.1 .3-15 .3-3.6 .4 2.6 .3 1.4 .3 3.3 .4-17.9 .3 6 .3 13.3 .4 25.4 .3-9.7 .3-26 .4 2.9 .3 41.8 .3-28 .4-13.3 .3 5.4 .3-7.5 .4 4.4 .3 22.5 .3-3.9 .4-23.3 .3 19.4 .3-17.7 .4-5.2 .3 2.1 .3 19.2 .4-16 .3 6.5 .3 9.1 .4-13.2 .3-6.6 .3 2.2 .4 10.9 .3-1.6 .3 12.5 .4-18 .3 4.2 .3-2.4 .4-2.7 .3 9.3 .3-11.5 .4 3.8 .3 14.7 .3 3.3 .4 2.4 .3-11.7 .3-.6 .4 13.6 .3-20.2 .3-1.4 .4 15.8 .3-12.4 .3 22 .4-27.5 .3 18.4 .3-12.2 .4 4.4 .3 4 .3-5 .4 5.5 .3 6.7 .3-7.9 .4-11.9 .3 12.7 .3-4.9 .4-6.6 .3 10.2 .3-13.4 .4 18.8 .3-7 .3-14.8 .4 5.4 .3-3.3 .3 22.8 .4-19 .3-5.3 .3 9.2 .4-7 .3 2.3 .3-.4 .4 3.2 .3-8.1 .3 28.8 .4-14.6 .3-7 .3-.9 .4 14.2 .3-12.9 .3-4.9 .4 11.7 .3 4.2 .3 .3 .4-17.7 .3 4.6 .3 8.4 .4-1.6 .3 1.8 .3-4.6 .4-7.5 .3 22.7 .3-14.1 .4 7.9 .3-12.2 .3-3.1 .4-4.2 .3 26 .3-25.7 .4 24.9 .3-26.9 .3 6.5 .4 28.2 .3-27.5 .3-2.7 .4 1.2 .3-3 .3 27 .4-29.9 .3 22.8 .3-18.1 .4 3.7 .3-8.1 .3 24 .4 .2 .3 7.3 .3-23.6 .4 19.3 .3 2.9 .3-25 .4 4 .3 10.6 .3-18.3 .4-.4 .3 4.6 .3 27 .4-23.4 .3-9.1 .3 3.2 .4 30 .3-31.9 .3 .4 .4 9.7 .3-4.2 .3-4.1 .4-1.2 .3 3.7 .3 3.5 .4 10.4 .3 .9 .3-3 .4-13.6 .3 6.7 .3 9.8 .4 1.1 .3-14.2 .3 12.8 .4-12.8 .3 10 .3-10.1 .4-1.7 .3-1.6 .3 .7 .4 1.5 .3 3.3 .3-1.1 .4 23.8 .3-39.4 .3 38.8 .4-15.2 .3-2.1 .3-1.3 .4-12.1 .3 4.4 .3 3.1 .4 16.2 .3-18.6 .3-2.8 .4 1.7 .3 23.2 .3 12.7 .4-36.4 .3 24.1 .3-19.8 .4 20.2 .3-20.6 .3 6.7 .4-8.5 .3 11.5 .3 23.5 .4-15 .3-6.2 .3-13.7 .4 10.1 .3-7.8 .3 14 .4-15.3 .3 19.7 .3-17.7 .4 2.9 .3 4.7 .3-13.7 .4-1.3 .3 3.7 .3 33.7 .4-19.8 .3-13.3 .3 21.7 .4-18.7 .3 7.9 .3-13.6 .4 16.5 .3-20.7 .3 1.2 .4 25.5 .3-20.5 .3-4.6 .4 3.7 .3-5.1 .3 9.5 .4 13.4 .3-16.4 .3 1.6 .4-2.4 .3 15.6 .3-8.7 .4-7.4 .3 3 .3 9.6 .4-11.4 .3 9.9 .3-10.4 .4 2.5 .3 38.6 .3-36.5 .4-6.2 .3 5 .3 20 .4-20.2 .3-2.3 .3 34.7 .4-4.5 .3-23.7 .3-23.2 .4 19.7 .3-8.6 .3 8.1 .4-9 .3 22.2 .3-18.5 .4 4.7 .3 15.6 .3-17.4 .4 26.6 .3-27.8 .3-.6 .4 18.1 .3-4 .3-11 .4 14.7 .3-9.9 .3-4.9 .4 15.5 .3-18.3 .3 28.2 .4-27.7 .3 15 .3-8.4 .4-10 .3 10.9 .3 10.7 .4 2.4 .3-21.7 .3 2.6 .4 9.5 .3 27 .3-17.1 .4-25.6 .3 33.5 .3-28.7 .4 23.5 .3-22.2 .3 5.5 .4-5.9 .3 13.8 .3-5.1 .4 8.1 .3-16.9 .3-.9 .4 29.9 .3-34.2 .3 25.5 .4-16.8 .3 .6 .3-5.8 .4 5.7 .3 .3 .3-6.1 .4 9.6 .3-5.9 .3 1.7 .4 4.2 .3 4.1 .3-12.9 .4-6.3 .3 16.8 .3-8.1 .4-4.7 .3 10.7 .3-7.2 .4 .6 .3-5.2 .3 18.3 .4-5 .3-7.8 .3 15.5 .4-13.8 .3 16.2 .3-27.4 .4 9.5 .3-.3 .3-4.8 .4 5.4 .3 18 .3-18.3 .4-2.5 .3 8.1 .3 2.4 .4-8.8 .3 5.1 .3 8.5 .4-2.2 .3-5.4 .3-3.2 .4-3.8 .3-1 .3-.9 .4 15.9 .3 6.3 .3-21 .4 2.6 .3 7.3 .3-.8 .4 11.1 .3-26.6 .3 20.7 .4 7.5 .3-15.5 .3-7.5 .4 16.9 .3-17.3 .3 5 .4 2.5 .3 14.1 .3-18.1 .4 8.2 .3-6.7 .3 14.1 .4-22.7 .3 5.5 .3 13.8 .4-17.1 .3 8.8 .3-9.1 .4 34.2 .3-26.3 .3-2.5 .4 19.9 .3-13.1 .3 13.6 .4-21.1 .3 10.4 .3-2.9 .4-2.5 .3-.7 .3-8 .4 15.2 .3-9.8 .3 25 .4-25.7 .3-8.6 .3 10.6 .4-2.2 .3 1.5 .3-3.1 .4 3.5 .3-8.2 .3 6.3 .4-7.9 .3 7.6 .3 15.4 .4-16 .3 16.5 .3-23.9 .4 2.5 .3 6.9 .3 5.6 .4 12 .3-10.2 .3-6.1 .4-.8 .3-7.4 .3 .9 .4 29.2 .3-22.7 .3 16.4 .4-3.6 .3 .9 .3-.6 .4 20.8 .3-35.9 .3-1.2 .4-.7 .3 28 .3 6 .4-38 .3 8.5 .3-1.6 .4-2.3 .3-.3 .3 8.9 .4-9.5 .3 21 .3-4.6 .4 12.9 .3-27.9 .3 1.9 .4-.3 .3 25.9 .3-28.8 .4 8.7 .3 11.4 .3-15.9 .4 5.2 .3-6.5 .3 33.5 .4-19 .3-18 .3 .1 .4 19.1 .3-14.3 .3 9.6 .4-11 .3 18.7 .3-3.6 .4-16.1 .3 2.7 .3 7.7 .4-8.8 .3-2.6 .3 14.4 .4-13.8 .3 .9 .3 12.6 .4-1.9 .3 2.8 .3 6.7 .4-22.9 .3 13.7 .3-13.6 .4 4.1 .3-4.9 .3 12.3 .4-2.1 .3-12.3 .3 10.9 .4-4.4 .3-3.4 .3-2.4 .4 5.3 .3-.8 .3 1.1 .4 17.6 .3-16.6 .3-4.6 .4 4.2 .3-4 .3 13.1 .4-10.6 .3 4.7 .3-4.3 .4-1.6 .3-6.6 .3 19.2 .4 1.7 .3-1.3 .3 7.3 .4 4.9 .3-6 .3-10 .4 10.3 .3-23 .3 9.4 .4-4.3 .3 17.7 .3-3.1 .4-18.3 .3 14.9 .3 4.4 .4-23.4 .3 33.6 .3-9 .4-17.7 .3 .7 .3 17.1 .4-14.3 .3-6 .3 33.1 .4-31.9 .3 1.9 .3-4.3 .4 13.7 .3 7.8 .3 17.5 .4-31.6 .3-3.9 .3 20.2 .4-25.7 .3 31.8 .3-18.1 .4-8.7 .3 7.9 .3-2.1 .4-3.7 .3 2 .3-4.1 .4 1.9 .3 13.4 .3-17.8 .4-.8 .3 .8 .3-7.6 .4 12.1 .3-7 .3 4 .4 8.7 .3-2.6 .3 3.9 .4 10.4 .3-20.7 .3 15.1 .4-15.5 .3 3.3 .3 19.3 .4 1.6 .3-25.2 .3 5.9 .4 6.7 .3-8.8 .3 13.2 .4-9.1 .3-2.4 .3 .1 .4 27.4 .3-26.7 .3 12.6 .4-13 .3-.6 .3 12.6 .4 18.5 .3-9.5 .3-23.4 .4 18 .3-21.1 .3 13.9 .4-14.7 .3 17.7 .3-15.5 .4 19.9 .3-7.5 .3-10.8 .4-.7 .3-1.1 .3 1.2 .4 .8 .3 .7 .3 1.7 .4-4.6 .3 9.6 .3-7.7 .4-4.2 .3-2.6 .3 4.2 .4-3.4 .3 19.2 .3-15.9 .4 12 .3 20.1 .3-29.2 .4 14.4 .3-21.6 .3 7.6 .4 .8 .3 1.1 .3-2.2 .4 13.5 .3-14.4 .3-2.3 .4 1.3 .3 21.5 .3 8.6 .4-22.6 .3-5.2 .3-.5 .4 .4 .3 5 .3 4.1 .4-2.3 .3-2.9 .3 3.2 .4-13.8 .3 3.5 .3 22 .4-34 .3 15 .3 .6 .4-1.6 .3-15.2 .3 16 .4 2 .3 .9 .3 21.9 .4-13.2 .3-1 .3-14.2 .4-4.3 .3 14.3 .3 28.6 .4-29 .3 9.3 .3-12.2 .4 6.2 .3 4.9 .3-15.7 .4 3.8 .3-1.7 .3 11 .4-10.9 .3-.1 .3 1.8 .4-1.8 .3 .8 .3-11.3 .4 16.4 .3 10.1 .3-3 .4-13.6 .3 12.2 .3-4.8 .4-6.6 .3 1.5 .3-1.7 .4 3 .3-1.3 .3 .2 .4-.3 .3-.7 .3-3 .4 3 .3-1.8 .3 3 .4 1.5 .3 7.8 .3-6.2 .4 1.9 .3 19 .3-25.6 .4 19.9 .3-16.5 .3 19.6 .4-1.6 .3-17.7 .3-6.3 .4 2.4 .3 8.9 .3-13.6 .4 12.6 .3-11.5 .3 18.8 .4-6.5 .3-10.5 .3 2.4 .4 1.7 .3-1 .3 19.1 .4-23.8 .3 37.5 .3-23 .4-12.1 .3 6.1 .3-1.7 .4 5.5 .3-14.4 .3 7.8 .4 15.2 .3-16.1 .3-5.4 .4 3.5 .3 23.1 .3-15.4 .4 18.4 .3-23.6 .3-.4 .4-4.3 .3 3.1 .3-1.9 .4 14.3 .3-14.7 .3 1.9 .4 17.1 .3-11.8 .3-1.1 .4-9.3 .3-1.1 .3 2.9 .4 22.6 .3-14.9 .3-7.1 .4 11.9 .3-11.5 .3 26.7 .4-23.6 .3-.8 .3-5.4 .4 27.3 .3-.3 .3-20.3 .4 12.8 .3 6.9 .3-13.7 .4-6.6 .3 12.6 .3-4.9 .4 3.1 .3 8.9 .3-23.1 .4 8.8 .3-7.9 .3 18.4 .4 21.6 .3-35.2 .3 12.2 .4-7 .3 6.6 .3-17.4 .4-4.1 .3 22.5 .3 18.2 .4-38.9 .3 19.2 .3-20.8 .4 8.5 .3-6.3 .3 5.2 .4-2.1 .3 13.7 .3-4.3 .4-20.5 .3 12.8 .3 4.6 .4 19.2 .3-1.2 .3-16.8 .4-12.4 .3 1.4 .3 15.2 .4-8.7 .3-.8 .3 .7 .4-3.5 .3 14.2 .3 12.4 .4-23.7 .3-3.4 .3-1.1 .4 1 .3 28.1 .3-23.8 .4 16 .3-20.4 .3 8.6 .4-6 .3-3.8 .3 25.8 .4-20.7 .3-10.6 .3 20.1 .4-16.4 .3 5.4 .3-9.2 .4 9.2 .3-8 .3 17.1 .4 1.8 .3-.3 .3-10.9 .4 17.2 .3-20.5 .3 .7 .4 7.6 .3-7.4 .3 2.6 .4-1.7 .3 5.4 .3-12.3 .4 24.6 .3 13.2 .3-26.5 .4 31.1 .3-32.9 .3-1.8 .4 9.7 .3-10.8 .3 40.5 .4-42.6 .3-2.2 .3 14.7 .4-1.6 .3-7.8 .3 2.3 .4 17.6 .3-19.8 .3 9.6 .4-22.6 .3 21.3 .3 13.1 .4-8.3 .3-13.7 .3 6.9 .4-4.4 .3-1 .3-1.6 .4-3.9 .3 16 .3-10.5 .4-.5 .3 4.9 .3 9.7 .4-21.6 .3 6.4 .3 19.9 .4-9.4 .3-5 .3 33.8 .4-5.5 .3-42.4 .3 9.2 .4 15.3 .3-18.7 .3 43.9 .4-26.4 .3-10.7 .3-8.3 .4 5.6 .3-6.1 .3 13.4 .4-9.5 .3-6.7 .3 16.8 .4 5.7 .3-4.9 .3-13.5 .4 2.2 .3 3.9 .3 12 .4-13.3 .3 1.3 .3-6.8 .4 7.6 .3-10 .3 7.8 .4-.4 .3 12.7 .3-10.1 .4-11.4 .3 20.9 .3-12.3 .4-2.3 .3 25.2 .3-16.1 .4-9.7 .3 11 .3-7.1 .4 15.7 .3-24.9 .3 29.7 .4-9 .3 .4 .3 11.5 .4-2.2 .3-5.4 .3-18.3 .4 3.4 .3 23 .3-29 .4 15 .3-7.7 .3-5.9 .4 1.2 .3-4.4 .3 10.4 .4-4.2 .3 7.3 .3-.5 .4-1.6 .3 12.1 .3-19.6 .4 20 .3-17.1 .3-8 .4-3.9 .3 10 .3 2.4 .4 12.4 .3-1.4 .3 5.4 .4-20.3 .3 8.8 .3-16.5 .4 7.2 .3 17.3 .3 2.8 .4-23.3 .3-5 .3 11.7 .4 .5 .3-3.8 .3-4.2 .4 5.9 .3-3.9 .3 8.4 .4-5.1 .3 8.9 .3 11.6 .4-23.1 .3 3.6 .3 9.4 .4 16 .3-29.4 .3 4.5 .4 0 .3-10.2 .3 15 .4 1.9 .3-9.7 .3-.2 .4 28.7 .3-3.5 .3-26.9 .4-2.6 .3 13.8 .3 21.4 .4-27.3 .3 13.1 .3-15.5 .4-3.4 .3 12.3 .3-9.6 .4-.8 .3 13.9 .3-19 .4 6.1 .3 14.6 .3-15.2 .4-4.4 .3 1.3 .3-3.4 .4 8.7 .3 17.3 .3-18.6 .4-1.4 .3-2.8 .3-4.4 .4 7.5 .3 2.8 .3 3.8 .4 5.9 .3-13.5 .3 14.4 .4-6.2 .3-6.5 .3 24.6 .4-27.9 .3 8.3 .3-5.8 .4-3.5 .3 6.7 .3-4.4 .4 11.2 .3-7.9 .3 15 .4-10.4 .3-8.3 .3-1.7 .4-.1 .3 .7 .3-1.3 .4 23.1 .3-7.8 .5-17.7 .5-2.1 .5 15.6 .5-18.2 .5 20.3 .5-22.9 .5 24.1 .5-16.5 .5-7.2 .5-9.9 .5 3.1 .5 3.8 .5-5.1 .5-17.1 .5 3.8 .5 6 .5-.6 .5-5.8 .5 7.9 .5-1.9 .5-10.3 .5 2.6 .5-6.4 .5-7.9 .5-9.6 .5 5.9 .5 .2 .5-8 .5-3.8 .5-6 .5-.1 .5 13.4 .5 7.1 .5-1.9 .5-7.3 .5-6.8 .5-1.9 .5 9.9 .5-.3 .5-13 .5-1.2 .5-5.2 .5-4.1 .5 3.8 .5-5.9 .5-1.4 .5-3 .5-4.3 .5-8.7 .5-10.3 .5-5.9 .5-6.2 .5-11.9 .5-10.7 .5-8.2 .5-8.3 .5-15 .5-17 .5-13.4 .2-4.5 .2-6.6 .2-6.4 .2-7.6 .2-7.3 .2-6.7 .2-9.3 .2-15.6 .2-19.7 .2-29.8 .2-81.5 .1-90.8 .1 90.9 .2 82.2 .2 30.7 .2 16.1 .2 13.9 .2 9.6 .2 7.3 .2 8.4 .2 8.9 .2 8.3 .2 6.5 .2 7.8 .2 2.8 .2 1.7 .5 12.7 .5 11.9 .5 12 .5 10.1 .5 10.4 .5 9.2 .5 10.1 .5 2.6 .5 .2 .5 7.6 .5 4.1 .5 9 .5 9.9 .5 1.2 .5-5.4 .5 .6 .5 .1 .5 .6 .5-2 .5 9.3 .5-11.6 .5-.4 .5 12.9 .5 1 .5-7 .5 2.1 .5-7.1 .5 .6 .5 6.2 .5 6.4 .5 5.6 .5 6.1 .5 6.8 .5-1.6 .5 2.8 .5-4.1 .5 3.8 .5 6.2 .5 .7 .5 6.5 .5 1.9 .5 .9 .5 10 .5-3.7 .5 1.2 .5 3.5 .5-.3 .5 8.7 .5 8.7 .5-5.2 .5 8.4 .5 4.9 .5 9.6 .5 6.9 .5-1.4 .5-2.3 .5-5.9 .5-.8 .5-3.6 .3 4.6 .4 8.5 .3 22.1 .3-12.6 .4-16.4 .3 7.4 .3 11.1 .4-21.7 .3 9.6 .3 2.8 .4-3.8 .3-.9 .3-1.8 .4-10.4 .3 11.7 .3-.3 .4 .7 .3 12.3 .3-13 .4 2.5 .3 2.1 .3-8 .4 9.1 .3-3.3 .3-3.6 .4-2.2 .3 6.1 .3 10.1 .4-3.7 .3-11 .3 9.1 .4-7.4 .3 20.3 .3-17 .4 5.5 .3 5 .3-15.7 .4 .2 .3 8.2 .3 8.5 .4-14.7 .3 6.1 .3-3.4 .4 27.6 .3-31.1 .3 4.1 .4-4.5 .3 15.3 .3-13.3 .4 7.1 .3-2.1 .3-11.2 .4 15.2 .3-9 .3 2.1 .4 8.1 .3-5.5 .3 6.2 .4-13.7 .3 16 .3-12.3 .4 9.2 .3-18.5 .3 4.6 .4 19 .3 .6 .3-18.3 .4 19.5 .3-14.5 .3-1.5 .4 8.6 .3-.3 .3-15.2 .4 25.1 .3-18.8 .3-1.8 .4 18.2 .3-14.5 .3 7.6 .4 11.6 .3-8 .3 12.2 .4-24.7 .3 0 .3-7.2 .4 5.9 .3 12.7 .3-8.9 .4 9.1 .3-9.1 .3-2.5 .4 2.8 .3-5.7 .3 2.7 .4 11.9 .3-5.1 .3-6.6 .4-.1 .3 10.3 .3-8.2 .4-1.4 .3 18.3 .3-17.3 .4 8.2 .3-5.1 .3-6.7 .4 20.2 .3-21.1 .3 2.2 .4 6.6 .3 4 .3 .6 .4-7.6 .3 11.4 .3-16.3 .4 4.6 .3 14.3 .3-18.6 .4 1.7 .3 7 .3-3.2 .4 6.8 .3-13.4 .3 0 .4 25.2 .3-17.5 .3 6 .4-11.1 .3 3.5 .3 6.1 .4-4.3 .3 30.9 .3-38.2 .4 19.1 .3-5.8 .3-16 .4 28.8 .3-4.6 .3-22.1 .4 5.8 .3-3 .3 13.3 .4-2.8 .3 2.7 .3-16.5 .4 18.8 .3-11.8 .3 1.5 .4-2.8 .3-3.9 .3 2.6 .4-.1 .3 1 .3 24.8 .4-18.1 .3-7.6 .3-2.6 .4-.5 .3-2.6 .3 6.9 .4-2 .3-.1 .3 6.7 .4-3.2 .3 12.7 .3-15.3 .4 28.8 .3-18.5 .3 21.3 .4-19.8 .3 17.6 .3-21.5 .4 4.5 .3-18.7 .3 18.3 .4 1.3 .3-19.7 .3 11.1 .4-3.5 .3 .5 .3 10 .4-10.7 .3 18 .3-12.3 .4 3 .3 6.9 .3 12.1 .4-33.8 .3-.4 .3 4.3 .4 6.6 .3-4.7 .3 4.4 .4 10.6 .3-7.5 .3 2.9 .4-12.9 .3-.8 .3 6.5 .4 19.8 .3-13.6 .3-8.5 .4 21.3 .3-22.8 .3-2.5 .4 11 .3-3.8 .3-8.7 .4-2.9 .3 6.1 .3 6.3 .4-4.2 .3 2.7 .3-10.2 .4 17.2 .3-6.7 .3-5 .4 18.3 .3-15.6 .3-5.4 .4 2.4 .3 6.3 .3-6.6 .4-.3 .3-7.2 .3 25.5 .4-12.4 .3-4.6 .3 .5 .4 5.2 .3 25.5 .3-33.5 .4-2.4 .3-1.5 .3 26.2 .4-17.9 .3 3.5 .3-3.7 .4 7.2 .3-13.7 .3-2.2 .4 12.2 .3-10.4 .3 28.8 .4-26.9 .3 4.1 .3-2.8 .4 12.1 .3-12.4 .3 11.7 .4-7.8 .3 33.5 .3-23.5 .4-14.8 .3 14.2 .3-11.8 .4-.7 .3 20.1 .3 17.1 .4-22.6 .3-11.4 .3 5.2 .4-1.6 .3 7.2 .3-.9 .4-13.4 .3 .5 .3-2.7 .4 13.9 .3-5.1 .3-7.7 .4 18.1 .3-4 .3-4.9 .4-13.8 .3 34 .3-3.6 .4-14.5 .3-8.3 .3 6.2 .4 13.6 .3-14.5 .3 8 .4 5.7 .3-23.9 .3 20.4 .4-2 .3-5.7 .3-12.1 .4 15.1 .3-4.1 .3-4.4 .4-1.6 .3-.4 .3 6.6 .4-11.9 .3 17.8 .3-.4 .4-7.6 .3 1.5 .3-7.5 .4 11.9 .3-10.5 .3-7.3 .4 8.5 .3-6.8 .3 20.2 .4-8.6 .3-10.1 .3-3.4 .4 8.5 .3-4.1 .3 2.8 .4 6.3 .3 20.9 .3-19.9 .4 8 .3-6.7 .3-6.9 .4 14.5 .3 8.9 .3-14.4 .4-11.2 .3-1.2 .3-2.6 .4-2 .3 23.7 .3 .6 .4-5.8 .3 4.5 .3-16.9 .4 .1 .3 8.3 .3 10.5 .4-12.7 .3-.1 .3-9.3 .4 1.9 .3-8.7 .3 19.9 .4 21.7 .3-34.4 .3 2.7 .4 14.3 .3-14 .3 5.2 .4-13.6 .3 9.9 .3 20.5 .4-18.5 .3-2.6 .3-1.1 .4-5.3 .3 12.1 .3-15.7 .4 40.7 .3-35.5 .3 7.6 .4 3.5 .3-10 .3 14.3 .4-13.7 .3 7.5 .3-2.6 .4-.7 .3 2.2 .3-4 .4-4.8 .3 2.2 .3 3 .4 1.6 .3-2.6 .3 .8 .4 2.4 .3-4 .3-2.3 .4 17.4 .3 10.4 .3-29.1 .4-.9 .3 3.3 .3 7 .4 16.5 .3-19 .3 .2 .4 6 .3 23.6 .3-12.7 .4-6.1 .3-15.1 .3 8.5 .4-4.2 .3 .3 .3 3.8 .4-12.9 .3 8.9 .3 6.9 .4 10.3 .3-10.1 .3-11.5 .4 15.2 .3-11.2 .3 2.6 .4 7.3 .3-16.6 .3 34.2 .4-23.7 .3 18.4 .3-23.3 .4 2.8 .3 10.1 .3-12.4 .4 11.7 .3-3.5 .3-10.2 .4 27 .3-21.2 .3-4.7 .4-.4 .3 19.9 .3-8.8 .4-12.7 .3-4.3 .3 0 .4 15.4 .3-15.5 .3 6.4 .4-1.1 .3 3.8 .3-.6 .4 4.2 .3-6.1 .3 8 .4-3.8 .3-3 .3-3.6 .4 4.2 .3-9 .3 14.1 .4-12.2 .3 19.8 .3 2.1 .4-21.6 .3 8.9 .3-4.3 .4-1.5 .3 14.9 .3-19.2 .4 2.8 .3 3.6 .3-1.8 .4 1.2 .3-8.1 .3 18.7 .4-8.5 .3 0 .3 5.4 .4-12.1 .3 18.6 .3-4.6 .4-7.2 .3 11.7 .3-7.3 .4-6 .3 14.1 .3-12.8 .4 18.6 .3-21.3 .3 .8 .4 9.5 .3 2.3 .3-17.9 .4 2.8 .3 1.1 .3 8.6 .4 3.3 .3-5 .3 1.1 .4 21.2 .3-26.4 .3 3.6 .4-7.6 .3 18.4 .3-4.2 .4-14.6 .3 13.8 .3 17.1 .4-20.2 .3 1.8 .3-17.1 .4 18.7 .3-1.8 .3-14.7 .4 9.4 .3-5.8 .3 4.1 .4-9.2 .3 21.1 .3 8 .4-21.2 .3 27 .3-21.5 .4 16.4 .3 15.1 .3-38.3 .4 1.2 .3 .4 .3 1.1 .4-7.7 .3 7.8 .3 23.2 .4-25.3 .3-.7 .3 3 .4-4.6 .3-8.3 .3 12 .4-.2 .3 31.5 .3-30.2 .4 8.5 .3 3.2 .3-14.6 .4 12.9 .3-13.4 .3-1 .4 11.8 .3 11.8 .3-18.8 .4 16.6 .3-14 .3 4.3 .4 8.3 .3-.3 .3-21.2 .4 13.5 .3 .3 .3 13.3 .4-18.8 .3-6.5 .3 4.7 .4 25.1 .3-18.1 .3-5.9 .4 4.7 .3-12.7 .3 6.1 .4-5.2 .3 2.5 .3-1.1 .4 .7 .3 4.4 .3 16.1 .4-8.4 .3-4.2 .3-7.6 .4 4.5 .3 25 .3-30.5 .4 16.4 .3-15.4 .3-10.2 .4 20.9 .3 3 .3-15 .4 24 .3-8.3 .3-14.9 .4 14.5 .3-14.5 .3 5.1 .4-1.8 .3-1.2 .3-10.3 .4 .7 .3-1.5 .3 33.1 .4-21.9 .3 8.2 .3-22.3 .4 28.1 .3 9.4 .3-30.2 .4 13.9 .3-4.6 .3 15.4 .4 6.7 .3-20.2 .3 4.3 .4 20.8 .3-27.7 .3-.8 .4 18.8 .3-3.7 .3 7.9 .4-20.8 .3 .6 .3 4.2 .4-8 .3-.4 .3-3.6 .4 17.1 .3-7.6 .3-1.3 .4-3.3 .3-5.8 .3 22.3 .4 21.6 .3-38.5 .3 7.1 .4 7.6 .3-7.9 .3 2.5 .4-16.7 .3 .3 .3 9.9 .4 5.8 .3 9.3 .3-7.6 .4-8.1 .3-5.5 .3 19 .4-16.8 .3-.6 .3 19.7 .4-6.1 .3-2 .3-14.1 .4 1.1 .3 27.7 .3-27.7 .4 2.7 .3 33.7 .3-34.6 .4 2.3 .3 7.9 .3 7.9 .4-16.5 .3-.4 .3 7.6 .4-3.7 .3-8.7 .3 32.6 .4-27.6 .3-5.2 .3 13.7 .4-4.5 .3-3.2 .3-1.2 .4 6.9 .3-2.5 .3-11.3 .4 7.9 .3-2.2 .3 .9 .4 9 .3-10.4 .3 6.1 .4 10.2 .3-20 .3-3.7 .4 5.4 .3 .4 .3 15.3 .4 4.4 .3-19.7 .3 12.5 .4-4.8 .3 3.1 .3 13.7 .4-22.3 .3 9.4 .3 9.4 .4-16.4 .3 2 .3 21.2 .4-24.6 .3-2.7 .3 26.8 .4-25.7 .3 21.4 .3-19.1 .4 7.6 .3-12.9 .3 28.4 .4-23.5 .3-.3 .3 12.8 .4-9.4 .3 19.9 .3-30.7 .4 31 .3-27.2 .3 5.3 .4 3 .3 6.6 .3 8.8 .4-24.3 .3 2.5 .3-4.4 .4 4 .3-1.1 .3-.6 .4 22.5 .3-18 .3 5.1 .4-7.7 .3 2.8 .3 12.6 .4-.6 .3-7.1 .3-.3 .4 9.6 .3-24.2 .3 5.6 .4 14.9 .3-1.1 .3-7.5 .4-7 .3 2.4 .3 5.1 .4-10.8 .3 16.7 .3 9.6 .4-19.8 .3 18.5 .3-18.7 .4 8.8 .3-2.3 .3 20.3 .4-11.6 .3-23.7 .3 4.2 .4 8.5 .3-2.4 .3-2.9 .4 23.4 .3-23.6 .3 7.6 .4-4.4 .3-6.5 .3 1.2 .4 15.1 .3-10.3 .3-3.4 .4 12.1 .3-4.1 .3-14.6 .4 9 .3 14.9 .3-16.9 .4 2.8 .3 3.1 .3-.3 .4 5.6 .3 8.7 .3-25.5 .4 6.5 .3-2.9 .3 3.2 .4-1.8 .3 18.8 .3-14.8 .4 3.3 .3-3 .3-5.3 .4 15.1 .3-4.6 .3-18.5 .4 17 .3 5.2 .3-6.6 .4 6.1 .3-4.5 .3-5 .4-.1 .3-4.9 .3-7.4 .4 15.5 .3 26.5 .3-30.8 .4 6.7 .3-7.8 .3 2.5 .4-.1 .3-4.3 .3 5.9 .4-8.3 .3 4.3 .3 11.9 .4-10.9 .3 1 .3 .5 .4-4 .3 3.6 .3 12.3 .4-4 .3-20.7 .3-1.7 .4 35.1 .3 5.4 .3-.5 .4-22.2 .3-5.1 .3 4.8 .4-1.2 .3-10.6 .3 23.6 .4 .7 .3-1.2 .3-4.1 .4-8.7 .3-9 .3 4.6 .4 15 .3-11.4 .3 12.1 .4-2.6 .3-12.7 .3 3.6 .4 6.6 .3-5.5 .3 12.8 .4 7.8 .3-27.3 .3 17.1 .4-1 .3-9.5 .3-4.3 .4 13 .3-10.6 .3 4.8 .4 8 .3-10.1 .3-.8 .4 9.6 .3-14.1 .3 5.8 .4-12.2" fill="none" stroke="#44bf70" stroke-width="2.8" stroke-linejoin="round" stroke-linecap="square" clip-path="url(#cb)"/>
<path d="M1169.5 602.7l.3-4.8 .4-28.3 .3 19.6 .3-6.2 .4-12.7 .3 8.6 .3 12.5 .4-14 .3-1.1 .3 12.8 .4-14.3 .3 13.7 .3-9 .4 14.9 .3-6.9 .3-.2 .4-1.3 .3-8.9 .3 1.4 .4 12 .3-1.9 .3-12.9 .4-4.6 .3 22.3 .3-16.5 .4 5.8 .3-9.1 .3 .1 .4 1.9 .3 4.7 .3-11.6 .4 7.5 .3-.2 .3 1.9 .4 2.8 .3-2 .3-12.5 .4 8.6 .3 1.3 .3-1.5 .4 7.5 .3 18.2 .3-3.5 .4-32.3 .3 18.6 .3-5.9 .4 13.3 .3-13.1 .3-1.3 .4 13.6 .3 2.6 .3-19.6 .4 14.6 .3 1.3 .3-6.7 .4-12.6 .3 1.1 .3 3 .4 3.7 .3-.9 .3 22.3 .4-14.6 .3-2.1 .3 .6 .4-9.3 .3 12.3 .3-7.3 .4-2.8 .3 4.6 .3-1.9 .4 0 .3-5.9 .3 35.9 .4-34 .3 .4 .3 30.5 .4-28.8 .3 1.7 .3 19.3 .4-7.7 .3-13.1 .3 14.3 .4 .4 .3-14.1 .3 17.2 .4-6.4 .3-7.2 .3 2.7 .4-5.8 .3 20.9 .3-15.6 .4-9.8 .3 1.7 .3 31.1 .4-19 .3-12.3 .3 2.1 .4-7.5 .3 4.5 .3 16.9 .4-10.9 .3-8.6 .3 19.2 .4-14.9 .3 3.3 .3 20.3 .4-7.3 .3 11 .3-29.7 .4 3.1 .3 5.5 .3-6.3 .4 23.8 .3-10.4 .3 9.1 .4-17.5 .3 2.8 .3-5.3 .4 6.4 .3-4.6 .3 .1 .4 10 .3-15.3 .3 1.9 .4-.2 .3 5.3 .3 .3 .4-4.5 .3 1.2 .3 1.6 .4-7.5 .3 .9 .3 26.3 .4-12.9 .3 .3 .3 0 .4 9.3 .3-23.1 .3 9.6 .4-6.4 .3-2.1 .3 17.8 .4-26.5 .3 9.8 .3 27.8 .4-29.8 .3 8.3 .3-5.1 .4-.3 .3 13.7 .3 11.1 .4-16.7 .3-19 .3 10.5 .4-1.9 .3 13.2 .3-10.6 .4 14.2 .3-16.2 .3 .9 .4 7.4 .3-14.5 .3 23.9 .4-15.8 .3 4.8 .3 13.9 .4-13.8 .3-5 .3-1.2 .4 2.3 .3 .6 .3-5.9 .4 4.4 .3-8.7 .3 4.4 .4 2.6 .3 11.8 .3-2.4 .4-6.5 .3-1.6 .3-.5 .4-3.2 .3 3.7 .3 23 .4-22.1 .3 17.8 .3-31 .4 10 .3 31.5 .3-26.2 .4 12.5 .3-14.7 .3 3.9 .4-2.6 .3 .5 .3 2.4 .4-5 .3 11.5 .3-.9 .4-19.6 .3 7.6 .3 1.9 .4-.4 .3-4.3 .3 21.3 .4 1.2 .3-16.9 .3 6.6 .4-3.4 .3-2.9 .3-12.6 .4 11.3 .3 2.4 .3-2.9 .4 5.5 .3-9.3 .3 20.2 .4-3.4 .3-12.8 .3 10.4 .4-9.4 .3 19.1 .3-9.4 .4-9.2 .3 2.7 .3-3.7 .4-3.4 .3 17.4 .3-10.1 .4 17.7 .3-24.1 .3 6.5 .4-4 .3-5.4 .3 7.5 .4-5.9 .3-2.9 .3 8.6 .4-10.1 .3 6.3 .3 3.3 .4 .3 .3 11.5 .3-1 .4-13 .3 6.7 .3 8 .4-9.2 .3-1.7 .3-10.2 .4 19.7 .3-16.8 .3 34.6 .4 8.5 .3-40.7 .3 8.3 .4-3.6 .3-3.7 .3 28.1 .4-25.7 .3 21.5 .3-28.7 .4 23.3 .3-26.2 .3 18.8 .4-3.9 .3-16 .3 10.8 .4 4.7 .3 4.5 .3-17.9 .4 6.2 .3-.3 .3-1.8 .4-6.5 .3 8.8 .3 2.5 .4 2.8 .3 20.9 .3-25.1 .4-2.2 .3 6.6 .3-8.8 .4-1.6 .3 9.8 .3 3.4 .4-6.1 .3 14.7 .3-13.1 .4-4.4 .3 33 .3-23.4 .4 2.1 .3 2.5 .3-10.3 .4-.5 .3-1.8 .3 1.1 .4-1 .3 1.6 .3 4.3 .4 7.3 .3-11.3 .3 24.7 .4-6.4 .3-25.4 .3 9.7 .4-2.8 .3 10.9 .3 1.1 .4-14.6 .3 5.4 .3-2.2 .4 10.8 .3-.9 .3-12.1 .4-18.7 .3 11.1 .3 4.5 .4 7.1 .3 6.6 .3-16.9 .4 .5 .3 11 .3-4.5 .4-2 .3 7 .3-6.7 .4 3.3 .3 23 .3-23.4 .4 6.5 .3-7.7 .3-2.2 .4 .3 .3 37.1 .3-32.1 .4-3 .3-8.4 .3 18.8 .4-9.9 .3 13 .3 17.4 .4-30.5 .3 13.6 .3 .5 .4-18.4 .3 28.4 .3-27.3 .4 11.3 .3-.3 .3-9.4 .4-1.8 .3 13.8 .3-6.7 .4-8.6 .3 2.2 .3 6 .4-5.6 .3 6.2 .3 18 .4-10 .3-16.7 .3 5.4 .4-3.7 .3 21.5 .3-24.1 .4 3.1 .3-1 .3-2 .4 15.6 .3-9.4 .3-.5 .4 2.8 .3-1.7 .3-4.1 .4-3.5 .3 4.4 .3-7.1 .4 7.6 .3-2.4 .3-2.5 .4 .3 .3 3.8 .3 17.4 .4-14.2 .3-3 .3 6.9 .4-5 .3-.2 .3 6.9 .4 8.7 .3-20.7 .3-.8 .4 4.1 .3 1.1 .3 1.2 .4-10.3 .3 8.4 .3 .2 .4 .2 .3 25.4 .3-29.1 .4 16.8 .3 3.3 .3-20.5 .4 3.2 .3 16.9 .3-21.5 .4 6.8 .3-3.8 .3 7.7 .4-12 .3 12.5 .3 12.7 .4-24 .3 8.7 .3 3.7 .4 5.6 .3-6.8 .3-3.1 .4 30.4 .3-30.8 .3 23.4 .4-8.8 .3-15.9 .3 12.8 .4 5.2 .3-22.1 .3 4.7 .4-4.5 .3 15.3 .3-6.4 .4-2.2 .3-2.1 .3-1.6 .4 30.2 .3-39.3 .3 8.7 .4-2.9 .3 12.8 .3 6.7 .4 5.1 .3-24 .3 11.4 .4-10 .3 7.1 .3-10.2 .4 5.4 .3-.9 .3-4.9 .4 17.5 .3-23 .3 23 .4-9.5 .3 16.5 .3-12.6 .4 11.1 .3-17.3 .3-4.9 .4 6.1 .3-1.5 .3-1 .4 .4 .3-2.2 .3 14.6 .4-13.1 .3-7.2 .3 8.9 .4 17.6 .3-16.3 .3-2.9 .4 11.1 .3-8.8 .3 8 .4-12.9 .3 19.1 .3 2.3 .4-21.7 .3 15.8 .3-4.6 .4-17.9 .3 21.7 .3-5 .4 6.3 .3-8.1 .3-3.6 .4-4.3 .3-2.6 .3 7.7 .4-13.8 .3 28.1 .3-17.2 .4 1.3 .3 23.4 .3-30.4 .4 4.2 .3 18.8 .3-7.9 .4-11 .3-1.6 .3 4.8 .4-.1 .3-1.8 .3 22.5 .4-12.1 .3-1.8 .3-8.1 .4-2.9 .3 3.6 .3 1.6 .4-2.3 .3-.7 .3 8.1 .4-2.5 .3-9.2 .3 15.6 .4-15.5 .3 6.1 .3-1.3 .4 5.5 .3-3.6 .3-6.1 .4 .4 .3 9.7 .3 15.9 .4-16 .3-7.2 .3-1.5 .4 20.1 .3-15.3 .3-1.9 .4 10 .3-10.2 .3-1.2 .4 19.2 .3-2.4 .3 11.6 .4-20.5 .3-3.9 .3-13 .4 10 .3-5.5 .3 5.6 .4 7.1 .3 8.5 .3-14.5 .4 10.3 .3-14.4 .3 1.2 .4 4.2 .3 2.5 .3 2.5 .4-9.5 .3 14.7 .3-16.2 .4 6.7 .3 26.3 .3-6.5 .4-23.6 .3 5.4 .3-3.2 .4-4.1 .3 13 .3-10.1 .4 2.2 .3-1.1 .3 9.6 .4-9.7 .3 11.9 .3-13.5 .4 3.1 .3-6.7 .3 6.9 .4 6.6 .3 21.9 .3-29.4 .4 .3 .3 .5 .3 13.2 .4-20.7 .3 2.3 .3 11.8 .4-10.6 .3 1.6 .3 10.9 .4 16.1 .3-28.4 .3 27.4 .4-.1 .3-23.2 .3 30.7 .4-36.9 .3 12.5 .3-2.5 .4 8 .3-7 .3 11.9 .4-14.4 .3 11.9 .3-19.2 .4 11.3 .3 1.9 .3 11.3 .4-13.1 .3-4.6 .3-7.3 .4 1.2 .3 40.7 .3-45.6 .4 6.9 .3-7.6 .3 23.7 .4-4.7 .3 25.5 .3-13.8 .4-15.7 .3 3.4 .3 17.3 .4-23.9 .3-2 .3-14.1 .4 12.3 .3 24.7 .3-23.9 .4-9.7 .3 10.3 .3-5.1 .4 5.2 .3 5.2 .3-13.8 .4 7.9 .3-4.9 .3-4 .4 15.3 .3 8.8 .3-16.4 .4-1.4 .3 1.9 .3-8 .4 9.6 .3 23.3 .3 1 .4-37.4 .3 14.3 .3-2.5 .4 6.8 .3-11.8 .3 1.3 .4 4.8 .3 3.4 .3 4.8 .4 9 .3-15.4 .3 3.5 .4 .2 .3 .1 .3-3.8 .4-3.7 .3 9.5 .3 18.7 .4-29.1 .3-5.6 .3 6.6 .4 1.9 .3-14.4 .3 6.7 .4 16.2 .3 8.4 .3-17.3 .4 12.1 .3-10.8 .3 22.9 .4-7.9 .3-19.5 .3-3.1 .4 21.5 .3-6.3 .3-10.3 .4-3.2 .3-.9 .3 17.8 .4-16.3 .3 16.6 .3-11.9 .4 10.1 .3-2.9 .3 6.3 .4-1 .3-8.1 .3-1.2 .4-.5 .3 7.3 .3-1.3 .4 13.2 .3-9.2 .3-5.6 .4-14.1 .3 10.3 .3 7.3 .4 6.2 .3-22.8 .3 6.9 .4-5.8 .3 7.1 .3-7.4 .4 7.9 .3 20.9 .3-15.2 .4-9.8 .3-12 .3 11.3 .4-1.1 .3 2.6 .3 9.4 .4-1.4 .3-3.8 .3-9.8 .4 23.9 .3-17.2 .3 4.6 .4-9.4 .3 3.8 .3-1.8 .4 7.4 .3-11.9 .3 1.7 .4 11 .3-4.6 .3-1.9 .4-3.3 .3-.9 .3-1.3 .4 2 .3 2.8 .3 0 .4-.2 .3 7.8 .3-7.8 .4-1 .3 19.4 .3-19.9 .4 1.6 .3-25.9 .3 22.1 .4 9.9 .3-4.8 .3 3.9 .4 14.3 .3-14.5 .3-10.7 .4-1.4 .3 .3 .3 2.7 .4 .3 .3-.1 .3 3.3 .4-3.1 .3 9.4 .3-16.1 .4 13 .3-9.8 .3 2.4 .4 10.2 .3-12.1 .3 6.8 .4-1.1 .3 .5 .3 13.4 .4-10.8 .3 17.1 .3-12.2 .4-7.9 .3 .8 .3 16.1 .4-16.2 .3 .9 .3 37.5 .4-38.3 .3 16.3 .3-12.1 .4 9.8 .3-22.8 .3 20.6 .4-14.2 .3 16.7 .3-19 .4 .4 .3 5.7 .3 1.2 .4 5.1 .3 8.7 .3-22 .4 3.3 .3 3.8 .3 1.5 .4-3.7 .3 1.2 .3-7 .4 34 .3-36.8 .3 8.3 .4 16.1 .3-17.2 .3 12.6 .4-15.6 .3 26 .3-26.2 .4 12 .3 8.8 .3-16.1 .4 7.1 .3-11.6 .3 14.7 .4-12.8 .3 34.9 .3-21.1 .4-11.3 .3 5.6 .3 2.1 .4-12 .3 3.8 .3 13.2 .4-7.6 .3 7.5 .3-8.6 .4 10.4 .3-16.6 .3 2.9 .4 3 .3-7.3 .3 3.8 .4 9.7 .3 1.5 .3 3.1 .4 8.1 .3-30.7 .3 22.7 .4-23.4 .3 17.6 .3-10.6 .4 3.4 .3 7.1 .3-11 .4-.4 .3 22.8 .3-17.6 .4 6.5 .3-14.2 .3 9.5 .4 .2 .3-8.3 .3 3.4 .4-9 .3 11.8 .3-6.9 .4-2 .3 7 .3-3.5 .4 8.8 .3-5.6 .3 38.7 .4-38.3 .3-2.7 .3-.8 .4 8.8 .3-7.8 .3 7.6 .4-16.6 .3 19.1 .3-9.6 .4 .1 .3 1.6 .3 1 .4 8.4 .3 17.6 .3-36.8 .4 5.8 .3 13.8 .3-13 .4 17.4 .3-7.1 .3-11.3 .4-2.7 .3 15.5 .3 10.2 .4-18.2 .3 14.4 .3-11.4 .4-13.3 .3 10.7 .3 23.5 .4-9.3 .3-.3 .3-15.5 .4-2.8 .3 18.7 .3-19 .4 10.4 .3 4.3 .3-2.8 .4-3.9 .3-3.3 .3-.7 .4 .6 .3 11.6 .3-3.9 .4-10.9 .3 25.8 .3-16.6 .4-11.9 .3 4.8 .3 13.2 .4 2.9 .3-9.9 .3 14.1 .4-15.7 .3 17.9 .3-27.3 .4 6.7 .3 .4 .3 12 .4-18 .3 1.3 .3 9.7 .4-7.2 .3 1.3 .3-6.7 .4 31.7 .3-.9 .3-25.5 .4-3.4 .3 .1 .3 32.5 .4-37.6 .3 26.7 .3-12 .4-3.8 .3-3.8 .3-.1 .4 12.7 .3-12.7 .3 3.3 .4-4.7 .3 6.2 .3-2.8 .4 .9 .3 0 .3-6.1 .4 1.3 .3 1.9 .3-6.4 .4 3.6 .3 4.6 .3 9.6 .4-9.8 .3 .1 .3-1.8 .4-5.4 .3 2.5 .3 6.8 .4 22.1 .3-41.5 .3 5 .4 6.2 .3 13.4 .3 6.7 .4-14.5 .3-2 .3-.6 .4 10.1 .3-4.3 .3 1.2 .4-8.3 .3 8.5 .3 19 .4-22.6 .3 6.5 .3 7.5 .4-17.4 .3 34.8 .3-35.1 .4 .8 .3 3.5 .3 1.3 .4 5.9 .3-9.2 .3 25.4 .4-15.6 .3-6.8 .3-.3 .4-1.3 .3-.5 .3 17.7 .4-15.3 .3 11.1 .3-17.4 .4-4.4 .3 25.2 .3-24.4 .4 4.5 .3 8.9 .3-.4 .4 7.9 .3-1.5 .3 5.5 .4-23.3 .3 19.9 .3 1.4 .4 15.2 .3-15.2 .3-9.5 .4 5 .3-16 .3 4.3 .4-5.8 .3 4.2 .3 2.7 .4-1.5 .3-10 .3 13.4 .4 14.5 .3-15.7 .3-4.3 .4 18.9 .3-17 .3 18.4 .4-17.5 .3-8.2 .3 14.2 .4 10.1 .3-10.2 .3 12.5 .4-15.3 .3 4.7 .3-8.9 .4-.3 .3-7.3 .3 4.3 .4 1.5 .3-.1 .3 11.3 .4 11.3 .3-11 .3-13.6 .4 11.5 .3-12.4 .3 1.8 .4 8.9 .3-7.9 .3 5.2 .4 4.1 .3-9.3 .3 23.7 .4-23.7 .3 .6 .3 6 .4-14.3 .3 4.2 .3 5.2 .4-2.3 .3 13.2 .3 14.3 .4-32.3 .3 9.3 .3-4.9 .4 19.7 .3-22.2 .3 25.1 .4-9.9 .3-9.1 .3-.1 .4 13.4 .3 1.6 .3-5.5 .4 5.1 .3 5.9 .3-20.1 .4 13.7 .3-6.1 .3-1.5 .4-4.4 .3-11 .3 7.1 .4-1.2 .3 1.7 .3-.7 .4 21.6 .3-23 .3 10.5 .4-6 .3-11.6 .3 42.3 .4-5.7 .3-25 .3-4.9 .4 28.5 .3 1.2 .3-28.3 .4 18.6 .3-10.3 .3-15.7 .4 5.3 .3 7.4 .3 9.7 .4-3.9 .3-12.5 .3 5.2 .4-7.7 .3 2 .3 .4 .4 3 .3 10 .3 .1 .4-14.2 .3 7.1 .3 12 .4 8.3 .3-26.7 .3 3.5 .4 6.9 .3-9 .3 7.8 .4-5.7 .3 1.3 .3-2.1 .4 22.1 .3-24.6 .3 3.2 .4-5.1 .3-.4 .3 5.3 .4 .2 .3 2.6 .3 21.9 .4-27.3 .3 .6 .3-1.2 .4-7.4 .3 5.6 .3 3.6 .4 1.8 .3 16.3 .3 10.4 .4-28.1 .3 5.7 .3-3.6 .4 22.7 .3-28.6 .3 15.9 .4-14.3 .3 12.1 .3-8.1 .4 12.9 .3-9.4 .3 1.2 .4-4.6 .3 8.5 .3 10.8 .4-8.9 .3-14.5 .3 9.8 .4-8.7 .3 4.7 .3-1 .4-9.1 .3 21.2 .3-7.5 .4-5.9 .3-11 .3 21.9 .4 6.5 .3-20.8 .3-8.4 .4 27.3 .3-9.2 .3-7.6 .4 6.2 .3-6.3 .3-7.8 .4 20.4 .3-7.9 .3-6.4 .4-5.8 .3 4 .3 9.5 .4-7.5 .3-12.7 .5 10 .5-4.8 .5 3.7 .5 13.3 .5-14.2 .5-12.6 .5-.5 .5 8 .5-10.8 .5-2.6 .5 1.1 .5-3.2 .5 7.7 .5-2.7 .5 1 .5-6 .5 3.8 .5-7.2 .5-11.7 .5-3.1 .5 3.3 .5-3.1 .5-6.7 .5-7.8 .5 1 .5 11.8 .5-11 .5-13.8 .5-5.2 .5 8.3 .5 2.6 .5 .9 .5-1.9 .5-1.4 .5 3 .5 6.2 .5-5.6 .5-11 .5-4.7 .5 4.8 .5 8.3 .5 .8 .5-4.6 .5-10.5 .5-6 .5-2.9 .5-17.6 .5-11.5 .5 1.5 .5 .9 .5-7.9 .5-7.7 .5-10.3 .5-9.5 .5-9.1 .5-12.2 .5-16.5 .5-12.6 .5-10.1 .2-4.1 .2-6.4 .2-4.8 .2-6.5 .2-9.3 .2-8.5 .2-10.6 .2-12.3 .2-16.4 .2-31 .2-81.8 .1-87.3 .1 87.3 .2 83 .2 31.9 .2 17.4 .2 13.8 .2 4.4 .2 4.4 .2 9.7 .2 8.8 .2 5 .2 5.1 .2 7.1 .2 5.9 .2 5.7 .5 10.9 .5 7.8 .5 9.8 .5 15.8 .5 11.6 .5 12.1 .5 2.7 .5 9.3 .5 2.6 .5-1.3 .5 6 .5 13.5 .5 2.9 .5 1.4 .5 5.8 .5-7 .5-7.2 .5 12.2 .5 13.3 .5 7.8 .5-1.5 .5 .3 .5-3.2 .5-1.2 .5-10 .5-10.9 .5 5 .5 9.2 .5 5 .5 7.3 .5-9.5 .5 1 .5-10.6 .5-5.3 .5 14.7 .5 9.9 .5 3.9 .5 3.8 .5 6.8 .5-5.2 .5 8.4 .5 6.1 .5 5.3 .5 2.7 .5 13.4 .5-6.9 .5 5.8 .5-8.6 .5 9.7 .5 14.4 .5 4.7 .5-8 .5 2.7 .5 2.5 .5-2 .5 4.2 .5 1.1 .5 9 .5 4.6 .3-14.3 .4 .3 .3 1.7 .3 10 .4 .5 .3 3.9 .3-10.2 .4-6.2 .3 4 .3 .3 .4-1.3 .3 1.4 .3-5 .4 5.7 .3 1 .3-3.3 .4 19.2 .3-15.4 .3-1.2 .4 5.8 .3-3.5 .3 3.9 .4-8.2 .3 8.7 .3 .4 .4 14.3 .3-10.4 .3 3.8 .4-12.8 .3 6.2 .3 8.8 .4-13.4 .3-.5 .3 8.2 .4-4 .3 14 .3-17 .4-1 .3 .2 .3 7.2 .4-2.4 .3 15.9 .3-26.4 .4 4 .3-5.3 .3 20.7 .4 9.7 .3-13.5 .3-16.1 .4 9.3 .3-2.2 .3 15 .4-16.9 .3 18.7 .3-3.5 .4-14.2 .3 9.4 .3-10.8 .4 15.7 .3-10.7 .3-1.7 .4-.6 .3-10.6 .3 7.9 .4 11.4 .3-6.5 .3-5 .4 0 .3 7 .3-8.9 .4 9 .3 7.1 .3-10.2 .4-4.2 .3-.2 .3 10.9 .4-6.6 .3 13.8 .3-14.8 .4-2.1 .3 1.9 .3-8.5 .4 16.2 .3-17.7 .3 9.4 .4-12.9 .3 9.7 .3 6.6 .4 6.3 .3-14.7 .3 10 .4 3.7 .3-18.1 .3 11.6 .4 6 .3-10.3 .3 9.7 .4-3 .3 18.8 .3-27.9 .4 14.8 .3-5.3 .3-4.2 .4 7.5 .3-2.5 .3 7.2 .4-11.6 .3 7.1 .3-12.1 .4-1.5 .3 3.2 .3-.4 .4 1.2 .3 1.9 .3-.7 .4-5.8 .3 3.8 .3 4 .4-6.3 .3 9.3 .3 7.8 .4-4.4 .3-12.5 .3 19.3 .4-13.5 .3-6.8 .3 6.3 .4 13.9 .3-14.9 .3 13.3 .4 1.6 .3-13.6 .3-.1 .4-.3 .3 6.7 .3-8.9 .4-6 .3 9.1 .3 6.3 .4 3.7 .3-5.3 .3 3.3 .4-16.7 .3-7.6 .3 9.5 .4 5.4 .3 6.7 .3-2 .4-10.7 .3 22.9 .3-15.6 .4 24.7 .3-8.7 .3-18.6 .4-7 .3 7 .3 14.1 .4-12.9 .3-8.6 .3 3.4 .4 5.2 .3 16.8 .3 .2 .4 .7 .3-15.8 .3-3.5 .4 5.3 .3 5.9 .3-9 .4-3.1 .3 4.1 .3 9.8 .4-14.6 .3 23.5 .3-27.3 .4 25 .3-17.8 .3 38.5 .4-36.7 .3 9.6 .3 5 .4-3.6 .3-13 .3-4.6 .4 13.1 .3-12.6 .3 32.8 .4-5.2 .3-3.4 .3-15.4 .4 7.2 .3-11.3 .3-7.4 .4 16.8 .3-8.4 .3 19.2 .4-19.4 .3 19 .3-3.8 .4-21.8 .3 20.7 .3-15.6 .4 25.3 .3-7.9 .3-22.7 .4-2.7 .3 6.3 .3 3 .4 .2 .3 17 .3-24.1 .4 26.9 .3-26.6 .3-2 .4 27.9 .3-11 .3-15.4 .4 4.6 .3 .7 .3 19.9 .4 2.6 .3-26.3 .3 26.9 .4-25.3 .3 6.1 .3-6.1 .4 4.8 .3 8.6 .3 5.4 .4-22.7 .3 22.7 .3-14.1 .4 4 .3-13.2 .3 7 .4 1.4 .3 4.4 .3 5.5 .4-.1 .3 3.5 .3-13.2 .4 9.2 .3-13.8 .3 9.3 .4-13.6 .3 11.2 .3 6.3 .4-8.9 .3 5.5 .3 3.7 .4-.6 .3 18.5 .3-26.3 .4-2.8 .3 16.3 .3-5.5 .4-17.2 .3 7.9 .3 17.8 .4-10 .3 30.3 .3-47.2 .4-8.8 .3 47.5 .3-32.7 .4 2.7 .3 25.8 .3-30.7 .4 20 .3-13.3 .3-.7 .4 .8 .3 10.2 .3 12.3 .4-23.8 .3 3.4 .3-.7 .4-11 .3 33.4 .3-10.3 .4-6.1 .3-.3 .3-9.6 .4 14.8 .3-2 .3-8.1 .4 20.9 .3-20.8 .3-4.3 .4 10.3 .3-11 .3-15.4 .4 21.6 .3-11.4 .3 18.1 .4-12.6 .3 8.5 .3 0 .4-11.8 .3-1.2 .3 3.7 .4 17.1 .3-15.5 .3 33.5 .4-37.4 .3 .3 .3 22.6 .4-9.2 .3-16.2 .3 35.8 .4-17.3 .3 18.9 .3-34.3 .4 9.6 .3-6.9 .3 .9 .4 9.7 .3-9.6 .3 1.4 .4 .5 .3-.7 .3-5.8 .4 11.1 .3-5.5 .3-9.9 .4 16.9 .3 1.6 .3-5.6 .4-12.3 .3 8.4 .3 21.1 .4-22.7 .3 4.6 .3-6.1 .4 12.6 .3-5.8 .3 22.2 .4-26.7 .3 21.4 .3-8.1 .4-17.2 .3 3.8 .3 9.5 .4-10.3 .3 14.6 .3-6.2 .4-8.2 .3-1 .3-2.7 .4 6.8 .3 4.9 .3 21.7 .4-26.7 .3-.1 .3 6.7 .4 22.7 .3-13.3 .3-4.4 .4-22.8 .3 9.8 .3 0 .4 10.3 .3 7.4 .3-19.5 .4-.3 .3 18.5 .3-11.9 .4 9.4 .3-15.5 .3 6.2 .4-8.6 .3 33.3 .3-31.9 .4 10.4 .3-5.3 .3-5 .4 7.9 .3-7.2 .3 6 .4 14.3 .3-14.3 .3 8.8 .4-7.7 .3 9.2 .3-11.2 .4 18.8 .3-12.2 .3-13.6 .4 13.6 .3 .4 .3 21.4 .4-29.5 .3 6.9 .3 3.7 .4-8.2 .3 9.2 .3-.2 .4 6.6 .3-19.8 .3-10 .4 6.3 .3 .6 .3 11.7 .4-10.9 .3-2.2 .3 6.9 .4 6.8 .3 3.8 .3-15.8 .4 19.6 .3-15.3 .3 5.2 .4-6.4 .3-8.4 .3 26 .4-16.8 .3 14.6 .3-17.8 .4-3.9 .3 7.3 .3 3.7 .4-.7 .3-6.1 .3 9.2 .4-6.4 .3 9.3 .3-12 .4 0 .3 13.3 .3-8.9 .4-5 .3 3.7 .3-.7 .4 10 .3-15.4 .3 21.5 .4-19 .3 13.2 .3-13.6 .4 8.6 .3-5.1 .3 7.1 .4-11.6 .3 2.4 .3-7.4 .4 14.3 .3-13.7 .3 2.7 .4-3.1 .3 3.8 .3 .1 .4 14.7 .3-1.1 .3-7.2 .4 7.5 .3 5.4 .3-1.7 .4-6.3 .3-1.4 .3-6.2 .4 21 .3-15.7 .3-.8 .4 11.8 .3-7.3 .3 1.2 .4-8.9 .3 12.7 .3-16.9 .4 2.7 .3 9 .3-7.3 .4-.8 .3 1.1 .3-5.5 .4 13.3 .3-16.2 .3 7.2 .4-1.6 .3-.2 .3-3.3 .4 25.6 .3-27.7 .3 26.2 .4-26.7 .3 16 .3-9 .4 2.2 .3-2.8 .3 3.1 .4 11.3 .3-11.5 .3-2.3 .4 8.5 .3-10.7 .3 30.1 .4-15.6 .3-17.7 .3 14.7 .4 20.4 .3-7.3 .3 10.6 .4-31.8 .3-7.1 .3 6.7 .4 3.9 .3-9.9 .3 22.9 .4-18.4 .3-5.7 .3-.2 .4 12.8 .3 5.5 .3-3.5 .4-1.9 .3-7.2 .3 20.4 .4-13.5 .3-8.4 .3 1 .4 3.7 .3-2.3 .3-1.3 .4 7.1 .3-12.5 .3 8.1 .4-2.7 .3 2.6 .3 13.4 .4-18.8 .3-1.7 .3 31.3 .4-2.9 .3-18.8 .3-2.3 .4-3.5 .3 1.1 .3-2.7 .4 10.7 .3-11.4 .3 5.8 .4-3.3 .3 9 .3-12.3 .4 2.5 .3 18.9 .3 4.6 .4 6.3 .3-30 .3 5.3 .4 27.3 .3-37.5 .3 8.5 .4 6.5 .3 23.4 .3-30 .4-1.1 .3 1.7 .3-7 .4 1.3 .3 17.4 .3 7.1 .4-20.5 .3-6.8 .3 19.4 .4-2.2 .3-12.2 .3 4.3 .4-2.9 .3-.6 .3-1.8 .4 20.9 .3-6.1 .3-19.9 .4-.7 .3 45.9 .3-32.4 .4-4.6 .3 5.5 .3-3.9 .4-5.8 .3 6.4 .3 11.6 .4-11.7 .3 10.6 .3-2.6 .4-12.5 .3 3.3 .3 6.7 .4-2.4 .3-11.8 .3 7.3 .4 6.6 .3-6.2 .3-8.4 .4 3.4 .3 5.8 .3 9.5 .4 5.3 .3-7.5 .3 26.3 .4-28.2 .3 9 .3-14.7 .4-4.4 .3 11.9 .3-1.6 .4-11 .3 16 .3-1.3 .4-11.3 .3 2.2 .3 7.6 .4-7.6 .3 14.1 .3 0 .4-21.4 .3-1 .3 6.1 .4-3.1 .3 1.4 .3 4.9 .4 13.9 .3-17.2 .3 3.9 .4 5.7 .3 16.4 .3-9.3 .4-17.3 .3 1.6 .3-2.6 .4 2.6 .3 10.2 .3-15.5 .4 29.7 .3-24.8 .3-1.2 .4 6.9 .3-2 .3 3.3 .4-19.3 .3 27.9 .3-14.9 .4 17.6 .3-18.4 .3 10 .4 8.7 .3-11.7 .3-5.7 .4-5.9 .3-.8 .3 3.9 .4 15.2 .3-1.4 .3-10.9 .4 2.8 .3-7.8 .3 15.7 .4-2.4 .3-9.4 .3 15.2 .4-4.2 .3-13.9 .3 21.6 .4-1.1 .3-1 .3-5.4 .4-16.7 .3 .7 .3 2.3 .4 8.1 .3-1 .3-6.9 .4-.7 .3 2.4 .3 1.6 .4 15.5 .3-8.6 .3-1.4 .4-9.6 .3 3.8 .3 2.9 .4-15.5 .3 11.9 .3-3.4 .4 30.5 .3-26.1 .3 6.7 .4 8.9 .3-19.7 .3 24.2 .4-23.9 .3 .2 .3 7.7 .4-4.7 .3 13.3 .3 .2 .4-16.4 .3 3.9 .3 .3 .4-10.9 .3 12.8 .3-2.3 .4 6.8 .3-7.4 .3 11.9 .4-12.1 .3-.6 .3 15.8 .4-15.6 .3 .8 .3-2.3 .4 2.1 .3-4.7 .3 30.1 .4-14.6 .3 1.1 .3-13 .4 13.4 .3-10.2 .3-14 .4 7.7 .3-.5 .3 5.5 .4 .4 .3-1.5 .3 27.9 .4-21.4 .3-6.4 .3-8.5 .4 25 .3-11.9 .3-4.6 .4-.1 .3 2.5 .3-1.4 .4 3.4 .3-6.1 .3-9.6 .4 8.9 .3 23.4 .3-29.6 .4 6.4 .3 3 .3-5.7 .4 7.1 .3-1.2 .3 1.4 .4 14.2 .3-4 .3-13.5 .4 1.5 .3-5.2 .3 18.1 .4-17.3 .3 16.7 .3-12.7 .4 .9 .3 5.5 .3-2.2 .4-6 .3 17.6 .3-1.2 .4-15.7 .3 12.3 .3 5.8 .4-7.4 .3 2.5 .3-8 .4-8.3 .3 3 .3 .8 .4 .8 .3 1.6 .3-7.1 .4 13.3 .3 11.5 .3-16.6 .4-3.8 .3 20.2 .3-19.8 .4-2.9 .3 .4 .3 26.5 .4-9.1 .3 6.6 .3-17.7 .4 12.9 .3-22.2 .3 22.3 .4 7.8" fill="none" stroke="#5ec962" stroke-width="2.8" stroke-linejoin="round" stroke-linecap="square" clip-path="url(#cb)"/>
<path d="M1169.5 588.7l.3-10.3 .4 5.6 .3 1.9 .3 2.6 .4-14.2 .3 7.6 .3 7.3 .4-12.5 .3 .1 .3 7.7 .4-12.8 .3 5.2 .3 14.8 .4-15.4 .3 9.6 .3 5 .4-.9 .3 2.5 .3-1.5 .4-.2 .3-1.4 .3-6.3 .4 8.1 .3-9.4 .3 1.3 .4-9.9 .3 5.6 .3 17.3 .4-16.6 .3 16.5 .3-15.3 .4-3.9 .3 7.9 .3-7.4 .4-9.1 .3 16.5 .3-7.4 .4-4.1 .3 3.8 .3 17 .4-9.5 .3 12.7 .3 8.5 .4-5.9 .3-24.8 .3 20.8 .4-26.2 .3 19.1 .3-5.6 .4 .5 .3-13.5 .3 1.8 .4 3.2 .3 7.7 .3 .7 .4 6.9 .3 7.9 .3-16 .4-4.3 .3 3.8 .3-6.6 .4 23.6 .3 17.5 .3-35.5 .4-5.9 .3 12.9 .3-5.4 .4-13.8 .3 6.9 .3-5.4 .4 6 .3 11.4 .3-14.3 .4 8 .3-3.8 .3 5.4 .4 5 .3-5.2 .3 27.3 .4-33.9 .3 .1 .3 1.2 .4 9.5 .3-9.3 .3 4.3 .4-6 .3 7 .3-7.1 .4 17.6 .3-24 .3 16.9 .4 4.7 .3-19.6 .3 5.5 .4 7.4 .3 1.7 .3-.9 .4 12.3 .3-14.7 .3-8.9 .4 20.5 .3-7.6 .3-10.6 .4-7.9 .3 26.6 .3-12.8 .4 15.3 .3-19.4 .3 9.2 .4-10.1 .3-1.3 .3 1.5 .4-1.3 .3 10 .3 2.6 .4-1.6 .3 8.2 .3-20.7 .4 7.8 .3-5.2 .3 15.1 .4-18.1 .3 4 .3 4.4 .4 13.6 .3-5.2 .3-27.3 .4 22.2 .3 23 .3-14.3 .4-4.6 .3-14.4 .3-1.3 .4 11.8 .3-10.2 .3 7.2 .4-8.6 .3 1.5 .3 13.6 .4-1.2 .3-18.6 .3 26.7 .4-30 .3 21.2 .3-1.8 .4-4.7 .3 14.6 .3-13.1 .4 29 .3-33.5 .3-5.8 .4 6.6 .3 4.6 .3-17.9 .4 15.4 .3-8.9 .3 5.5 .4 17.8 .3-29.2 .3 28.1 .4-2.5 .3-19 .3 9.5 .4 12.3 .3-18.9 .3 2.9 .4-7.3 .3 18.4 .3 7.1 .4-3.1 .3-11.5 .3-1.3 .4 11.8 .3-2.2 .3-11.2 .4 22.8 .3-27.4 .3 1.9 .4-1.4 .3 6.9 .3 3.9 .4-18.9 .3 22.4 .3-10.6 .4 3.2 .3 8.2 .3-13.1 .4 2.8 .3 5.7 .3-18.5 .4 2.9 .3 19.1 .3 10.5 .4 8.7 .3-22 .3 15.2 .4-25.1 .3-.7 .3-5.4 .4 3 .3 3.7 .3 6.2 .4-2.4 .3-6 .3 3 .4 2.1 .3-4 .3 5.4 .4 1.4 .3 27.7 .3-33.7 .4 .7 .3-.3 .3 1.6 .4-7 .3 19.7 .3-9.1 .4 .3 .3 14.4 .3-27.5 .4 8.7 .3-5.2 .3 13.1 .4-13.3 .3 10.6 .3-18.6 .4 5.9 .3 41 .3-26.5 .4-6.9 .3 2.2 .3-10 .4 5.4 .3 11.2 .3-10.6 .4-2.8 .3 12.1 .3-12.2 .4 5.5 .3-4.5 .3 8 .4-7.6 .3 2 .3 7.2 .4-2.8 .3-14.9 .3 8 .4 1.1 .3 4.2 .3 3.1 .4 7.6 .3-15.4 .3 7.8 .4 22.4 .3-25.7 .3 0 .4 3.6 .3 13.1 .3-16.7 .4 12.8 .3-17.2 .3-6.7 .4 39.8 .3-23.2 .3-4.9 .4-5.4 .3-.8 .3 3.5 .4-3.5 .3 4 .3 21.9 .4-12.3 .3 3.5 .3-20.9 .4 13.5 .3-5.6 .3 6.3 .4 10.5 .3 11.7 .3-33.7 .4-1 .3 12.9 .3 9.2 .4-24.9 .3 23.2 .3-13.7 .4 21.4 .3-29.7 .3 7.4 .4 .8 .3-5.5 .3 3.2 .4 12.1 .3 20.5 .3-17.6 .4-17.7 .3 26.7 .3-28.6 .4 3.6 .3 14.7 .3 1.1 .4-15.5 .3 19.9 .3-17 .4-6.9 .3 4.2 .3 .4 .4 8.3 .3 32 .3-31.9 .4-16 .3 8.5 .3 6.7 .4-5.6 .3 27.9 .3-29.6 .4 2.2 .3 17.6 .3-17.5 .4 10 .3-2.8 .3 3.6 .4-5 .3 10.8 .3 4.2 .4 9.1 .3-32.5 .3 10.4 .4-8.6 .3-3.8 .3-1.4 .4 12.3 .3-12.8 .3 10.2 .4-8.5 .3 19.8 .3-12.5 .4-4.2 .3 9.6 .3-9.7 .4 10.4 .3-15.1 .3-3.1 .4 9.1 .3 22.7 .3-25.3 .4 15.3 .3-1.7 .3-18.5 .4 22.3 .3-27.6 .3 22.7 .4-13 .3 30.2 .3-8.2 .4-24 .3 18.1 .3 9.4 .4-18.2 .3 19.2 .3-14.8 .4-11.9 .3-1.2 .3 19.8 .4-15.3 .3-1.9 .3 16.5 .4-13.3 .3-2 .3-1.2 .4 15.1 .3 3.2 .3-30 .4 30.5 .3-12.3 .3-15.4 .4 26.4 .3-4 .3-6.4 .4-14.9 .3 22.6 .3-13.7 .4-4.5 .3 10.4 .3-12.2 .4 8.7 .3 5.2 .3-6.8 .4-4.2 .3 5.8 .3-4.8 .4-4.8 .3-.8 .3 9 .4-4.5 .3 18.7 .3-9.5 .4-1.6 .3 10.2 .3-13.1 .4 23.4 .3-4.1 .3-19.8 .4 .7 .3 5.6 .3-1.4 .4-9.6 .3 8.5 .3-5.2 .4 3.7 .3-3 .3-1.6 .4 .8 .3 18.5 .3-17.3 .4 7.1 .3-7.1 .3 9.1 .4 14.3 .3-23.9 .3-3.1 .4 8.4 .3 1.6 .3-6.9 .4 6.1 .3-4.5 .3 20.2 .4-21.5 .3 15.8 .3-9.1 .4 32 .3-40.3 .3 .8 .4-5.1 .3 14.8 .3-8.5 .4 8.3 .3-4.7 .3-6.8 .4 2.3 .3 3.4 .3 13.1 .4-15.9 .3 11.5 .3-1.7 .4-3.2 .3-4.5 .3-10.2 .4 13.3 .3-11.2 .3 6.4 .4-7.6 .3 13.1 .3-7.7 .4-3.7 .3 6.2 .3-.1 .4 1.6 .3-.4 .3-2.1 .4 .5 .3-3.7 .3 1.9 .4 1.8 .3 10.1 .3-3.8 .4 8.7 .3-23.5 .3 12.6 .4-4.1 .3 1 .3 16.7 .4-15.9 .3 11.8 .3-18.4 .4 27.8 .3-17.3 .3 1.9 .4-10.8 .3 2.3 .3-5 .4-.2 .3 5.5 .3 14.8 .4-21.5 .3 1.7 .3-.7 .4 10.7 .3-6.6 .3 2.2 .4 14.6 .3-19.6 .3 8.9 .4 15.8 .3-2.5 .3-17 .4 15.1 .3-1.6 .3 18 .4 1.2 .3-41.4 .3 7.5 .4 5 .3-7.4 .3 1.6 .4-2.3 .3 2.3 .3 .3 .4 5.4 .3 19.9 .3-21.9 .4 22 .3-28.2 .3 2.1 .4 31.9 .3-29.6 .3 .8 .4 18.8 .3-29.2 .3 9.7 .4 15.1 .3 3.4 .3-9.5 .4-10.6 .3-.1 .3 1.5 .4-1.2 .3-4.3 .3 13 .4-6.8 .3-3.9 .3 9.7 .4 12.6 .3-21.6 .3-.5 .4 15.5 .3-15.3 .3-6 .4 8.1 .3 .5 .3 4.7 .4-9.8 .3 3.6 .3-.8 .4 18.8 .3-2.7 .3-6.3 .4 5.5 .3 .4 .3-20.1 .4 9.9 .3 1.3 .3-1 .4-11 .3 5.8 .3 .7 .4 25.6 .3-22.1 .3-7.5 .4 21.8 .3-.5 .3-18.3 .4 16 .3-5.4 .3-5.9 .4 11.2 .3-16.9 .3-3.5 .4 .5 .3 6.7 .3-4.7 .4 .5 .3 15.7 .3-13.2 .4 19.5 .3-7.1 .3-16 .4 5.1 .3 7.9 .3-13.9 .4 31.9 .3-25.7 .3 14.9 .4-8.6 .3 6.9 .3-18.6 .4 22.1 .3-13.1 .3 20.7 .4-27.4 .3 4.7 .3-3.4 .4 11.7 .3-3.1 .3-2.2 .4-5.7 .3-.9 .3 9.2 .4-7 .3 10.6 .3-8.5 .4-5.3 .3 1.9 .3-1 .4-4.9 .3 7.9 .3 8.9 .4-4.2 .3-.1 .3-8.5 .4 12.9 .3-7 .3 15 .4-8.7 .3-10.2 .3-4.4 .4 7.2 .3 9.5 .3-13.8 .4 22.4 .3-13.1 .3-9.8 .4 3.8 .3 5.3 .3-15 .4 6.7 .3 3.3 .3-1.8 .4 1 .3 1.5 .3 18.5 .4-7.9 .3-20.6 .3 5.3 .4 2.1 .3-5.5 .3 2 .4 17.7 .3-16.7 .3 19.6 .4-3.7 .3-18.1 .3 20.4 .4 3 .3-4.5 .3-19.4 .4-.1 .3 11.3 .3 1.7 .4-10.6 .3 9.5 .3-7.7 .4 17.8 .3-7.3 .3-9.9 .4 5.1 .3 3.6 .3-7.7 .4-2 .3 40 .3-37.9 .4 4.6 .3-6.6 .3-7 .4 37.3 .3-33.1 .3 10.8 .4-12.6 .3 8.4 .3 6.6 .4 5.5 .3-2.8 .3 2.5 .4-14.7 .3-1.5 .3 7 .4-8.5 .3 14.4 .3 4.9 .4 14.6 .3-33.2 .3 5.7 .4-11.5 .3 8.4 .3-.5 .4-.5 .3 9.6 .3-9.8 .4-.8 .3-.1 .3 .5 .4 9.1 .3-9.9 .3 .5 .4 2.4 .3 15.8 .3-5.7 .4-12.2 .3 1.2 .3-2.3 .4 12.5 .3-8.5 .3 13.8 .4-15 .3 16.7 .3-17.2 .4-4 .3 12.4 .3-4.6 .4-8.9 .3 3.9 .3-6.6 .4 7 .3-4.4 .3 25.9 .4-23.4 .3 29.8 .3-33.8 .4 17.2 .3-11.6 .3-6 .4 20.3 .3-19.8 .3 11.9 .4-4.3 .3 20.5 .3-7 .4-14 .3-3.7 .3-7.4 .4 12.4 .3 .3 .3 22.1 .4-2.2 .3-24.4 .3 35.6 .4-11.4 .3-11.3 .3 4.5 .4 6.1 .3-28.2 .3 27.1 .4 .4 .3-4.3 .3-18.9 .4 4 .3-.1 .3 18.2 .4-7.1 .3-19.2 .3 23.2 .4-18.6 .3 13.6 .3-10.1 .4-6.5 .3 21.3 .3-8.9 .4-13 .3 25.3 .3-17.1 .4-8.2 .3 8.2 .3-3 .4 23.9 .3-8.8 .3-14.8 .4 15.8 .3 2.4 .3-2.1 .4-16 .3 10.2 .3 14.2 .4 4.5 .3 4.1 .3-33.9 .4 7.9 .3-5.4 .3 5.2 .4 2.2 .3-4.9 .3-9.8 .4 0 .3 4.4 .3 28.6 .4-11.1 .3 15.8 .3-31.4 .4-2 .3 24.3 .3 .2 .4-12.4 .3-21.9 .3 12.6 .4 19.7 .3-18.4 .3-6.6 .4 2.1 .3 19.2 .3-15.1 .4 4.6 .3-11.6 .3 5.3 .4 15.8 .3-18 .3 16.8 .4-16.5 .3 11.7 .3 24.9 .4-34.5 .3-.8 .3 21.4 .4-29.8 .3-4.3 .3 14.3 .4-2.3 .3-3.2 .3 1.2 .4 16.5 .3-10.5 .3-4.6 .4 3.4 .3-8 .3 6.4 .4 22.5 .3-23.4 .3-.6 .4 1.5 .3-4 .3 37.6 .4-37.2 .3 6.2 .3-1.9 .4 5.7 .3-7 .3-2.4 .4 13.1 .3-14.9 .3-9.8 .4 32.3 .3-19.5 .3 16.4 .4-7.1 .3-3.9 .3 1.8 .4 14.1 .3-13 .3-4.8 .4 10.2 .3-19 .3 5.4 .4 8.1 .3-17.6 .3 10.3 .4 1.6 .3-.1 .3 .4 .4-2 .3 3.5 .3 1.1 .4 6.1 .3-12.9 .3 .6 .4 21 .3 3.9 .3-31.1 .4 16.2 .3-8 .3 2 .4 20.2 .3-22.3 .3-1.9 .4 9.1 .3-6.7 .3 13.6 .4 13.9 .3-21.2 .3 3.8 .4-8.9 .3 1.6 .3-3.8 .4-3.7 .3 2.4 .3 12 .4-9.3 .3 24.5 .3-26.3 .4 3 .3-8.7 .3 7.3 .4 3.6 .3-5 .3 4.3 .4-4.2 .3 6.7 .3 .5 .4-7.8 .3 8.3 .3-11.7 .4 5 .3 10.8 .3-9.7 .4 10.2 .3-4.1 .3-5.3 .4-2.3 .3 1.1 .3 4.9 .4 23.8 .3-18.1 .3-12.9 .4 34.2 .3-32.7 .3 8.4 .4-4.1 .3-11.7 .3 1.7 .4 20.1 .3-13.1 .3-13 .4 43.5 .3-22.1 .3-11.2 .4 3.3 .3 7.9 .3-13.9 .4 5.2 .3 11.1 .3 12 .4-29 .3 1 .3 9 .4 20.3 .3-31.9 .3 8.2 .4 6.4 .3 7.7 .3 1.7 .4-23.6 .3 5.8 .3 9.8 .4 15.9 .3-16.2 .3 8.9 .4-18.4 .3 6.6 .3-5.5 .4 29.8 .3-30.7 .3 2.7 .4 7.2 .3-9 .3-1.5 .4 .8 .3-2.3 .3 16.1 .4-11.6 .3-8.6 .3 39 .4-18 .3-12.8 .3 8.1 .4-10.7 .3 13.1 .3-12.2 .4 .5 .3 3.6 .3-2.6 .4 6 .3 31.3 .3-22.6 .4-5.1 .3 16.5 .3-21.8 .4-13.4 .3 5.5 .3 8 .4-2.6 .3 6.5 .3-1.9 .4-15.3 .3 5.7 .3-.8 .4 3.7 .3-2.3 .3-9.1 .4-2.7 .3 15.9 .3 4.5 .4 13 .3-23.2 .3 14.1 .4-12.7 .3-2 .3-2.5 .4 12.3 .3-.3 .3-3.6 .4-6.1 .3 2.3 .3 9.1 .4-11.8 .3 10.6 .3-7.5 .4 7.9 .3 14.7 .3 7.2 .4-26 .3-2.2 .3 2.8 .4 .6 .3 12.7 .3-20.6 .4 5.4 .3-.8 .3 1.9 .4-1.1 .3-7.7 .3 5.7 .4 7.4 .3-7.2 .3 17.4 .4-16.3 .3 4.3 .3-4.2 .4 6.5 .3-9.3 .3 11.9 .4-10.3 .3-.8 .3 2.2 .4 12.3 .3 .8 .3-16.5 .4 .8 .3 .7 .3-1.8 .4 5.8 .3 8.5 .3-12.4 .4 .2 .3-3.6 .3 6.1 .4 13.1 .3-14.7 .3-.6 .4-1.5 .3 20.5 .3-4.9 .4-14 .3 5.1 .3-8 .4-2.4 .3 17.9 .3-12.3 .4 8.8 .3-9.4 .3 20.9 .4-19.6 .3 15.4 .3-17.9 .4 10.2 .3 8.8 .3-13.3 .4-12.9 .3 8.3 .3-2.8 .4 6.8 .3-9.9 .3 8.1 .4-8.5 .3 6.3 .3 7.6 .4 10.6 .3 11 .3-26.4 .4 22.2 .3-26.6 .3 26.3 .4-24.2 .3 4.2 .3-11.9 .4 8.4 .3-5.2 .3 .8 .4 .6 .3 4.2 .3-2.2 .4-4.7 .3 17.9 .3 9.4 .4-24.8 .3 4.2 .3 10.4 .4-12.2 .3 19 .3-6.3 .4-21.9 .3 6.6 .3 23.5 .4-23.3 .3 .8 .3 3.4 .4 1.2 .3-1.2 .3-3.7 .4-2.1 .3 4.8 .3-2.6 .4 1.9 .3 16.4 .3-18.1 .4 16.9 .3-17.2 .3-3.5 .4 3.3 .3 2.2 .3 6.1 .4 8.4 .3-13.5 .3-.2 .4 4.7 .3-10.7 .3 7.6 .4-5.7 .3 2.9 .3-1.2 .4 32.9 .3-30.4 .3 9.8 .4 4.2 .3 28.6 .3-38.3 .4-2.3 .3 .2 .3-5.5 .4 3.4 .3 12.8 .3 .3 .4-18.9 .3 .9 .3 12.2 .4-5.8 .3 11.8 .3-22.6 .4 7.9 .3 21 .3-24.4 .4 .2 .3 1.3 .3 11.8 .4-4 .3-8.7 .3 3.9 .4 20.4 .3-21.5 .3 .6 .4 3.1 .3 15.6 .3-12.5 .4-3.2 .3 14.9 .3-20 .4 .6 .3-5 .3 43.2 .4-42.4 .3 6.3 .3-10.2 .4 7.9 .3 13.6 .3-13.2 .4 15.9 .3-19.9 .3-2.9 .4 6.7 .3 17.2 .3 .6 .4-.1 .3-21.9 .3 2.4 .4 7.5 .3-5.4 .3-2.3 .4 2.7 .3-4.2 .3 .1 .4 17.3 .3 1 .3-14.7 .4-5.4 .3-.9 .3 18.2 .4-3.1 .3 5.7 .3-15.9 .4-2.6 .3 18.7 .3-14.5 .4 25.2 .3-19.3 .3-5.5 .4-6.6 .3 17.6 .3 18.5 .4-29.5 .3 15.9 .3-6.9 .4-9 .3-2.2 .3 23.4 .4-34.1 .3 20 .3 4.4 .4-20.8 .3 7.9 .3-.3 .4-2.5 .3 7.3 .3-3.7 .4 23.2 .3-30.4 .3 13.5 .4-2.7 .3-8.8 .3 22.6 .4-19.7 .3 9.8 .3 2.7 .4-11.5 .3-6.3 .3 11.6 .4-1.5 .3 3.6 .3-12.2 .4 .3 .3-2.3 .3 11.5 .5-8.7 .5-8.2 .5 6.4 .5 3.8 .5-4.6 .5 1.2 .5 14.3 .5-21.8 .5 .7 .5-6.7 .5 4.2 .5-4.2 .5-.5 .5 8 .5-16.1 .5-7.5 .5 9.5 .5-8 .5 1.4 .5-.9 .5-4.9 .5-3.4 .5 4.9 .5-8.1 .5-8.7 .5-12.5 .5-3.1 .5-.1 .5 7.6 .5 2.2 .5-15.3 .5-5.5 .5 1.6 .5 12.8 .5 4.2 .5 4.2 .5-15.3 .5-3.4 .5 6 .5 .8 .5 2 .5-6.8 .5-7.2 .5 3.6 .5-1 .5-8 .5-1.9 .5-5.6 .5-3.9 .5-13.3 .5-8.9 .5-10.1 .5-9.8 .5-10.6 .5-11.7 .5-11.2 .5-10.9 .5-11.5 .5-14.6 .2-5.3 .2-8.2 .2-8.7 .2-7.9 .2-5.4 .2-7.1 .2-9.7 .2-12.7 .2-18.5 .2-35.6 .2-101.5 .1-58.3 .1 107.8 .2 65.9 .2 27.9 .2 17 .2 10.4 .2 7.9 .2 11.9 .2 7.1 .2 1.5 .2 .7 .2 6.5 .2 10.1 .2 8.4 .5 14.7 .5 12 .5 13 .5 11.4 .5 8.5 .5 6.9 .5 7.9 .5 4 .5 8.4 .5 11.3 .5 2.6 .5 7.1 .5-1.7 .5 2.7 .5 3.9 .5 7.7 .5-8.7 .5-4.8 .5 .7 .5 0 .5-8.7 .5 1.7 .5 11 .5 18.7 .5 3.6 .5-17.2 .5-9 .5 12.7 .5 8.3 .5 1 .5 1.7 .5 4 .5 4.9 .5 5 .5-5.2 .5 5.6 .5 .5 .5-1.5 .5 5.7 .5 .1 .5 15 .5-.2 .5-2.5 .5-9.1 .5 14 .5 15.6 .5-.9 .5 .6 .5 1.2 .5 0 .5 4.7 .5 12.6 .5-17.8 .5 35.1 .5-31.8 .5 19.2 .5-8.1 .5 2.1 .5 8.3 .4-16.7 .3 4.7 .3 .4 .4 2.8 .3-1.4 .3 9.3 .4 19.2 .3-20.8 .3-2.1 .4 24.5 .3-14.6 .3-9.4 .4 3.6 .3 11.8 .3-14.3 .4 28.8 .3-19.2 .3-4.7 .4-2.2 .3-10.4 .3 4.7 .4 3.7 .3-2.8 .3 2.9 .4-3.2 .3 0 .3-.9 .4 15.9 .3-1.8 .3 4.2 .4-15.4 .3 31.2 .3-29.8 .4 .2 .3 5.5 .3 4.1 .4-3.9 .3-5.3 .3 19.2 .4-21 .3-17.5 .3 28.3 .4-6.7 .3-5.3 .3 18.6 .4-2.2 .3-15.4 .3 9.8 .4-14.6 .3 16.8 .3-10.9 .4 1 .3 6.7 .3 2.5 .4 19.9 .3-22.1 .3 8.5 .4-4.7 .3-8.6 .3-9.2 .4 14.5 .3-10.6 .3 1.9 .4 3.4 .3-3.2 .3-.3 .4 1.9 .3 .1 .3-3.6 .4 3.8 .3 10.6 .3-11.9 .4 1.6 .3-10.6 .3 9.1 .4 2.5 .3-9.8 .3 5.7 .4 11.7 .3-11.8 .3-4.7 .4 12.4 .3 21.8 .3-29.5 .4 1.1 .3 3 .3-.9 .4 12.6 .3-14.5 .3 1.5 .4-1.5 .3 2.6 .3-4.8 .4 24.5 .3-19 .3 11.7 .4-14.3 .3 5.7 .3-6.9 .4 3.5 .3 3 .3 15.7 .4-7.6 .3-14.3 .3 20 .4-11.7 .3-6.6 .3 11.6 .4-10.6 .3-3 .3 16.1 .4-14.2 .3-2.4 .3 2.1 .4-4.2 .3 28.2 .3-5.7 .4-23.4 .3 16.4 .3-16.6 .4 13.1 .3 30.6 .3-45.8 .4 8.7 .3-5.6 .3 16.4 .4 6.2 .3-25.9 .3 26.6 .4-20.3 .3 10.8 .3-11 .4 19.9 .3-18.2 .3-4.4 .4 9.3 .3 1.8 .3 .8 .4 21 .3-26.3 .3-1.9 .4 0 .3 3 .3-6.6 .4 17.6 .3-12.4 .3 3.7 .4-11.5 .3 5.4 .3 11.7 .4-1.1 .3-7.5 .3-11.4 .4 35.1 .3-28.6 .3 2.1 .4 .6 .3 1.1 .3 15.5 .4-2.2 .3-10.9 .3-6.8 .4 11.8 .3 9.2 .3-3.8 .4-15.2 .3 8.8 .3 6.5 .4-7.1 .3 25.6 .3-21.9 .4 1.6 .3-16.7 .3 6.8 .4 11.8 .3 5.5 .3-11.6 .4-14.7 .3 5.3 .3 14.3 .4 1.7 .3 1.2 .3 10.5 .4-26.4 .3 19.2 .3-20.7 .4 3.8 .3 26.5 .3-16.6 .4-10.7 .3-2.9 .3-1.6 .4 21.4 .3-19.9 .3 1.2 .4 1.2 .3 6.5 .3 2.4 .4 40.7 .3-52.3 .3-2.4 .4 30.1 .3-4.3 .3-16.3 .4 9.1 .3-14 .3 10.3 .4 17.1 .3 11.8 .3-37.5 .4 3.4 .3-8.7 .3 5.4 .4-1.3 .3 0 .3-5.1 .4 36.6 .3-14 .3-14.4 .4 1.6 .3-3.6 .3 8.2 .4-11.7 .3-10 .3 11.3 .4 1.1 .3-2.1 .3 14.3 .4 4.2 .3 7.8 .3-27.6 .4 6.1 .3-6.2 .3 9.8 .4-5.4 .3 5.6 .3-9.9 .4 9.8 .3-5.9 .3-1.9 .4-1.2 .3 3.2 .3-1.7 .4 2.3 .3-.7 .3 13.5 .4-16.6 .3 4.8 .3 14.4 .4-8.2 .3 9 .3-2 .4-23.4 .3 15 .3-9.6 .4 .6 .3 7.7 .3 13.2 .4 3 .3-12.3 .3-2.2 .4 3.5 .3-14.9 .3 9 .4 12.3 .3-20.2 .3-5.9 .4 30.1 .3-19.3 .3 21.4 .4-21.5 .3 2.3 .3-5.2 .4 1.8 .3 15.7 .3-24.1 .4 22.7 .3-22.4 .3 7.1 .4 15.2 .3 12.4 .3-33 .4 12 .3-12.7 .3 20.2 .4-14.3 .3 26.6 .3-24.4 .4 16.4 .3-8.8 .3-1.1 .4-11.6 .3 5 .3 10.5 .4-10.9 .3-2.7 .3 4.7 .4 13 .3-15.9 .3-3.8 .4 1.8 .3 2.3 .3 2.6 .4 15.1 .3-14.4 .3 21.3 .4-20.3 .3-2.1 .3-3.6 .4-6.3 .3 15.7 .3 15.9 .4-23.8 .3 24.3 .3-18.3 .4-7.1 .3-3.7 .3 4 .4 5.8 .3-5.8 .3 19.7 .4-9.8 .3-12.3 .3 2.7 .4-2 .3 10.7 .3-4 .4-5.6 .3 5.8 .3 9.6 .4-8.9 .3-3.1 .3 11 .4 7.4 .3-20.9 .3 11.6 .4-13.4 .3 23.9 .3-20.4 .4 2.6 .3 13.2 .3 2.4 .4 1.8 .3-31.6 .3 23.2 .4-8.8 .3 7.3 .3-7.5 .4-5.6 .3 1.9 .3 20.8 .4-14.3 .3-9.8 .3 1.4 .4-9.4 .3 2.6 .3 5.9 .4-.3 .3 3.1 .3 25.8 .4-30.1 .3-.8 .3 7 .4-5.7 .3 3.4 .3 8.6 .4-2.3 .3-4.9 .3 .9 .4-3.1 .3 3 .3 2.2 .4-3.4 .3 6.9 .3 4.2 .4 3.7 .3-15.3 .3 17.9 .4-3.6 .3-14.4 .3 2.3 .4-2.1 .3 .5 .3 7 .4-17.3 .3 8.4 .3-.6 .4 1.1 .3 17.4 .3-20.8 .4 0 .3 1 .3 12.5 .4-12.4 .3 2.2 .3 12.8 .4 4.5 .3 5.3 .3-13.3 .4-7.1 .3-4.1 .3 26.5 .4-21.6 .3 4 .3 4.6 .4-13.6 .3 14.3 .3-17.3 .4-.2 .3 8.7 .3 4.3 .4 10.7 .3-6.3 .3-14.1 .4 .9 .3-1.2 .3 11.1 .4-10 .3-3.9 .3 .7 .4 9.7 .3 1.2 .3-8.9 .4 29.6 .3-30 .3-.3 .4 2.7 .3 1.7 .3-7.2 .4 10.6 .3-10.5 .3 3 .4 .8 .3-10.4 .3 13.3 .4-3.1 .3 9.2 .3-9.6 .4-3 .3 5.7 .3 7.5 .4-3.5 .3 14 .3-20.1 .4 11.5 .3-10.1 .3 .1 .4 13.8 .3-11.8 .3-10.6 .4 14.2 .3-4.2 .3-1.3 .4 19.4 .3-17.2 .3 25.4 .4-26 .3 14.9 .3-15.4 .4 8.4 .3-6 .3-1.6 .4-5.5 .3 .9 .3 13.1 .4-15.6 .3 14.6 .3 15.8 .4 7.2 .3-31.6 .3 23.2 .4 6.6 .3-17.5 .3-19 .4 12.1 .3 .4 .3-9.3 .4 .2 .3-3.5 .3 36.4 .4 9.3 .3-24.7 .3-9.3 .4 2.8 .3 19.2 .3-20.7 .4-8.2 .3 2.7 .3-4.5 .4 9.7 .3 13.3 .3-5.3 .4 1 .3-2.4 .3-3.4 .4-11.8 .3 3.7 .3 17.3 .4 12.2 .3-27 .3 11.3 .4 9.1 .3-25 .3 12.4 .4 11.1 .3-16.7 .3-6.1 .4 26 .3-32.7 .3 7.6 .4 .4 .3 15.6 .3-8.9 .4-7.8 .3 9.9 .3 19 .4-29.3 .3-5.8 .3 9.9 .4 17.9 .3-23.5 .3 26.4 .4-2.3 .3-23 .3-.2 .4-2 .3 15.2 .3-21.3 .4 22.4 .3-5.9 .3-10.5 .4 4.5 .3-1.5 .3 9.6 .4-15.9 .3 3.2 .3 42.3 .4-25.6 .3-16.7 .3 14.1 .4 4.2 .3-13.1 .3 1.6 .4 3.4 .3-8.8 .3 10.4 .4-26.6 .3 45.9 .3-15.7 .4-13.5 .3 6.8 .3-4 .4-11.7 .3 10.4 .3-4.8 .4 17.9 .3-25.7 .3 6.9 .4 4.3 .3 2.8 .3-4.7 .4-5 .3 6.6 .3 17.4 .4-19.5 .3 6.4 .3-1.4 .4 14.8 .3-9.6 .3-2.8 .4 .3 .3-5.7 .3 .8 .4-2.5 .3 15 .3-11.2 .4 30.9 .3-50.6 .3 25.4 .4-6.7 .3 8.3 .3-10.9 .4 30.9 .3-14.1 .3 4.9 .4-11.5 .3 9.9 .3-6.1 .4-9.5 .3 12.8 .3-5.5 .4-14.8 .3 10.1 .3 1.8 .4-8.4 .3 15.1 .3-11.5 .4 24 .3-9.8 .3-16.1 .4-8 .3 5.3 .3 14.1 .4-14.5 .3 1.3 .3 34.8 .4-.6 .3-39.9 .3 8.4 .4 11.9 .3-.1 .3 3 .4-14.4 .3-.6 .3 1.3 .4-4.4 .3 0 .3 13.1 .4 6.5 .3-23.5 .3 4.9 .4-1.4 .3 6.7 .3-3.3 .4 11.6 .3-8.1 .3 6.9 .4-.6 .3-10.4 .3 10.3 .4-20.5 .3 12.5 .3-4.7 .4-.9 .3 12.7 .3 2.6 .4-14.7 .3 9.6 .3-6.3 .4 1.2 .3-5.7 .3 5.1 .4 7 .3 7.1 .3 8.5 .4-8.4 .3-14.8 .3-.1 .4-.6 .3 2.4 .3 0 .4 5.8 .3 12.2 .3-21.7 .4 4 .3-1.7 .3 24.2 .4-17.5 .3 20.7 .3-26 .4 1.5 .3 9.9 .3-14.5 .4 31.1 .3-32.4 .3-.2 .4-.7 .3 28.5 .3-21.4 .4 11 .3 .3 .3-14.5 .4 19.8 .3-19.7 .3-3.5 .4 9.4 .3 10.1 .3-14.7 .4 17.7 .3-27.4 .3 6.3 .4 34.1 .3-32.2 .3 1.3 .4-4.8 .3 12.6 .3-9.8 .4 4.5 .3 3.2 .3-1.1 .4-5.4 .3-2.7 .3 5.6 .4-4.6 .3 13.3 .3-24.1 .4 13.2 .3-10.4 .3 18.8 .4-5.4 .3-4.5 .3 7.6 .4-17.2 .3 3.4 .3 12.1 .4-5.8 .3 2.1 .3-6.1 .4 3.3 .3 5.7 .3 15.2 .4-21.5 .3 10.7 .3-7.9 .4 8.1 .3-2.4 .3 2.2 .4 7.4 .3-.7 .3-8.5 .4-11.2 .3 6.9 .3-2.3 .4 3.2 .3-11.7 .3 8.9 .4-8 .3-.9 .3 27.8 .4-20.3 .3 16.8 .3 7 .4-29.4 .3 40.4 .3-34.2 .4-1.1 .3-2.4 .3 3.8 .4-11.1 .3 18.4 .3-5.4 .4-4.1 .3 6.9" fill="none" stroke="#7ad151" stroke-width="2.8" stroke-linejoin="round" stroke-linecap="square" clip-path="url(#cb)"/>
<path d="M1169.5 579.6l.3 3.8 .4-15.3 .3 7.8 .3 .5 .4 18.6 .3-18.2 .3 .8 .4 9.9 .3-10.4 .3-.1 .4 11.7 .3-12 .3 10.8 .4-13.7 .3-1.8 .3 8.1 .4-4.7 .3 21.7 .3-25.7 .4 7 .3-3.7 .3 12.5 .4-12.6 .3-.5 .3 4.4 .4-1.8 .3-1 .3 1.2 .4 12.4 .3 1.3 .3-14.1 .4-1.7 .3-1.3 .3 6.8 .4 .1 .3-3.3 .3-10.2 .4 12.4 .3-3.8 .3 35.8 .4-19.4 .3-13.9 .3-.9 .4 1.6 .3-2 .3 1.9 .4 .2 .3-4.4 .3 19.2 .4-15 .3-8.7 .3 4.4 .4 28.5 .3-30.4 .3 43.9 .4-41.7 .3 .1 .3-4.7 .4 6.4 .3-1 .3 2.4 .4 9.3 .3-17.3 .3 2.9 .4 9.6 .3 7.2 .3-7.4 .4 4.6 .3-5.4 .3 12.8 .4-23.4 .3 26.3 .3 3.1 .4 16.2 .3-30.3 .3 12 .4-.7 .3-12.9 .3-11.9 .4 4 .3 6.9 .3-4.9 .4-.7 .3-3.3 .3 3.2 .4 .1 .3-2.4 .3-.9 .4 .8 .3 19.2 .3-17.9 .4-.8 .3-1.4 .3 1.6 .4 16.9 .3-19.6 .3 4.5 .4 17.9 .3-9.3 .3-11.4 .4 16.8 .3-18.8 .3 21.7 .4-20.7 .3 1.9 .3 .1 .4 9.3 .3 14.9 .3-38 .4 7.7 .3 8.4 .3-.6 .4-.1 .3 21.9 .3-21.4 .4 4 .3 14.5 .3-9.4 .4 5.6 .3-18.4 .3 8 .4 1.3 .3-9.7 .3 3.9 .4-8 .3 13.3 .3-7.9 .4 12.7 .3-12.1 .3 8.1 .4 11.4 .3-20.6 .3 8.1 .4 5 .3-6.8 .3 4.5 .4-11.2 .3 1.6 .3 27.1 .4-26 .3 4.3 .3-16.6 .4 10.9 .3-3.1 .3 .4 .4 11.2 .3-9.6 .3 25.7 .4-21.9 .3 .2 .3-3.8 .4 17.3 .3-10.5 .3-8.2 .4 4.3 .3-.5 .3 10.9 .4-9.8 .3 2.9 .3-3.3 .4 .1 .3 8.5 .3-13.5 .4 10.6 .3-10.1 .3 24.7 .4-28 .3 7.5 .3 16.5 .4-8.7 .3-6.5 .3 0 .4-.5 .3 16.5 .3-24.9 .4 7.3 .3 10.8 .3-11.7 .4-.3 .3-8.9 .3 16.8 .4 11.9 .3-8.9 .3 .5 .4-9.2 .3-4.3 .3 3.9 .4 10.3 .3-15.9 .3-3.2 .4 5.4 .3 6.6 .3-.9 .4 18.5 .3-21.2 .3 9.6 .4-10 .3 4.4 .3 2.5 .4 12.5 .3-17.5 .3-2.3 .4 14 .3-11.7 .3 5.1 .4-9.2 .3-.6 .3 .1 .4 2.5 .3-5.8 .3 20.2 .4-25.1 .3 13.4 .3-4.3 .4-7.8 .3 31.5 .3-19.4 .4-13.3 .3 5.6 .3 7 .4-5.3 .3 3.2 .3 2.4 .4 13.2 .3-16.1 .3 17.6 .4-13 .3-.9 .3 10.4 .4-12.8 .3-2.3 .3 4.3 .4 6.3 .3 1 .3-18.8 .4 7.2 .3 15.8 .3 3.3 .4-15.3 .3-6.1 .3 14.1 .4-1.5 .3-15.6 .3 7.3 .4 18.4 .3-5.6 .3-21.6 .4 30.6 .3-14.1 .3 7.7 .4-15.2 .3 18.1 .3-14.9 .4 .4 .3 4.6 .3-11.4 .4 3.8 .3 2.8 .3 9.5 .4-5.8 .3 3.6 .3-18.8 .4 5.7 .3 .9 .3-.7 .4 2.4 .3 11.7 .3-7.6 .4-5 .3 27.8 .3-40.2 .4 10.7 .3 24.9 .3-24.7 .4 4.8 .3 4.6 .3-10.6 .4 17.3 .3-8.5 .3 9.1 .4-13.5 .3-4.8 .3 15.8 .4-18.4 .3 29.6 .3-22.2 .4 20.5 .3-27.9 .3 5.5 .4-4.3 .3 .2 .3-4.5 .4 4.7 .3 6.7 .3-.8 .4 1.4 .3 27.6 .3-29.3 .4-3.1 .3 19 .3-10.4 .4-11.3 .3 1 .3-3.6 .4 5.9 .3-.4 .3 15.3 .4 4.7 .3-23.2 .3 2.4 .4 6.4 .3-11.3 .3 7.4 .4 6.8 .3-9.3 .3 .7 .4 1.8 .3 .2 .3-7.5 .4 14.9 .3-13.1 .3-2.5 .4 3.8 .3 10.4 .3 2.7 .4 20.9 .3-7.8 .3-22.9 .4 15.4 .3-3.2 .3-13.2 .4 11.2 .3 0 .3-7.8 .4-13.5 .3 24.8 .3-8.8 .4-2.9 .3-4 .3 5.4 .4-4.7 .3-7.1 .3 15.5 .4-4 .3 8.5 .3-10.1 .4-3.3 .3 3.8 .3 12 .4-11.5 .3-2.9 .3 8.8 .4 7.6 .3-22.5 .3 25.6 .4-23.5 .3 5.3 .3-2.8 .4 36.7 .3-3.8 .3-22.3 .4 1 .3-20.6 .3 5.9 .4 15.2 .3-19 .3 18.3 .4-8.7 .3-14.5 .3 43.9 .4-28.6 .3 .9 .3-3.3 .4 15.9 .3-16.5 .3 .6 .4-1.1 .3 13.3 .3-2.9 .4-6.4 .3-5.8 .3 1.1 .4 4.1 .3-2.5 .3-3.3 .4-.4 .3 6.6 .3-.4 .4 26.3 .3-22.4 .3-2.3 .4 13 .3-16.7 .3 15 .4-17.9 .3 12.4 .3 3.6 .4-14.3 .3-6.4 .3 7.9 .4 4.2 .3-9.4 .3 29.8 .4-17.9 .3-6.3 .3 11.1 .4-12.5 .3 1.6 .3 1.9 .4 16.4 .3-4.1 .3-1 .4-11.7 .3-7.9 .3 10.1 .4-3.8 .3 9.6 .3-7.3 .4 4.5 .3-8.9 .3 9.2 .4-18.6 .3 40.8 .3-20.1 .4 7.8 .3-14.6 .3 17.1 .4 12.3 .3-25.8 .3 7.5 .4 1.2 .3 20.2 .3-34 .4 .8 .3 5.5 .3-10.6 .4 9.4 .3-1.3 .3 3.5 .4-1.6 .3 3.9 .3 1.8 .4 13.8 .3-22.6 .3-9.1 .4 7 .3 2.5 .3-1.6 .4-8 .3-.5 .3 3.8 .4-7.4 .3 25.6 .3 3.3 .4-6.4 .3-3.9 .3 2.8 .4-12.2 .3 14.8 .3 .9 .4-11.9 .3-4.2 .3-5.1 .4 6.5 .3 19.2 .3-19.4 .4 18.4 .3-24.9 .3 6.9 .4-9.2 .3 10.9 .3 7 .4-13.2 .3 7.8 .3-4.5 .4 2.8 .3 2 .3 14.6 .4-12.6 .3 10.2 .3-18.2 .4-1.5 .3 6.2 .3 2.2 .4-6 .3 1.9 .3 31.2 .4-45.7 .3 33.6 .3-12 .4-14.6 .3 7.6 .3 8 .4 7.2 .3-20.5 .3 6.4 .4-1.7 .3-.1 .3 24.3 .4-32.7 .3 14.6 .3-7.1 .4 2.1 .3-3.1 .3 10.6 .4 .8 .3-2 .3-15.5 .4 12.1 .3-3.5 .3 26.6 .4-31.7 .3 3.6 .3-3.3 .4 1 .3 11.1 .3-11.7 .4 4.2 .3 7.3 .3 6 .4 .5 .3 3.5 .3-16.8 .4 20.1 .3-20.3 .3-9 .4 8.8 .3 16.4 .3-31.8 .4 11.1 .3 3.2 .3 7 .4-10.2 .3 6.2 .3-1 .4-5 .3 3.3 .3 4.4 .4 10.9 .3-5.2 .3 9.3 .4-20.2 .3-.9 .3 6 .4-8.5 .3 10.8 .3-4.9 .4 13.5 .3 20.3 .3-15.8 .4-10.4 .3-11.5 .3 3.4 .4-.8 .3-.5 .3 13.3 .4-12.1 .3-2.4 .3 15.7 .4-18.6 .3 13.3 .3-1.4 .4-.9 .3 10.3 .3-19.5 .4 2.1 .3-.3 .3 31.6 .4-17.3 .3-12.1 .3-8.9 .4 6 .3 .9 .3 6.6 .4-10.5 .3 5.4 .3 4.6 .4-7.3 .3 27.5 .3-19.9 .4 2.8 .3 18.4 .3-18.8 .4-12.4 .3 5.7 .3-1.6 .4 5.6 .3-1.8 .3 17.1 .4-21.9 .3-.4 .3 25.6 .4-24.5 .3-2.8 .3-1 .4 3.8 .3-2.8 .3 18.9 .4-15 .3-8.1 .3 8.2 .4 14.1 .3 14.5 .3-29.9 .4 10.8 .3 5.2 .3-4.4 .4-16.6 .3 17.5 .3-12.9 .4 24 .3-21.1 .3 10.2 .4-4.3 .3 3.3 .3-7.5 .4 6 .3-6.5 .3 1.2 .4-3 .3 1.4 .3-4.7 .4 .1 .3-9.9 .3 9 .4-1 .3 5.5 .3-9.1 .4 9.3 .3-4.5 .3 22.3 .4-16.9 .3 3.3 .3-6.1 .4-3.6 .3-2.5 .3 34.8 .4-26.8 .3 6.9 .3 3.6 .4-10.8 .3 5.1 .3-.5 .4-8 .3-5.3 .3 38.8 .4-28.7 .3 17.9 .3-7.4 .4-6.9 .3 7.7 .3 6.4 .4-20.7 .3 8.7 .3 6.5 .4-14.6 .3-3.5 .3 7.6 .4 2 .3-10.6 .3 17.5 .4 10.6 .3-23.9 .3 6.6 .4 6 .3-11 .3 3.4 .4-1.7 .3 7.7 .3-2.8 .4-5 .3-8 .3-2.5 .4 15.5 .3-4.5 .3-.7 .4-4.2 .3 34.5 .3-27.8 .4-1.1 .3-7.1 .3 6.1 .4 6.6 .3-3.4 .3 1.8 .4-13 .3 19.2 .3-13.8 .4 14.5 .3 .5 .3-4.3 .4-15.8 .3 12.5 .3-2.5 .4-10.9 .3-2.6 .3 27.1 .4 4.7 .3-8.4 .3-16.2 .4 9.7 .3-11.2 .3 3.1 .4-3.9 .3-7.2 .3 11.5 .4-.6 .3 8.7 .3 10.9 .4-14.4 .3-4.8 .3-6.3 .4 10.8 .3-10.4 .3 3.3 .4 19.9 .3-20 .3 18.2 .4-16.7 .3 1.1 .3 11.2 .4-8.8 .3-7.4 .3 5 .4 11.8 .3-2.1 .3-13.4 .4 8.8 .3-15.2 .3 9.4 .4 15.4 .3-11.6 .3-4.6 .4 10.5 .3-2.9 .3 12 .4-18.5 .3 .9 .3 13.2 .4-27.5 .3 41.7 .3-28.3 .4 20 .3-14 .3-5.2 .4-1.2 .3-2.1 .3 3.3 .4 2.6 .3 4 .3-16.5 .4 28.9 .3-22.3 .3-3.4 .4 7.1 .3 15.3 .3-12.9 .4-4.4 .3 3.5 .3-3.1 .4 .6 .3 20.7 .3-10.6 .4-3 .3-4.1 .3 16.7 .4-24.3 .3 17.7 .3-3.7 .4-6.6 .3 8.4 .3-8.3 .4 1.4 .3-2.9 .3 .5 .4-9.6 .3 33.2 .3-27.2 .4-1.5 .3 15.2 .3 6.4 .4-23.1 .3 21.6 .3-19.9 .4 2.5 .3 .6 .3 .2 .4 12.9 .3-2.2 .3-3.1 .4-.8 .3-8.8 .3 .7 .4 21.1 .3-10.8 .3-10.1 .4 7.7 .3-6.6 .3-.4 .4 8.2 .3-8.6 .3 3.4 .4 12.6 .3-18.9 .3 3.9 .4-3.8 .3-5 .3 24.6 .4-17.4 .3-.3 .3-2.2 .4-1.5 .3 12.5 .3 18.8 .4-28.2 .3 21.1 .3-20.1 .4 9.2 .3-10 .3-3.1 .4 4.5 .3 1.4 .3-2.3 .4 12 .3-17.8 .3 10 .4-10.1 .3-.6 .3 13.6 .4-14.4 .3 6.3 .3-2.6 .4-1.4 .3-2.1 .3 6.5 .4 8.2 .3 5 .3-11 .4-1.4 .3-6.8 .3 6.4 .4-3.5 .3 12.5 .3-10.9 .4 4 .3 4 .3-12 .4 15.7 .3 4.5 .3-13.2 .4-2.2 .3 7.3 .3-12.2 .4 17.3 .3-16 .3 10.3 .4 6.5 .3-18.2 .3 7 .4 12.4 .3 17.3 .3-29.6 .4 11.9 .3-4.5 .3 2.7 .4-9 .3 7 .3 6.8 .4-6 .3-7.1 .3-.7 .4 26.8 .3-24.1 .3-6.9 .4 17.8 .3-6.5 .3-.3 .4-1.8 .3-6.9 .3-5.5 .4 5.3 .3 .5 .3-12.6 .4 18.3 .3 14.3 .3-28.1 .4 2.8 .3 3.7 .3 9.6 .4-9.9 .3 3.1 .3 20.6 .4-27.1 .3-1.9 .3 19.4 .4-13.6 .3 13.5 .3-9.8 .4 3.5 .3 8 .3-12.5 .4 12.4 .3 14.7 .3 1.1 .4-28 .3-2.1 .3-.4 .4 11.2 .3-4.3 .3 5.6 .4-22.3 .3 37.8 .3-27.6 .4 .7 .3 4.9 .3-8.2 .4 3.1 .3 28.2 .3-35.2 .4 25 .3-15.1 .3-2.4 .4-1.2 .3 6.6 .3 2.3 .4 16.3 .3-38.2 .3 27 .4 8.3 .3-12 .3-3.2 .4 3.5 .3-8.6 .3 23.5 .4-10.2 .3-18.3 .3 2.7 .4-2.4 .3 12.8 .3-11.9 .4-3.3 .3 4.4 .3 12.2 .4-3.7 .3 4.6 .3-7.7 .4-1.7 .3 11.6 .3-21.2 .4 10.2 .3-3.6 .3-2.1 .4 13.1 .3 10.3 .3-12.7 .4-13.1 .3-1.7 .3 10 .4-7.4 .3 2.5 .3 7.2 .4-11.9 .3 7.7 .3 5.5 .4-9.6 .3 8.8 .3 10.7 .4-4.8 .3 7.7 .3-19.3 .4 .9 .3-9.8 .3 6.3 .4 .2 .3 21 .3-19.4 .4-5.9 .3 7.4 .3-1.3 .4-4.6 .3 12.8 .3-6.3 .4 .5 .3-5.9 .3 3.4 .4 14.2 .3-5.6 .3-8.2 .4-1.7 .3 8.5 .3-9 .4 33.8 .3-31.4 .3 8.2 .4-15 .3 22 .3-17.4 .4 .4 .3 18.2 .3 2.9 .4-18.1 .3 17.6 .3-3.8 .4-15.9 .3 6.3 .3 4.5 .4 1.8 .3-11.3 .3-3.8 .4 8.3 .3-7.5 .3 3.7 .4-.6 .3 11.2 .3 2.3 .4 8.5 .3-21.7 .3-.7 .4-6.3 .3 1.6 .3 3.3 .4 1.7 .3-2.8 .3 3.2 .4-5.1 .3 11.7 .3-6.5 .4-5.6 .3 6 .3-19.4 .4 31.9 .3 6 .3-3.8 .4-2 .3-16 .3 5.4 .4 5.4 .3-5.9 .3 7.2 .4-7.9 .3-4.7 .3-1.7 .4 1.1 .3-2.8 .3 3.7 .4-3 .3 24.2 .3-22.6 .4 9.5 .3 14 .3-30.7 .4 32.2 .3 5.4 .3-16.8 .4-14.5 .3-1.5 .3 12 .4-7.7 .3 12.7 .3-10.2 .4 8.4 .3-11.3 .3 4.4 .4 11.7 .3-2.9 .3-13.5 .4 .5 .3 3.3 .3 6.8 .4-6.3 .3 10.5 .3-14.6 .4 19.5 .3-9.3 .3-3.3 .4-3.4 .3-.9 .3 3.3 .4-6.3 .3 .3 .3 .2 .4 19.9 .3-6.2 .3 19.8 .4-29.3 .3 8.5 .3 2.5 .4-.8 .3-10.4 .3 12 .4-17.5 .3 2.7 .3 22.8 .4-16.7 .3-4.2 .3 17.5 .4-23.3 .3-.8 .3 6.3 .4 9.5 .3 36.8 .3-47.8 .4 17.3 .3-17.3 .3 1.6 .4-4.1 .3-.2 .3-2.7 .4 7.1 .3-6.8 .3 24 .4-20.1 .3 14.1 .3 2 .4-15.6 .3 15.1 .3-13.9 .4 17.6 .3-5.1 .3-16.8 .4 3 .3 32 .3-28.4 .4-5.4 .3 3.5 .3-14 .4 25.5 .3-1.4 .3 15.6 .4-36 .3 8.6 .3 1.1 .4 .8 .3 12.4 .3-12.9 .4 25.6 .3-27.4 .3 17.2 .4-14.6 .3 11.8 .3 13.2 .4-17.2 .3-8.6 .3-3.4 .4 21.8 .3-3.6 .3-6.4 .4-13.3 .3 14.4 .3 .8 .4 3.6 .3-11.6 .3-14 .4 29.6 .3 1.6 .3-11.9 .4 9.8 .3 6.6 .3-24.1 .4-2.3 .3 21.8 .3-21.1 .4-2.8 .3 29.7 .3-5.5 .4-11.1 .3 16.9 .3-24.4 .4 6.4 .3 16.1 .3-27.1 .4 31.3 .3-6 .3 2.7 .4-3.7 .3 .3 .3-17.3 .4-3.6 .3 11 .3 0 .4-6.4 .3-4.3 .3 .2 .4 .1 .3-.3 .3 6 .4-5.6 .3 14.6 .3-23.6 .4 7.8 .3-6.1 .3 10.6 .4-8.6 .3-1.6 .3 3.8 .4 6.5 .3 .7 .3-.8 .4-5 .3 15.9 .3-15.8 .4 16.5 .3-2.2 .3-23.2 .4 8.5 .3-6.1 .3 7 .4-7.9 .3 12.2 .3-1.2 .4-2.8 .3-.6 .3-.7 .4 12.4 .3-6.8 .3-2.4 .4-10.4 .3-8.4 .3 25.9 .4-7.1 .3 5.4 .3-8.5 .4-5.4 .3 1.8 .3-.6 .4 13.5 .3-2.4 .3-10.6 .4 4.5 .3 7.3 .3-4 .4 .9 .3 25.8 .3-24.9 .4-2.6 .3-14.2 .3 12 .4 24 .3-12 .3 .2 .4-7.5 .3-5.6 .3-2.9 .4 22.7 .3-10.4 .3 3.1 .4-8.5 .3 13.3 .3-2.7 .4-.7 .3-8.7 .3-5.1 .4 9.3 .3-12.4 .3 12.2 .4-12.8 .3 21.4 .3-19.2 .4 7.6 .3-8.2 .3 1.8 .4-.7 .3 3.3 .3-6.1 .4 16.6 .3-9.6 .3 15.7 .4-23.7 .3 7.4 .3 6.2 .4 8.3 .3-6.6 .3-17.7 .4 7.3 .3-3.8 .3 3.8 .4 11.3 .3-18.8 .3 2.1 .4-2.4 .3 11 .3-9 .4-2.9 .5 7 .5 3.7 .5 4.4 .5-24.4 .5 19 .5-15.5 .5-5.3 .5 6.6 .5 .1 .5-6.7 .5-4.2 .5 2.8 .5 2.4 .5-5 .5-.1 .5-1.5 .5-2.6 .5-16.9 .5-2.5 .5-8.2 .5 12.8 .5-.8 .5-.3 .5-4.1 .5-13.1 .5-5.2 .5 8.9 .5 2.9 .5-13 .5-1.4 .5-8.8 .5 3.9 .5 .5 .5 1.4 .5 1.1 .5-5.6 .5 3.9 .5-6.6 .5-5.7 .5 8.9 .5-6.5 .5-10.8 .5 3.6 .5 12.2 .5 2.6 .5 4.8 .5-13.9 .5-17.6 .5-6.6 .5-3.2 .5-5.4 .5-9 .5-13.5 .5-12 .5-13.3 .5-8.8 .5-8.9 .5-16.1 .5-15.5 .2-5.4 .2-6.2 .2-2.5 .2-5.8 .2-7.9 .2-10.4 .2-7.6 .2-7.1 .2-11.3 .2-20.3 .2-41.3 .2-128.9 0-24.4 .2 128 .2 56.7 .2 23.2 .2 14.6 .2 9.8 .2 6.2 .2 10.7 .2 8.1 .2 6.9 .2 8.7 .2 4.3 .2 4.6 .2 4.2 .5 14.6 .5 12.8 .5 14.5 .5 11.4 .5 7.1 .5 11.3 .5 12.1 .5 3.8 .5 4.4 .5 11.2 .5 3.1 .5-2.6 .5 4.7 .5-1.5 .5-3.9 .5-6.1 .5-4 .5 4.1 .5 11.3 .5 4.4 .5 1.7 .5 12.7 .5-1 .5-.3 .5-3.4 .5-10.5 .5-1.2 .5-2.1 .5-.1 .5-1.2 .5 11.3 .5 10.6 .5-9.8 .5-12.3 .5 8.3 .5 15 .5 15.4 .5 6.8 .5 1.8 .5-10.7 .5 10.9 .5-3 .5-.3 .5 10.7 .5 6.6 .5 2.7 .5 1.9 .5 3.3 .5 5.3 .5-2.3 .5 1.5 .5 4.9 .5-4.2 .5 3 .5 4 .5 12.4 .5-.3 .5 10.5 .5-13 .3 .8 .3 4.8 .4-12.2 .3 18 .3 1.1 .4-9.3 .3-6 .3 39.7 .4-34.5 .3 5.6 .3-1.3 .4 10.5 .3-11.3 .3 10.6 .4-13.2 .3 2.6 .3 1.5 .4 3.8 .3 26.9 .3-30.2 .4 12.1 .3 2.3 .3-8 .4-10.6 .3 8.5 .3 5 .4-15.3 .3 2.5 .3 4.1 .4 26.8 .3-32.9 .3 3.4 .4 .3 .3 2 .3-2.3 .4 31.9 .3-27.2 .3 12.3 .4-20.2 .3 4.4 .3-1.5 .4 2.1 .3-3.6 .3 35.8 .4-28.6 .3 6 .3-13.3 .4 9.7 .3-12 .3 7.9 .4-6.5 .3 2.8 .3 .3 .4-2.4 .3 22.5 .3-13.5 .4 7.1 .3 7.5 .3-22.9 .4 5.3 .3-.3 .3-5.3 .4 17.6 .3-20.1 .3 4.5 .4-3.1 .3-3.2 .3 7.3 .4 24.9 .3 .1 .3-7.2 .4-5.8 .3-19.8 .3 12.1 .4 4.4 .3-7.9 .3 14 .4-17.2 .3-4.1 .3 2.4 .4 1.6 .3 8.1 .3-1 .4-1.8 .3 1 .3 10.6 .4 13.3 .3-27.1 .3 2.6 .4-1.5 .3 31.7 .3-35.7 .4 33 .3-29.2 .3 .9 .4 19 .3-26.1 .3 2.1 .4 29.2 .3 .8 .3-18.6 .4 15.9 .3-23 .3 0 .4 8.9 .3-8 .3-5.9 .4-3.5 .3 37 .3-23.7 .4-6 .3-1.7 .3 15.5 .4-13.4 .3 1.8 .3 10.9 .4 14.6 .3-39.8 .3 12.4 .4 19.2 .3-24.7 .3 35.5 .4-27.4 .3-6.5 .3 6.6 .4-3.3 .3 2.9 .3 9.2 .4-20 .3 16.1 .3 14.9 .4-19.6 .3-3.8 .3 12 .4-20.2 .3 8.3 .3 3.5 .4-6.9 .3 19.2 .3-13.2 .4-1.7 .3 14 .3 .4 .4-18.2 .3 3.6 .3 18.8 .4-22.5 .3 22.3 .3 2.5 .4-13.5 .3-11 .3-.7 .4 6.6 .3-11.4 .3 24.2 .4 3.5 .3-7.6 .3 5.7 .4-15.3 .3 11.5 .3-19.9 .4 15.6 .3-6 .3 11.5 .4-20 .3 12.4 .3 8.2 .4 1.8 .3-.9 .3-2.7 .4 4.6 .3-5.9 .3-4.6 .4-15 .3 8.8 .3 7.1 .4-11 .3 19 .3-10.5 .4-3.9 .3 8.1 .3-12.4 .4 14.2 .3-1.8 .3-8.1 .4 2 .3-.8 .3 12.2 .4-16.6 .3 7.5 .3-5.9 .4-2.1 .3 28.1 .3-22.8 .4-11.3 .3 7.3 .3 4.6 .4 5.9 .3-6.8 .3 19.6 .4-6.1 .3-6.6 .3-.3 .4-17.1 .3 6.6 .3 2.8 .4 5.6 .3-5.3 .3 1.6 .4-6.2 .3 7.4 .3-6.8 .4 4.7 .3 11.7 .3-13.1 .4 29.2 .3-25.3 .3-16.6 .4 5.9 .3 23 .3-19 .4 8.9 .3 .4 .3 6.4 .4-17 .3 27.4 .3-26.1 .4 2.4 .3 5.4 .3-6.6 .4 2 .3-7.6 .3 6.4 .4 24.3 .3-33 .3 14.6 .4-6.1 .3 21 .3-6.4 .4-17.8 .3 21.7 .3-1.7 .4-10.3 .3-.1 .3-4.1 .4 20.5 .3-5.4 .3-26.5 .4 16.6 .3-5.5 .3 20.7 .4-15.1 .3-12.4 .3 39 .4-35.8 .3 2 .3-4.3 .4 6.5 .3-9.8 .3 4.8 .4 22.7 .3-12.2 .3-11.2 .4 26.5 .3-24.1 .3 .2 .4 29.9 .3-27 .3-2.3 .4 12.7 .3-13.8 .3 22.5 .4-24.4 .3 .3 .3 41.8 .4-38.2 .3-1.3 .3 1.9 .4-7.1 .3 4.5 .3-2.5 .4 7.1 .3-7.6 .3 1 .4 18.3 .3-18.1 .3 23.5 .4-21.7 .3 1.9 .3 2.3 .4 21 .3-17.5 .3 10.7 .4-3.8 .3-4.6 .3-9.4 .4 21.4 .3-13.8 .3-7.8 .4 14.2 .3-3.8 .3-7.3 .4-7.3 .3 21.6 .3-20.5 .4 3.7 .3 6.6 .3 5.3 .4-20 .3 14.7 .3-9.7 .4 8 .3 10.2 .3-2.7 .4-17.2 .3 2.2 .3 6.5 .4 3.2 .3-.5 .3 7.6 .4 4 .3-16.5 .3-5.6 .4 41.8 .3-25.2 .3-13.1 .4-3.7 .3-1.6 .3 3.4 .4 1.4 .3 .3 .3 2.6 .4-4.4 .3 32.6 .3-32.8 .4 15.4 .3-21 .3 9.5 .4 10.6 .3-1 .3-10.6 .4 14.1 .3-3.4 .3-15.3 .4 10.1 .3-11.1 .3 .3 .4 6.5 .3-2.3 .3 6.6 .4 .9 .3 3.7 .3-8.7 .4-2.8 .3 11.5 .3-6.2 .4-2.9 .3 5.4 .3-11.2 .4 6.9 .3 3.3 .3-11.4 .4 15.1 .3 3.8 .3 15.8 .4-24.8 .3 .1 .3-5.6 .4 1.3 .3 40 .3-40.1 .4 21.3 .3-5.6 .3-5.4 .4 29.8 .3-39.1 .3 1.9 .4-.3 .3 2.8 .3-16.8 .4 15.6 .3 3.9 .3 1.2 .4-5.4 .3 35.6 .3-13.7 .4-8.1 .3-18.7 .3 2.1 .4 12.5 .3-5.3 .3-13.4 .4 24.6 .3-5.5 .3-21.7 .4 29.5 .3-7.8 .3-13.8 .4-1.8 .3 38.1 .3-40.6 .4 1.1 .3 13.6 .3-8.4 .4-1.8 .3 13.6 .3-12.2 .4 10.9 .3-11.8 .3 1.4 .4 2.7 .3 4.6 .3-10.2 .4 6.7 .3 27.2 .3-40.3 .4 18 .3-15.7 .3 22.5 .4-7.4 .3 10.3 .3 3.7 .4-10.2 .3 12.2 .3-26.8 .4 5.6 .3 35 .3-42.5 .4 31.1 .3-29.4 .3 14.4 .4-8.4 .3 8.5 .3 26.3 .4-19.7 .3-18.9 .3-4.7 .4 1.9 .3 8.5 .3-10.3 .4 4.2 .3 1.2 .3 27.2 .4-18.2 .3 5.2 .3-18.7 .4 4.1 .3 7 .3-10 .4 12.1 .3 9.9 .3-19.3 .4-3.9 .3 5.3 .3-10.4 .4 9.4 .3-6.7 .3 7.7 .4-8.1 .3 7.3 .3 8.6 .4-.8 .3-9.3 .3-.8 .4 3.5 .3 17.7 .3-22.3 .4 9.8 .3-7.8 .3-.7 .4 39.1 .3-37.2 .3-1.2 .4 3.3 .3-10.8 .3 10.1 .4-4.8 .3 5.5 .3 36.1 .4-37.3 .3-6.6 .3 3 .4 6.4 .3 20.6 .3-7.8 .4-18.8 .3 .8 .3-2.5 .4 22.4 .3-16.7 .3 8.7 .4 18.2 .3-32.7 .3 16.9 .4-7.8 .3-9.5 .3-5.6 .4 30.5 .3-21.5 .3 .9 .4 2.8 .3 2.5 .3-14.4 .4 4 .3 2.7 .3 2 .4 1.4 .3 4.9 .3-8.8 .4 3.9 .3-7.1 .3 4.7 .4-1.6 .3 .6 .3 7 .4-10.3 .3 6.3 .3-9.5 .4 18.2 .3-3.6 .3-4.8 .4 8.9 .3-.4 .3 12.2 .4-30.4 .3 12 .3 6 .4-12.7 .3 18.7 .3-2.8 .4-11.9 .3-8 .3 30.4 .4-14.8 .3 2.2 .3-13.8 .4 .8 .3-3.3 .3 14.5 .4-3.1 .3-7 .3-7.2 .4 4.1 .3 16.2 .3-11.6 .4 7.7 .3 .4 .3-9 .4 12.4 .3-9.4 .3-18.8 .4 17.3 .3-2.4 .3-3.7 .4 27.2 .3-8.2 .3-20.1 .4 13.5 .3-11.2 .3 3.7 .4 5.2 .3-7.9 .3-6.3 .4 24 .3-2.7 .3 16.9 .4-30.1 .3 2.7 .3 10.1 .4-11.2 .3 3.9 .3 6.5 .4-1.1 .3 2.6 .3-14 .4-5.4 .3 7.1 .3-4.9 .4 11.5 .3 9.6 .3 17.7 .4-34.5 .3-6.6 .3 10.6 .4 7.2 .3 23.2 .3-35.4 .4-.3 .3 .3 .3 15.8 .4-17 .3 .2 .3 1.5 .4-9.1 .3 8.1 .3-4.9 .4 6.1 .3 5.5 .3-3.9 .4 4.1 .3 2 .3-7 .4-3.6 .3 3.2 .3 20.6 .4-4.7 .3 .8 .3-4 .4 4.3 .3-16.6 .3-4.2 .4 14.8 .3-18.8 .3 1.6 .4 19.5 .3 12 .3-24.2 .4-.5 .3 7.2 .3 11.4 .4-.3 .3-22.9 .3 6.3 .4-3 .3-.9 .3 30.2 .4-23.1 .3-9.4 .3 19.8 .4-15.3 .3 .3 .3 1.3 .4 30.9 .3-33 .3 2.4 .4 14.1 .3-15.6 .3-.7 .4-.4 .3 1.5 .3 19.4 .4-10.7 .3-10 .3-1.2 .4-4.3 .3 4.6 .3 28.3 .4-24 .3 3.2 .3 5.1 .4-7.1 .3-2.6 .3 13 .4 6.1 .3-24.4 .3 1.5 .4 22.6 .3-21.2 .3 1 .4 .4 .3-5.1 .3 37.1 .4-41.5 .3 16.8 .3-11.6 .4 6.4 .3 36.3 .3-13.8 .4-21.8 .3-7.5 .3 11.3 .4 9.5 .3-16.7 .3 15.8 .4-5.7 .3-12.3 .3 1.6 .4 2.3 .3-10.5 .3 11.8 .4 11.6 .3-13.4 .3-2.8 .4 .7 .3-2.4 .3 11.6 .4-.3 .3 .1 .3-7.6 .4-1 .3 1.8 .3 10.2 .4-12.2 .3-.7 .3 .2 .4-4.5" fill="none" stroke="#9bd93c" stroke-width="2.8" stroke-linejoin="round" stroke-linecap="square" clip-path="url(#cb)"/>
<path d="M1169.5 574.2l.3 10.4 .4-15.9 .3 26.3 .3 10.4 .4-14.3 .3-26.5 .3 18.3 .4-11.9 .3 15.3 .3 13.8 .4-26.7 .3 .1 .3 2.4 .4 8.3 .3-5.8 .3-10.9 .4 24.7 .3-21.6 .3 4.5 .4-.3 .3 2.6 .3 29.4 .4-22.7 .3-6.1 .3-4.1 .4 4.9 .3 6.4 .3 1.8 .4 5.2 .3-14.2 .3 23.8 .4-13 .3-20.1 .3 5.2 .4 5 .3-8.4 .3 3.4 .4 7.5 .3-10.9 .3 15.9 .4-11.4 .3 2.6 .3 12.7 .4-7.6 .3-7.4 .3 27.8 .4 19.9 .3-38.1 .3-4.4 .4 10.9 .3-10.5 .3 10.6 .4-9.9 .3-9.3 .3 3.8 .4-3.1 .3 39.9 .3-44.1 .4 14.6 .3-13.8 .3 2.1 .4 4.2 .3 6.6 .3-4.7 .4 5.4 .3 1.7 .3 3.6 .4-13.5 .3-3.2 .3-2.1 .4 13.9 .3-5.9 .3 36.4 .4-35.4 .3 8.1 .3-2.8 .4-10.1 .3 15.5 .3-11 .4-6.8 .3 14.4 .3-10.5 .4 .9 .3 .8 .3 22.9 .4-10.5 .3-18.5 .3 20.7 .4-1.8 .3 2 .3-12.4 .4 16.3 .3-19.1 .3 4.7 .4-14.7 .3 10.7 .3 15.4 .4-8.9 .3 7.7 .3-8 .4-10.8 .3 26.9 .3-23.3 .4 5.1 .3 9.3 .3-16.6 .4 23.9 .3-13.7 .3-7.7 .4 .5 .3-2 .3 10.9 .4-6.8 .3 26.7 .3-16.5 .4-16.5 .3 3 .3 25.1 .4-21.7 .3-15 .3 11.3 .4-3.8 .3 .7 .3 3.7 .4-4 .3 1.3 .3 3.6 .4 8.7 .3-4.7 .3-9.5 .4 21.9 .3-13.9 .3 32.2 .4-38.7 .3 7 .3 17 .4-22.9 .3 21.4 .3 5.3 .4-3.3 .3-6.8 .3-14.4 .4 17.6 .3-14.6 .3-5.4 .4 13.8 .3-13 .3 .8 .4 1.3 .3 19.8 .3-24.5 .4 .7 .3 4.8 .3-9.9 .4 16.5 .3-5.7 .3 12.6 .4-19.5 .3 3.8 .3 11 .4-4.4 .3-8.1 .3 7.1 .4-6.2 .3 24.7 .3-16.1 .4 5.4 .3-12.7 .3 0 .4 13.2 .3-15.7 .3 11.6 .4-13.2 .3 .6 .3-.4 .4 34.1 .3-24.5 .3 10.7 .4-7.5 .3-5.6 .3-10 .4 22.8 .3-16.3 .3-5.3 .4 1.2 .3 3.3 .3 2.2 .4-5.2 .3 6.1 .3-3.6 .4 20.9 .3-19 .3 .1 .4 23.1 .3-27.9 .3 27.6 .4-19 .3 3.4 .3 6.6 .4-7.8 .3 30.5 .3-33.1 .4 .1 .3 24.1 .3-28 .4 1.3 .3 3.2 .3-8.3 .4 34.4 .3-18.7 .3-17.3 .4 22.4 .3-12 .3-8.3 .4 4.9 .3-.2 .3 7.2 .4 22.4 .3-15.1 .3-18.5 .4 2.3 .3 9.8 .3-3.2 .4 2.4 .3-10 .3-2.2 .4 26.6 .3-25.6 .3 20.3 .4-24.9 .3 11.1 .3 4.8 .4 13.8 .3-23.1 .3-3.4 .4 3.2 .3 7.7 .3-7.4 .4 2.3 .3 6.4 .3 6.1 .4-7.7 .3-7.9 .3-5.6 .4 7 .3 1.7 .3-1 .4 14 .3-19 .3-.1 .4 2.2 .3 .2 .3 2.3 .4-1.1 .3 10.6 .3 4.8 .4-13.6 .3-9 .3 26.1 .4 1.8 .3-3.1 .3-17.9 .4-1.1 .3 3.7 .3-2.8 .4 19.6 .3-21.7 .3 11.5 .4 11.4 .3-11.4 .3 .7 .4-6.2 .3 6.7 .3 11.1 .4-23.9 .3 20.7 .3-5.1 .4-10.3 .3 3.5 .3-13.8 .4 28.9 .3-9.7 .3-.6 .4-11.7 .3 9.4 .3-17.5 .4 29.2 .3-23.1 .3 11.9 .4-11.7 .3-.2 .3 10.6 .4 1.6 .3-11.5 .3 5.4 .4 3.3 .3-6.1 .3-1.5 .4 1.4 .3-3.9 .3 4.4 .4 17.4 .3-14.9 .3-5.5 .4 0 .3 .5 .3 35.2 .4-25.5 .3 7.5 .3 5 .4-15 .3-2.3 .3-1.5 .4 2.3 .3-2 .3 22.1 .4-26.7 .3 4.9 .3-11.3 .4 3.3 .3 6.8 .3 6.2 .4 5 .3-8.4 .3-9.7 .4 15.3 .3 16.6 .3-23.9 .4 1.7 .3 4.2 .3-17.3 .4 16.5 .3 1.3 .3-12.4 .4-6.5 .3 3.5 .3 7.1 .4 2 .3-4.2 .3 3.7 .4-.9 .3 1 .3-2.4 .4-3.4 .3 7.9 .3-12.5 .4 12.7 .3 8.7 .3 2.8 .4-1.7 .3-16.6 .3 7.5 .4 2.2 .3 4.7 .3 12.2 .4-28 .3 14.3 .3-5.9 .4 9.7 .3-4 .3-16.8 .4 11.2 .3-7.1 .3-3.5 .4 23.9 .3-13.9 .3 8.3 .4-2.6 .3-12.4 .3 18.3 .4-19.3 .3 .8 .3 15 .4 5.6 .3 12.1 .3-7.6 .4 6 .3-16.5 .3-4.2 .4 16.4 .3-11.5 .3-6.2 .4-.6 .3-4.7 .3-9.2 .4 8.4 .3 26.4 .3-8.9 .4-21.1 .3 17.9 .3-16.7 .4 3.3 .3 19.1 .3-10.7 .4-4.4 .3 3.1 .3-10 .4 24.2 .3-7.3 .3 2.5 .4-22.4 .3 28.2 .3-18.5 .4 8.8 .3-5.1 .3 10 .4-16.4 .3 4.8 .3-10.8 .4 32.1 .3-22.1 .3 2.1 .4 11.7 .3-25.4 .3 12.3 .4 3.2 .3-17.8 .3 42.7 .4-40.8 .3 34.8 .3-23.7 .4 2.2 .3-9 .3 18.4 .4-21.3 .3-1.7 .3 8.5 .4 4 .3-6.8 .3 27.7 .4-33.4 .3 4.1 .3 15.6 .4-11.8 .3-3.3 .3 23.2 .4-22.1 .3 3.9 .3 1.9 .4 2 .3-8.9 .3 19.5 .4-18.6 .3 17.3 .3-15.4 .4 11.6 .3-16.9 .3 6.1 .4 .7 .3-2.2 .3 15.5 .4-18.4 .3 9.8 .3-6.9 .4 7 .3 15.1 .3-13.4 .4-5.5 .3-.8 .3 3.7 .4-8.9 .3 .3 .3 3 .4 .4 .3 11.5 .3-10.2 .4 10.4 .3-17.9 .3 2.1 .4 3.7 .3 2.3 .3-3.7 .4 9 .3-11.8 .3 2.4 .4 11.5 .3-8.5 .3-13.2 .4 9.3 .3 22.2 .3-19.4 .4 6.9 .3-4.9 .3 11.5 .4-10.2 .3-6.4 .3 30.1 .4-25.7 .3-1.3 .3 .8 .4 2.7 .3 12.8 .3-10.8 .4 14.5 .3-4.3 .3-17.5 .4-1.7 .3 10.9 .3 .9 .4 .2 .3-10.2 .3 10.6 .4-14 .3 4.2 .3 15.8 .4-13.1 .3-7 .3 33.6 .4-28.2 .3-2.7 .3 22.1 .4-23.7 .3 16.3 .3-14.3 .4 22.2 .3-17.7 .3 .5 .4-1.1 .3 3.2 .3 12.9 .4-11.6 .3 21.7 .3-26.4 .4-4.4 .3 19.4 .3-14.8 .4-4.1 .3-1.4 .3 1.9 .4 17.4 .3-5.2 .3-3.6 .4 5.9 .3-8.6 .3 14.2 .4-29 .3 21.6 .3-1.6 .4 14.3 .3-19.7 .3-1.3 .4-4.8 .3-.9 .3 2.9 .4-4.8 .3 4.9 .3-4 .4 4.9 .3-3.9 .3 2.1 .4 22.8 .3-24.6 .3 2.3 .4 2.2 .3-3.2 .3 .2 .4 17.2 .3-4.4 .3 9.9 .4-6.4 .3-9.4 .3-9 .4 0 .3 .4 .3 17.8 .4-3.2 .3 5.5 .3 10.8 .4-14.9 .3-.1 .3 15 .4-32.8 .3 6.9 .3-2.7 .4 39.9 .3-21.8 .3-21.4 .4 9.7 .3-5.1 .3 4.1 .4-5.8 .3-3.9 .3 33.3 .4-8.7 .3-13 .3 4.8 .4-6 .3 15.1 .3-21.7 .4-.4 .3 12.9 .3 6.2 .4-18.2 .3 16 .3-1.1 .4 12.2 .3-27.6 .3 11.7 .4-12 .3 3.2 .3 1.1 .4 2.5 .3-8.6 .3 3.8 .4 2.4 .3-7.9 .3 1.3 .4 3.2 .3-2.3 .3 2 .4 21.8 .3-21.6 .3-1.7 .4 9.5 .3-9.7 .3-1.5 .4-.1 .3 19.5 .3-12.7 .4-4.7 .3 21.9 .3-20.3 .4 12.1 .3 18.4 .3-20.3 .4-2.9 .3-3.7 .3-5.8 .4 2.3 .3 12.4 .3-15.5 .4 3.7 .3 9.4 .3-.7 .4-7.8 .3 5.1 .3 2.5 .4-13.1 .3 4 .3-1.2 .4 2.3 .3-7.5 .3 3.4 .4 5.5 .3-1.1 .3 4.7 .4 20.9 .3-30 .3 2.3 .4 19.9 .3-21.9 .3 18.4 .4-24.1 .3 4.1 .3 4.7 .4 12.9 .3-3.1 .3 .3 .4-5.8 .3 10.7 .3-19 .4-.5 .3 4.1 .3-2.2 .4 3.6 .3 18.8 .3-11.4 .4-12.8 .3 3.1 .3 2.8 .4-6.9 .3 15.6 .3 3.1 .4-9.8 .3 14.3 .3 .1 .4-30 .3 10.2 .3 10.4 .4 6.5 .3-33 .3 17.4 .4-4.3 .3 .4 .3 2.8 .4-8.2 .3 9.5 .3 7.5 .4 18.9 .3-26.4 .3 8.9 .4-9.1 .3 11.8 .3-23.8 .4 40.8 .3-34.4 .3 18.6 .4 1.7 .3-15.7 .3 13 .4 8.4 .3-24.4 .3 4.9 .4-3.8 .3-.6 .3 26.4 .4-14.7 .3-6.5 .3 11.2 .4-6.6 .3-9.7 .3-5.5 .4 34 .3-19.2 .3 2.2 .4 .7 .3-12.1 .3-3.6 .4 1.9 .3 21.7 .3-24.4 .4 8.2 .3-6.1 .3 10.1 .4 8.4 .3-13.2 .3-7.4 .4 2.5 .3 4.9 .3 21.1 .4-15.3 .3 9.2 .3-18.2 .4 8.6 .3-3.8 .3 9.9 .4 3.3 .3-2 .3-7.4 .4-13.5 .3 10.7 .3-3.5 .4 3 .3-.7 .3-1.7 .4 1.4 .3 7.3 .3 2.8 .4 1.2 .3 7.1 .3-17 .4 9.2 .3-9.9 .3 20.6 .4-31.5 .3 8.5 .3 1.4 .4 19 .3-27.6 .3 14.9 .4 6.3 .3 2.2 .3-14.2 .4 15 .3-18.6 .3 7.6 .4-4.8 .3 11.5 .3-14 .4 19.7 .3-25.3 .3-.6 .4 5.2 .3 23.6 .3 .3 .4-21.8 .3 13.2 .3 7.8 .4-10.4 .3-3.1 .3-16.4 .4 8.9 .3-9.2 .3 16.6 .4 4.8 .3-9.2 .3 7 .4-12.7 .3 6 .3 15.2 .4-22.4 .3 5.2 .3-1.4 .4 7.1 .3-1.5 .3 2.5 .4-13.1 .3 25 .3-7.6 .4 18.4 .3-24.2 .3-.5 .4 2.2 .3-8.2 .3 2.9 .4-1.8 .3-12 .3 7.4 .4 1.9 .3 2.6 .3 8.3 .4-8.5 .3-3.3 .3-13.4 .4 8.3 .3 3.7 .3 11 .4 4.7 .3 4 .3-18.7 .4 6.2 .3 5.6 .3-9.1 .4 .6 .3-3.1 .3 9.9 .4-9 .3 10.3 .3-1.4 .4-4.6 .3 7.3 .3-7 .4-5.4 .3 6.2 .3 9.1 .4-5.8 .3-7.2 .3 11.4 .4-2.2 .3-18.9 .3 25.6 .4-14.2 .3 1.3 .3-2.3 .4 30.7 .3-33 .3 .2 .4 24.6 .3-26.7 .3 6.8 .4 6.5 .3-10.7 .3 4.6 .4-4.6 .3-2.3 .3 2.4 .4 23.8 .3-8.5 .3-15.8 .4 13.4 .3-17.2 .3 26.9 .4 5.8 .3-26.6 .3 18.6 .4-18.2 .3 18.7 .3-23.2 .4 19.3 .3-9.1 .3 13 .4-19.1 .3-.5 .3-3.3 .4 10.7 .3-.2 .3 11.2 .4-26.2 .3 19.9 .3-14.5 .4 3.5 .3-3.1 .3-2.2 .4 11.8 .3-1.6 .3-6.6 .4 11.4 .3-25.5 .3 14.7 .4 0 .3 23.4 .3-8.8 .4-9.6 .3-7.6 .3 14.4 .4-13.1 .3-.1 .3-1.3 .4 15 .3-4.6 .3-5.8 .4 27.5 .3-26.7 .3 20.9 .4-14.4 .3-20.4 .3 13.1 .4-5.4 .3 6.9 .3 11.2 .4-1.9 .3-15.6 .3 11 .4-7.7 .3 .7 .3 .5 .4 22.3 .3-26.3 .3 15.6 .4 1.1 .3-16.7 .3-7.8 .4 28.9 .3-2 .3-16.7 .4 7.8 .3-16.2 .3 13.1 .4-9.2 .3 30.2 .3-31.1 .4 29.4 .3-25.2 .3 3.3 .4 12.7 .3-10.3 .3 3.5 .4-2.4 .3 17.2 .3-26.9 .4 7.1 .3-1.8 .3-8.2 .4 1.3 .3 20.1 .3-11.5 .4-8.9 .3 18.6 .3-15.7 .4 6.9 .3 1.9 .3-9.6 .4 36.8 .3-23.2 .3-7.9 .4-4.5 .3 18.1 .3-26.6 .4 28.1 .3 3.2 .3-11.4 .4 2 .3-9.1 .3-5.6 .4 22.2 .3 3.5 .3-7.4 .4-6.3 .3-3.8 .3 16 .4-21.7 .3 1.2 .3-1.5 .4-.5 .3 2.9 .3 .3 .4 10 .3-8.5 .3-6.7 .4 12.1 .3 12 .3-10.4 .4-6.8 .3 .4 .3-1 .4-5.8 .3 33.3 .3-26.8 .4 6 .3-16.3 .3 18.1 .4-10 .3-3.7 .3 16.6 .4-11 .3 3 .3-4.3 .4 7.8 .3 9.8 .3 .5 .4-2.7 .3-16.1 .3 9.6 .4-.2 .3 9.4 .3-24.9 .4 7 .3 16.1 .3-18.2 .4 3.5 .3 1.7 .3-10.8 .4 24.3 .3-20.9 .3-2 .4 8.4 .3 14.3 .3-4 .4-1.6 .3-11.1 .3 27.8 .4-31.7 .3-1.5 .3 2.9 .4 1.5 .3 12 .3-13.3 .4 23.2 .3-21.7 .3 0 .4 .6 .3-1.3 .3 29.8 .4-29 .3 12.9 .3-13.2 .4-1.9 .3 6 .3 1.9 .4-.5 .3 8.4 .3-15.2 .4 16.7 .3-10 .3-1.5 .4-5.3 .3 16.7 .3 5.1 .4 10.8 .3-11.3 .3-11.7 .4-7.2 .3 3.7 .3 4.4 .4-2.6 .3 7 .3 11.9 .4-13.5 .3-16.9 .3 1.7 .4 8.2 .3-1.5 .3 9.4 .4-1.7 .3-15.7 .3 13.3 .4 5.1 .3-9.3 .3-2.7 .4-3.8 .3 2.9 .3 17.2 .4-26 .3 24.1 .3-8.7 .4 7.4 .3 10.9 .3-4.6 .4-38.3 .3 19 .3 8.2 .4-15.1 .3 2.8 .3 5.8 .4-5.8 .3 7.9 .3 8.7 .4 .3 .3-15.9 .3-2.3 .4-4.3 .3 4.5 .3 11.8 .4-7 .3-1.2 .3 15.1 .4 1.1 .3 12.5 .3-19.6 .4-17.7 .3 17.1 .3 30 .4-13.5 .3-15.4 .3 27.7 .4-12 .3-13.5 .3 3.2 .4-3 .3 3.9 .3-18.6 .4 8.8 .3 20.1 .3-19.4 .4-7.3 .3 9.6 .3 11.5 .4-17.9 .3 28.5 .3-29.1 .4 .8 .3 16.9 .3-32.1 .4 21.8 .3-.6 .3-7.4 .4-.6 .3-8.7 .3 7.5 .4 18.8 .3-15.4 .3-.8 .4-2.2 .3 1.4 .3-2.1 .4-2.4 .3 5.3 .3-11.5 .4 27.3 .3-9.3 .3-7.5 .4 17.1 .3-19.6 .3-8.9 .4 10.2 .3 6.9 .3 .7 .4-.7 .3 1.6 .3 16.4 .4-15.4 .3-6.4 .3-2.1 .4 1.2 .3 30.1 .3-33.7 .4 2.1 .3 .4 .3 22.5 .4-22.4 .3 3.7 .3-8 .4 1.9 .3 20.4 .3-9.9 .4-3.2 .3 8 .3 8.9 .4-25.7 .3 9.2 .3 1 .4 3.3 .3-12.1 .3 1.9 .4-3.3 .3 11.4 .3 .4 .4-12.6 .3 5.2 .3-2.1 .4 12.2 .3-9.7 .3 21.3 .4-23.3 .3 9.3 .3 6.5 .4-19 .3-5.6 .3-2.1 .4 22.7 .3-.8 .3 13.2 .4-.7 .3-17.3 .3 16.4 .4-26.5 .3 21.3 .3-25.4 .4 8.3 .3-8.8 .3 9.9 .4 19.2 .3-22.9 .3 14.6 .4-4.3 .3-15.2 .3 6.1 .4 15.5 .3-16.8 .3 13.4 .4 .3 .3-4.2 .3-5.7 .4-4 .3 3.1 .3 13 .4 1.4 .3-18 .3 13.9 .4 2.3 .3-14.2 .3 2.7 .4-2.9 .3-2.6 .3 9.8 .4 13.1 .3-9.9 .3-5.3 .4 12 .3 .9 .3-15.1 .4 29.6 .3-30.7 .3 .8 .4 0 .3-4.5 .3 11.2 .4 11.7 .3-24.6 .3 9.7 .4 19.5 .3-22.1 .3-8.4 .4 6.6 .3-8.4 .3 9.2 .4 17 .3-15 .3 7.2 .4-9.1 .3 15.9 .3-6.6 .4-.6 .3-13.9 .3-4 .4 21.9 .3-18.4 .3 40.6 .4-25.1 .3-.3 .3-18.8 .4 11 .3 8.7 .3 5.4 .4-26.4 .3 24.5 .3-17 .4-.4 .3-1.1 .3 7.7 .4-2.7 .3 11.1 .3-2.7 .4-11.3 .3-1.9 .3 10.1 .4 8.3 .3-16.4 .3-.4 .4 19.4 .3 4.9 .3-27.2 .4 8.3 .3-4.1 .3 21.3 .4-8.8 .3-8.6 .3-5.2 .4-.5 .3 1.4 .3 21.1 .4-24.3 .3 4.4 .3 14.2 .4-17.3 .3 23.6 .3-19.9 .4-8.6 .3 20.9 .3-21 .4 6.8 .3 32.4 .3-6 .4-30.6 .3 2.8 .3-4.9 .4 7.6 .3 4.3 .3 20.6 .4-21.4 .3 5.7 .3-3 .4-11.9 .3 20.4 .3-20.7 .4 17.3 .3-4.1 .3 12.8 .4-9.1 .3-13.2 .3 12.5 .4-11 .3 8.6 .3 9.2 .4-16.4 .3-5.5 .3 .7 .4 12 .3-2.2 .3 2.8 .4-16.4 .3 2.8 .3-1.7 .4-.2 .3-6.7 .3 5.8 .4 1.6 .3-3.3 .5 1.5 .5-2.8 .5 .3 .5-2.9 .5 4.7 .5 9.4 .5-18.2 .5 9.1 .5-14.8 .5-.8 .5-2.8 .5 .7 .5 1.4 .5-8.1 .5-2.7 .5 4.3 .5-6 .5-1.1 .5 1.4 .5-10.5 .5 2.7 .5-4.7 .5-1.1 .5-2.3 .5-9.8 .5-8.1 .5-7 .5 7.1 .5-.2 .5-2.1 .5-3.3 .5 7.4 .5-1.2 .5-6.8 .5 2.7 .5 9.2 .5-5.5 .5-12.7 .5 1 .5 1.9 .5-1.8 .5 7.4 .5-4 .5-9.7 .5-4.2 .5 2.4 .5-1.8 .5-3.9 .5-7.2 .5-11.6 .5-8.3 .5-8.4 .5-8.7 .5-10.5 .5-9.7 .5-12.8 .5-14.4 .5-10.4 .5-17.4 .2-9.1 .2-4.2 .2-6 .2-5.4 .2-7.9 .2-5.9 .2-7.8 .2-10.1 .2-16.7 .2-33.3 .2-82.1 .1-96.5 .1 96.8 .2 83 .2 30.1 .2 15.9 .2 12.1 .2 9.2 .2 4.6 .2 9.5 .2 6.4 .2 9.7 .2 5.2 .2 2.7 .2 4.2 .2 3.4 .5 12.6 .5 15.8 .5 10.5 .5 6.3 .5 10 .5 14.7 .5 10.9 .5 7 .5 4.5 .5-3.9 .5 2 .5 10.1 .5 10.4 .5-.9 .5 3.8 .5 12 .5 1.1 .5-1.9 .5 10.4 .5-2.7 .5-12.5 .5-16.2 .5-7.9 .5-3 .5-5.3 .5 9.7 .5 20.7 .5 6.2 .5 1.7 .5 4.2 .5 5.8 .5-1.8 .5 4.8 .5 .2 .5-5.7 .5-10.7 .5-7.1 .5 5.9 .5 13.5 .5 .4 .5-1.3 .5-1.4 .5 6.5 .5 9.5 .5-3.6 .5 13.4 .5 7.4 .5 8.6 .5 4.8 .5 2.2 .5-6.2 .5 1.1 .5 10.7 .5-6.9 .5 11.5 .5-6.6 .5 2.6 .5 6.6 .5-3 .3 6 .4-.7 .3-2.9 .3 6.4 .4 5 .3-.5 .3-1.8 .4-2.7 .3 10.5 .3-3.3 .4 2.7 .3-21.3 .3 17.5 .4-6.3 .3 24.7 .3-19.7 .4-7.9 .3 20.3 .3-12.3 .4 13.6 .3-19.5 .3 21.8 .4-16.8 .3 4.3 .3-9.6 .4 8.2 .3 1.4 .3-7.5 .4 5.4 .3 18.3 .3 2 .4-5.4 .3-15.3 .3-3.7 .4 11.9 .3-12.8 .3 3.7 .4 20.4 .3-7.7 .3-11.1 .4 15.4 .3 1.6 .3-7.5 .4-16.1 .3 2.4 .3-1.3 .4 3 .3 18.2 .3-19.2 .4 1.1 .3-6.7 .3 16.8 .4-6.5 .3-7.5 .3 12.8 .4-5.3 .3 33.9 .3-23 .4-12.7 .3 26.6 .3-17.3 .4-8.7 .3 11.8 .3-11.5 .4 18.8 .3-5.1 .3-13.8 .4 7.4 .3-13.6 .3 6.2 .4 8.6 .3 0 .3-7.1 .4-3.6 .3 2.5 .3 18.9 .4-2.9 .3-15.6 .3 16.3 .4-14.5 .3 20.1 .3-24.5 .4 2.4 .3 6.1 .3 15.9 .4-21.3 .3-3.1 .3-3.2 .4 8.9 .3 33.9 .3-15.3 .4-21 .3 13.4 .3-22.5 .4 30.5 .3-30.7 .3 2.5 .4 22.4 .3-20.9 .3 11.1 .4-8.2 .3-1.3 .3 3.4 .4 4.2 .3-12 .3 33.1 .4-24.5 .3 10.1 .3-12.5 .4-3.6 .3 22.3 .3-17.1 .4 2.6 .3 14.1 .3-1.9 .4-17.5 .3 15.9 .3-14.9 .4 12.1 .3-10 .3 8.9 .4-11.7 .3 4 .3 7.4 .4-12.5 .3-2.4 .3 6.3 .4 6 .3-6.4 .3-1.5 .4 19.2 .3-17.3 .3 8 .4-8.9 .3 4.7 .3-3.3 .4-.5 .3 16.2 .3-13.9 .4-.7 .3 1.9 .3 10.7 .4-9 .3 6.8 .3 15.3 .4-32.3 .3 11.3 .3-8.3 .4 .7 .3 6.5 .3-6.8 .4-1.1 .3 27.5 .3-23.6 .4-6.3 .3 16.8 .3-15.3 .4 3.1 .3 34 .3-13 .4-11.7 .3 9.2 .3-16 .4 3.7 .3-5.2 .3-7.5 .4 20.3 .3-15.8 .3 4.9 .4-6.9 .3 23.4 .3-24.8 .4 20.2 .3-16.2 .3 7.5 .4-9.3 .3 3.2 .3 1.7 .4 12.1 .3-6 .3-17.3 .4 6 .3 8.5 .3-9.2 .4 32.9 .3-28.1 .3-1.1 .4 2.3 .3-.4 .3-3.5 .4-2.2 .3 4.2 .3-7.9 .4 9.4 .3 10.1 .3-4 .4-10.8 .3-.5 .3 15.9 .4-15 .3 .6 .3 15.6 .4-15.9 .3 10.7 .3-3.2 .4 12.2 .3-6.9 .3 1.8 .4-8.5 .3 14.3 .3-10.9 .4 1.9 .3 4.7 .3-16 .4 .4 .3 1.2 .3 2 .4 13.7 .3-16.9 .3 6.4 .4 2.3 .3-5.7 .3 17 .4-2.4 .3-20.1 .3 0 .4 26 .3-18.2 .3-9.5 .4 3.5 .3 10.1 .3-2.6 .4-7.7 .3 11.9 .3-2.5 .4 13 .3-23.9 .3 24.6 .4-21.6 .3 16.4 .3-19.2 .4 3.5 .3 7.8 .3-5.8 .4-2.1 .3-4.1 .3 3.9 .4 4.8 .3 3.9 .3-9.4 .4 2.9 .3-3.8 .3-.9 .4-9.3 .3 3 .3 30.9 .4-26.7 .3 .5 .3 25.4 .4-15.4 .3-4.6 .3 .5 .4-2.5 .3 .8 .3-1.9 .4 .4 .3 41 .3-40 .4-2.9 .3 5.2 .3-5.2 .4 10.4 .3 6.8 .3-1.9 .4-15 .3 6.4 .3 .9 .4 10.1 .3-19.5 .3 22.4 .4-23.6 .3 11 .3 6.3 .4-.5 .3-4.1 .3 4.3 .4 17.6 .3-33.5 .3 6.7 .4 .2 .3 1.9 .3 18.2 .4-10 .3-4.6 .3-2.1 .4-6.4 .3 6.1 .3 9.5 .4-9.8 .3-7.8 .3 3 .4-1.1 .3 .9 .3-3.9 .4 8.6 .3-7.4 .3-1.3 .4 3.5 .3 1.6 .3 19.9 .4-5.5 .3-15.1 .3-.8 .4 .2 .3 16.6 .3 21.5 .4-28.7 .3-4.9 .3 14.6 .4-26.3 .3 9.6 .3 2 .4-14.2 .3 24.4 .3-15.3 .4-2.7 .3 31.1 .3-22.4 .4 8.1 .3 .8 .3-8.9 .4-6.7 .3 15.5 .3 2.3 .4-15.5 .3 27.2 .3-30.5 .4 25.6 .3-19.2 .3-3.6 .4 30.1 .3-28.1 .3 10 .4 13.7 .3-29 .3 12.7 .4-2.3 .3-9.8 .3-3.6 .4 5.8 .3 2.7 .3-.8 .4 3.1 .3-3.5 .3-7.3 .4 31.8 .3-23.3 .3-1 .4 1.7 .3-2.9 .3-4.4 .4 17 .3-18.6 .3 15.3 .4-9.4 .3 2.7 .3 7.7 .4-21.7 .3 9.4 .3 1.9 .4-6 .3 4.4 .3 8.1 .4-17.6 .3 6.4 .3 8.5 .4-.9 .3-10.3 .3 12.5 .4-2.7 .3 9.9 .3-14.8 .4 5.9 .3-4.4 .3 16.8 .4 2.4 .3-13.4 .3 12 .4 7.5 .3-13.2 .3-10.1 .4 9 .3 1 .3-6 .4-11.6 .3 18 .3-17.2 .4 6.2 .3 8.9 .3 4.9 .4-14.2 .3 5.7 .3 7.3 .4 4.9 .3-10.1 .3-7.2 .4 .7 .3 12.9 .3-14.9 .4 23.5 .3-10 .3 7.7 .4-11.1 .3-5.4 .3 3.2 .4 2.3 .3-12 .3 25.4 .4-23.3 .3 2.3 .3-4.5 .4 6.2 .3-3.2 .3 15.8 .4-23.1 .3 5.2 .3 28.6 .4-26.9 .3-1.8 .3 4.2 .4 4.2 .3-4.8 .3-.3 .4 3.6 .3-2.8 .3 4 .4-1.5 .3 26.4 .3-25.9 .4-7.3 .3 14.9 .3-9.8 .4-1.4 .3 5.6 .3-.4 .4-13.1 .3 5.4 .3-4.5 .4 13.1 .3-7.4 .3-1.3 .4 19.3 .3-16.9 .3 1.3 .4-5.9 .3 0 .3 3.2 .4 15.6 .3-16.9 .3 20.2 .4-17.1 .3 19 .3-18.5 .4-3.8 .3-2 .3 3.4 .4 4.8 .3 18.1 .3-25.3 .4 17.7 .3-20.1 .3 38.7 .4-9.1 .3-18.5 .3 1.6 .4 .7 .3-5.7 .3 7.3 .4-4.9 .3-.2 .3 15.1 .4-24.1 .3 19.7 .3-23.9 .4 5.1 .3 7.4 .3-4.1 .4-2.1 .3 13.2 .3-14.4 .4 26.3 .3-8.8 .3-12.1 .4-6 .3-.3 .3 17.9 .4-14.4 .3 20.6 .3-19.5 .4 11.1 .3-4.9 .3-5 .4-2.1 .3 12.8 .3-15.5 .4 13.8 .3-5.8 .3-2.2 .4-7.3 .3 5.6 .3 .5 .4 15.8 .3-10.9 .3-9.6 .4 9.3 .3-10.3 .3 4.7 .4 10 .3-7.1 .3-6.4 .4 2.5 .3 2 .3 11.9 .4-11.1 .3-1 .3 18.7 .4-8.5 .3 7.5 .3-18.4 .4 2.7 .3-1.1 .3 3.6 .4 .5 .3-4.8 .3-3.4 .4 8.4 .3-10.7 .3 21.7 .4-17.8 .3 4 .3 18 .4-20.5 .3-8.7 .3 5.1 .4 2.3 .3 2.9 .3 21.6 .4-11.5 .3 4.5 .3-13.2 .4 7.3 .3 1 .3-15.3 .4 20 .3-20.5 .3 4.1 .4-.8 .3 .3 .3 17.7 .4-10.5 .3-2.1 .3-8.2 .4 .1 .3 6.9 .3-3.7 .4-4.8 .3 7.9 .3-2.1 .4 7.2 .3-9 .3 7.3 .4 22.7 .3-12.8 .3-15.9 .4 4.6 .3-4.6 .3 20.3 .4 11.3 .3-31.7 .3-3.2 .4-5.7 .3 9.5 .3 7.9 .4-4.3 .3 7.8 .3-4.7 .4-6.3 .3 2.3 .3 4.7 .4-14.4 .3 2.7 .3 28.2 .4-23.9 .3 21.2 .3 .8 .4-9 .3-15.1 .3 34.9 .4-34.9 .3 1.2 .3 9.1 .4-13 .3 7.2 .3-6.2 .4-2 .3 15.5 .3-12.3 .4 1.4 .3 .4 .3 2.9 .4-7.2 .3 2 .3 4.5 .4-1.1 .3 6 .3 22.2 .4-25.6 .3-4.1 .3 35.5 .4-35.1 .3 8.1 .3-10.1 .4 2.2 .3-2.8 .3 13.6 .4-8.8 .3-7 .3 7.1 .4-12.1 .3 10.7 .3 12.1 .4-10.6 .3 3.2 .3-4.6 .4-5.3 .3-.7 .3 10.8 .4-8.2 .3 9.2 .3 27.8 .4-33.4" fill="none" stroke="#bddf26" stroke-width="2.8" stroke-linejoin="round" stroke-linecap="square" clip-path="url(#cb)"/>
<path d="M1169.5 569.2l.3 30.3 .4-22.3 .3-3.2 .3 13.9 .4-15.1 .3 3 .3-2.8 .4-.7 .3 13.1 .3-1 .4 4.6 .3-6.5 .3-7.1 .4 14 .3-5.6 .3 .8 .4-6 .3 5.4 .3-6.6 .4 .9 .3-6.3 .3 6.4 .4 13.2 .3 8.6 .3-11.8 .4 11.2 .3-24.4 .3 27.6 .4-30.7 .3 0 .3-1.9 .4 26.5 .3-25.4 .3 2.1 .4 7.2 .3-4.3 .3-3.2 .4 2.5 .3 16.7 .3-11.8 .4 5 .3-5.6 .3-.6 .4-5.8 .3 13.3 .3-12 .4 3 .3 .5 .3-2.5 .4 8.7 .3-.4 .3-11 .4 11.1 .3-9.5 .3 19.2 .4-23 .3-.9 .3 4.3 .4-.8 .3 20.5 .3-17.4 .4-3.6 .3 3.6 .3-8.4 .4 19.1 .3-10.8 .3 4.7 .4 9 .3-16.2 .3 1.9 .4 1.7 .3 15.2 .3-16.2 .4-6.1 .3-2.1 .3 15.6 .4 11 .3-.9 .3-14.8 .4 5.2 .3 12.1 .3-18 .4 3.7 .3 .2 .3-14 .4 7.5 .3 5.3 .3-13.9 .4 5.9 .3-4.1 .3 5.2 .4 6.8 .3 2.9 .3-2.2 .4 15.8 .3-25.9 .3 1.1 .4 23.7 .3-1.2 .3 18.6 .4-32 .3-6.6 .3 8.3 .4-1.7 .3 1.8 .3 10 .4-19.6 .3 20.5 .3-26.1 .4 2.4 .3 1.4 .3 16.9 .4-6.7 .3-6 .3-2.8 .4 20.9 .3-20.5 .3 3.1 .4 8 .3 11.3 .3-18.7 .4 4.6 .3-14.5 .3 18.7 .4-21.9 .3 26.7 .3-17.3 .4 14.1 .3-16.1 .3 11.2 .4 .5 .3-2.7 .3 .6 .4-6.4 .3 21.5 .3-14 .4 .8 .3-5.7 .3 5.2 .4-13.4 .3 12.9 .3-13.4 .4-2.4 .3 10.8 .3-7.6 .4 9.9 .3 18.9 .3-20.5 .4 19.4 .3-10.8 .3 6.7 .4-16.1 .3-1.6 .3-4.1 .4 .4 .3 12.9 .3 7.6 .4-13.1 .3-7.5 .3 .8 .4-1 .3 23.1 .3-19.2 .4 23.4 .3-19.2 .3-6.3 .4 14.1 .3-4.9 .3 2.4 .4-12.1 .3-2.8 .3 2.8 .4 2.6 .3 30 .3-33.5 .4 1.7 .3 13.4 .3-8.5 .4-8.8 .3 8.1 .3-5 .4 8.6 .3-8.3 .3 9.8 .4-5.1 .3-4.3 .3 31.5 .4-16.1 .3 1.3 .3-12.5 .4-6.9 .3 6.8 .3 13.6 .4 .8 .3-16.7 .3-2 .4 .2 .3 9.4 .3-4.9 .4 9.1 .3 9.4 .3-20.3 .4 5.2 .3 7.6 .3-15.3 .4-4.1 .3 5.7 .3 2.9 .4 21 .3-16.7 .3 17.2 .4-9.9 .3-11.7 .3 8 .4-8.6 .3-.2 .3 6.3 .4-2.6 .3 15.9 .3-18.7 .4 5.5 .3-8.6 .3-1.1 .4 15.4 .3-21.2 .3 12.2 .4 2.6 .3-9.1 .3-.1 .4 23.6 .3-12.1 .3 21.3 .4-13.7 .3 7.2 .3-17.8 .4-13.3 .3 25.8 .3 1.1 .4-22.1 .3 22 .3-19.9 .4-2.3 .3-2.4 .3 14.5 .4-1.1 .3-6.6 .3-.3 .4 1.5 .3-4 .3 4.4 .4-1.2 .3 25.1 .3-42.8 .4 18 .3-3.6 .3-5.6 .4 20.6 .3-7 .3-6.5 .4-2.1 .3 1.9 .3 5.3 .4-7 .3 2.7 .3-1.3 .4-2 .3 26.2 .3-17.2 .4 1.7 .3-5.5 .3 2.8 .4-9.8 .3 11.2 .3 7 .4-3.7 .3-15.8 .3 4.5 .4 1.4 .3 .5 .3 10.6 .4-12.6 .3 .4 .3-.3 .4 19.1 .3-17.1 .3-1.3 .4-1.7 .3 6.3 .3-5.1 .4 28 .3-6.9 .3-26.3 .4 2.7 .3 6.9 .3-13.8 .4 11.6 .3-2.7 .3 8.6 .4-8.1 .3 5.3 .3-1.8 .4 15 .3-2.7 .3-13.9 .4 18.6 .3-.9 .3-7.3 .4-17.3 .3 10.8 .3-8.2 .4 9.3 .3-11.7 .3 5.7 .4 2.2 .3 5 .3 11.8 .4-17.5 .3-2.5 .3 21.7 .4-8.4 .3-13.6 .3 2.5 .4-6.6 .3 4.9 .3-3.8 .4 29.9 .3-29.6 .3 16 .4 4.2 .3-14.4 .3-9.9 .4 7.6 .3 16.6 .3-19.5 .4 3.1 .3 18.9 .3-18.9 .4-1.6 .3-5.7 .3-.7 .4 29.6 .3-23 .3 24 .4-3.4 .3-15.2 .3-4.3 .4 15.1 .3-13.2 .3 6 .4-3.7 .3-2.9 .3 2.2 .4-7.4 .3-4.2 .3 9.6 .4-3 .3 3.7 .3-4.4 .4-2.4 .3 4.8 .3 13.6 .4-11.8 .3-.1 .3-2.9 .4 5.2 .3-4.9 .3 7.8 .4-3.3 .3-.5 .3 12.6 .4-.9 .3-9.6 .3-9.5 .4 2.1 .3 10.4 .3-3.1 .4 2.7 .3 8.1 .3-19.8 .4 1.1 .3-1.5 .3 5 .4-2 .3 21.6 .3-10.3 .4-16 .3 14 .3-8.2 .4 1.6 .3 10.1 .3-18.1 .4 21 .3 9.1 .3-29 .4 6.2 .3 7.4 .3-5.3 .4 17 .3-19.1 .3 2.7 .4-3.8 .3-1.7 .3 12.8 .4 10 .3-23.6 .3 11.3 .4-10 .3-.6 .3-7 .4 6.1 .3-1.3 .3 20.9 .4-16.7 .3 16.2 .3-11.5 .4-8.9 .3 14.4 .3-12.9 .4 27.5 .3-26 .3 .3 .4 29.8 .3-28.3 .3-2.9 .4 7.7 .3 5.6 .3-13.1 .4 .6 .3-2.1 .3 34.1 .4-21.4 .3-11.7 .3 24 .4-22.5 .3 1.8 .3 4.2 .4-6.1 .3 2.9 .3-1.6 .4 12.4 .3-6.5 .3-7.8 .4 13.5 .3-7.4 .3 20.3 .4 15.2 .3-35.2 .3-12.3 .4 14.4 .3 10.3 .3-7.3 .4-5.6 .3 4.9 .3-4.8 .4-1.9 .3 6.7 .3 5.2 .4-21.9 .3 7.8 .3-1.5 .4 16 .3-13.7 .3 1.3 .4-2.9 .3 1.2 .3-2.3 .4 5.8 .3-6.4 .3 20.8 .4-16.3 .3 16.3 .3-14.9 .4 5.4 .3 26.3 .3-39.5 .4 8 .3-3 .3 1 .4-5.7 .3 6.9 .3-5.6 .4 21.3 .3-7.5 .3 17.6 .4-33.2 .3 7.1 .3 6.2 .4-7.4 .3-12.2 .3 46.8 .4-27.7 .3-1.6 .3-2.1 .4-10.4 .3 25.1 .3-19.9 .4 3.2 .3 9.2 .3 6 .4-18.4 .3-1 .3 19.5 .4-2.4 .3-2.5 .3-16.6 .4 3.7 .3-4 .3 25.8 .4-5.7 .3-3.6 .3 6.8 .4-21.2 .3 .4 .3-1.3 .4 22 .3 4.8 .3-20.8 .4-5.5 .3-1.5 .3-2.5 .4 43.1 .3-25.6 .3-16.3 .4 8 .3-6.6 .3 5 .4 24 .3-17.3 .3 2 .4 6.5 .3-9 .3-9.9 .4 14.8 .3-15.7 .3 4.6 .4-2.4 .3 6.5 .3-6.1 .4 6.4 .3-5.3 .3-.2 .4 1.7 .3 5.7 .3-5.6 .4 17 .3-12.3 .3-6.5 .4 5.9 .3 2.7 .3 2.7 .4-18.7 .3 1.8 .3 2.8 .4 6.8 .3 .6 .3 4.3 .4 .2 .3-10.9 .3 1.3 .4 .7 .3-1.2 .3 9.5 .4-8.9 .3 7.2 .3 14.9 .4-17.7 .3 14.5 .3-.7 .4-27.2 .3 10.4 .3-9 .4 39.5 .3-31 .3 24.1 .4-15.9 .3-12.8 .3 7.8 .4-4.9 .3 24.2 .3-23.8 .4 21.2 .3-10.9 .3-13 .4 15.7 .3 7.7 .3 4.4 .4-26.1 .3 1 .3-1 .4 2.9 .3-7.1 .3 24.3 .4-5 .3 26.1 .3-42.7 .4 4.7 .3-6.7 .3 14.7 .4-6.5 .3 1.9 .3-4 .4-.4 .3-2.7 .3 .6 .4 30.7 .3-31 .3 5.4 .4-10.3 .3 4 .3 .3 .4 13.8 .3-5.2 .3 2.3 .4 .6 .3-6.8 .3 10.6 .4-12.2 .3 6.2 .3-8.9 .4 14.2 .3-2.7 .3 5.4 .4-6.4 .3-14.8 .3 19.2 .4 11.3 .3-33.4 .3 22 .4-9.4 .3-15.2 .3 19 .4-10.3 .3 4.5 .3 30.2 .4-37.1 .3 20.5 .3-14.9 .4-3.9 .3 19.6 .3-.6 .4-6.2 .3 12.5 .3-11.6 .4-4.2 .3 1.1 .3-2.4 .4-13.2 .3 6.3 .3 23 .4-22 .3 16.1 .3-15 .4-1.3 .3 10.3 .3 12.8 .4-14.4 .3-9.5 .3 3.2 .4 .5 .3-.2 .3 14.7 .4-21.4 .3 25.6 .3-7.3 .4-22.4 .3 5.8 .3 7.2 .4-11.1 .3 5.1 .3 4.1 .4 13.6 .3-6 .3-8 .4 .7 .3-15.8 .3 12.8 .4-1.1 .3 23.9 .3-12.5 .4 7.1 .3-5.1 .3 4.1 .4 10.6 .3-35.7 .3 24.2 .4-11.9 .3-11.1 .3 26.3 .4-17.3 .3 1.7 .3 2 .4-6.2 .3 .6 .3 6.5 .4-5.6 .3-5.9 .3 26 .4-13.6 .3-4 .3 8.1 .4-10.9 .3 21.2 .3 11.4 .4-25.7 .3-.3 .3-4.2 .4 19.9 .3-21 .3-7.2 .4 22.3 .3-27.3 .3 4.6 .4 34.7 .3-26.9 .3 12.9 .4-14.4 .3 .6 .3-4.6 .4 3 .3 13.5 .3-11.5 .4-3.4 .3 1.7 .3 22.8 .4-3.3 .3-16.8 .3 24.8 .4-32 .3 27.6 .3 11.3 .4-6.4 .3-29.4 .3 34.5 .4-37.6 .3 9.7 .3-2.8 .4-.4 .3 4.9 .3 11.1 .4-15.4 .3 19 .3-21 .4 19.4 .3-6.4 .3 .1 .4-13.9 .3 8.4 .3-5.9 .4 1.6 .3 14.3 .3-14.4 .4 5.6 .3 13.7 .3-26.2 .4 6.5 .3-2.1 .3 16 .4-2.5 .3 19 .3-40 .4 2.2 .3 23.4 .3-22.6 .4 4.2 .3 34.1 .3-37.1 .4 8.5 .3-2.6 .3 28.7 .4-26.4 .3 5.9 .3-8.6 .4 10.7 .3-2 .3-13.8 .4 16 .3-20.9 .3 10.9 .4-2.9 .3-.8 .3 3.3 .4 16.7 .3-16.4 .3-6.5 .4 5.6 .3 1.5 .3 10.6 .4-8.6 .3 9.5 .3-20.2 .4 4.6 .3 2.3 .3 8.6 .4-7.9 .3 14 .3-21.4 .4-4 .3 10.2 .3 29.7 .4-15 .3-20.4 .3 10.7 .4 4.9 .3 18.8 .3-8.9 .4-26.2 .3 6.6 .3-1.2 .4-1 .3-1.3 .3 3.5 .4 9.9 .3-10.4 .3 .1 .4 6.9 .3-12.9 .3 30.9 .4-22.8 .3 28.2 .3-7.9 .4-20.7 .3 8.1 .3 .8 .4-9 .3 11.8 .3-9.6 .4 5.8 .3-8.7 .3 14.5 .4-4.4 .3-14.1 .3 .6 .4 2.5 .3 11.8 .3 1.8 .4 22.5 .3-41.2 .3 8.1 .4-15.5 .3 22.2 .3-10.9 .4 4.9 .3-6.3 .3 23.9 .4-22.4 .3 17.5 .3-21.9 .4 15.1 .3-10.3 .3 17.2 .4-19.8 .3 6.2 .3-5.7 .4 1.1 .3-3.7 .3 .6 .4-1.4 .3 8.6 .3 16.8 .4-20.3 .3 4.4 .3-6.5 .4 6.8 .3-2.6 .3-10.1 .4 20.1 .3-9.4 .3 3.5 .4-9.8 .3 8 .3 1.7 .4-10.4 .3 3.4 .3 15.4 .4-14.2 .3 .9 .3-5.1 .4 22.1 .3-18.6 .3 7.2 .4 4.2 .3-1.8 .3 2.7 .4 11 .3-4.6 .3-8.1 .4-9.8 .3 8.4 .3 7.8 .4-15.3 .3-4.5 .3 23.9 .4-20.8 .3-.4 .3 1.1 .4-6.6 .3-5.6 .3 3.4 .4 14.4 .3-4.1 .3-6.7 .4 5.9 .3-1 .3 1.8 .4 1.1 .3-1.9 .3-1.5 .4 10.8 .3-8.6 .3-5 .4 13.2 .3-2.1 .3-7.3 .4-7.1 .3-3.4 .3 10.6 .4 10.7 .3 7.5 .3-18.3 .4-2.7 .3-5.2 .3 .1 .4 4.4 .3 17.3 .3-4.7 .4-9 .3-2.8 .3-3.6 .4 6.2 .3-4.5 .3 11.1 .4-7.2 .3-2.9 .3 28.6 .4-25 .3 .8 .3-7 .4 6.5 .3 11.6 .3 2.3 .4-1.4 .3-19.7 .3 8.8 .4-5.2 .3 33 .3-20 .4-8.4 .3 26.3 .3-26.7 .4-1.9 .3 1.7 .3 5.2 .4-5.4 .3 18.9 .3-6.7 .4-13.7 .3 5.7 .3 6.8 .4-7.7 .3 1.3 .3 2.3 .4 8.3 .3-13.9 .3-.6 .4 7.7 .3-11.7 .3 19.3 .4 9.2 .3-15.8 .3-14.9 .4 2.9 .3 1.7 .3-1.4 .4-5.3 .3-1.6 .3 26.9 .4-21.6 .3 12 .3-15.1 .4 25.6 .3-20.6 .3 7 .4 5.4 .3 23 .3-36.9 .4 15.3 .3-3.9 .3-9.9 .4 .9 .3 1.2 .3 15.1 .4 3 .3-20.8 .3 6.4 .4 .6 .3 5.3 .3-26.5 .4 13.8 .3-7.3 .3 23.2 .4-18.6 .3 26.1 .3-9.7 .4 9.3 .3-26.6 .3 3 .4 13.2 .3-9.3 .3-6.7 .4 18.2 .3-10.9 .3-4.9 .4-2.9 .3 10.2 .3 2.1 .4-7.4 .3 2 .3 3.4 .4-3.3 .3-3.4 .3 2.3 .4 4.7 .3-3.4 .3-5.9 .4 5.8 .3 6.8 .3-10.9 .4 18.7 .3-17.8 .3 3.5 .4 3.3 .3 9.6 .3-14.7 .4 16.3 .3-5.8 .3 4.6 .4-24.6 .3 18.8 .3 19.4 .4-30.2 .3 9.1 .3 1 .4 3 .3-2.1 .3-3 .4 14.2 .3-18.8 .3-.9 .4-.3 .3 22.6 .3-24.1 .4 1.3 .3 6.6 .3-5 .4 .1 .3-4.6 .3-7.6 .4 7.8 .3 1.5 .3 25.4 .4-23.5 .3 20.9 .3-21.1 .4-5.5 .3 4.5 .3-6.5 .4 31.2 .3-25.4 .3 4.5 .4-1.7 .3 6.3 .3-10 .4-4.8 .3 8.1 .3-3.2 .4 2.9 .3-6.4 .3 6.4 .4-4.1 .3 2 .3 7 .4 .1 .3 3 .3-7.8 .4-8.3 .3 7 .3-2.7 .4 3.3 .3 10.9 .3-11.9 .4 1.9 .3 1.6 .3 5.4 .4 .8 .3-8.3 .3 .3 .4 4 .3 28.8 .3-38.6 .4 16.7 .3-2.5 .3-10.5 .4 1.8 .3 6.1 .3-5.6 .4 2.8 .3-2.4 .3-3.8 .4-2.6 .3 14.1 .3-12.7 .4 2.1 .3 .8 .3 21.3 .4-19.1 .3 .3 .3 2.7 .4-21.3 .3 14.6 .3 6.3 .4-7.7 .3 20.7 .3-10.6 .4-13 .3 8 .3 11.7 .4 17.2 .3-33.5 .3 1 .4 5.2 .3 .4 .3 6 .4-2.5 .3-2.8 .3-9.2 .4 19.7 .3 13.6 .3-16.9 .4-11.4 .3-3.2 .3 2.5 .4-.3 .3-5.2 .3 22.2 .4-24.2 .3 9.2 .3 22.9 .4-15.6 .3-8.1 .3 8.2 .4-10.1 .3 23.3 .3-25.6 .4-2.5 .3 4.4 .3 13.6 .4 1.6 .3 6.9 .3-6 .4 11.3 .3-31.4 .3 6 .4 16.2 .3 22.1 .3-38.2 .4 16.9 .3-22.6 .3 28.2 .4-9.3 .3-13 .3-.9 .4-5 .3-6.3 .3 31.8 .4-7.6 .3-10.7 .3-.5 .4 1.3 .3 2.4 .3-9.7 .4 13.2 .3-4.4 .3 12.6 .4-15.8 .3 13.4 .3-20.3 .4 9.2 .3 10.3 .3 4.5 .4-6.9 .3-10.8 .3-.7 .4 24.2 .3-22.5 .3-6.5 .4 18.1 .3 3.9 .3-29.2 .4 8.6 .3 9.4 .3 7.5 .4-11.9 .3-2.7 .3 3.1 .4 12.5 .3-15.7 .3 3.7 .4-5.8 .3 30.1 .3-25.2 .4 13.6 .3-26.6 .3 9.9 .4 8.3 .3-6.5 .3 25.9 .4-28.7 .3 4 .3 17.6 .4-16.8 .3-.9 .3 7.6 .4 1.3 .3-13.3 .3 22.5 .4-15.8 .3-7.7 .3-1.4 .4 28.8 .3 4.3 .3-22.5 .4 4.7 .3 5.5 .3-14.5 .4 11.9 .3-13 .3-5.5 .4 32 .3-24.6 .3-2.5 .4-6.8 .3 7 .3 1.5 .4 26.6 .3-19.7 .3 11 .4-2 .3-20.1 .3 .4 .4 20.4 .3-3.4 .3-10.4 .4-7.5 .3-4.9 .3 8.7 .4 11.5 .3-7.4 .3-7.5 .4 3.8 .3 3.2 .3-3.7 .4 .9 .3 1 .3 7.3 .4-15.8 .3 3 .3 4.4 .4-13 .3 32.9 .3-8.8 .4-.6 .3-16 .3 3.3 .4 36.9 .3-17.7 .3-15.5 .4 4.4 .3-4.6 .3 1.9 .4-16.3 .3 12.9 .3 18.4 .4-24.8 .3 13.1 .3-11.8 .4 11.1 .3-11.2 .3 4.8 .4-3.6 .3 3.1 .3 5.5 .4-4.3 .3 13.1 .3-6.3 .4 6.7 .3-11.1 .3 9.7 .4 6.7 .3-21.1 .3 7.9 .4-17.2 .3 46 .3-37.6 .4-.1 .3 6.5 .3-6.4 .4 3.2 .3 .6 .3 13.5 .4-11.6 .3-3 .3-.4 .4 2.8 .3 18.9 .3-13.8 .4-12.9 .3 22.1 .3-20 .4 7.5 .3 14.4 .3-11.4 .4 2.1 .3-10.6 .3-2.9 .4 5 .3 2.9 .3-13.7 .4 5.9 .3 22.6 .3-6.9 .4-5.1 .3 8.2 .3-18.6 .4 24.3 .3-8.2 .3-14.9 .4 6.7 .3-1.7 .3 14.4 .4 9.2 .3-21 .3 21.2 .4-31.5 .3 24.7 .3-.5 .4-22.8 .3 18.6 .3 6.2 .4-14.5 .3-7.8 .3 13.9 .4 3.7 .3-12 .3-5.2 .4 8.2 .3 3.1 .3-6.5 .4-7.2 .3 .7 .3 2 .4-2.3 .3 22.5 .3-18 .4-2.3 .3 1.4 .3 4.4 .4 2.7 .3 4.9 .3-12.3 .4-10.6 .3 15.7 .3 14.5 .4-9.8 .3 2.2 .3-22.1 .4 14.2 .3-8.2 .3 12.3 .4-18.3 .3 7.2 .3 5.6 .5-6.8 .5-7 .5 4.6 .5-9.1 .5-1.4 .5 16.1 .5-18.8 .5 .5 .5 .1 .5-5.1 .5-2.6 .5 2.4 .5-4.2 .5-.9 .5 3.6 .5-3.7 .5-2.3 .5-8.9 .5-7.9 .5-3.5 .5-1.4 .5-1.2 .5 8.1 .5-13.3 .5 5.2 .5 .9 .5-4.8 .5-7 .5 3.9 .5 3.2 .5-14.1 .5-2.4 .5 5.4 .5 5.9 .5-9.1 .5-1.1 .5-6.4 .5-3.9 .5 1.7 .5 4.5 .5 6.4 .5-5.9 .5-8.9 .5-4.3 .5-1.3 .5 1 .5-4.6 .5-3.4 .5-7.8 .5-7.4 .5-5.9 .5-9.2 .5-7.5 .5-11.6 .5-17.3 .5-15.5 .5-11.1 .5-11.6 .5-13.7 .2-4.9 .2-3.5 .2-5.2 .2-9.7 .2-6.1 .2-5.8 .2-7.8 .2-13.5 .2-18.6 .2-35.2 .2-102.3 .1-62.3 .1 112.7 .2 66.2 .2 27.9 .2 16.8 .2 8 .2 6.5 .2 9.6 .2 5.1 .2 5.3 .2 9.5 .2 8.3 .2 3.4 .2 8.3 .5 10.4 .5 10.2 .5 15.2 .5 10.2 .5 9.4 .5 8.8 .5 13.1 .5 10.4 .5 1.7 .5-6.2 .5 4.8 .5 14.9 .5 13.2 .5 2.9 .5 6.1 .5-4.9 .5 .7 .5 5.8 .5-10.3 .5-3.5 .5 10.9 .5 3.7 .5-8.4 .5-4.9 .5 9 .5 6 .5 4 .5-6.3 .5-2.1 .5-1.9 .5 4.7 .5-9.3 .5-9.4 .5 7.6 .5 11.2 .5 8.5 .5 .7 .5 8.8 .5-1.4 .5-2.8 .5 4.4 .5 1.9 .5-8.6 .5 6.4 .5 7.6 .5-6.4 .5-5.5 .5 19.8 .5 11.5 .5 19.6 .5-13 .5 3 .5 10.8 .5 .5 .5-14.4 .5 4.3 .5 9.9 .5 10.2 .5-7.4 .4-4.5 .3 3.7 .3 14.6 .4-11.6 .3 6.2 .3 7.9 .4-4.1 .3-.9 .3 11.2 .4-8.9 .3-16.8 .3 17.5 .4-16.2 .3 30.5 .3-15.6 .4-6.1 .3 .5 .3 5.9 .4 11.2 .3-17.6 .3-13.2 .4 10.8 .3-1 .3 .8 .4 12.9 .3-11.9 .3 20.4 .4-2.9 .3-18.5 .3 0 .4 6 .3 14.4 .3-12.3 .4-3.3 .3 6.8 .3 4.7 .4-5.4 .3 .3 .3 2 .4-11.5 .3 25.2 .3-6.5 .4-12.1 .3 4.9 .3-16.9 .4 8.5 .3 1 .3 18.8 .4 15.4 .3-22.1 .3 .8 .4-16.6 .3 1.3 .3-4.5 .4 38.3 .3-28.1 .3-6.1 .4-.1 .3-8.7 .3 15.6 .4-10.9 .3 14 .3-4.7 .4-2.3 .3 9.1 .3-11.1 .4-2.1 .3 21.6 .3-18.1 .4-4.3 .3 1.9 .3-.6 .4 14.7 .3-9.4 .3-5 .4 16.9 .3 2 .3-16.6 .4-7 .3 14.5 .3-3.9 .4 9.9 .3-18.8 .3 14.1 .4-11.3 .3 33.6 .3-23.6 .4 1.7 .3-.4 .3-10.7 .4 27.7 .3-11.9 .3-16.7 .4 3.7 .3-2.5 .3 22.9 .4-18.9 .3 1.8 .3 .3 .4 .3 .3 11.2 .3-10.7 .4 4.4 .3-2.4 .3-9 .4 8.3 .3-13.4 .3 18.2 .4-14.2 .3 6.5 .3-7.9 .4 27.7 .3-23.6 .3 1 .4 .2 .3-7 .3 3.3 .4 2.5 .3 9.8 .3-10.7 .4-1.6 .3 6 .3 15.1 .4-10.7 .3 25.4 .3-22.7 .4-5.5 .3 10.2 .3-16.1 .4 9.8 .3 16.5 .3-29.2 .4 23.9 .3-19.6 .3-2.4 .4 .5 .3-3.1 .3-2.9 .4 7.8 .3-.5 .3-2.4 .4 2.7 .3-3.4 .3-2 .4 2.3 .3 18.3 .3-11.6 .4 6 .3-5.8 .3-9.2 .4 6.9 .3 6.9 .3-1.9 .4-6.9 .3 8.2 .3 8.8 .4-19.1 .3 18.3 .3-2.9 .4-13.2 .3 19.4 .3-15 .4-6.7 .3 22.5 .3-12.3 .4-10 .3 0 .3 17.4 .4 .3 .3-16.5 .3-4.5 .4 26.1 .3-13.3 .3-23 .4 13 .3 7 .3 7.9 .4 1.9 .3-15.5 .3 1.8 .4 18.2 .3-6.7 .3-14.3 .4 12.2 .3 7.4 .3-9.3 .4-9.5 .3 1.7 .3 .6 .4 19.3 .3-7.2 .3-2.4 .4 1.1 .3-11.7 .3 1.6 .4-3.1 .3 .5 .3 10.6 .4 17.4 .3-9.1 .3 1.6 .4-14.8 .3-5.1 .3 6.4 .4 3.1 .3-11.2 .3 2.9 .4 2.1 .3-4 .3 8.6 .4-8.3 .3 13.8 .3-5 .4-11.6 .3 3.7 .3 11 .4-13.2 .3 3.8 .3 4.1 .4 .3 .3-6.1 .3 4 .4-3 .3-1.6 .3-8.8 .4 17 .3-8.5 .3 15.9 .4-19 .3 24.9 .3-14.6 .4 6.4 .3-3.7 .3-4.6 .4 12.8 .3-11.9 .3-2.3 .4 .8 .3-6.9 .3 16.6 .4-2.8 .3 3.6 .3 13.9 .4-23.8 .3 6.4 .3-22.6 .4 31.1 .3-16.8 .3 1.4 .4-6.6 .3 8.2 .3-12.8 .4 4 .3-3.1 .3 3.3 .4 10.3 .3 2.6 .3-15.7 .4 2.5 .3 12.9 .3 1.9 .4-8.4 .3-2.7 .3 29.3 .4-24.6 .3 6.7 .3-3.8 .4-11.8 .3 1.3 .3 1.7 .4-2.7 .3 3.3 .3-.8 .4 28 .3-10.2 .3-12.7 .4 24.8 .3-23.2 .3 27.4 .4-12.4 .3-13.6 .3-7.2 .4 24.6 .3-27.9 .3 32.5 .4-35.8 .3 15.9 .3-11.3 .4 4.9 .3-10.3 .3 24.1 .4-12.8 .3-6 .3 2.7 .4 .6 .3-4 .3 5.3 .4 24.8 .3-21.4 .3-9 .4 12.6 .3-14.8 .3 .1 .4 11.6 .3-2.8 .3-7.7 .4 22 .3-21.8 .3 17.5 .4-.3 .3-11 .3-1.2 .4-7.3 .3 1.2 .3 4.6 .4 4.7 .3 9.3 .3-7.3 .4 4.3 .3-9.5 .3 12.5 .4 12.6 .3-27.3 .3 1.4 .4 25.9 .3-32.1 .3 10.5 .4-8.5 .3 0 .3 10.1 .4-9.7 .3 1.5 .3 1.8 .4 11.5 .3 3.9 .3 2 .4-4.8 .3 4.1 .3-19.5 .4 5.1 .3 21.1 .3-16.6 .4-4.9 .3 24.4 .3-10.3 .4-19.1 .3-3.4 .3 6.1 .4 1.4 .3-1.8 .3 14 .4-3.2 .3-5.4 .3 9.8 .4-1.4 .3-15.3 .3 11.4 .4-12.7 .3-1.6 .3 2.9 .4 32.5 .3-37.6 .3 6 .4 25.2 .3-26.2 .3 30.1 .4-32.5 .3 23.5 .3-11.1 .4 8.2 .3-8.2 .3-16.5 .4 3.4 .3 16.5 .3-9 .4-1.9 .3-3.3 .3 5.8 .4 10.4 .3-12.3 .3 19.2 .4-16.3 .3 5.3 .3-11.7 .4 2.9 .3 7.7 .3-9.8 .4 26.9 .3-13.3 .3 3.6 .4-5.5 .3 12.7 .3-23.9 .4 2.7 .3 15.5 .3-21.5 .4 12.1 .3-.8 .3-6.6 .4 5.8 .3 22.6 .3-30.2 .4 3 .3-1.4 .3 10.2 .4-9.6 .3-1.8 .3-5.4 .4 16.8 .3-5.4 .3-5.9 .4 3.6 .3 1.9 .3-3.1 .4 4 .3 1.5 .3-1.3 .4-2.6 .3-.4 .3 10.1 .4-14.6 .3 14.1 .3-7.6 .4-2.4 .3 .7 .3 4.8 .4-9.3 .3 26 .3-25.7 .4 13.1 .3-11.9 .3 16 .4-13.5 .3 8.2 .3-1.7 .4 10.9 .3-19.8 .3 1 .4 14.5 .3-18.1 .3-5.1 .4 23.3 .3-23.7 .3 7.6 .4-3 .3 11.6 .3-4.9 .4-6.5 .3 2.1 .3-3.1 .4 22.9 .3-16.2 .3 11.5 .4-20 .3 15 .3-12.4 .4 1 .3 28.9 .3-24 .4 6.3 .3-9 .3 22.3 .4-16.1 .3 .7 .3 9.5 .4-4.4 .3-14.2 .3 4.3 .4 38.3 .3-34.3 .3-10.1 .4 36.5 .3-30.6 .3 17.6 .4-6.3 .3-14.4 .3-1.2 .4 42.8 .3-27.3 .3-4.9 .4-19.3 .3 22.3 .3-14.1 .4-.6 .3 2.1 .3 4.9 .4 9.8 .3-15.4 .3-.8 .4-5.6 .3 27.4 .3-28.4 .4 18.9 .3-7.3 .3 2.6 .4 6 .3-12.1 .3 4.3 .4 10.1 .3-21.2 .3 48.6 .4-47.4 .3 28.5 .3-13.2 .4-5.6 .3 .1 .3 2.9 .4-4.1 .3-5.7 .3 4.5 .4 19.5 .3-19.8 .3 16.4 .4-13.3 .3-5.8 .3 6.7 .4 18.3 .3-9.9 .3-13.8 .4 4 .3 22.7 .3-16.9 .4-5.7 .3 17.7 .3-19.7 .4 16.2 .3-4.8 .3 6.1 .4-7.7 .3 15 .3-20.6 .4 5.8 .3 1.3 .3-11.4 .4-.2 .3-.1 .3 .4 .4 0 .3 16.9 .3-23.7 .4-.7 .3 6.9 .3 .5 .4-1.7 .3 1 .3-.6 .4-1 .3 9.7 .3-5.4 .4 7.9 .3 14.1 .3-29.7 .4 20.4 .3-17.3 .3 3.9 .4-1.4 .3-1.7 .3 11.8 .4 2.7 .3-20.5 .3 23.4 .4-10.5 .3-4.1 .3 29.5 .4-33.3 .3 1.8 .3 3.7 .4 23.9 .3-19.8 .3 16.2 .4-21.6 .3 15.8 .3-15.9 .4-2.6 .3 19.9 .3-11.5 .4-2.6 .3 7.7 .3-10.2 .4 20 .3-23.2 .3 4 .4-3.6 .3 2.9 .3 2.2 .4-6.5 .3 9.8 .3 2.1 .4-4.3 .3-4.2 .3 3.4 .4 .7 .3 14.4 .3-19.9 .4-5.5 .3 13 .3-13.6 .4 16.7 .3 11.1" fill="none" stroke="#dfe318" stroke-width="2.8" stroke-linejoin="round" stroke-linecap="square" clip-path="url(#cb)"/>
<path d="M1169.5 570.8l.3-.3 .4 13.5 .3-.1 .3 18.3 .4-8.3 .3-26.7 .3 23.1 .4-6.4 .3 3.7 .3 5 .4 11.4 .3-20 .3 1.1 .4 19 .3-27.9 .3 4.1 .4 4.6 .3-4.2 .3-.9 .4-3.1 .3 1.5 .3-3.7 .4-1.7 .3 3.8 .3 21.6 .4-16.9 .3-8.6 .3 1.5 .4 7.7 .3 .9 .3-15.7 .4 10.7 .3 7.5 .3-7.6 .4 12.2 .3-9.7 .3 11.9 .4 15.3 .3-24 .3 4.9 .4-16.3 .3 14.9 .3-13.1 .4 19.2 .3-11.9 .3 7.3 .4-10.9 .3-13.5 .3 12.6 .4 1.9 .3-6.9 .3-3 .4 0 .3 29.7 .3-2.6 .4-17.9 .3 11 .3-3.2 .4-4.7 .3-2.3 .3 15.6 .4-5 .3 1.8 .3-19.6 .4-.3 .3 21.1 .3 9.9 .4-25.5 .3-3.2 .3 1.9 .4 11 .3 2.3 .3-13.4 .4-.2 .3 15.4 .3-15 .4 19.2 .3-19.3 .3 3.3 .4 6.1 .3-5.4 .3 9.5 .4-16.1 .3 5.8 .3-4 .4 3.9 .3-1.2 .3 10.8 .4-9.1 .3 9.8 .3-10.1 .4-8.1 .3 14.4 .3-15.5 .4 42.2 .3-23.9 .3-15.6 .4 1.6 .3 1.6 .3 2.3 .4 17.2 .3-19.5 .3 22.4 .4-1.3 .3-12.3 .3-16 .4 6 .3 2.5 .3 14.8 .4 14.1 .3-27.3 .3-1.3 .4 8.1 .3 4.6 .3 16.3 .4-24.4 .3-7.4 .3-12.5 .4 13.6 .3 9.1 .3 16.2 .4-20.4 .3 2.9 .3-3 .4-2.6 .3 5.6 .3-4.7 .4 11.2 .3-9.2 .3 4.1 .4-7.2 .3-7 .3 31 .4-31.2 .3 2.3 .3-5.2 .4 9.1 .3 12.5 .3-11.8 .4 6.3 .3-11.6 .3 7.6 .4-4.8 .3 .8 .3 18.9 .4-11.1 .3-11.8 .3 5.6 .4 .5 .3-9.5 .3 19.1 .4-10.8 .3 12 .3 2.3 .4-14.6 .3 2.5 .3 5.7 .4 1.6 .3 4.9 .3-13.4 .4 .8 .3 9.4 .3 26.5 .4-2.6 .3-21.4 .3 2.6 .4-14.9 .3 2.4 .3-2.6 .4 12.1 .3-14.4 .3-.6 .4 4.7 .3-.8 .3-10.9 .4 8.1 .3-2.1 .3 20 .4-11.9 .3-10.4 .3 15.5 .4-13.4 .3 1.7 .3 13.5 .4-4.9 .3-8.6 .3 18.4 .4-8.5 .3-9.1 .3-11.9 .4 17.2 .3-8.3 .3 6.5 .4 9.2 .3-10.5 .3 14.9 .4-14.9 .3 .5 .3-4.8 .4-1.3 .3 21.3 .3-34.7 .4 19.6 .3 18.2 .3-24.4 .4 7 .3-1.1 .3-2.4 .4 1.6 .3 14.9 .3-20.9 .4 6.2 .3-3.5 .3 8.1 .4 6.8 .3-20.5 .3 1.9 .4 6.6 .3 1.4 .3-7.4 .4 24.9 .3-15.6 .3 3.2 .4 17.3 .3-16.5 .3-6.9 .4-5.6 .3 1.7 .3 4.4 .4-7.7 .3 19.8 .3-13.3 .4 1.8 .3-2.6 .3 20.2 .4-20.7 .3 24.3 .3-22.3 .4 4.1 .3-8.7 .3 7.6 .4-6.1 .3 11.3 .3-7.7 .4 6.2 .3-.1 .3-6.6 .4 .8 .3-.6 .3-9.6 .4 8.5 .3 10.7 .3-7.3 .4 4.6 .3 4.2 .3-2.3 .4 5.1 .3-14.1 .3-.9 .4 .7 .3 36.6 .3-37.3 .4 2.7 .3-6.5 .3 4 .4-2.4 .3 27.3 .3-18.9 .4-1.6 .3-4.1 .3-3.8 .4 1.2 .3 4.9 .3-1.8 .4-8.4 .3 14.7 .3-9.5 .4-4.5 .3 30.5 .3-22.8 .4 12.4 .3-10.7 .3 13.8 .4-16.2 .3 14.1 .3-4 .4-14.8 .3 4.2 .3-5.3 .4-1.4 .3 37.2 .3-26 .4-2.7 .3 8.8 .3 2.9 .4-6.3 .3 5.4 .3 5.9 .4-8.1 .3-11.5 .3 3.2 .4-2.9 .3 38.5 .3-49.8 .4 8.8 .3-.2 .3 16.1 .4 2.9 .3 .5 .3 12.3 .4-28.3 .3 2.2 .3-.8 .4 .5 .3 13.6 .3 3.4 .4-2.7 .3 2.5 .3-15.7 .4 37 .3-25.7 .3-9.5 .4-1.3 .3 18.9 .3-14.5 .4-5.9 .3 5.3 .3 6.5 .4-15 .3-4.1 .3 26.8 .4-15.2 .3-1.9 .3 16.3 .4-23.1 .3 1.1 .3-1.1 .4 3 .3-.1 .3-1.3 .4 7.2 .3-4.1 .3-5.2 .4 2.7 .3 .4 .3 1.1 .4 4.4 .3 7.8 .3-4.2 .4 2.8 .3-6.3 .3 8.8 .4-6.6 .3-9.7 .3 3 .4 13.8 .3-12.6 .3 3.5 .4-6.9 .3 16 .3 .5 .4-5.7 .3-10.2 .3 .9 .4 15.1 .3-20.9 .3 3.7 .4-.6 .3 23 .3-20.8 .4-3.1 .3-6.6 .3 19.1 .4-15.6 .3 6.4 .3 5.9 .4-7.3 .3 16.3 .3 1.2 .4-10.3 .3 24.5 .3-18.6 .4-.5 .3-15.5 .3 27.4 .4-40.7 .3 15.7 .3 26.8 .4-23.7 .3-5.5 .3-1.1 .4 3.7 .3 12 .3 10.4 .4 2.8 .3-16.9 .3-8.8 .4 29 .3-25.1 .3 .2 .4-4.8 .3 24.8 .3-17.3 .4 .1 .3-3.4 .3-1.6 .4 1.6 .3-3 .3 7.5 .4 15.9 .3-24.6 .3 29 .4-5 .3-12.7 .3-1.9 .4-7.4 .3 3.1 .3-5 .4 13.6 .3-17.7 .3 26.7 .4-9.3 .3-8.3 .3 17.4 .4-20.4 .3 12 .3-4.8 .4-8.9 .3 6.6 .3-13.5 .4 10.1 .3 9.6 .3-7.9 .4-4.3 .3 12.8 .3-1.9 .4-4.7 .3 21 .3-4.2 .4-7.4 .3-14.1 .3 3.3 .4-3.2 .3 10.1 .3-14.4 .4 13.7 .3-3.4 .3 21 .4-26.2 .3 1.1 .3 22.7 .4-38.2 .3 11.3 .3 1 .4 .6 .3 1.9 .3 4.5 .4-6.7 .3 .9 .3 13.1 .4-20.3 .3 33.4 .3-8.2 .4-15.1 .3 16.6 .3-24.6 .4 1.2 .3-5.3 .3 9.1 .4-2.2 .3 4.8 .3-4.2 .4 3.2 .3 6.5 .3-4.1 .4-4.7 .3-1.7 .3-3.2 .4 7.2 .3-.3 .3 1.4 .4 5.3 .3 19.6 .3-32.7 .4 25.6 .3-21.7 .3-2.6 .4 18.7 .3-17.4 .3 14 .4-9.3 .3 19.6 .3-14.9 .4-7.3 .3-1.5 .3 3.8 .4-2.3 .3 6.7 .3 11.3 .4 8.1 .3-16.2 .3-13.2 .4 21.8 .3-24 .3 26.7 .4-21.5 .3-1.6 .3 15.2 .4-19.2 .3 15.3 .3-5.1 .4-9.2 .3 21.4 .3-23.8 .4 3.3 .3-.3 .3 6.7 .4 .8 .3-1.9 .3-.7 .4 11.8 .3-11.1 .3-.7 .4-8.7 .3 11.1 .3 5.6 .4 16.4 .3-25 .3 6.5 .4-4.6 .3 6.5 .3-10.3 .4 6.4 .3 5.3 .3-6.8 .4-3.2 .3 1.1 .3-.9 .4 2 .3-.5 .3-2 .4 6.3 .3 15.1 .3-18.3 .4 .4 .3-5.8 .3-1.1 .4-7.3 .3 29.5 .3-3.1 .4-3 .3-15.1 .3 12.3 .4 17.5 .3-32.2 .3 2.8 .4 21 .3 11.1 .3 11 .4-29.3 .3-10.5 .3 .7 .4-2.4 .3-5.8 .3 17.5 .4-16.1 .3 7.2 .3 11 .4-4.8 .3-4.6 .3 1.5 .4 10.5 .3 7.5 .3-22.3 .4 17.9 .3-11.6 .3-5.9 .4 17.6 .3 10.3 .3-27.3 .4-2.3 .3 5.2 .3 4.6 .4-1.1 .3-9.7 .3 2.1 .4 4.8 .3 3.4 .3-8.4 .4-8.3 .3 6.5 .3 4.5 .4 8.6 .3 38 .3-28 .4-17.9 .3-7 .3 6 .4 12.6 .3-10.4 .3 7.7 .4-6.4 .3 6 .3 10.2 .4 18.2 .3-44.6 .3 2.5 .4-.4 .3 27.1 .3-12.8 .4-9 .3 8.3 .3-6.4 .4-2.8 .3-.8 .3-4.6 .4-2.5 .3 6.6 .3 19.1 .4-4.2 .3-3.5 .3-12 .4-3.3 .3 3.8 .3-2.6 .4 23.5 .3-24.8 .3-.8 .4 12.9 .3 8 .3-15.5 .4 14.4 .3-23.8 .3 15.6 .4-13.1 .3 5.5 .3 19.4 .4-18.5 .3 6.1 .3 3 .4-3.6 .3-4 .3-1.4 .4 1.8 .3 5.3 .3-3 .4-9.1 .3-2.2 .3 38 .4-12 .3-6 .3-2 .4-3.2 .3-8.1 .3 .6 .4 2.9 .3-12.4 .3 22.7 .4-11.8 .3-3.1 .3 9.9 .4-2.8 .3-9 .3 4.6 .4-4.9 .3 22 .3-9 .4-19.9 .3 12 .3 7.5 .4-6.9 .3-2.8 .3-1.5 .4 .1 .3 6.3 .3-6.2 .4 2.7 .3-.6 .3 .5 .4 8.4 .3-7.8 .3 16.3 .4 .7 .3-24.9 .3 27.3 .4-6.4 .3-3.7 .3 13.5 .4-24.3 .3 2.2 .3-12.5 .4 13.5 .3-1.3 .3-15.8 .4 20.2 .3-6.9 .3 1.1 .4 14.8 .3-5 .3-10.5 .4 18.6 .3-21.8 .3 9.1 .4-6.3 .3 3.8 .3-12.9 .4 9.9 .3-.8 .3-4.8 .4 13.5 .3-.8 .3 10.9 .4-18.7 .3 0 .3 13.1 .4 .7 .3-15.5 .3 19.7 .4-8.8 .3-2 .3 4.2 .4 6.6 .3-15.1 .3-4.8 .4-5 .3 19.3 .3-5.2 .4 21.3 .3-29 .3 2.5 .4-5.9 .3 4.7 .3 16 .4-17.2 .3 2.8 .3 17.9 .4-23.5 .3 1.1 .3 7.4 .4 11.7 .3-2.6 .3 3.3 .4-14.8 .3 8.5 .3-8.1 .4 17.8 .3-1.6 .3-21.9 .4 28.2 .3-8.8 .3-11.4 .4 3.7 .3-12.3 .3-.6 .4 17.1 .3-13.2 .3 33.5 .4-21.5 .3 3.2 .3-16.8 .4-.8 .3 9.5 .3-9.9 .4 .4 .3 25.9 .3-36.3 .4 11.7 .3 0 .3 9.3 .4-2 .3-1.4 .3 11.1 .4-15.8 .3 8.7 .3-.7 .4 10.9 .3-17.9 .3-4.5 .4 14.6 .3-13.5 .3 .9 .4 3.7 .3-5.9 .3 18.6 .4-12.2 .3 5 .3 8.6 .4-10.8 .3-1.3 .3-3 .4-9.7 .3 4.8 .3 7.4 .4-3.5 .3 14.7 .3-15.6 .4 13.3 .3 3.5 .3 9.4 .4-24.8 .3 14.5 .3 3.7 .4-20.3 .3-2.6 .3 12.3 .4-2.3 .3-5.1 .3-7.9 .4 1.7 .3 5.2 .3-.4 .4 9.7 .3 5.8 .3-12.7 .4 10.2 .3-12.1 .3 .8 .4-13.2 .3 9.7 .3 12.5 .4 8.6 .3-8.4 .3-7.3 .4-5 .3-.9 .3 2.6 .4 1.7 .3 1 .3-3.3 .4 2.4 .3 12.8 .3-4.1 .4-15.2 .3 7.8 .3-14.9 .4 3.7 .3 16.2 .3-3.8 .4-6.1 .3 19.9 .3-7.4 .4-13.9 .3-1.3 .3 35.6 .4-11.3 .3-19.9 .3 9.2 .4-8.3 .3 12.5 .3-7.3 .4-11.1 .3 7.5 .3-4.4 .4 4.2 .3-.4 .3-1.6 .4 25.3 .3-28.3 .3 5.1 .4 2.2 .3-5.4 .3 34.9 .4-31.9 .3 25.2 .3-28.4 .4 1.1 .3-6 .3 4.5 .4 5.4 .3-2.6 .3 3.7 .4-2.6 .3 25.4 .3-25.5 .4 13.8 .3-14.1 .3-6.1 .4 8.5 .3-.1 .3 2.7 .4 5.1 .3-6.5 .3-12.1 .4 3.7 .3-6.2 .3 28.1 .4-18.5 .3-3.5 .3 6.2 .4 35.1 .3-41.8 .3 4.2 .4-8.3 .3 23.2 .3-18.2 .4 6.8 .3-6.6 .3 1.1 .4 22.1 .3-18.5 .3 18 .4-18.4 .3-8.8 .3 2.5 .4 23.2 .3-18.6 .3 1 .4 27.2 .3-35.5 .3 6.7 .4 13.1 .3 4.1 .3-5 .4 2.4 .3-14.3 .3 24.1 .4-13.4 .3 2.6 .3 16.9 .4-23.6 .3 4.1 .3-16.9 .4-.1 .3 5.2 .3 13.2 .4-1.4 .3-3.9 .3-12.9 .4 15.4 .3-16.5 .3 3.7 .4 13.6 .3-8.5 .3 4.4 .4-11.1 .3 28.5 .3-20.7 .4 30.4 .3-32.1 .3 27.6 .4-19.4 .3-11.8 .3 9.6 .4 6.3 .3-19.9 .3 19.7 .4-15.2 .3 4.3 .3 .4 .4-3 .3 9.7 .3 18.1 .4-26.1 .3 14.7 .3-18.9 .4 8.7 .3-3.9 .3 31.2 .4-30.4 .3-3.7 .3 11.9 .4-13.4 .3 4.5 .3 7.4 .4 23.7 .3-37.8 .3 19.3 .4 4.2 .3-12.6 .3-4.3 .4-.4 .3-1.2 .3-1.9 .4 21.1 .3-22.8 .3 3.3 .4 30.7 .3-32.3 .3-5.9 .4 7.9 .3-2.7 .3-.5 .4-1.3 .3 7.7 .3 9.7 .4-4.4 .3-12.9 .3 25.5 .4-25.7 .3 2.3 .3-5.2 .4 46 .3-44.3 .3 11.5 .4-9.3 .3 11.8 .3-8.1 .4-7.5 .3 7.1 .3-.7 .4 8.6 .3-12.7 .3 4.6 .4-3.2 .3 13.9 .3-6.1 .4-15.9 .3 9 .3-2.3 .4 6.3 .3 2.7 .3 8.9 .4-3.9 .3 5.8 .3 6.2 .4-13.9 .3-3.6 .3-3.4 .4 24.4 .3-19 .3-3.7 .4-7.3 .3 1.8 .3 4 .4 10.5 .3-11.5 .3 5.8 .4-8.6 .3-.1 .3 16.3 .4-16.7 .3 16.5 .3-2.5 .4 6.5 .3-9.6 .3 2 .4 11.4 .3-2.6 .3-3.2 .4-17.6 .3-4 .3 8 .4 19 .3 1.8 .3-6.3 .4-12.7 .3-4.3 .3-1.2 .4 .6 .3 .5 .3-4.3 .4 28.6 .3-24.4 .3-3.8 .4 11.6 .3-3.9 .3-.4 .4 8.3 .3-23.3 .3 16.6 .4 3.2 .3 24.9 .3-31.7 .4 2.4 .3 2.5 .3-5.9 .4 12.9 .3-10 .3 13.8 .4-15.3 .3 8 .3-4.9 .4 10.8 .3-16.9 .3-13.5 .4 22.8 .3-14.1 .3 5 .4-4 .3 7 .3-7.1 .4 12.8 .3-8.8 .3 1.2 .4 22 .3 4.5 .3-22.8 .4 .6 .3 14.3 .3-22.4 .4 6.4 .3-12.5 .3 2.4 .4 7.2 .3 10.9 .3-11.5 .4 4.5 .3-11 .3 10.4 .4 21.4 .3-23 .3 15.8 .4 2.4 .3-16.5 .3 6.9 .4-11.5 .3-2 .3 9.1 .4 1.4 .3-2.3 .3 6.2 .4 11.4 .3-20 .3 14.2 .4-14.2 .3 1.4 .3-.9 .4-1.2 .3 5.2 .3-.2 .4 .7 .3 10.3 .3-21.6 .4 10.9 .3-6.8 .3-8.2 .4-8.5 .3 57.4 .3-38.4 .4-9.1 .3 25.6 .3-15.5 .4-4.4 .3-3 .3 4.8 .4-.8 .3 18 .3-27.8 .4 25 .3-21.9 .3 8.2 .4-5.5 .3-1.6 .3 8.1 .4-4.3 .3 8 .3 4.9 .4-12.9 .3 3.1 .3 7.1 .4-10.8 .3 10.2 .3-.6 .4-2.2 .3-4.4 .3-3.8 .4 5.7 .3 17.4 .3-17.6 .4 4.9 .3 6.1 .3-12 .4 28 .3-23.2 .3-2.4 .4 2.5 .3 4.9 .3 16.2 .4-23.9 .3 2 .3-6.1 .4 1.6 .3-1.3 .3-4.1 .4 16.2 .3-13 .3 8.9 .4-1.5 .3 14.4 .3 24.4 .4-49.1 .3 1.7 .3 9.5 .4-10.3 .3 8.1 .3-11.8 .4 5.7 .3 23 .3-3.8 .4-22.7 .3 2.6 .3 7.3 .4 14.7 .3-5.3 .3-15.8 .4 1.3 .3 29.3 .3-14.5 .4-15.2 .3 9.1 .3-7.6 .4 10.1 .3-5.3 .3-5.6 .4 14.8 .3-12.3 .3 10.5 .4-14.5 .3-.2 .3 1.9 .4 22.6 .3-23 .3-3.7 .4-2.5 .3 6.1 .3-4.7 .4 13.9 .3-9.4 .3 40.7 .4-17.2 .3-16.6 .3 19 .4-15.4 .3 15 .3-29 .4 5.2 .3 1.2 .3-5 .4 11.6 .3-7.7 .3 1.7 .4-5.1 .3 4.7 .3 12.7 .4-17.1 .3 2.7 .3 10.4 .4-10.5 .3-7.3 .3 6.7 .4 .9 .3-2.8 .3-2.8 .4 3.5 .3-1.4 .3 3.2 .4 14.4 .3-16.2 .3 .4 .4 3.3 .3 5.4 .3-7.8 .4-4 .3-.5 .3 7.9 .4-.6 .3 7.9 .3-11.8 .4-.6 .3 .4 .3 12.6 .4 4.8 .3-5.2 .3-11.6 .4 15.7 .3-28.2 .3 7.8 .4 11.5 .3-1.5 .3-6 .4-3.2 .3 3.2 .3 10.8 .4-20.9 .3 16.5 .3-2.8 .4 27 .3-27.7 .3 5 .4-1.5 .3 4.8 .3 .3 .4-17 .3 4.9 .3 8.4 .4 3.6 .3 24.3 .3-33.8 .4-.3 .3-4.7 .3 .5 .4 10.6 .3-7.9 .3-3.8 .4 5.7 .3-.2 .3-2.5 .4 0 .3-1.7 .3 6.1 .4-7.1 .3 9.8 .3-2.8 .4 2.8 .3-13.9 .3 10 .4 1.9 .3 17 .3-9.6 .4 .1 .3 6.4 .3-20.5 .4 8.1 .3 12.7 .3-15 .4 13 .3-10.6 .3-6.2 .4 5.3 .3-5.4 .3 8.5 .4-4.4 .3 6 .3 1.2 .4-12.4 .3 3.9 .3-9 .4-.7 .3 18.1 .3 9.2 .4-8.6 .3-8.6 .3 5.8 .4 1 .3-8.4 .3 10.9 .4-11.8 .3-.3 .3 3.7 .4 16 .3-20.1 .3 15.1 .4-11.1 .3 .3 .3-2.8 .4 2.2 .3-10.4 .3 18.4 .4 17.7 .3-26.5 .3 11.9 .4-15.7 .3 1.1 .3-2 .4 3.8 .3-1.8 .3 23.7 .4-2.2 .3 13 .3-31.2 .4 4 .3-11.7 .3 5.8 .4-6.6 .3 15.2 .3-.9 .4 3.9 .3-6.4 .3-3.8 .4 11 .3-5.6 .3-3.2 .4 11.7 .3-13.9 .3 18.1 .4-19.8 .3-.5 .3-2.1 .4-3.3 .3 .9 .3 3.6 .4 2.1 .3-4.7 .3 3.6 .4 21.9 .3-24.3 .3 2 .4 .6 .3 28.8 .3-24.7 .4 28.4 .3-28 .3-5.4 .4-.2 .3-5.1 .3 7.7 .4 4.8 .3 5.7 .3-17.2 .4 13.6 .3 5.1 .3-5.7 .4 13.7 .3-17.7 .3 6.4 .4 1.7 .3 1.7 .3 5.8 .4-22.7 .3 28.5 .3-25.5 .4 12.2 .3-13.2 .3-3.4 .4 16.7 .3 11.2 .3 1.5 .4-29.3 .3-5.3 .3 1.4 .4 3.2 .3 12.8 .3-17.8 .4 1.2 .3 13.2 .3-14.2 .4 2.2 .3 2.1 .3-.1 .4-9.3 .5 16.4 .5-9.6 .5 .2 .5-2.2 .5 7.6 .5-12.5 .5 3.8 .5 3.3 .5-10.2 .5-1.8 .5-9.7 .5-5.7 .5 7.3 .5-3.3 .5-.3 .5-4.8 .5 8.6 .5 8.9 .5-19.4 .5-11 .5 7.4 .5-2.9 .5-4.9 .5-5.5 .5-11.2 .5 10.9 .5-1 .5-3.3 .5-4.1 .5-1.8 .5-13.9 .5-11.5 .5 6.2 .5-2.5 .5-5.4 .5 1.1 .5 13.8 .5 6.1 .5-11.9 .5-6.3 .5 2 .5 2.6 .5-1.6 .5 2.7 .5 3.6 .5-2.7 .5 .3 .5-18.4 .5-11 .5-7.6 .5-7.5 .5-5.3 .5-10.7 .5-6.6 .5-6.6 .5-15.5 .5-15.3 .5-13.1 .5-11.5 .2-6.7 .2-3.6 .2-9.4 .2-6.8 .2-7.1 .2-11.8 .2-9.3 .2-8.3 .2-19.8 .2-38.8 .2-124.7 0-21.7 .2 120.8 .2 54.5 .2 25.8 .2 14.4 .2 9.6 .2 5.6 .2 6.7 .2 11.4 .2 7.2 .2 5.6 .2 3.3 .2 5.1 .2 2.7 .5 14.2 .5 13.8 .5 12 .5 9 .5 9.2 .5 7.9 .5 6.2 .5 15.7 .5 7.2 .5 5.3 .5 8.2 .5 .2 .5-1.1 .5 4.9 .5 6.7 .5-4.6 .5-8.1 .5 3.5 .5 9 .5-2.7 .5 5.1 .5 7.8 .5-8.7 .5-5.6 .5 4 .5 3.6 .5-3.5 .5-1 .5 2.3 .5 10.2 .5 .9 .5 10 .5-5.2 .5-7.8 .5-7.8 .5-6.8 .5 8.7 .5 15.6 .5 .3 .5 4.6 .5 8.6 .5-4.5 .5 15.9 .5 17.1 .5-5.6 .5 2.9 .5-1.1 .5 7.9 .5-16 .5 .7 .5 22.7 .5-2.9 .5 6.1 .5-1.5 .5 3.3 .5-1.2 .5 1.2 .5 1.7 .5 9.9 .3-7.8 .3 .6 .4-4.9 .3 18.4 .3 7.3 .4-19.6 .3 20.7 .3-19.8 .4 2.5 .3 15.4 .3-22.9 .4 3.4 .3 9 .3-7.6 .4 15.7 .3-20.1 .3 5.5 .4 24.5 .3-24.4 .3 3.1 .4 19.8 .3-20.3 .3 22.1 .4-23.4 .3 21.3 .3-4.3 .4 21.1 .3-39 .3 20 .4-13.4 .3 0 .3 1.2 .4-4.8 .3 6.7 .3-9 .4 19 .3-13.4 .3 7.6 .4 1.4 .3-11.7 .3 3.2 .4 6.9 .3-12.3 .3 9.7 .4-16.6 .3 9.7 .3 7.8 .4-5.6 .3-5 .3-.8 .4 7 .3-13.4 .3 9.7 .4 4.8 .3 27.5 .3-17.5 .4-19.4 .3 5.7 .3-3.6 .4-.7 .3 2.2 .3 9.6 .4-16.6 .3 36.8 .3-1.1 .4-31 .3-3.7 .3 17.8 .4 3.4 .3-17.3 .3-3.6 .4 .3 .3 10.2 .3 21.4 .4 3.1 .3-11.9 .3-14.9 .4 3.1 .3-6.4 .3 20 .4-19.4 .3 13.9 .3 25.3 .4-40.5 .3-4 .3 15.1 .4 .5 .3-13 .3 32.3 .4-29.4 .3 20.2 .3-11.9 .4 19.5 .3-25.9 .3-12.9 .4 13.5 .3-4.8 .3 .4 .4-5 .3 12.4 .3-7.2 .4-1.2 .3 17.2 .3 14.5 .4-23.8 .3-4.1 .3-2.1 .4-9.7 .3 8.4 .3 33.6 .4-35 .3 4.8 .3 13.2 .4-25 .3 21.4 .3-10.6 .4 2.9 .3-7.1 .3 4.8 .4-6.9 .3 8.7 .3-.8 .4 15.7 .3-14.9 .3 10.3 .4-10.5 .3-.3 .3 15.7 .4-18.1 .3 11.3 .3 8.1 .4-18.5 .3-3.5 .3 3 .4-20.5 .3 28.5 .3-11.2 .4 10.7 .3-4.3 .3 5.4 .4-18.1 .3 9.8 .3-.8 .4 2.4 .3 4.6 .3-5.6 .4-2.9 .3-.7 .3 16.2 .4 6.1 .3-7.3 .3-15.1 .4 26.2 .3-24.3 .3 4.4 .4 6.8 .3-3.3 .3 8.8 .4-2.6 .3-15.9 .3 5.8 .4 .1 .3 9.8 .3-8.5 .4 4.6 .3-1.7 .3-5.3 .4-5.6 .3 6.3 .3-3.5 .4 22.5 .3-4 .3 2.3 .4-17.1 .3 14.8 .3-14.1 .4-6.6 .3 5.6 .3 5.2 .4-5.7 .3 11.2 .3-16.4 .4 3.7 .3-7.9 .3 5.9 .4-9.1 .3 7 .3-3.7 .4 26.1 .3-17.2 .3 14.2 .4-22.7 .3 19.5 .3-21 .4 8.2 .3 22 .3-13.9 .4-6.2 .3 28.9 .3-19.6 .4-8.2 .3-2.4 .3-1.2 .4 20 .3-16.3 .3 7 .4-8.7 .3 9.9 .3-12.1 .4 14.3 .3 19.6 .3-37.9 .4 1.7 .3 .5 .3 7.5 .4 3.6 .3 3.7 .3-14.8 .4 25 .3-13.6 .3-1.9 .4-9.2 .3-.4 .3 8.5 .4 35.2 .3-41 .3 2.5 .4-.9 .3 16.4 .3-17.5 .4 37.1 .3-35.6 .3 19.5 .4-8 .3-17.3 .3 1.5 .4 10.1 .3-2.2 .3 7.4 .4-9.6 .3 11.2 .3-16 .4 3.7 .3-1.1 .3-1.1 .4 .5 .3 .2 .3-1.8 .4 3.3 .3 10.2 .3-21.6 .4 8.4 .3 3.4 .3-.8 .4 9.5 .3-11.3 .3 19.3 .4-16.8 .3 14.2 .3 4.9 .4 1 .3-19.5 .3-4.7 .4 9.5 .3 .3 .3-16.7 .4 25.9 .3-15.7 .3 7.6 .4-10.4 .3-1.5 .3 16.7 .4-17.5 .3-1 .3 32.7 .4-27.6 .3-1.3 .3 12.3 .4 1.2 .3-4.2 .3 9.1 .4-17.9 .3-2.4 .3 .9 .4 5 .3 7.9 .3-12.1 .4 12.4 .3-3.5 .3-7.1 .4-1.7 .3 9.7 .3-5.5 .4 11.4 .3-16.9 .3 3.6 .4 13.3 .3-.1 .3-8.4 .4 11.7 .3-15.5 .3 3.2 .4-3.4 .3-1.3 .3 .9 .4 1.8 .3 10.8 .3-23.5 .4 3.2 .3 28.4 .3-23 .4 33 .3-22.7 .3 1.2 .4 2.9 .3-15.6 .3 4.8 .4-2.5 .3-7.4 .3 17.5 .4-11.5 .3 5.2 .3 9 .4-13 .3 9.7 .3-10.7 .4 25.1 .3-23 .3 9.1 .4 .7 .3-7.8 .3 1 .4 10.2 .3-.1 .3-10.3 .4 6.1 .3-9.1 .3 29.3 .4-28 .3-6.1 .3 7.2 .4 3.7 .3-2.9 .3-1.2 .4 .6 .3 13.4 .3-19.4 .4 25.1 .3-28 .3-5.5 .4 19.1 .3-9.3 .3 32.1 .4-19.5 .3-10.7 .3 22.5 .4-28.1 .3 6.5 .3-.3 .4 8.1 .3 1.4 .3 10.7 .4-16.4 .3-4 .3 17.6 .4-17.7 .3 2.2 .3 7.9 .4-1.2 .3 13.4 .3-15.2 .4-6.1 .3-8.7 .3 12.1 .4-2.3 .3 4.4 .3 16.9 .4-16.8 .3-7.1 .3 7.9 .4 6.8 .3-9.8 .3 9.2 .4-14.3 .3 14.1 .3-5.9 .4-15.3 .3 9.9 .3-10.5 .4 25 .3-4.8 .3-6.4 .4-6.5 .3 2.3 .3 8.1 .4-5 .3-3.2 .3-5.9 .4 5.8 .3-9.9 .3 4.2 .4 10 .3 5.1 .3-3.2 .4-11.1 .3 16.7 .3 1.3 .4 1.7 .3-21.3 .3 5.3 .4 3.2 .3 16.8 .3-10.2 .4-11.2 .3 7.6 .3 5.1 .4 1.9 .3 3.1 .3-17.1 .4-9.2 .3 23.5 .3-13.5 .4-3 .3 4 .3 7.2 .4-8.5 .3 31 .3-28.4 .4 5.6 .3-6.1 .3 .2 .4 2.2 .3 7.1 .3-15.3 .4 24.4 .3-3.4 .3-19.6 .4 14.6 .3 .2 .3-17.2 .4 6.3 .3-8.2 .3 9.2 .4-7.9 .3 .1 .3 37.5 .4-31 .3 1.2 .3-1.3 .4 .5 .3-3.8 .3 4.3 .4 3.9 .3-2.3 .3 12.1 .4 5.4 .3-20.5 .3 11.9 .4 3.6 .3-.2 .3-23.5 .4 20.8 .3-11.2 .3 25.1 .4-13.3 .3-10.8 .3 14.3 .4-2.5 .3-9.6 .3 5.1 .4-21.7 .3 16.1 .3-6.7 .4 7.9 .3 14.4 .3-11.7 .4 4.9 .3-8.9 .3-11.7 .4 34.5 .3-15.5 .3-6.1 .4-2.8 .3-4.6 .3 3.3 .4-2.8 .3-1.6 .3 3.8 .4 26.7 .3-12.1 .3-14.3 .4-3.1 .3 3.4 .3 .4 .4 6.8 .3-3.4 .3-4.2 .4-2.9 .3 1.6 .3-8.6 .4 2.1 .3 8.3 .3-11.7 .4 29.6 .3-19.8 .3-4.5 .4 13.2 .3-15.6 .3 5.2 .4 4.4 .3 22.1 .3-5.1 .4-4.3 .3-13.2 .3 .9 .4-.5 .3-6.8 .3 16.8 .4-1.6 .3-9.6 .3 16.8 .4-4.9 .3 13 .3-5.1 .4-8.7 .3 7.9 .3-18.2 .4-4.3 .3 2.1 .3-5.6 .4 22.2 .3-2.7 .3-11.2 .4-4.1 .3 5.9 .3 4.1 .4-9.7 .3 21.1 .3-14.9 .4-.8 .3-10.7 .3 18 .4 5.4 .3-15.4 .3 2.3 .4 28.8 .3-40.3 .3 14 .4-5.4 .3 .2" fill="none" stroke="#fde725" stroke-width="2.8" stroke-linejoin="round" stroke-linecap="square" clip-path="url(#cb)"/>
<rect x="1171.0" y="40.9" width="720.8" height="626.4" fill="none" stroke="#000" stroke-width="1.55"/>
<path d="M1257.6 667.3 v5.7 M1372.8 667.3 v5.7 M1488.1 667.3 v5.7 M1603.3 667.3 v5.7 M1718.5 667.3 v5.7 M1833.8 667.3 v5.7 M1171 111 h-5.7 M1171 213.8 h-5.7 M1171 316.7 h-5.7 M1171 419.5 h-5.7 M1171 522.4 h-5.7 M1171 625.2 h-5.7" stroke="#000" stroke-width="1.55" fill="none"/>
<text class="s" transform="translate(1257.6 701.7) scale(1 1.07)" font-size="32.3" text-anchor="middle">1537.4</text>
<text class="s" transform="translate(1372.8 701.7) scale(1 1.07)" font-size="32.3" text-anchor="middle">1537.6</text>
<text class="s" transform="translate(1488.1 701.7) scale(1 1.07)" font-size="32.3" text-anchor="middle">1537.8</text>
<text class="s" transform="translate(1603.3 701.7) scale(1 1.07)" font-size="32.3" text-anchor="middle">1538.0</text>
<text class="s" transform="translate(1718.5 701.7) scale(1 1.07)" font-size="32.3" text-anchor="middle">1538.2</text>
<text class="s" transform="translate(1833.8 701.7) scale(1 1.07)" font-size="32.3" text-anchor="middle">1538.4</text>
<text class="s" transform="translate(1159.9 122.6) scale(1 1.07)" font-size="32.3" text-anchor="end">−20</text>
<text class="s" transform="translate(1159.9 225.4) scale(1 1.07)" font-size="32.3" text-anchor="end">−30</text>
<text class="s" transform="translate(1159.9 328.3) scale(1 1.07)" font-size="32.3" text-anchor="end">−40</text>
<text class="s" transform="translate(1159.9 431.1) scale(1 1.07)" font-size="32.3" text-anchor="end">−50</text>
<text class="s" transform="translate(1159.9 534) scale(1 1.07)" font-size="32.3" text-anchor="end">−60</text>
<text class="s" transform="translate(1159.9 636.8) scale(1 1.07)" font-size="32.3" text-anchor="end">−70</text>
<text class="s" transform="translate(1531.4 736.8) scale(1 1.07)" font-size="32.3" text-anchor="middle">Wavelength, nm</text>
<text class="s" transform="translate(1097.6 354) rotate(-90) scale(1 1.07)" font-size="32.3" text-anchor="middle">Power, dBm</text>
<text class="a" transform="translate(1171.2 24.8)" font-size="33.2">(b)</text>
<rect x="1936.3" y="40.9" width="31.200000000000045" height="626.1" fill="url(#vg)"/>
<rect x="1936.3" y="40.9" width="31.200000000000045" height="626.1" fill="none" stroke="#000" stroke-width="1.55"/>
<text class="s" transform="translate(1978.6 678.2) scale(1 1.07)" font-size="32.3">30.0</text>
<text class="s" transform="translate(1978.6 599.9) scale(1 1.07)" font-size="32.3">32.5</text>
<text class="s" transform="translate(1978.6 521.7) scale(1 1.07)" font-size="32.3">35.0</text>
<text class="s" transform="translate(1978.6 443.4) scale(1 1.07)" font-size="32.3">37.5</text>
<text class="s" transform="translate(1978.6 365.1) scale(1 1.07)" font-size="32.3">40.0</text>
<text class="s" transform="translate(1978.6 286.9) scale(1 1.07)" font-size="32.3">42.5</text>
<text class="s" transform="translate(1978.6 208.6) scale(1 1.07)" font-size="32.3">45.0</text>
<text class="s" transform="translate(1978.6 130.4) scale(1 1.07)" font-size="32.3">47.5</text>
<text class="s" transform="translate(1978.6 52.1) scale(1 1.07)" font-size="32.3">50.0</text>
<path d="M1967.5 667 h5.4 M1967.5 588.7 h5.4 M1967.5 510.5 h5.4 M1967.5 432.2 h5.4 M1967.5 353.9 h5.4 M1967.5 275.7 h5.4 M1967.5 197.4 h5.4 M1967.5 119.2 h5.4 M1967.5 40.9 h5.4" stroke="#000" stroke-width="1.55" fill="none"/>
<text class="s" transform="translate(2064.8 354) rotate(-90) scale(1 1.07)" font-size="32.3" text-anchor="middle">Current, mA</text>
</svg>
</body></html>
